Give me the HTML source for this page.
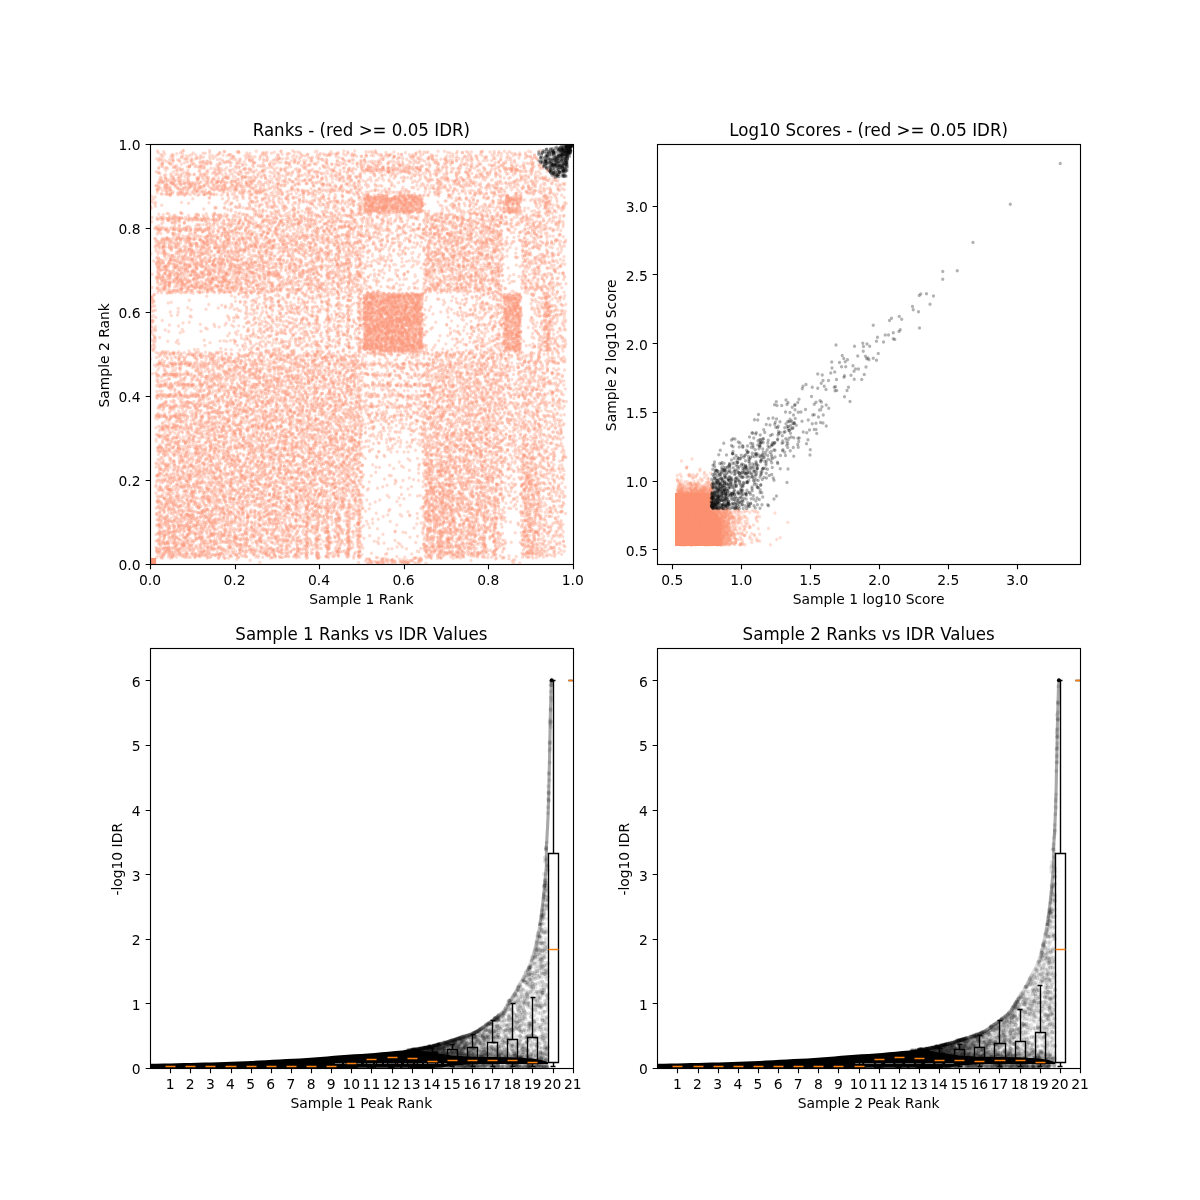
<!DOCTYPE html>
<html><head><meta charset="utf-8"><title>IDR plots</title>
<style>
html,body{margin:0;padding:0;background:#fff}
svg{display:block}
.t10{font:13.889px "DejaVu Sans","Liberation Sans",sans-serif;fill:#000}
.t12{font:16.667px "DejaVu Sans","Liberation Sans",sans-serif;fill:#000}
.sp{fill:none;stroke:#000;stroke-width:1.111;stroke-linejoin:miter}
.tk{fill:none;stroke:#000;stroke-width:1.111}
</style></head><body>
<svg width="1200" height="1200" viewBox="0 0 1200 1200">
<rect width="1200" height="1200" fill="#fff"/>
<defs><clipPath id="c1"><rect x="150" y="144" width="422.73" height="420"/></clipPath><clipPath id="c2"><rect x="657.27" y="144" width="422.73" height="420"/></clipPath><clipPath id="c3"><rect x="150" y="648" width="422.73" height="420"/></clipPath><clipPath id="c4"><rect x="657.27" y="648" width="422.73" height="420"/></clipPath></defs>
<g clip-path="url(#c1)"><rect x="150" y="557.91" width="6.13" height="6.09" fill="#fc9677"/><g transform="scale(0.25)" fill="none" stroke="#fc9272" stroke-opacity=".33" stroke-width="13.2" stroke-linecap="round" stroke-linejoin="round"><path d="M1994 613zm-3 8zm-126-15zm-140 13zm-13-11zm-21 10zm-9 5zm-218-16zm-90 9zm-21-4zm-3 2zm-146 4zm-29 4zm-17-8zm-9 6zm-98-9zm-212-9zm-184 5zm-25-3zm53 23zm36 19zm7-17zm11 7zm27 10zm17-10zm46 9zm106-20zm23 20zm4-10zm37-10zm13 13zm99 1zm61-12zm27 6zm70-5zm41 16zm61-10zm109 13zm35-3zm18-14zm6-2zm41-2zm169 15zm17-4zm19 4zm4-16zm13 1zm10 0zm75 6zm5 7zm90-4zm52-10zm99 9zm18 4zm8 25zm-33-12zm-42 16zm-167-7zm-7 2zm-24 4zm-103-7zm-63 0zm-3-7zm-48 19zm-23-2zm-1-19zm-2 17zm-30-11zm-8 4zm-71 10zm-75-15zm-11 5zm-2-7zm-91 9zm-25-5zm-96 4zm-4 3zm-7 6zm-69-18zm-9-4zm-41 4zm-13 18zm-11-11zm-2 11zm-36-7zm-25-11zm-60 18zm-6-20zm-3 2zm-48-1zm-30 13zm0-5zm-25-4zm-10-2zm-31 10zm-52-14zm-50 19zm-49-3zm8 10zm4 7zm197 5zm42 6zm46-2zm50-17zm40 17zm42-3zm30 2zm13-15zm206 5zm21 13zm23-20zm35 12zm87-4zm1 12zm16-12zm4-3zm33 9zm7 0zm34-13zm0 21zm16-13zm32-6zm15 3zm7 2zm45-4zm40 11zm44 6zm18-20zm26 21zm34-22zm43 10zm13 12zm6-4zm53-2zm78 1zm104-16zm5 0zm23 7zm20 15zm12 23zm-42-11zm-40 4zm-200-2zm-34-4zm-30 1zm-25 12zm-108-18zm-20 19zm-142-18zm-7 11zm-46 1zm-102-5zm-26-6zm-12 9zm-23-5zm-12-9zm-6 8zm-19 0zm-1 10zm-81-12zm-47-1zm-8 1zm-47-7zm-16 6zm-24 13zm-10-8zm-16-2zm-18 8zm-46-10zm-101 9zm-88-12zm-2 9zm-47-13zm-55 3zm-39 2zm-22 10zm-20-4zm4 13zm57 2zm2 17zm9-18zm12 15zm30-4zm11 6zm32-10zm29-2zm38 4zm32 10zm33-2zm25-9zm43 9zm8-8zm106 3zm12 9zm3-2zm10-6zm69-11zm47 19zm14-11zm62-3zm42-4zm62-2zm29 4zm37 10zm10 7zm24-23zm143 1zm81 16zm41 3zm21-15zm35 13zm21 4zm19-10zm54 9zm4 1zm2-7zm22 7zm6-13zm2 8zm91-15zm50 4zm17 8zm82-13zm23 33zm-48-3zm-27 1zm-31-8zm-27 13zm-8 8zm-128-16zm-27-4zm-26 4zm-2 2zm-65 10zm-3-13zm-59 11zm-44-1zm-18-4zm-123-6zm-57 7zm-90 12zm-63-5zm-41-13zm-18-2zm-6-1zm-5 18zm-5-9zm-12 3zm-84 4zm-108-3zm-41-7zm-44 13zm-23-11zm-27-10zm-24 0zm-78 12zm-27 2zm-63-11zm-17 8zm-27 5zm-7-15zm-26 12zm-10-9zm-47 12zm1 16zm20-3zm38-3zm70 10zm11-13zm20 9zm2-5zm14-4zm100 11zm89 9zm66-7zm15 1zm16-5zm91-6zm35 2zm13 6zm80 9zm27-1zm60-18zm39 14zm37 8zm28-3zm13-6zm35 4zm7-2zm4 0zm4-12zm2 11zm13 5zm25 1zm25-5zm15 3zm61-17zm3 9zm11 0zm73 13zm13 0zm61-9zm36-6zm47 1zm50 9zm11 4zm22-2zm55-15zm103 15zm-39 5zm-62 8zm-39-6zm-9 12zm-22-9zm-3 12zm-12-9zm-4 2zm-8-5zm-14 10zm-8-11zm-30 6zm-20-10zm-73 12zm-14-11zm-30-1zm-23 22zm-122 0zm-2-19zm-5 11zm-8 4zm-15 4zm-4-13zm-12 9zm-14-16zm-10 11zm-15 7zm-25-10zm-6-6zm-1 6zm-2-3zm-3-2zm-1 6zm-2 2zm-21-14zm-8 8zm-27-5zm-1 1zm-4 0zm-9-4zm-15 22zm-8-19zm-57 10zm-8-6zm-10-1zm-28 3zm-25 4zm-46-6zm-50 3zm-34-9zm-84 16zm-38-7zm-76 6zm-104-6zm-303 6zm-9 26zm1-9zm318-8zm147-1zm62 4zm19 12zm26 2zm4 0zm1 5zm59-7zm5 1zm59-8zm10 7zm85-14zm64 21zm13-17zm1-1zm17 6zm12-1zm1 3zm7-2zm19 10zm5-10zm6-11zm3 14zm18-5zm22-1zm1 9zm0-8zm1 7zm9-3zm2 5zm4-4zm4 4zm29-3zm1-13zm9-3zm1 10zm5 7zm38-14zm112 2zm9 4zm18 11zm8-19zm59 10zm36-3zm7-7zm17 10zm6-2zm65 9zm6-3zm6 8zm6-4zm24-7zm0-10zm10 18zm2-5zm73 19zm-72-5zm-14-4zm-18 8zm-1-7zm-3 5zm-30 2zm-9 14zm-108-14zm-102 9zm-37-2zm-15 5zm-58-15zm-48-5zm-51 4zm-18 5zm-12 8zm-4-12zm-8 2zm-12-7zm-2 1zm-87 17zm-38-16zm-32 1zm-32-3zm-149 10zm-151 11zm-100-13zm-242 12zm-61 14zm4 3zm27-2zm4 2zm38 5zm1-14zm35 7zm6 6zm27-13zm11 9zm13 1zm17 7zm47-1zm60-4zm84 0zm192 5zm49-5zm29 4zm107-20zm27 18zm4-2zm23-5zm157 8zm3 2zm42-17zm57-3zm2 1zm51 18zm59-15zm14 1zm78 1zm60 13zm15-6zm24-11zm19 2zm23 11zm40 6zm20-11zm39 9zm95 3zm10-2zm-63 5zm-67 18zm-123-6zm-2 2zm-11-4zm-25 9zm-22-1zm-32-17zm-17 13zm-16-5zm-26-8zm-38 1zm-11 4zm-28-8zm-42 15zm-49-6zm-89 6zm-71-5zm-46-6zm-47-2zm-30 7zm-17 7zm0-11zm-16 13zm-37-17zm0 15zm-20-13zm-69 15zm-45-10zm-57-3zm-19 0zm-4 10zm-26 2zm-56-1zm-39-10zm-96 1zm-2-2zm-19 15zm-49-15zm-37 4zm-50 13zm-40-23zm-11 3zm-46 27zm21-1zm54 17zm2-8zm0-2zm16-7zm10 1zm19 1zm61-3zm79 11zm2 0zm26-3zm15 9zm34-12zm30 14zm30-13zm59 2zm4-3zm23 6zm8 5zm183-7zm117 6zm5-2zm7 4zm30 2zm83-9zm55 1zm58-14zm19 6zm13 8zm16-12zm1 21zm22-1zm6-19zm40 2zm34 10zm19 3zm1-9zm13-6zm0 3zm11 11zm58 1zm76 2zm112-1zm23-6zm104 12zm-19 20zm-9-13zm-25 6zm-53 1zm-183 0zm-10 5zm-95-2zm-12-5zm-36 7zm-42-8zm-5-5zm-10-6zm-3 15zm-23-9zm-25 7zm-5-2zm-56 5zm-75-15zm-9 8zm-157 9zm-40-13zm-5 5zm-3 11zm-90-18zm-28 9zm-9-1zm-3-7zm-8 9zm-15-7zm-41 0zm-10-1zm-90-2zm-44 1zm-4 10zm-26 7zm-28-15zm-31 12zm-9 1zm-35-3zm-27 3zm-14-14zm-38 0zm-25-6zm-7 14zm-6-3zm-31 8zm-28-14zm-67 21zm29 10zm22 8zm76-15zm20 8zm11-1zm21 0zm8-7zm2 8zm51 3zm29 5zm1-8zm0-6zm63 4zm114 2zm48-10zm5 3zm76 13zm43-11zm45 2zm5-8zm40 8zm54-11zm161 5zm14 17zm7-8zm30-3zm5 4zm224-4zm14 0zm65-8zm9 7zm52-8zm85 4zm21-6zm44 9zm39 13zm46-12zm25 26zm-45 4zm-29-7zm-7-4zm-163 3zm-185 3zm-14 9zm-35 1zm-40-7zm-17 3zm-1-5zm-95-10zm-124 15zm-45 5zm-3-2zm-15 3zm-1-11zm-17 3zm-34 1zm-9-14zm-4 12zm-80 7zm-26-17zm-45 6zm-72-4zm-9 6zm-155 4zm-2-1zm-35 5zm-7-20zm-16 9zm-56 11zm-19 3zm-48 0zm-3-3zm-9-7zm-32-11zm-17 13zm-64-13zm-13 10zm-16 9zm32 3zm85 14zm21 1zm37-1zm7-6zm25-5zm45-2zm82 13zm21-14zm46 18zm76-3zm62-1zm12 5zm130 4zm46-19zm36 9zm12 0zm91 3zm0-7zm68 0zm156 12zm7-12zm53-2zm78 16zm49-21zm29 12zm21-4zm2-1zm109 11zm169 23zm-4-8zm-16 3zm-29 1zm-65-2zm-24-12zm-144 23zm-33-16zm-53-2zm-11 7zm-35 3zm-41-14zm-25 5zm-19 2zm-3 10zm-7-10zm-16-4zm-30 11zm-27-16zm-121 1zm-59 14zm-77-10zm-38 0zm-3 18zm-4-12zm-39-4zm-20 8zm-49 0zm-137 6zm-32-3zm-59 4zm-25-2zm-91-14zm-11 15zm-13-4zm-2-1zm-15 3zm-19-6zm-7-6zm-24 7zm-42-5zm-6 0zm-23-4zm-5 12zm-48 5zm-44-18zm-1 12zm-9 6zm7 18zm7-13zm0 20zm20-15zm14 2zm27 0zm19 14zm38-15zm3-3zm23-4zm28 8zm10 11zm4-2zm5-15zm3 15zm27-15zm56 16zm12-4zm12-6zm1 10zm30-19zm24-1zm4 14zm35-6zm19 2zm19-4zm14 9zm36-14zm35 14zm44-6zm7-2zm40 15zm17 0zm8-11zm12 12zm92-2zm45-7zm16-14zm215 5zm41-5zm100 8zm17-4zm23 3zm36-3zm18 9zm13 3zm45-8zm37 5zm10 3zm119 2zm36-4zm68-9zm22 5zm17 37zm-81 0zm-7-1zm-70-2zm-87 1zm-18-18zm-29 12zm-36 6zm-25-10zm-174 9zm-20-7zm-91 2zm-35-1zm-139-4zm-9 4zm-5 9zm0-16zm-29 7zm-148 1zm-81-13zm-56 16zm-27 1zm-15 3zm-91 1zm-46-1zm-5-6zm-14 2zm-19 4zm-24-8zm-1-2zm-68-4zm-38-5zm-88 21zm-23-9zm-12 17zm2 11zm64-16zm9 18zm55-10zm11 1zm20 10zm4-17zm16 13zm43-2zm44 3zm41-3zm58-9zm8-4zm16 5zm24 0zm91 3zm12 9zm19-11zm150 12zm89-14zm137 6zm58 0zm107-11zm71-1zm21 3zm58 3zm11 3zm3-9zm16 13zm35-5zm31 7zm14-4zm11-9zm82-1zm16 17zm39-3zm2-6zm7-4zm35 12zm55 11zm-50 12zm-59 3zm-20-15zm-2 4zm-106-4zm-5-1zm-27 20zm-117-15zm-40 11zm-52-12zm-15 15zm-5-22zm-32 3zm-4 13zm-32-14zm-65 10zm-13-7zm-231 14zm-3-15zm0-2zm-25 3zm-46 17zm-1-10zm-33-1zm-9-7zm-16 4zm-10 6zm-53-12zm-2 3zm-35 10zm0 6zm-1 1zm-34-16zm-84-3zm-16 5zm-46 7zm-78-2zm-12 8zm-3-18zm-10 14zm-6 2zm-14-14zm-116 7zm-3 6zm-20 0zm-5-10zm-5-7zm-34 25zm3 5zm1-5zm23 5zm13 4zm16 4zm21-8zm16 6zm101-5zm13-5zm6 3zm48 11zm60 4zm6-11zm3-11zm49 1zm19 15zm35-2zm16-8zm76 11zm23 2zm2-10zm11-5zm2 7zm30 1zm76-4zm34-6zm62 14zm1-5zm40 11zm28-4zm41-5zm97 10zm99-17zm32 3zm50 3zm6-12zm20 9zm16 7zm18-2zm20-4zm35-8zm2 0zm9 6zm23 5zm82-12zm85 7zm28-5zm9 6zm73 0zm42 33zm-47 3zm-17-9zm-13 6zm-45-12zm-50 12zm-2-6zm-4-10zm-9 8zm-4 8zm-12-7zm-7 12zm-3-10zm-7 6zm-32-13zm-21 6zm-76-2zm-37-10zm-183 8zm-2 9zm-6-6zm0 5zm-10-14zm-3 15zm-5-5zm-17 0zm-4 9zm-1-1zm-5-10zm-28-8zm-1 5zm-2 0zm-7 4zm-11-6zm-4 5zm-8 1zm-10-8zm0 15zm-4-18zm-1 18zm-2-10zm-5 1zm0 12zm-2-13zm-5 8zm-4-13zm0 12zm-5 6zm-11-18zm-33 17zm-1-7zm-6-10zm-3 0zm-2 15zm-2-12zm-7 6zm-3 6zm-9 0zm-25-6zm-37-2zm-45 7zm-13-17zm-22 20zm-80-9zm-310-4zm-324 10zm3 11zm10 0zm142-3zm298 13zm60 7zm33-10zm287 7zm41 0zm1-5zm3 11zm0-12zm27-4zm3 5zm3 0zm3-1zm5 5zm0-13zm1 15zm6-5zm3-4zm16-5zm1 12zm10-13zm3 6zm2-10zm3 2zm4 8zm5-4zm5 5zm48 10zm16-9zm3-2zm16 13zm4-9zm7-9zm9-4zm123 2zm87 19zm28-6zm24-2zm42-13zm37 18zm32-5zm12 7zm2-8zm110 6zm13-4zm26 7zm42 23zm-16-2zm-50-11zm-18 1zm-40 2zm-65 0zm-10-9zm-2 21zm-8 1zm-1-5zm-11-7zm0-1zm-18 13zm-13-21zm-70 11zm-254-11zm-25 6zm-14-5zm-19 1zm-33-1zm-16 14zm-3-17zm-14 18zm-27 0zm-5-11zm-10 9zm-2 1zm-15-1zm-14-4zm-14-2zm-16-2zm-133-8zm-46 15zm-32 4zm-27 3zm-17-4zm-15-7zm-13 0zm-43 0zm-42 3zm-39 6zm-21-11zm-1-10zm-12 15zm-30-5zm-274 14zm-99-4zm9 26zm287-6zm109 6zm53-5zm9 6zm75-2zm93-7zm124 9zm22-5zm48-6zm23-12zm29 3zm46 8zm6-6zm11 18zm0-8zm2-14zm4 18zm11-4zm3 1zm7-16zm37 14zm33 0zm16-12zm15 3zm5 5zm165-6zm24 8zm13-5zm125 5zm8-4zm21 3zm3 6zm9 4zm10-13zm81 6zm26 2zm9-13zm14 11zm-14 32zm-108-10zm-18-7zm-2 11zm-25 7zm-69-22zm-274 15zm-5 1zm-6 6zm-9-18zm-10 18zm-20-7zm-13-10zm-8-6zm-9 2zm-5 1zm-2 14zm-17-15zm-11 7zm-41 4zm-1-11zm-4 11zm-1 3zm-1-4zm-29 0zm-14 5zm-3 6zm-9-4zm-3-16zm-4 9zm-2 0zm-69-1zm-37 3zm-40 0zm-1-1zm-102-10zm-57 19zm-13-10zm-69 10zm-157-15zm-310 12zm477 11zm65 6zm37-1zm77-10zm14 11zm22 0zm10-4zm101 0zm33-3zm27 14zm4-12zm1 13zm25-9zm12-10zm1 11zm8-3zm1 11zm12-17zm14 9zm23 3zm13-5zm7-5zm6 12zm25-14zm2 1zm3 2zm3-2zm6 7zm5-8zm24 15zm13 1zm1 0zm51-5zm238 4zm37-15zm6 13zm5 4zm6 3zm2-5zm9-17zm0 8zm9 7zm4-12zm20 2zm8 16zm3-19zm0 18zm84-9zm5-11zm22 13zm9 10zm34 9zm-16 8zm-2-16zm-21 12zm-13-1zm-26 3zm-69-8zm-5 14zm0-12zm-5-7zm-11-1zm-10 5zm-2 11zm-7-12zm-28 14zm-20 2zm-287-14zm-9 13zm-36 3zm-5-6zm-7 2zm-13-13zm-1 7zm-5-1zm-22 1zm-1 8zm-3-10zm-4-5zm-26-4zm-2 3zm-8-4zm-9 7zm-19 12zm-21-3zm-12-9zm-4 1zm-22-1zm-13 16zm-11-2zm-38-7zm-46 5zm-59-9zm-2 2zm-3-11zm-135 18zm-64-3zm-497 27zm99-3zm196 5zm33-2zm219-2zm0 0zm2 2zm40-9zm86 11zm31-19zm140 4zm2 5zm4-5zm8 8zm16-10zm4 15zm12-5zm8-10zm5 11zm9 2zm6-1zm3-1zm12 8zm3-12zm1-6zm16 4zm33 12zm1-17zm11 8zm20 10zm2-13zm31-7zm17 9zm0-7zm4 18zm243-12zm51 6zm9-6zm41-9zm28 8zm5 8zm3 2zm2-18zm110 22zm14-18zm15 5zm53 30zm-27 2zm-37 1zm-2-6zm-1 3zm-1-6zm-112 6zm-4-8zm-40 8zm-5-6zm-5 12zm-11-14zm-159 0zm-168 15zm-10-4zm-29-6zm-7 0zm-12 4zm-12-1zm-3 1zm-4-12zm-10-4zm-3 15zm-11-13zm-8 18zm-9-21zm-23 6zm-6 13zm-18 1zm-32-13zm-4 6zm-1 0zm-4 4zm-6 5zm-2-8zm-5 4zm-2-14zm-3 17zm-5-13zm-4 6zm-12 4zm-45 0zm-41-7zm-1 2zm0-4zm-11-9zm-18 16zm-19-14zm-39 12zm-22 5zm-39 4zm-1-21zm-55 18zm-89-14zm-14 12zm-438-5zm45 32zm9-2zm7-5zm3 6zm18 0zm129-4zm46 4zm9-5zm122 6zm34-21zm34 11zm11 10zm13-1zm12-5zm15 4zm52 2zm1-10zm79 2zm22 4zm12-8zm114 6zm40 3zm4-2zm80-5zm1-5zm1-1zm24-4zm1 12zm9 5zm6 3zm2-17zm31-5zm13 6zm40-2zm4 4zm6 6zm2-1zm1-4zm3-7zm13 0zm32 20zm60-18zm66 17zm15 2zm3-4zm25 0zm58-2zm9 4zm5-17zm4 3zm40 0zm8 12zm24-11zm3-3zm48 3zm57 13zm29-16zm27 9zm25-12zm-64 40zm-81 0zm-4-14zm-32 13zm0-15zm-13 16zm-89-9zm-84-8zm-13 14zm-37-9zm-54 15zm-2-16zm-47-2zm-234 5zm-90 6zm-14-10zm-28 5zm-84 14zm-46-18zm-1 14zm-24-15zm-24 10zm-2-7zm-25 15zm-8-17zm-33 5zm-87 12zm-4-14zm-80 2zm0 1zm-1 10zm-13-3zm-47-7zm-50-8zm-21 13zm-3-3zm-3-8zm-21-4zm-67 22zm-2-7zm-41 17zm112 13zm5-6zm27-7zm14 11zm28 2zm41 0zm147-2zm82-10zm95 12zm9-20zm60 22zm41-21zm15 13zm26-2zm69 4zm34-15zm88 19zm78-8zm48 7zm47-3zm6-3zm82 6zm106-6zm21 8zm12-5zm0 1zm15-6zm95-1zm97 2zm64-9zm50 35zm-43-5zm-144-5zm-46-3zm-39 3zm-44-1zm-21 9zm-10 9zm-10-9zm-10 1zm-18-11zm-4 4zm-71-5zm-22 19zm-11-4zm-40-5zm-53 2zm-18 2zm-40-8zm-212-2zm-23-2zm-1-2zm-167 18zm-3-19zm-13-1zm-119 2zm-37 7zm-58-5zm-8-2zm-51 9zm-11 6zm-32-14zm-43 18zm-1-7zm-2-4zm-14-5zm-35 14zm-93-13zm-55 33zm22-6zm11-5zm23 5zm29 10zm18-12zm12 2zm96 2zm26-6zm31 7zm4-10zm36 20zm74-8zm25 8zm87-16zm17 8zm23-3zm11 3zm28 7zm19-9zm13-9zm15 13zm10 5zm7-10zm13 9zm1-16zm0 13zm45-1zm14-12zm10 1zm28-4zm24 9zm7 0zm11 9zm63-9zm7 9zm2-15zm1 3zm60 2zm5-4zm33 6zm73 5zm3-5zm72 3zm25 5zm2-11zm17-7zm26 21zm26-6zm74-17zm36 5zm175 0zm9 15zm32-2zm12 6zm33-21zm14 15zm2-8zm-1 15zm-4 18zm-26 3zm-29-1zm-16-8zm-68 8zm-17-8zm-92-7zm-16 0zm-16 2zm-66-4zm-5 2zm-59 0zm-4 9zm-13-15zm-19 12zm-6-3zm-144 14zm-75-5zm-96 5zm-53-6zm-168-3zm-16-11zm-97 3zm-12 8zm-13-7zm-72-7zm-27 16zm-18 0zm-52 8zm-73-5zm-6-12zm-64 1zm-17-6zm-35 2zm-23 14zm-47 10zm14 12zm6-15zm6 12zm32-12zm2 3zm120 9zm36 6zm7-8zm67 2zm9 6zm52-10zm3 4zm2-12zm8 1zm37 20zm11-8zm7-4zm173-7zm37 17zm32-4zm8-14zm28 15zm0-1zm85 7zm13-15zm37 13zm38 2zm14-6zm11-8zm17 13zm12-17zm59 6zm60-9zm23 21zm9-8zm13-1zm30-13zm241 9zm0-5zm17-2zm18-3zm1 3zm14 18zm28-6zm7 5zm1-10zm44-2zm22-3zm60-2zm21 1zm-45 28zm-51 7zm-35 1zm-47 7zm-95-15zm-68-7zm-12 19zm-1-11zm-77-4zm-3 0zm-8 15zm-43-14zm-54 12zm-4 0zm-19 3zm-87 3zm-143-10zm-29 3zm-29-7zm-12-8zm-72 4zm-37 8zm-20 0zm-41-11zm-2 5zm-41 15zm-1-12zm-23 2zm-4-8zm-12 6zm-9-10zm-16 19zm-19-14zm-24-6zm-77 22zm-12-11zm-18 5zm-30-9zm-21 5zm-41-11zm-33 8zm-8 11zm-72 4zm-35-4zm-10-14zm-13 16zm-3-21zm-20 18zm-30 4zm-8-19zm-1 20zm7 1zm30 0zm15 1zm64 4zm41 12zm2-10zm15 6zm3-7zm44-7zm1 9zm8 8zm20-3zm3 4zm94-16zm29 4zm18-2zm24 8zm14 10zm44-9zm10-3zm12-1zm3 2zm2 9zm24-14zm45 1zm1 4zm6 10zm38-1zm104-12zm20-2zm25 4zm1 1zm6-2zm21-5zm46-1zm7-1zm17 1zm47 20zm61-22zm22 1zm13 10zm22-8zm57 2zm30 10zm19 1zm65 1zm83-10zm82 14zm16-7zm35-5zm184 34zm-61-7zm-39 8zm-29-9zm-37-4zm-58 0zm-7 7zm-60-15zm-38 12zm-2-3zm-19-7zm-32-1zm-36 19zm-1 3zm-9-15zm-7 10zm-55 5zm-36-3zm-11-19zm-2 8zm-11 6zm-49-4zm-12 10zm-82 2zm-54-8zm-8 0zm-24-4zm-9 9zm-49 4zm-26-14zm-56 3zm-26-8zm-94 5zm-127-5zm-43 10zm-6-13zm-73 6zm-16 15zm-28-16zm-53 1zm-26-2zm-6 8zm-73 2zm-12-14zm-43 17zm-2-15zm-10 17zm-34-12zm-14 15zm5 2zm0 1zm105 5zm103-7zm9 16zm1-5zm85 0zm34-6zm112 0zm2 13zm27 4zm48-7zm9 1zm14-17zm15 1zm25 9zm58-5zm2 9zm43-3zm22 0zm17 8zm66-11zm24-4zm1 5zm27 10zm142 4zm11-18zm67-3zm25 19zm78-7zm20-6zm3-5zm29 19zm59-20zm118 12zm140-10zm32 30zm-43 12zm-10 1zm-25-22zm-1 4zm-52 15zm-71-10zm-37-5zm-43 9zm-61-9zm-22 2zm-54 15zm-26-9zm-5 9zm-42-9zm-5 9zm-28-14zm-60 5zm-51-3zm-36-5zm-11-1zm-31 12zm-21-6zm-5-7zm-20 19zm-20-19zm-17 5zm-110-1zm-157-5zm-30 22zm-1-15zm-12 10zm-13 5zm-5-20zm-61 8zm-134 8zm-84-2zm-60-6zm-66 3zm-54-12zm-4 4zm72 39zm12-16zm16 1zm9 2zm11-1zm20-6zm29 17zm11-9zm39-1zm9 6zm86-5zm6 10zm92-10zm11 12zm1 0zm75-2zm32-4zm41-13zm6 17zm19-9zm11-9zm113 13zm23-7zm6 12zm30-13zm139 0zm191-1zm23 16zm43-10zm91 8zm12-12zm103 1zm3 3zm83-1zm15 9zm31-3zm17 2zm79 5zm-40 13zm-82 5zm-30-2zm-79 5zm-21-17zm-7 9zm-34-6zm-18 16zm-103-3zm-11-17zm-35 20zm-33-19zm-17 4zm-11 2zm-22 7zm-25-5zm-143 10zm-115-1zm-15-1zm-258-4zm-27-4zm-21-11zm-4 7zm-81-3zm-18 10zm-24 5zm-41-4zm-28-14zm-4 9zm-50-11zm-126 0zm-15 3zm-27 6zm-21 5zm-21 23zm46 1zm23 9zm57-22zm30-1zm92 22zm48 0zm7-4zm32 2zm41-6zm8-3zm29-3zm8-5zm37 18zm50-2zm9 0zm14-18zm7 5zm37 15zm17-15zm4 13zm3-17zm12 10zm56 4zm10-13zm118 6zm18 5zm246-6zm51-4zm1 13zm5-10zm8 0zm83 13zm31-12zm27-4zm20-3zm27 16zm5-8zm16 14zm16-13zm82 8zm31 4zm53 2zm1-9zm33-5zm32 35zm-77-20zm-7 9zm-18-4zm-10 4zm-58-6zm-36 11zm-8-8zm-56 13zm-39-10zm-60 2zm-36 5zm-158 2zm-18-2zm-25 4zm-86 0zm-39-9zm-9-1zm-51-3zm-31-7zm-13 2zm-13 1zm-15 8zm-11-7zm-3 12zm-31-1zm-21 0zm-30-11zm-4-3zm-10 4zm-15 13zm-13 4zm-19 1zm-39-5zm-12-4zm-23-3zm-36 9zm-40-11zm-2-6zm-114 17zm-21 2zm-39-16zm-31 0zm-59 1zm-28 7zm-3 9zm-72-18zm-25 32zm67 1zm12 5zm79-4zm3-11zm41 15zm9 2zm6-6zm34-14zm66-1zm14 21zm12-10zm8-1zm9-4zm24 10zm3-8zm7 12zm5-2zm7-17zm14 0zm59 16zm45-18zm2 10zm71 10zm84-15zm12 13zm2-9zm34 2zm37 7zm23-13zm269 15zm55-1zm4-18zm10-1zm57 7zm11 15zm49-21zm18 12zm18-2zm48 5zm6-9zm44-3zm8 19zm1-23zm91 18zm11-18zm100 8zm-55 28zm-23-11zm-69 13zm-76-14zm-43 21zm-43-17zm-1 7zm-107-6zm-15-2zm-169 5zm-153-8zm-33 15zm-2 5zm-6-17zm-20 17zm-24-10zm-298 9zm-18-17zm-68 9zm-13 0zm-24 8zm-65 2zm-17-6zm-51-12zm-1 18zm-89 2zm-53 0zm-44-8zm-24-11zm97 29zm42 1zm26 9zm8-6zm43-5zm2 4zm46-10zm31 14zm33 6zm58-16zm7-4zm13 5zm47-1zm93-3zm49 14zm53-15zm9 19zm13 1zm20-4zm35 0zm32-15zm28 14zm3-4zm357 9zm10 2zm40-20zm12 10zm21-4zm9-3zm38-4zm35 17zm109-9zm76 1zm7-10zm4 9zm41 10zm39-20zm22 20zm-22 14zm-40 12zm-8-6zm-28-9zm-47 5zm-7 4zm-76-7zm-43 11zm-38 0zm-6-20zm-50 20zm-16-6zm-18 2zm-73 6zm-23-10zm-17-6zm-24 3zm-4-7zm-207 8zm-69-5zm-23 7zm-2 8zm-17-17zm-64-1zm-9 18zm-24-3zm-71-16zm-26 9zm-10 2zm-13-2zm-9 3zm-18 2zm-13-4zm-76-8zm-28 13zm-96-14zm-3 17zm-41 0zm-3-15zm-34 8zm-75 3zm-15-12zm-14 17zm-40-17zm-33 15zm-25 27zm54-1zm68-7zm1 6zm51-20zm50 4zm18 7zm47 6zm8 3zm7-15zm0 3zm17 12zm4-11zm22 5zm39 5zm32-2zm89 2zm16 4zm22-11zm5 7zm8 2zm5-21zm31 9zm11-6zm113-1zm14 3zm21 0zm49 9zm3 3zm58 0zm171 4zm30-3zm91-14zm5 8zm25-9zm14 10zm27-4zm58-2zm17 2zm45-5zm11 2zm37-5zm95 8zm13-4zm37-3zm59 3zm-63 21zm-73 17zm-131-2zm-22 2zm0-2zm-54-4zm-7 0zm-13 4zm-36-6zm-87-6zm-6 14zm-35 3zm-15-16zm-211 1zm-42 7zm-17-13zm-22 1zm-95 20zm-8-13zm-14-8zm-25 18zm-2-4zm-36-6zm-21-2zm-39 8zm-25 2zm-28-12zm-30 15zm-43-10zm-68 7zm-1-3zm-33-1zm-76 3zm-2-5zm-8 3zm-130-6zm-4 0zm-35 6zm-5-1zm-46-8zm39 41zm41-17zm1 15zm9-8zm16 12zm17-18zm22 12zm8 3zm4-9zm89-2zm44-2zm42 1zm37-6zm1 12zm9-11zm71 10zm34-5zm69-2zm13 7zm51-2zm88 2zm44 6zm205-14zm138 4zm28-4zm36 14zm11-3zm14 5zm76-18zm30 4zm0-5zm71 14zm32-5zm100-5zm4 11zm13-17zm19 14zm61-14zm-6 24zm-17 8zm-108-8zm-40 9zm-25-4zm-43 4zm-15 0zm-10 6zm-64 5zm-42-17zm-71 16zm-17-19zm-8 16zm-12-11zm-5 17zm-12-12zm-1 11zm-16-21zm-59 2zm-177 13zm-16-14zm-28 7zm-1-8zm-39 14zm-19-3zm-9-4zm-37 13zm-12-2zm-14 1zm-5-17zm-3 17zm-12-9zm-18 3zm-18-4zm-16 13zm-7-9zm-10 4zm-12-14zm-26 14zm-96-10zm-14 12zm-23-7zm-2 3zm-12-4zm-78 7zm-12-12zm-70 10zm-6-4zm-51 5zm-3-13zm-19 10zm-1-11zm-57 0zm-43 18zm-39-18zm-10 7zm-8-9zm111 44zm31-16zm2 9zm5 2zm3-13zm61 16zm11-20zm49 17zm46-3zm17 9zm20-1zm97-9zm19 4zm4-16zm19 0zm28-1zm43 22zm31 0zm39-11zm20 0zm13 9zm42-12zm215 5zm7 8zm83-9zm56 9zm13-13zm37 9zm11 7zm20-13zm9 9zm54-15zm20 14zm32-2zm60-3zm25 9zm85-23zm8 21zm22 0zm5-5zm98-8zm60 14zm-30 15zm-24-11zm-58 6zm-4 6zm-13-6zm-1-2zm-10-1zm-8-1zm-45-2zm-17 15zm-52-12zm-32 17zm0-22zm-44 23zm-7-4zm-37 4zm-9-20zm-71 3zm-24 17zm-26-13zm-32 2zm-122 2zm-141 9zm-141-2zm-1-11zm-71 10zm-48-3zm-78 0zm-57-12zm0 17zm-1-21zm-27 15zm-90-13zm-16 7zm-1 4zm-14-2zm-65-2zm-11-7zm-8 1zm-10 8zm-5-7zm-93-1zm-14 14zm-59-5zm-8-1zm3 26zm47 6zm5 2zm67-7zm24-13zm20 6zm1 5zm7-4zm25 14zm27 0zm17-13zm101 5zm1-3zm12-10zm108 2zm11 4zm44 3zm80 9zm18-3zm21 7zm15-9zm43-14zm70 1zm4-1zm39 10zm8-6zm249 6zm7-8zm37 15zm17-12zm25 4zm15 7zm6 4zm6-15zm17 12zm52-1zm8-4zm1 5zm124 4zm6-7zm84-14zm6 2zm24-3zm57 22zm21-3zm32 13zm-58 15zm-43-6zm-3-8zm-17 9zm-12 3zm-22-9zm-4-5zm-87 4zm-45-2zm-12 14zm-1-9zm-10-2zm-22 4zm-23-2zm-74-5zm0 1zm-36 4zm-43-12zm-24 5zm-2 4zm-34 3zm-114-10zm-118 15zm-3 3zm-47-10zm-40 0zm-23-1zm-12-2zm-35 10zm-86-1zm-20 3zm-16-7zm-48 5zm-12-14zm-9 10zm-11 2zm-9-14zm-24 2zm-5 10zm-20-12zm-2 5zm-25 12zm-74-11zm-34 8zm-16-13zm-27 15zm-16-16zm-10 1zm-47 16zm-14-16zm-18 3zm-78 4zm0-10zm-16 23zm-14-8zm8 25zm29 4zm7 2zm30-9zm6-10zm60 10zm22-4zm9 4zm3-8zm25-1zm7 15zm48-18zm6 8zm6 13zm1-12zm62-5zm67 17zm35-20zm140 14zm6-13zm70 3zm4 13zm34-16zm86 14zm14-8zm4 1zm298-9zm3 7zm8 7zm14-3zm7-1zm7-1zm35-1zm24 14zm30-22zm30 10zm9-6zm60 18zm24-5zm21 1zm20-7zm37 11zm63-7zm14-12zm21-1zm34 11zm52 2zm4 1zm15 30zm-4-23zm-7 5zm-42 15zm-20-9zm-4 11zm-36-21zm-11 16zm-47-7zm-96 5zm-85-15zm-12 12zm-25-6zm-39 0zm-47 8zm-8-5zm-14-9zm-161 11zm-109 11zm-42-13zm-37 14zm-5 0zm-3-16zm0 5zm-78 1zm-1 4zm-1-2zm-2 2zm-1 3zm-34-12zm-24 11zm-34-20zm-46 22zm-4-1zm-20 1zm-42-14zm-26-4zm-10 3zm-4 0zm-58 14zm-29-8zm-25-3zm0-5zm-27 15zm-71-16zm-2 20zm-42-23zm-28 22zm-15-21zm-69 15zm-2 5zm-40-15zm-15 33zm43 0zm72-5zm51 7zm19-7zm17 13zm22-1zm20-4zm14-3zm6-10zm29 3zm4 4zm4-6zm40 9zm2-15zm38 19zm14 1zm2-6zm32-3zm7-7zm7 19zm51-12zm17-3zm1 10zm74-2zm42-10zm29 6zm45 2zm10 3zm17 0zm26-4zm2-13zm12 13zm4 10zm16-16zm3 2zm256 7zm2-4zm79 3zm4 0zm28-10zm1 1zm21 8zm33 1zm20 1zm83-7zm24-9zm6 20zm20 1zm84-7zm26-2zm13-2zm7 6zm12 0zm2 7zm23-12zm69-8zm-38 39zm-37 4zm-4-3zm-48-14zm-4 5zm-2 10zm-20-17zm-4 19zm-244-1zm-3 1zm-9-6zm-41-1zm-4 6zm-40-9zm-20 5zm-2 1zm-17-3zm-39-7zm-138-8zm-53 6zm-23 10zm-25-12zm-40 11zm0 1zm-4-16zm-31 20zm-45-6zm-40 6zm-1-9zm-48-10zm-5 18zm-55-18zm-64 6zm-72-6zm-7 8zm-1-9zm-48 1zm-28 12zm-20-12zm-27 5zm-9 6zm-31-11zm-26-2zm-21 16zm-11 1zm-46-14zm-110 20zm0-17zm28 27zm24 3zm6-9zm34 2zm7 8zm13 6zm30 4zm72-3zm49-10zm13 6zm44 6zm71-21zm37 19zm70-17zm45 6zm10-3zm13-3zm2 8zm23 0zm51 6zm17 5zm10-19zm10 6zm8-1zm42 2zm19-7zm7 0zm10 4zm187 5zm114-10zm31 16zm11-9zm5 11zm6-5zm2 8zm2-1zm18-17zm7 18zm6-9zm52-1zm36-1zm14 11zm4-19zm42 16zm33-12zm113 10zm20-13zm39 11zm7-3zm21-7zm28 2zm12 39zm-39-3zm-29-10zm-1 6zm-18-9zm-138 1zm-13 14zm-31-11zm-4 12zm-74-20zm-11 3zm-15 3zm-15 11zm-2 2zm0-18zm-31 7zm-49-8zm-3 14zm-3-2zm-8-13zm-21 14zm-4 0zm-10-15zm-1 4zm-128 6zm-15 1zm-115 10zm-3-15zm-40 7zm-37-4zm-10 9zm-32-12zm-6 9zm-9-16zm-55 15zm-20-13zm-34 21zm-45-12zm-34 11zm-5-12zm-25-4zm-25 2zm-33 14zm-55-4zm-9 1zm-46-11zm-4 8zm-1 2zm-5 5zm-12-13zm-20-8zm-63 8zm-100 1zm-6-10zm-29 15zm-29 13zm8 11zm34-6zm1 8zm2-6zm27-9zm47 6zm14 14zm40-7zm12 5zm8 1zm5-10zm30-2zm10-6zm24 3zm13 7zm23-1zm1 1zm12-7zm6-2zm23 13zm18-15zm63-1zm12 9zm19 2zm31-8zm45 14zm9-8zm30-6zm14 11zm3-16zm0 22zm38-16zm6 0zm118-1zm26 3zm87 14zm154 1zm91-7zm53 3zm16-4zm5 7zm46-13zm40 2zm66-10zm130 19zm2-17zm0 7zm8-6zm17 1zm11 5zm-65 34zm-20-12zm-10 6zm-34-14zm-252 1zm-81 7zm-57 12zm-6-9zm-87 13zm-7-17zm-257-7zm-371 1zm-22 0z"/>
<path d="M2046 613zm-78 7zm-289-15zm-133 16zm-70-13zm-13 16zm-44-20zm-91 11zm-4-8zm-42 7zm-52 3zm-30-6zm-103-2zm-29 0zm-12 12zm-31-16zm-25 8zm-104-7zm-4 15zm-24-1zm-161-5zm-48 1zm151 32zm6 0zm112-16zm8-4zm68 18zm50-9zm16 2zm74-5zm21 10zm14 3zm2-11zm6-11zm17 4zm191 15zm94 0zm62-17zm43 4zm54 3zm1-7zm6 15zm27-7zm55 4zm44-7zm55 3zm15-1zm9-10zm78 6zm188 11zm-103 11zm-11 12zm-5-2zm-26-11zm-123 7zm-15 13zm-7-3zm-42-20zm-10 22zm-211-11zm-40 8zm-39-14zm-116 18zm-80-1zm0-3zm-106-14zm-104-2zm-5-3zm-112 13zm-51-10zm-123 20zm-38-8zm-62 4zm-57 27zm44 1zm36-15zm84 15zm58 0zm55-13zm56-4zm11-3zm13 3zm58-1zm9-4zm96 21zm11-7zm27-1zm45-3zm13 4zm8 7zm3-5zm12-15zm41 4zm3 2zm11 0zm43 6zm17-8zm79 3zm19 6zm26 3zm22-8zm13 5zm17 5zm0-9zm15-8zm54 14zm10-13zm14 12zm7 7zm44-12zm40-2zm83 9zm26-3zm18-7zm59-1zm7 12zm75-18zm25 8zm14-1zm10 1zm8 5zm136 26zm-37 5zm-64-13zm-8-1zm-22 5zm-160-6zm-53-3zm-45 4zm-62 10zm-42-8zm-2 12zm-13-2zm-31-15zm-71 11zm-77-9zm-29 2zm-4-6zm-53 16zm-16-4zm-84-8zm-51 14zm-36-8zm-58-5zm-14 15zm-18-17zm-197 11zm-114 5zm-19-6zm-41-2zm-7 2zm-39 2zm-8-7zm-47 1zm-21 35zm14-13zm9 8zm67-1zm4-1zm50 9zm35-17zm4 10zm30-6zm9-5zm49-2zm43 12zm54 8zm40-15zm57-5zm29 2zm63 8zm60 2zm117-13zm244 7zm43 6zm99-9zm43 9zm88-3zm47 10zm73-5zm15-3zm26-14zm80 19zm41-7zm36 10zm18-9zm-58 27zm-12-7zm-12 11zm-38-3zm-44-11zm-2 1zm-67-2zm-21 3zm-17 4zm-121-13zm-55 19zm-21 1zm-44-1zm-65-18zm-73 13zm-31-12zm-103-1zm-6 4zm-110 8zm-83 1zm-7 8zm-115-2zm-18-20zm-87 23zm-9-9zm-4 3zm-35-10zm-41 15zm-20-8zm-44 0zm-29-2zm-22 0zm-85-5zm-37 14zm-46-14zm-8 0zm-19 11zm-16-15zm-2 9zm40 20zm57-1zm3-2zm11 1zm30-2zm24 6zm34-6zm7-3zm48 11zm2-1zm77-5zm41 2zm111 15zm33-8zm26 5zm37-2zm27-13zm54 16zm77-4zm64 5zm13-18zm30 16zm5-1zm14-6zm39 3zm64-4zm38 9zm7 1zm16-5zm36-5zm100 2zm125-11zm12 20zm40-5zm22-4zm9 5zm132-16zm37 14zm27-15zm-7 40zm-33-15zm-82 5zm-10-3zm-1 5zm-13 0zm-11-1zm-10-5zm-30 9zm-8-2zm-3-2zm-208 3zm-102-7zm-6 2zm-10 0zm0 7zm-32 5zm-10 5zm-1-3zm-1-19zm-2 6zm-12-7zm-1 13zm-7-3zm-3 11zm-2-16zm-10 0zm-33 1zm-8 9zm-11 6zm-1-22zm-9 4zm-1 10zm-2-14zm-15 22zm-4-1zm-1-18zm0 18zm-22-14zm-10-4zm-89 21zm-17-1zm-14-5zm-40 1zm-69-4zm-26 1zm-1-3zm-60-4zm-27-4zm-77-1zm-48 10zm-74 6zm-12-20zm-161 21zm-141-17zm202 40zm184-15zm302 15zm139 0zm14-14zm6 3zm6-8zm1 1zm10 8zm1 0zm1 14zm10-18zm18 10zm10-13zm2 10zm10 11zm20-14zm17-1zm20-9zm12 4zm47 1zm10 0zm158 12zm26 4zm40-15zm54 11zm39-5zm43 1zm2 2zm15 5zm15 4zm23-10zm1 1zm3-12zm4 11zm104-2zm4 10zm4 0zm12-22zm11 4zm12 28zm-37-7zm-46 20zm-45-17zm-33 3zm-10-5zm-2 5zm-105 12zm-6 4zm-2 1zm-13-4zm-227-15zm-21 5zm-8 1zm-7-8zm-27 13zm-17-13zm-23 3zm-19 5zm-26 0zm-2 0zm-29-1zm-4-3zm-20-5zm-61 13zm-6 5zm-23-13zm-27 14zm-32-14zm-7 13zm-44-2zm-27 1zm-11-3zm-22-5zm-44-4zm-76 10zm-10-8zm-41-5zm-16 5zm-29-3zm-2 7zm-29 6zm-13-2zm-22-1zm-30-12zm-63 14zm-9 1zm-39 2zm-171 8zm38-4zm4 8zm8-4zm14 0zm12 4zm1 14zm37-15zm17 4zm36 4zm9-7zm35 4zm23 3zm20 5zm9-18zm55 14zm23-2zm21-6zm34-6zm26 10zm12 2zm26 7zm5-10zm60 8zm10-6zm22-13zm32 9zm13 6zm47-2zm4-12zm13 1zm108 18zm4-6zm69 3zm36-4zm58 2zm63-15zm4 6zm4-4zm54 3zm12 5zm9 3zm10-1zm4 0zm25-3zm44 3zm20 4zm42 2zm8-17zm86 0zm2 11zm27 3zm5-8zm105 0zm12 9zm34-17zm-2 40zm-17-2zm-4-7zm-6 10zm-6-15zm-5 7zm-38-8zm-29 4zm-143 17zm-100-20zm-11 3zm-139 4zm-37 7zm-64-14zm-23 6zm-34 4zm-23 3zm-21-14zm-6 20zm-9 3zm-57-4zm-82-11zm-57 8zm-64-5zm-19 8zm-38-20zm-15 21zm-55-19zm-35 6zm-14-4zm0-3zm-6 12zm-65-5zm-73 1zm-222 6zm-16 11zm30 1zm19-3zm78 5zm44 5zm83 2zm56 0zm4-2zm6-1zm2 11zm42-13zm1-7zm71 18zm16 4zm27-6zm53 8zm56-9zm109-2zm33-2zm6-8zm44 13zm2 7zm104-20zm8 3zm6 7zm68-1zm38 10zm18-11zm11-5zm18-4zm26 21zm16-1zm6-17zm69 18zm38-21zm6 16zm52-14zm31-2zm8 12zm10-3zm10-7zm10 2zm7-3zm12 14zm22-3zm84 4zm17-6zm4-7zm56 8zm34 7zm14-19zm3 2zm5 5zm-47 26zm-17-8zm-8 16zm-184 2zm-73-11zm-3-6zm-38 9zm-7 12zm-13-10zm-99 2zm-11-15zm-5 1zm-3 1zm-40 0zm-68 2zm-14 13zm-30-11zm-74 1zm-16-7zm-7 6zm-23-2zm-7 10zm-10-3zm-24-4zm-36-1zm-41 0zm-1 7zm-2 5zm-22-13zm-33 14zm-24-5zm-3 1zm-8-7zm-61 12zm-2 0zm-52-20zm-13 0zm-21 17zm-26-16zm-39-1zm-15 16zm-24-1zm-30 4zm-2-4zm-23-13zm-43 11zm-41 3zm-7-1zm-3-3zm-13-4zm-43 12zm-10-3zm-28 3zm-21-1zm0-5zm-61 16zm123 14zm54-11zm11 8zm3-8zm16 2zm14 3zm52-6zm7 1zm4 6zm12 4zm19-1zm24 2zm3-18zm35 11zm3 6zm3-19zm16 23zm43-3zm6 0zm6-18zm34 14zm6 3zm9-5zm21-10zm21 12zm13 5zm142-4zm11-6zm34-1zm44-3zm33-1zm3-5zm77 18zm168-4zm66-12zm45 19zm17-9zm36 3zm95-5zm17 11zm34-3zm85 0zm66-8zm57-11zm9 18zm-50 25zm-58-13zm-23 14zm-78-5zm-2 5zm-34-6zm-19 3zm-23 1zm-11 0zm-57-17zm-22 1zm-3 7zm-2 1zm-5 1zm-7 10zm-15-5zm-20 4zm-18 2zm-8-9zm-89 6zm-1-15zm-13-5zm-67 23zm-74-21zm-84 4zm0-6zm-176 15zm-31-6zm-30 10zm-39-5zm-6 4zm-12-3zm-18-8zm-42 0zm-46-2zm-64 3zm-10-5zm-5 15zm-19-13zm-9 18zm-5-14zm-39-8zm-4 5zm-8 9zm-17-7zm-14-1zm-49-5zm-3-1zm-8 15zm-8-14zm-37 10zm-16-1zm-25 8zm-16-13zm-43 9zm-6-10zm-26 7zm4 33zm3-13zm1 14zm26-4zm17-8zm9 9zm4-3zm19-13zm27 15zm8-9zm19 0zm15 4zm28-10zm18 20zm32-10zm74-12zm8 11zm195-10zm73 7zm3 0zm20-5zm15 10zm31 6zm1-18zm8 22zm20-19zm2-4zm9 19zm54 0zm60-5zm25 3zm168-13zm90 6zm30-10zm32 10zm31-5zm6 12zm55-5zm3-11zm11 2zm12-1zm31 4zm44 14zm49-1zm83-5zm6-10zm10 6zm63 6zm18 25zm-19-11zm-14-5zm-4 5zm-17-4zm-134 2zm-61-3zm-10 1zm-11 1zm-35 18zm-1 0zm-19-13zm-76 1zm-3 0zm-2-9zm-6 13zm-175-12zm-165 15zm-4-9zm-42-2zm-12 13zm-32-15zm-14 0zm-53-2zm-36 9zm-18 11zm-26-4zm-85-14zm-47 6zm-112-1zm-12 4zm-56-5zm-5 13zm-50-18zm-30 12zm-67-10zm-21 18zm-43-11zm-53 9zm14 6zm26 18zm28-11zm3-7zm16 9zm9 0zm11 3zm8-8zm4-3zm6 9zm2-5zm10 3zm14 4zm47-8zm88 16zm10-3zm1-18zm1 2zm10-2zm5 7zm53 7zm6-10zm31 15zm49-3zm1-18zm17 8zm24 5zm41-6zm1 3zm23-6zm13 7zm59 8zm28-1zm17-13zm47-1zm45 14zm37-4zm46-7zm9 2zm46 14zm29-10zm15-10zm7 0zm141 11zm71-4zm16 8zm45-8zm10 11zm6-17zm8 18zm5-13zm43 8zm2 0zm6-4zm18-7zm56 14zm99-12zm11 2zm32 2zm-263 13zm-33 0zm0 22zm-100-21zm-25 5zm-33-7zm-199 16zm-2-16zm-57 19zm-4-11zm-3 6zm-12 6zm-22-12zm-23 11zm-20-3zm-88-7zm-13 7zm-40-5zm-2-1zm-39 0zm-108-4zm-45 9zm-17-5zm-26-8zm-22 12zm-43 5zm-15-15zm-14-1zm-7 11zm-1 5zm-32-18zm-4 19zm-3-3zm-17 1zm-3-10zm-9 10zm-19-3zm-7 4zm0-8zm-1-9zm-11 17zm-1-6zm-37 3zm-8 0zm-30-16zm-4 5zm-6 16zm-1-12zm-23 6zm-3 1zm-4 5zm-23-14zm41 26zm11-1zm15 16zm25-12zm6 8zm45-7zm28-10zm36-2zm8 21zm9-2zm38-11zm9 0zm2 4zm42 9zm15-4zm4-8zm26 9zm87-9zm34-10zm5 17zm35-2zm24-12zm45 13zm25 6zm42-20zm33 7zm9 2zm47-5zm98-2zm288 15zm16-12zm8 9zm37-6zm18 2zm90 3zm6 3zm31 1zm66-6zm71-11zm64 8zm60 1zm-136 13zm-6 22zm-48-17zm-79 3zm-14 13zm-66 0zm-2-11zm-51-2zm-32 3zm-1 2zm-43-10zm-8 21zm-193-6zm-25 1zm-115 1zm-31-19zm-23 19zm-68-10zm-46 3zm-6 0zm0 10zm-2-10zm-85-2zm-15 0zm-11-8zm-55 13zm-43-3zm-36-6zm-24 10zm-2-17zm-4 1zm-27 23zm-13-16zm-13 1zm-18 6zm-10 2zm-67-1zm-14 5zm-12 3zm-30-4zm-23-13zm-3-6zm-13 2zm-34-3zm-31 23zm-15-11zm-3-7zm-2-1zm-2 22zm27 3zm51 7zm32 6zm26-9zm25 5zm6 2zm3-1zm31 0zm22-5zm28 0zm4-2zm3 5zm25-12zm23 9zm4 2zm28 7zm2-13zm16 11zm20 0zm11-3zm20 6zm22-9zm28 0zm0 3zm25-9zm43 1zm42-1zm58 12zm47-11zm50 9zm47-7zm7 14zm16-5zm8-5zm18 2zm51 8zm2 2zm12-3zm85-11zm118-7zm27 5zm160-6zm51 18zm48-13zm37 16zm26-2zm3 0zm1 1zm21-20zm79 7zm24 10zm34 6zm-12 1zm-29 16zm0 3zm-16-3zm-93-14zm-40 10zm-10-5zm-11 1zm-323-7zm-11 6zm-7 0zm-11-6zm-9-2zm-9 6zm-24 4zm-28-10zm-2 15zm-9-3zm-11-4zm-1 1zm-56-2zm-15 13zm-1-14zm-10 7zm-20-4zm-111-8zm-46 4zm-84-1zm-9-1zm-62-3zm-538 1zm360 41zm82-11zm55 3zm172-6zm145 6zm10-2zm25 12zm0-1zm9-8zm7 9zm8 1zm0 0zm0-14zm1 10zm19-16zm5 5zm6 7zm8-6zm34 15zm3-6zm3 6zm5 0zm11-9zm4 4zm2-4zm2-4zm0-9zm5 12zm6 0zm20 11zm0-4zm6-5zm12-14zm14 19zm9 1zm235 2zm92-2zm38-14zm29 8zm12-6zm4 2zm5-6zm44 10zm47-4zm69-10zm12 22zm-27 5zm-27-1zm-17 4zm-100 3zm-19-6zm-14-2zm-13-1zm-13 10zm-14 0zm-19 12zm-9-20zm-56 10zm-24-5zm-177-4zm-69 8zm-11 0zm-7-1zm-14 7zm-5 4zm-1-3zm-4-5zm-17 7zm-1-10zm-6 9zm0-16zm0 4zm-5-3zm-1-4zm-14 0zm-19 20zm-4-18zm-6 12zm-15 3zm-5-6zm-37 3zm-7-5zm-4 4zm-184-13zm-4 13zm-32-6zm-22 2zm-84-10zm-28 1zm-26 0zm-61 6zm-15 13zm-114-14zm-293 14zm-1-1zm-3-15zm5 37zm0 1zm4-3zm302 7zm38 1zm125-3zm43-16zm5 13zm66-10zm118 13zm0-14zm50 12zm88 4zm11-18zm15 11zm1-6zm0 5zm3-11zm11 0zm31 13zm3-8zm30 11zm9-8zm21-5zm23 5zm1 6zm6 2zm7-9zm9 9zm15-12zm2 9zm7-6zm8 3zm11 2zm5-1zm1-7zm6 7zm0-1zm145-3zm40 4zm35-2zm65 3zm9-10zm55 7zm0 1zm2-3zm37 7zm86-14zm66 10zm19-3zm14 10zm-8 24zm-33 0zm-30-8zm-108 4zm-5-2zm-3-4zm-1 5zm-3-11zm-31-1zm-9-3zm-8 21zm-60-1zm-280-3zm-8 1zm-5-17zm-10 2zm-5 11zm-11-6zm-15 6zm-12-14zm-3 9zm-6 2zm-6 4zm0-10zm-4 5zm-10 3zm0-10zm-5 8zm-7 7zm-8-3zm-5 1zm-4 4zm-7-6zm-28-6zm-1 10zm-13-11zm-14 8zm0 1zm-6-14zm-3 2zm-1 6zm-9 0zm-6 1zm-2 10zm-7-18zm0 20zm-16-20zm-42 7zm-10 12zm-14-9zm-11-1zm-36-11zm-13 5zm-17 11zm-34-1zm-29 6zm-37 2zm-177-2zm-86-9zm78 34zm266-19zm62 11zm11-5zm33 0zm5-5zm4 17zm1-18zm45 3zm49-6zm32 2zm4 5zm3-5zm3 8zm8 11zm14-19zm2 18zm5-5zm31-9zm12 13zm7-11zm15-3zm14 3zm1-7zm1 3zm2-3zm80 18zm162 1zm177-9zm7-1zm1 4zm5-5zm0 6zm58 0zm10-7zm32 4zm9 7zm17 4zm61-1zm-179 8zm-12 2zm-7 14zm-27-8zm-6 4zm-2 1zm-114 0zm-226-11zm-8 10zm-21 2zm-26 0zm-25-11zm-4 0zm-2-2zm-4 6zm-19 9zm-1-13zm-18-7zm-11 7zm-5 3zm-21 11zm-24-21zm-9 5zm-1 9zm-7-6zm-5-5zm0 4zm-11 12zm0-18zm-2 20zm-6-11zm-23 1zm-46-7zm-37-3zm-124 15zm-124-14zm-91 6zm-20-7zm-30 17zm-160-16zm-185 25zm1-1zm358 9zm6-4zm2-9zm3 10zm10 8zm46-10zm49 5zm139-12zm59 9zm26 7zm42-7zm119 9zm7-18zm4 5zm7 6zm11-9zm1 10zm4-2zm4-2zm7 10zm4-3zm2-7zm3-6zm18 8zm14 9zm3-10zm2-7zm25 2zm22 5zm20 3zm8 1zm0-8zm15 1zm23 9zm199-9zm24 15zm118-15zm7-3zm37 3zm6-3zm2-2zm115 10zm-2 14zm-1-2zm-24 12zm-10 9zm-15-6zm-34-1zm-30-2zm-8 6zm-20-16zm0 5zm-12 15zm-4-5zm-17-15zm-18 17zm-3-12zm-54 7zm-5-6zm-2-4zm-232 9zm-7-4zm-9-2zm-8 2zm-6-3zm-6 6zm-7-12zm-4 22zm0-7zm-2-1zm-10-9zm-17 13zm-11-7zm-2 0zm-4-6zm-43 14zm-15-14zm-16 12zm-6-6zm-6-6zm-2-6zm-3 21zm0-4zm-3 5zm-12-13zm-19-8zm-7 4zm-6 18zm-12-9zm-63-11zm-117 12zm-26-11zm-25 10zm-42-1zm-25 2zm-42-10zm-133 15zm-2-3zm-142-14zm-229 27zm40 9zm31 8zm14-1zm169-5zm38-11zm248 18zm27-6zm115-2zm56 1zm48-17zm25 21zm14-16zm2-4zm44 3zm0 0zm13 12zm4-14zm16 0zm9 7zm1-2zm6-1zm10 3zm11 0zm3-4zm6 5zm6 0zm11 0zm18-3zm8-6zm18 11zm1 9zm11-16zm15 9zm33 5zm24-4zm62 4zm210 1zm51-19zm12 0zm8 7zm26 9zm15 2zm120-4zm-56 13zm-25 4zm-3-4zm-17 3zm-62 4zm-40-1zm-1-6zm-2 1zm-34 7zm-19 7zm-53-6zm-35-3zm-47 3zm-7-4zm-93 9zm-21-1zm-48-5zm-57-6zm-91 3zm-102 2zm-17-8zm-55 10zm-34 5zm-10-9zm-4-2zm-12 1zm-7-4zm-17 1zm-58 11zm-19 5zm-15-10zm-20-6zm-21-1zm-69 20zm-54-22zm-28 2zm-3 20zm-13-4zm-53-6zm-40 8zm-13-16zm-23 1zm-7 7zm-17 9zm-71 1zm-18-13zm-70 30zm9-3zm18 7zm46-4zm16 0zm61-1zm62-14zm10 18zm14-4zm9-15zm0 6zm25 8zm12-7zm7-2zm7 4zm2 10zm8-13zm28 7zm1-11zm14 6zm42-9zm29 16zm4-10zm4 1zm17 16zm2-10zm16-1zm73 2zm57-1zm27-1zm12-11zm11 18zm45-1zm51-17zm0 17zm36-4zm11 7zm7-7zm19 6zm8-6zm46 3zm118 2zm25-12zm72 10zm19-3zm2 6zm32-20zm9 22zm30 0zm19-9zm125-13zm0 21zm40 2zm1-1zm42 0zm85-13zm105 4zm15 0zm-44 21zm-2-7zm-113 20zm-2-19zm-33 13zm-72-8zm-3 13zm-24-12zm-21 4zm-6 5zm-26-17zm-118 12zm-11-12zm-153 4zm-80-1zm-67 2zm-46-5zm-2 17zm-68-9zm-10 7zm-48-10zm-26 2zm-4 5zm-1 10zm-7-23zm-17 3zm0 11zm-14-11zm-25 16zm-29 3zm-1-16zm-4 4zm-9 3zm-2-3zm-3 11zm-91-12zm-24-3zm-70 0zm-44-7zm-62 2zm-4 14zm-55 3zm-70-12zm-47-4zm-40 4zm-13 21zm32 8zm40-1zm10-1zm18 0zm29-9zm51 5zm51 15zm37 1zm8-19zm4-3zm20 15zm28-4zm18 8zm10 2zm38-16zm5-3zm17 21zm17-6zm1-10zm7 15zm57-18zm33 14zm13-1zm55-9zm4 1zm4 7zm62 4zm60 2zm12-6zm40 3zm87-10zm49 8zm3-4zm17 3zm69-10zm49 4zm5 13zm46-10zm49 6zm50-3zm56-7zm20 1zm22-3zm31-4zm27 6zm15 3zm74-3zm51 10zm38 4zm87-4zm-4 17zm-7-5zm-36 12zm-37-11zm-28 1zm-19 10zm-40-12zm-30-1zm-68 14zm-18 4zm-8-5zm-12-6zm-27-1zm-6 7zm-43-11zm-3 3zm-93 0zm-51 13zm-54 0zm-251-10zm-10-1zm-16-11zm-12 5zm-41 11zm-5-5zm-4-10zm-25 3zm-38 9zm-14-9zm-15 15zm-3-11zm-12 11zm-28-20zm-9 1zm-19 11zm-31-2zm-56 13zm-5-15zm-4 7zm-131-9zm-51 0zm-34 0zm-9 4zm-42 1zm-140 9zm-27 2zm4 12zm5-8zm70 4zm19 12zm13-11zm11-7zm18 3zm17 19zm8-18zm36 16zm55-11zm56 7zm7-12zm25 17zm35-14zm4-6zm11 0zm13 22zm37-13zm19-2zm13 7zm48-4zm79 5zm22-3zm9 2zm104-7zm34 14zm10-14zm19 4zm35-8zm41 3zm74-3zm5-2zm35 1zm19 6zm16-8zm9 5zm8-3zm18 3zm9-1zm25 9zm54 3zm78 6zm47-6zm5 1zm47 3zm35 1zm18-2zm20-5zm6 0zm139-11zm53 3zm-7 19zm-22 1zm-46 13zm-35-4zm-42 4zm-77-6zm-116 3zm0-6zm-15 11zm-44-17zm-30 21zm-5 0zm-17-17zm-13 8zm-41-13zm-49 20zm-7 3zm-31-2zm-65 1zm-136-19zm-3 2zm-27 12zm-11-16zm-27 1zm-6 18zm-40-18zm-12 16zm-17-5zm-50-11zm-16 7zm-14 10zm-13-13zm-96 5zm-66 9zm-2-17zm-71 3zm-20 7zm-25 0zm-16 4zm-21-13zm-40-2zm-6 13zm-33-10zm-6 16zm-6-20zm-4 15zm-11 0zm-132 1zm-7 3zm12 14zm82-10zm86 3zm62 7zm13-8zm32 11zm41-8zm12-6zm16 7zm6 13zm39-7zm105-8zm46 14zm9-5zm33 5zm43-8zm33 9zm5-6zm20 5zm29-1zm68-10zm0-3zm160 11zm54-12zm111 13zm14-7zm39 10zm4-19zm83 5zm41 2zm166 4zm53-6zm14 18zm4-24zm-82 45zm-39-17zm-8 1zm-9 7zm-34-10zm-16 4zm-15-3zm-3 6zm-13-2zm-6-1zm-24 9zm-16 3zm-19-14zm-11 17zm-23-4zm-12-12zm-27 3zm-14 14zm-5-4zm-74-3zm-12 9zm-12-9zm-49 1zm-16-6zm-22 4zm-12 0zm-17 6zm-39-10zm-61 8zm-36 6zm-2-7zm-7 4zm-12-9zm-84 5zm-13 0zm-41-14zm-11 11zm-20-2zm-6-4zm-27-4zm-44 5zm-23 7zm-12-4zm-22 4zm-17 4zm-52-12zm-23 8zm-44-4zm-49-4zm-3-6zm-17 0zm-5 12zm-28 7zm-18-7zm-20 8zm-3-17zm-84-2zm-77 19zm-24-2zm-12-8zm-6 1zm104 28zm50-9zm13 2zm64 5zm6 7zm12-1zm61-18zm17 19zm6-5zm44-8zm1-2zm26-1zm56 14zm1-3zm8-5zm14-3zm7 0zm0 2zm44 8zm32-7zm7-2zm127 14zm5-9zm63 3zm4 5zm176-22zm33-1zm67 1zm15 15zm42-12zm109 4zm51-8zm107 3zm54 17zm51 1zm123-18zm-20 33zm-1-6zm-66 1zm-35-6zm-136 16zm-27-7zm-48 4zm-24-8zm-30 18zm-12-5zm-5-3zm-1 4zm-57-18zm-2 1zm-6 17zm-26 0zm-3-7zm0 10zm-11-5zm-15-2zm-17-2zm-90 5zm-27-15zm-2 13zm-20 1zm-74 5zm-9-21zm-71 7zm-4-6zm-28 20zm-80-22zm-3 4zm-41 17zm-17-14zm-13 16zm-12-17zm-13-3zm-32 9zm-27-7zm-31 7zm-3-6zm-12 5zm-4 10zm-4-14zm-2-2zm-22 11zm-56-13zm-53-2zm-16 5zm-121 6zm-43-3zm-26-3zm-26 5zm-9 4zm-25 7zm-22-13zm-22-4zm-5-1zm60 34zm97-6zm8-3zm3-3zm37 4zm14 13zm11-7zm31 7zm26-20zm29 23zm80-18zm38 19zm96-10zm46-13zm6 18zm25-1zm55 0zm0-12zm13 3zm50 12zm2-20zm1 5zm71 17zm8-18zm3 11zm52-11zm13-4zm61 5zm16-6zm86 3zm53 9zm114-5zm17 6zm10 3zm5-14zm73 5zm5-1zm2 9zm33-13zm95 18zm105-13zm8 2zm24 15zm10-9zm-150 32zm-12-10zm-8 9zm-38-4zm-26-7zm-36-10zm-6 12zm-70-9zm-13 15zm-65-4zm-15-5zm-17-6zm-65 9zm-3 1zm-13-11zm-151 6zm-42 0zm-3-5zm-11 6zm-57 0zm-29 8zm-7-13zm-37 19zm-46-13zm-3 12zm-26-7zm-15-1zm-71-12zm-26 5zm-14 6zm-21 7zm-5-17zm-2 5zm-54 6zm-11-9zm-21-4zm-4 19zm-3-6zm-37 2zm-39-11zm-5-6zm-19 9zm-16-7zm-43 12zm-54-14zm-9 7zm-71 5zm-42-7zm-15-3zm-25 0zm-18-1zm-6 32zm41 4zm14-11zm24 20zm72-21zm29 18zm68-6zm14 5zm4 1zm47-13zm33 18zm19-4zm39-19zm40 7zm73-4zm107 16zm16-8zm6-6zm45 17zm8-10zm49-2zm25 10zm79-5zm32 0zm5-12zm85-3zm189 5zm1 10zm15-9zm10-4zm100 1zm64 17zm45-12zm14 9zm43-6zm17 1zm111-12zm19-1zm16 45zm-104-9zm-124-11zm-12 10zm-16-7zm-109 7zm-55-4zm-15 9zm-2 5zm-7-3zm-13-15zm-60 2zm-33 14zm-34-14zm-254 8zm-11-4zm-33-9zm-82 16zm-3-7zm-16 8zm-47-12zm-6 0zm-20 15zm-15-7zm-14 9zm-19-7zm-48 5zm-2-16zm-6 14zm-3-9zm-6 6zm-43-11zm-3 5zm-3 12zm-34 0zm-119-7zm-101-4zm-10 3zm-22 6zm-7-6zm-50 3zm-34-3zm-14 26zm10-1zm2 10zm1-4zm23-19zm41 17zm35-5zm73 8zm29-18zm17-1zm205 1zm59 11zm8 4zm22-16zm10 21zm2-9zm11-11zm4 13zm13-3zm55-12zm7 6zm29 5zm4 8zm1-5zm9-9zm8-2zm41 15zm14 1zm8-13zm3-2zm57-5zm200 7zm97 9zm22-13zm31 15zm2-5zm35-5zm6 6zm5-7zm4-3zm17 3zm94 9zm5-7zm25 4zm18-13zm36 5zm59 13zm2-13zm40 12zm89-14zm27 8zm5 17zm-96 12zm-33-11zm-33 16zm-30-17zm-78 15zm-62-16zm-4 14zm-46-8zm-34-3zm-53 3zm-36-9zm-28 18zm-1-15zm-10 7zm-96-2zm-80 13zm-95-5zm-9-1zm-21-12zm-14 0zm-59 6zm-5 4zm-37 7zm-86-11zm-35 4zm-22 4zm-29-2zm-7 1zm-16 6zm-10 2zm-45-1zm-39-21zm-84 20zm-7-12zm-60-1zm-64-9zm-11 10zm-59 10zm-45-18zm-19 0zm-24 0zm4 42zm45-11zm12 11zm21-12zm3 8zm75-8zm136 12zm8-17zm112 18zm61-12zm5 15zm1-18zm63-4zm6-2zm48 1zm4 9zm10-7zm9 7zm18 1zm40-4zm11-3zm67 0zm29 12zm210-5zm78-8zm9 12zm24-1zm97 10zm25-9zm74-7zm3 7zm25-2zm9-5zm7 16zm61-23zm43 8zm27 0zm10 6zm2 8zm5-8zm61-12zm67 0zm-12 33zm-8 3zm-146 7zm-89-21zm-54 11zm-9-6zm-40 16zm-18-12zm-13-2zm-9 7zm-5-14zm-20 17zm-15 6zm-1-24zm-31 23zm-26-12zm-7-5zm-33-4zm-7 2zm-17 10zm-302-14zm-9 12zm-23-2zm-10 10zm-9-4zm-4 4zm-12-11zm-72 1zm-56 0zm-79 6zm-80-3zm-100 5zm-63-15zm-6 19zm-13-4zm-16 6zm-28-11zm-54-1zm-19-10zm-4 13zm-45-1zm-25-5zm-6 5zm-27-6zm60 24zm13 2zm74 5zm14 7zm26-3zm33 2zm13-12zm131-3zm2 12zm28-3zm50 4zm13-15zm12 17zm11-10zm1 8zm26-5zm2-8zm5 10zm1-4zm1-2zm6 5zm25 0zm24 7zm7 1zm50-16zm7 8zm18 1zm24-8zm8 7zm23 0zm372-8zm2 10zm10 3zm45-19zm4 12zm2 8zm9-12zm31-9zm42 2zm14 12zm17 7zm2-3zm38-4zm38 6zm3 4zm6-11zm26 3zm29-11zm12 0zm44 1zm49 17zm65-19zm-12 41zm-21-11zm-6-3zm-49 7zm-8-7zm-129-6zm-7 21zm-7-12zm-22-7zm-98 12zm-11 3zm-37-5zm-36-11zm-22 7zm-3 13zm-5-1zm-8-1zm-4-16zm-20 16zm-2-7zm-160 7zm-93-7zm-16-3zm-47-6zm-26 19zm-17-1zm-3-20zm-4 12zm-7 2zm-23-11zm-2 17zm-8-9zm-58-2zm-49 7zm-34-4zm-79-9zm-27-4zm-24 22zm-11-21zm-31 15zm-13-6zm0-3zm-28 10zm-12 2zm-12 3zm-2-23zm-7 6zm-22-2zm-1 7zm-16 7zm-7-1zm-24 3zm-47-14zm-27 1zm-52 13zm-4 3zm-40-23zm-38 8zm33 17zm10 6zm76-4zm77 10zm23-1zm1-1zm29 11zm52-8zm34-14zm44 7zm55 10zm16 2zm15-11zm39 4zm6 1zm116-13zm0 20zm62-7zm14 3zm11-3zm56 2zm7-15zm74 8zm71 13zm215-1zm60-5zm13-11zm7 7zm23 2zm5-9zm18 5zm76-7zm21 16zm77-2zm23 8zm12-8zm8 3zm1-16zm8 11zm11 1zm16 4zm99 20zm-6-11zm-3 4zm-70 10zm-6 4zm-28-11zm-11 2zm-18 7zm-115-6zm-12-9zm-11 2zm-18-2zm-3 9zm-2-11zm-13 7zm-15-5zm-31-5zm-97 12zm-13 8zm-66-2zm-273-5zm-144-3zm-19 8zm-82-7zm-73 6zm-20-7zm-43 14zm-19-9zm-5-4zm-5 4zm-44-1zm-37-1zm-7-2zm-67 1zm-5-5zm-2 2zm-60 11zm-33-17zm-38 3zm-33-4zm-17 13zm-28-2zm-3-1zm-2 0zm0-6zm-9 39zm70-2zm138 2zm7-12zm6 2zm15 5zm75-9zm42 10zm21 2zm4-1zm82 1zm90-4zm17 3zm9-1zm5-8zm65 1zm58 9zm78-11zm313 7zm6-7zm35 13zm62-17zm1-4zm10 22zm42-15zm9 9zm18 2zm0-3zm3 9zm10-8zm12 0zm21 6zm39-14zm12 16zm25-11zm45-5zm21 15zm34-11zm22-1zm50 6zm22-16zm15 2zm-37 24zm-36 1zm-39 2zm-16 5zm-3 4zm-12 3zm-77 3zm-13-9zm-37 11zm0-9zm-13 7zm-19-7zm-15 3zm-43 6zm-8-15zm-10 0zm-88 15zm-7-17zm-5 11zm-2-9zm-17 4zm-13 1zm-293 7zm-154-3zm-37 3zm-64-8zm-3-8zm-27 6zm-29 3zm-2 1zm-98-11zm-12 9zm-42 1zm-18 3zm-4-7zm-17 13zm-3-16zm-8 8zm-47-1zm-40-6zm-1 11zm-37 3zm-14 0zm-97-3zm-6-5zm-6-10zm-20 42zm17-19zm51 4zm45 10zm25-4zm26 5zm21-12zm22 13zm5-14zm12 11zm12 2zm30-2zm39 0zm7 6zm76-15zm1 3zm28 5zm0-8zm62 1zm14 16zm1-13zm114-2zm4-6zm35 21zm7-5zm51-13zm5 10zm7 3zm16-1zm1-2zm23 8zm304 0zm2-4zm27-13zm0-3zm24-1zm11 3zm0 4zm13-6zm4 6zm15 14zm4-1zm28 0zm29 0zm72-9zm36 10zm0-12zm54 6zm74-1zm6 0zm6-14zm4 7zm34-5zm0 7zm78-2zm11 20zm-92 19zm-178-15zm-67-4zm-37-5zm-11 5zm-25 14zm-34-2zm-3-2zm-71-13zm-23 4zm-8 12zm-60 2zm-88 0zm-46-7zm-73-9zm-52 9zm-68-11zm-43 6zm-16-1zm-31 0zm-22 0zm-30 10zm-19-6zm-9 3zm0 8zm-4-20zm-13 22zm-6-8zm-116-5zm-11 10zm-18-9zm-78 0zm-13-5zm-6 10zm-40-12zm-25-2zm-22 8zm-63 9zm-8-3zm-21-9zm-61 2zm-9 11zm33 10zm97-5zm13 5zm5 4zm0 5zm2 0zm53-3zm9-2zm5-9zm32 12zm19-8zm28 16zm12-3zm25-10zm28-4zm17 19zm71-7zm4-5zm17 7zm131-12zm5-2zm64 10zm91-10zm322 14zm10 0zm12-18zm14 18zm15 0zm12-16zm13 5zm118 4zm45-11zm18 13zm35-8zm92 13zm46-16zm22 5zm35-6zm46 38zm-90-1zm-17-14zm-17 5zm-32 8zm-108 7zm-1-14zm-4 2zm-8 1zm-55 11zm-22-19zm-4 22zm-9-10zm-9 6zm-12 1zm-19-10zm-18 8zm-6 2zm-13-8zm-133-5zm-195 1zm-34-8zm-4 10zm-89-11zm-54 4zm-21 0zm-22 13zm-39-1zm-95-10zm-20 0zm-21 8zm-86-6zm-24 12zm0-19zm-2 16zm-25-13zm-69-3zm-27 1zm-19 19zm-2-19zm-11 18zm-1-8zm-45 11zm-11-3zm-114-6zm24 22zm12-7zm22-3zm1 12zm3 7zm25-19zm8 6zm5 5zm11-9zm6 19zm9-7zm11 4zm10-16zm21-3zm32 11zm86 1zm3-5zm11 11zm74-5zm74-5zm9 7zm3-5zm31-8zm173 16zm8-13zm32 7zm47 7zm24-5zm28-3zm270-5zm5 2zm6-5zm2 9zm15-4zm17 7zm0 4zm20-1zm4-1zm21-11zm2 15zm2-7zm20 7zm51-21zm58 7zm47 14zm117-9zm7-3zm10 5zm20 7zm8-4zm55-1zm32-4zm-36 18zm-55 12zm-1-15zm-43 19zm-94-21zm-19 19zm-8-19zm0 0zm-42-2zm-59 22zm-16-3zm-15-4zm-68-14zm-10 6zm-31 17zm-23-21zm-1 0zm-68 10zm-247-2zm-83 10zm-44-1zm-33-2zm-5 3zm-96-14zm-18 16zm-8-1zm-14-17zm-4 7zm-12 8zm-4-4zm-33 6zm-52 1zm-1-6zm-8 1zm-36-6zm-68-8zm-25-2zm-21 13zm-38 2zm-50-2zm-39-2zm-2 5zm-9-13zm-33 0zm-18 27zm15 7zm15-9zm3 11zm2 6zm49-6zm43 7zm41-23zm7 8zm28-5zm142 9zm3 8zm4-20zm51 6zm29-5zm53 18zm0-17zm6-1zm2 10zm19-9zm9 2zm4 3zm0-1zm8-6zm16 20zm14-6zm28 0zm15-6zm26-2zm1-5zm33 2zm74 14zm10-8zm8-7zm6 5zm292 9zm22-3zm9 2zm24-11zm5 19zm17-14zm51 0zm29-2zm25 7zm58 6zm46-10zm119 2zm30-7zm130 21zm-42 2zm-13 3zm-86 9zm-120-14zm-67 17zm-5-16zm-50 4zm-3 4zm-64-10zm-9 1zm-11 2zm-22 14zm-34-14zm-2 15zm-9-16zm-20 9zm-263 10zm-35-14zm-7 5zm-27 8zm-14-12zm-4 14zm-8-20zm-39 2zm-39-6zm-13 12zm-30 3zm-12-2zm-20-3zm-2 10zm-1-10zm-44-3zm-4 10zm-24 7zm-23-11zm-4 0zm-14 0zm-5 8zm-23-8zm-8 6zm-34-4zm-8-13zm-78 2zm-19 11zm-54-12zm0 7zm-17-3zm-1 15zm-27-14zm-34 0zm-6-1zm-3 1zm-15-4zm-4-2zm-21 10zm-2 0zm-1 4zm-16-12zm-22 17zm-8-2zm-5-11zm-13 1zm-28-3zm3 40zm9-20zm15 21zm4-15zm51 12zm4-10zm11 4zm23 3zm1-13zm35 5zm19 6zm15-15zm6 10zm43-1zm16 5zm18-3zm86-7zm46 10zm5 0zm32-8zm9 8zm19-8zm9 10zm22 5zm2-15zm17 12zm4-12zm30 8zm48 1zm1-5zm45 11zm33-6zm9 8zm19-21zm102 13zm107-6zm77 12zm62 2zm24-20zm16 17zm39-13zm42-3zm10 8zm9-4zm9 11zm15-10zm10-7zm29 1zm2 14zm33-15zm32 21zm50-8zm64 3zm80-18zm12 17zm61 1zm-406 7zm-135 15zm-9 5zm-37-3zm-15 0zm-45-12zm-60 12zm-30-6zm-47 6z"/>
<path d="M2138 621zm-84 1zm-25-8zm-102 7zm-5-3zm-190 5zm-70-8zm-22 8zm-2-4zm-33-1zm-12-2zm-49-6zm0 7zm-135-2zm-18-7zm-45 10zm-38 3zm-30 1zm-67 0zm-148-6zm-13 0zm-94-5zm-83 7zm-185 0zm-44 0zm15 24zm33-3zm26 1zm9-12zm42 15zm45-14zm27 18zm89-20zm53 9zm15 5zm41-4zm113-4zm96 4zm134 7zm75-2zm119-15zm61 18zm75-10zm18 2zm54 1zm3 2zm39 3zm150-16zm69 19zm13-4zm79-13zm-75 39zm-66-2zm-73-9zm-52 3zm-65-9zm-51 7zm-13-5zm-52 10zm-6 3zm-47 5zm-12-8zm-70-15zm-1 21zm-42-15zm-7 13zm-40-18zm-20 18zm-60-8zm-8-6zm-34 4zm-16 0zm-13 12zm-5-12zm-16 9zm-73-9zm0 14zm-57-4zm-3-5zm-14-12zm-93 13zm-83-5zm-156 5zm-1-10zm-41 2zm-66 7zm-73 30zm76-12zm97-7zm14 22zm55-19zm4 11zm20-8zm84 12zm64-6zm173-11zm18 9zm60 10zm13 1zm103-21zm41 11zm21-10zm28 0zm20 3zm6-3zm88 13zm59 0zm3-5zm31-1zm47 8zm27 3zm19-3zm11-15zm16 1zm6 10zm40-7zm41 18zm32-4zm67-15zm22-4zm22 0zm5 9zm54 2zm7-9zm-13 36zm-15-8zm-13 9zm-136-4zm-17 1zm-16 1zm-20 0zm-17 7zm-11-3zm-27-4zm-16-7zm-37 10zm-12-4zm-1 7zm-30-16zm-44 12zm-56-4zm-164 6zm-1-4zm-38-13zm0 10zm-21-1zm-16 14zm-10-13zm-35 8zm-72-4zm-5 9zm-62-23zm-1-1zm-62 22zm-114-15zm-51 6zm-79-4zm-8-2zm-17 14zm-28 3zm-68-5zm-4 1zm-15-17zm-50 7zm-29 11zm-50-4zm-5 3zm9 12zm20-7zm24 11zm25-3zm16 4zm17-10zm24 11zm70-9zm77 6zm61 2zm48 1zm14 3zm46-6zm24-7zm26 18zm9-10zm42 5zm44-16zm10 7zm49 11zm92-2zm11-8zm12 14zm28-15zm14-5zm140 8zm2-1zm17-4zm145 0zm65 6zm20 11zm11-19zm41 10zm139 4zm67-16zm30 15zm45-4zm16-11zm21 2zm26 15zm-110 12zm-82 8zm-4-11zm-45 19zm-49-21zm-1 11zm-33 7zm-18 1zm-75-8zm-33 1zm-23-5zm0-8zm-65 22zm-45-16zm-31 7zm-138 5zm-45-6zm-20-10zm-35 17zm-55-5zm-10 8zm-65-4zm-5 4zm-20-1zm-21-5zm-17-2zm-28-6zm-48 12zm-4-4zm-55-4zm-87 9zm-23-5zm-29-11zm-8 7zm-10 0zm-1-13zm-8 24zm-4-6zm-14-18zm-3 2zm-23 8zm-32-9zm-6 6zm-6-4zm-20 19zm-25-20zm-20 4zm-25 5zm-54-4zm-39 37zm91-18zm9 7zm19 3zm39-3zm132 2zm33 9zm82-15zm43 8zm60-9zm82 3zm66-2zm134-1zm23 7zm32 8zm48 3zm13-8zm48 7zm15-20zm20 19zm3-5zm28-2zm7 3zm6 6zm12-3zm6 0zm10-5zm70-4zm4 6zm83 8zm57-13zm49-7zm72 9zm11 7zm24 1zm6-4zm5-10zm21-2zm28-1zm65 11zm28 6zm14-8zm40 29zm-30-3zm-35-2zm-4 5zm-5 0zm-1 0zm-24 3zm-19 0zm-42-13zm-5 0zm-11-5zm-22 4zm-16-6zm-9 2zm-5 12zm-155-6zm-32-2zm-64 5zm-92 4zm-1-8zm-33 2zm-9 12zm-15-13zm-13 0zm-39-8zm-11 7zm0-6zm-10 11zm-5-10zm-5 11zm-2 1zm-11-13zm-29 5zm-2-7zm-15 7zm-3 11zm-24 4zm-51-10zm-71-6zm-56 12zm-71-5zm-13-8zm-191 7zm-35-10zm-370 8zm263 29zm31-1zm55-1zm96-11zm25 12zm17-1zm7 0zm38 2zm60-11zm52-4zm45 2zm98 10zm25-8zm21 6zm25-10zm1 16zm12 4zm2-11zm5 10zm7-2zm1-6zm23 6zm6-10zm9 7zm10-1zm2 6zm2 0zm5-11zm6-5zm19 11zm8-7zm35-5zm15 18zm19-14zm5 12zm1-7zm9 9zm16-3zm8-11zm98 7zm34-7zm41 1zm131 3zm10 10zm28-13zm42-4zm5 4zm77 10zm43-1zm50 1zm-29 12zm-19 6zm-4 9zm-35-13zm-32-2zm-133 18zm-15-20zm-42 1zm-31 15zm-20-4zm-6-14zm-34 10zm-3 12zm-24-1zm-8-4zm-15-13zm-29 14zm-28-2zm-24 5zm-3-6zm-11-1zm-50-10zm-8 2zm-1 2zm-5-3zm-22 1zm-27 4zm-5-4zm-42 11zm-3-15zm-26 10zm-3-8zm-27 11zm-3 0zm-3-8zm-7 2zm-36 2zm-43 10zm-21 1zm-6-2zm-5-9zm-124 2zm-31 8zm-23-7zm-5-14zm-77 2zm-72 17zm-199 0zm-2-5zm-150 0zm-22 4zm-45 11zm42 7zm25-5zm26-3zm3 9zm26-5zm54-4zm49 5zm21-8zm78 8zm49-4zm2 10zm8-16zm3 18zm6 4zm189-10zm17 2zm72-12zm36 18zm16-7zm2-10zm33 0zm0 5zm5 14zm100-13zm39-4zm53 10zm1-4zm134 6zm13 5zm27-3zm12-18zm9 5zm10 17zm16-8zm4-4zm42-5zm7 2zm10 10zm9-4zm86 6zm65-10zm75 2zm7-2zm134 16zm-49 12zm-27 8zm-9-2zm-97-12zm-39-6zm-27 12zm-43 3zm-6-2zm-37-7zm-6 5zm-2-6zm-44 5zm-11 6zm-4-9zm-4 5zm-71 6zm-19 2zm-115 0zm-61-9zm-53 10zm-3-2zm-11-11zm-23 7zm-16-1zm-79 0zm-109-10zm-65-2zm-119-3zm-35 16zm-9-5zm-7 0zm-26 7zm-72-4zm-113-4zm-75-6zm-34-2zm-75 25zm9 12zm55-11zm26 5zm7-4zm84 10zm9-11zm1 6zm15-7zm17 9zm5-10zm32 19zm27-6zm29-8zm1 7zm15 7zm0-18zm95 10zm48 6zm7-12zm67-3zm28 1zm7-2zm16 9zm39-2zm11-9zm22 12zm21 7zm18-15zm57 6zm17 0zm53 3zm6-1zm71-6zm3 0zm118-2zm14-6zm16 8zm45-8zm14 11zm15-5zm26 15zm43-5zm56-10zm70 13zm8-12zm2 7zm3 7zm8-8zm1 10zm59-4zm57 5zm76-21zm-17 33zm-61 3zm-24-6zm-46 5zm-21 6zm-23-16zm-14 3zm-38-5zm-48 1zm-11 18zm-6-18zm-12 13zm-1-15zm-5 11zm-42-8zm-52 0zm-51 3zm-24 3zm-37-5zm-40-3zm-98 12zm-16-1zm-9 3zm-2-2zm-40-13zm-96 12zm-38-13zm-3 19zm-13-1zm-18-16zm-40 5zm-113 13zm-1 2zm-28-12zm-43 5zm-5-11zm-39 12zm-2 6zm-44-6zm-37-8zm-37 13zm-6-5zm-1-3zm-72 10zm-29-4zm-15 2zm-7-9zm-29 9zm-16 2zm-14-22zm-64 0zm-6 18zm14 23zm8-5zm12 11zm26-22zm2-2zm28 12zm47 10zm3-7zm20-1zm6 2zm20-12zm16 8zm11 4zm183 5zm9-13zm33 7zm21-11zm12 2zm68 2zm21 4zm23-1zm4 11zm7-5zm80-4zm10-12zm90 15zm33-1zm40 7zm54-20zm132 9zm85 4zm15-11zm29-1zm20 6zm25-3zm73 3zm26 6zm7-5zm87 0zm81 14zm84-20zm36 0zm39-3zm-5 23zm-5 1zm-103 6zm-32 5zm-240 10zm-37 1zm-9-16zm-15 16zm-9-23zm-44 1zm-37 22zm-93-12zm-58 4zm-17-8zm-35 6zm-11-1zm-55-9zm-19 4zm-13 17zm-114-22zm-56 14zm-5 6zm-9-5zm-4-12zm-34 7zm-24 5zm-12-7zm-23 10zm-52-15zm-20 3zm-8 13zm-43-19zm-43 14zm-12 0zm-12 2zm-8-6zm-6 9zm-34-20zm-49 6zm-12 16zm-43-22zm-35 19zm-11-7zm-51-7zm-29-3zm-19 31zm1 4zm15 5zm42 2zm31-20zm18 8zm1 0zm23-5zm33 2zm5-4zm18 17zm67-10zm4 7zm107-2zm17-6zm93 5zm25 3zm38-12zm23-1zm26 11zm4-13zm17 6zm7-2zm41-1zm65 17zm92-17zm51 20zm13-5zm86-11zm52 13zm39-18zm8 1zm37 4zm82 15zm7-16zm10 16zm126-23zm140 3zm2 9zm27 6zm26 2zm31-3zm34 13zm-43 13zm-34-6zm-65 1zm-101-2zm-64 10zm-104-15zm-48-2zm-8 2zm-21 6zm-40 11zm-4-23zm-197 2zm-90 9zm-26-5zm-130 6zm-12 4zm-94 5zm-31 0zm-13-6zm0 3zm0-13zm-33-3zm-40 0zm-41 15zm-9-16zm-23 16zm-7 6zm-22-17zm-45 16zm-11-15zm-61 13zm-57-15zm-72 3zm-32-5zm-10 14zm-10 1zm0-10zm-5 25zm70-2zm27-3zm13 0zm2 12zm1-4zm42-12zm84 0zm38 6zm14 0zm23 11zm5-5zm30 7zm61-14zm4 12zm74-18zm2 12zm15-1zm14 10zm8-14zm56-2zm30 3zm56 1zm8-1zm34-4zm25-3zm1 10zm16 3zm2 4zm91-12zm72 0zm90 6zm85-7zm66-5zm21 20zm17-11zm4 9zm11-8zm72-5zm37 0zm2 7zm51-11zm81 6zm44 12zm50-4zm32 6zm30 16zm-69 4zm-44-12zm-130 17zm-1-19zm-28 3zm-5 0zm-33 7zm-31-5zm-25 15zm-53-22zm-21 4zm-2 15zm-9 2zm-27-17zm-32 7zm-109-5zm-73-6zm-179 3zm-68 10zm-1 6zm-37-2zm-64-2zm-10-1zm-21-7zm-29 4zm-25-9zm-8 10zm-19 4zm-14-4zm-30 5zm-12-14zm-57 13zm-31-13zm-47 11zm-14-6zm-36-6zm-12 5zm-8-1zm-3-2zm-25 5zm-39-3zm-15 1zm-26 4zm-20 0zm-14-6zm-1 4zm-57 13zm-2 5zm12 9zm62-5zm20 10zm11-5zm39-2zm100 8zm5 3zm17 1zm20-5zm30-10zm36 11zm9 4zm21-7zm23-8zm13-4zm7 6zm40-10zm105 22zm26-10zm129-12zm3 2zm1 17zm45 1zm8-11zm91 3zm270 2zm26-10zm1 7zm34-3zm4 5zm12-7zm46-5zm23 18zm75 0zm59 2zm53-1zm86 14zm-27 11zm-43 2zm-36-17zm-2 2zm-161-4zm-24 4zm-19 3zm-4 8zm-14-15zm-26 6zm-9 12zm-51-17zm-44 13zm-12-7zm-244 8zm-116-14zm-75-1zm-19 0zm-77 7zm-29-4zm-72 9zm-78-14zm-13 16zm-49 3zm-3-7zm-4-8zm-4 11zm-7-2zm-23-1zm0 8zm-21-18zm-3 11zm-26-2zm-38 9zm-18-1zm-4-10zm-1 12zm-24-5zm-35-9zm-83 1zm-23 23zm9 1zm8-1zm0-1zm5-5zm3-2zm92 10zm20 10zm54-17zm15-3zm14 15zm91-15zm83 3zm5-2zm12 5zm2-3zm75 1zm48 13zm21-10zm44-4zm8 13zm1-17zm46 8zm60 10zm138 3zm87-19zm145-1zm42 8zm84-7zm64 8zm46 2zm143 5zm9 3zm20 4zm40-14zm61 5zm-47 20zm-6-1zm-1 0zm-49 12zm-69-3zm-13-4zm-13-10zm-11-3zm-2 4zm-46 1zm-22-7zm-16 4zm-18 14zm-93 1zm-68 2zm-90-20zm-5 9zm-7 10zm-7-8zm0 3zm-11-6zm-4-2zm-15 7zm-5 3zm-12-10zm-2-4zm-18-3zm-4 15zm-12 2zm-28-1zm-14-10zm-10-4zm-7 16zm-3 4zm-7-3zm-5-3zm-5-8zm-2 3zm-4-3zm-5 6zm-8-10zm-1 19zm-22-4zm-6-18zm-41 6zm-23 11zm-61-14zm-157 8zm-24 3zm-104 4zm-38-4zm-377 8zm3 9zm58 4zm306-5zm105 14zm2-12zm76 14zm15-5zm36-11zm96 6zm39 5zm44-15zm1-2zm63 9zm25 2zm11-4zm2-7zm1 5zm8-2zm3-4zm0 8zm11 12zm14-18zm4 4zm25 18zm7-21zm9 8zm2-4zm14 16zm10-4zm2 1zm5 1zm28-8zm14-4zm7-1zm9 4zm3 10zm10-2zm94-19zm175 11zm70 0zm7 7zm24-3zm21 6zm1-16zm110 5zm9 0zm7-5zm17 40zm-7-2zm-17-1zm-5-17zm-18 3zm-29 16zm-11-15zm-44 2zm-22 9zm-6-4zm-19-8zm-18 8zm-13-7zm-42 8zm-30 3zm-9-11zm-243 10zm-2-5zm-14-5zm-2 17zm0-4zm-2-14zm-1 5zm-2 2zm-37 0zm-4 10zm-29-17zm-11 2zm-9 3zm-2 4zm-1 7zm-14-11zm-8 14zm-13-21zm-1 14zm-16 3zm-28-12zm-13-3zm-1 3zm-6 3zm-3-10zm-19 11zm-37 6zm-8-6zm-5-6zm-121 15zm-155-21zm-55 2zm-126 12zm45 14zm86 2zm95-5zm73 11zm44-11zm33 18zm31 3zm2-13zm30 2zm83 9zm9-12zm0-7zm16 2zm2 20zm30-18zm7 7zm9-8zm44 1zm0 0zm3 8zm7-11zm2 22zm22-7zm3-5zm7 5zm8-1zm28 4zm15-4zm9-4zm6 7zm19 2zm160-4zm62 5zm79-21zm10-1zm7 5zm2 14zm12-3zm30 4zm3-3zm7 1zm85-3zm24 2zm12-3zm3-10zm33 9zm25-4zm1 32zm-37 6zm-15-19zm-11 17zm-115-4zm-22-4zm-4 1zm-5-10zm-2 13zm-21-7zm-3-7zm-8 17zm-2 0zm-15-7zm-37 0zm-157-1zm-63 5zm-58-8zm-9 7zm-6 8zm-3-18zm-3 11zm-8 2zm0-18zm-3 8zm-3 8zm-13-4zm-4-9zm-12 3zm-21 6zm-5-7zm-5 7zm-11-1zm-25-2zm-8-4zm-3 14zm-4 1zm-8-4zm-16-13zm-9 18zm-12-11zm-1 0zm-9-5zm-29 16zm-1 2zm-15-24zm-24 14zm-161 9zm-30-22zm-19 7zm-113 2zm-112-8zm-75 18zm-293-8zm-2-1zm12 23zm200 6zm113-6zm72-4zm6-2zm24 0zm28 3zm11 10zm28-15zm13 1zm15 1zm56 4zm8 16zm4-6zm55-2zm81-15zm6 22zm91-5zm39-3zm6-11zm7 17zm8-16zm5 12zm0-4zm1-9zm4 15zm0 2zm3-1zm1-10zm6 7zm39-6zm10-6zm27 15zm1-20zm1 12zm14 7zm11 1zm30-15zm5 8zm29-10zm8 15zm222-6zm4 8zm92-17zm15 13zm2-8zm4 15zm19-15zm10-6zm1 7zm1 14zm123 1zm5-11zm4 9zm1-14zm19-2zm29 41zm-166-17zm-1 4zm-6 3zm-10 7zm-5-7zm-20-9zm-37 9zm-2 7zm-40-15zm-13 19zm-43-19zm-7 16zm-98 2zm-88-16zm-15 8zm-1 9zm-4-1zm-2-16zm-5 1zm-13-7zm-36 10zm-1 3zm-10-6zm-12 10zm-8 0zm-7-8zm-1-8zm-1 10zm-3 4zm-11-10zm-7 2zm-7 7zm-14-2zm-35 6zm-11 1zm-23-13zm-3 4zm-2-6zm-98 13zm-45-16zm-67 8zm-78 2zm-55-8zm0 9zm-38-10zm-98-3zm-40 4zm-340 14zm354 15zm87 12zm1 1zm23-21zm68 21zm37-11zm90 12zm176-8zm13-1zm7 4zm23-1zm20-11zm2 4zm33-5zm10-2zm1-2zm13 2zm2 11zm5-1zm6 6zm11-11zm32-2zm6 7zm8-8zm10 2zm23 4zm8 9zm4-14zm2 1zm68 12zm236-10zm21-4zm2 15zm31-9zm6 10zm2-10zm18 7zm3 1zm6-16zm15 18zm62-9zm24 12zm32-16zm3 2zm-25 24zm-114-2zm-13 3zm0-6zm-6-3zm-18 15zm-4 6zm-2 0zm0-2zm-17-13zm-7-2zm-31 8zm-14 8zm-70-21zm-1 3zm-67 0zm-129 17zm-15-17zm-2 15zm-4-3zm-4 1zm-21-7zm-3 5zm-2 1zm-7-5zm-1-4zm-12 11zm-6-17zm-1 23zm-13-16zm-14 15zm-17-7zm-1-8zm-29 2zm-19 10zm-13-8zm-3 7zm-6-3zm-18-1zm-8-2zm-8 7zm-7 4zm-67-2zm-55-7zm-25-4zm-9 10zm-41-13zm-24 4zm-84-3zm-71 5zm-79 8zm-37-3zm-33-14zm-326 29zm78 8zm91 1zm122 3zm143-2zm48-15zm20 7zm14 3zm38 9zm6-3zm4-13zm49 6zm41 0zm47 9zm92-22zm59 4zm4 14zm12-12zm1 16zm9-22zm1 2zm2 11zm5 1zm20 3zm20-5zm23 2zm8-14zm24 5zm12 3zm5-1zm21-1zm38-6zm3 14zm25 6zm8-17zm182 17zm145-6zm5-5zm41-1zm1-7zm2 12zm107-13zm11 1zm27 12zm5 3zm2 18zm-27 10zm-31-19zm-20 6zm-121-3zm-18-3zm-11 13zm-37 1zm-31-10zm-43 8zm-29 0zm-3 7zm-45-20zm-33 19zm-2-12zm-56-3zm-69 7zm-109 9zm-10-16zm-41-2zm-131 9zm-58 3zm-9-2zm-12 3zm-62-9zm-65 7zm-91 9zm-25-17zm-6 2zm-83-3zm-35 10zm-23 4zm-38-10zm-17 4zm-4-2zm-15 11zm-22-14zm-33-8zm-26 13zm-19-10zm-55 15zm-43-4zm-24 7zm28 22zm29-13zm29 8zm25-1zm30 2zm5 7zm8-3zm5 3zm28-3zm29-1zm3-3zm17-2zm14 0zm51-3zm6-8zm55 1zm19 19zm31-15zm3 2zm29-6zm85 16zm54-8zm48 9zm0-5zm19-9zm144 12zm12-10zm13 13zm4-20zm195 15zm172-15zm52 2zm65 17zm1-2zm65-12zm3-2zm55 3zm48 8zm9 6zm1-6zm63-13zm7 6zm28 7zm7-12zm30 39zm-37 4zm-28-11zm-64 7zm-8 3zm-60-19zm-23 10zm-38 7zm-99 5zm-1-6zm-7-16zm-31 19zm-11-17zm-12 14zm-14 0zm-26-11zm-27 2zm-20 12zm-12-7zm-111-4zm-129 1zm-11-10zm-68 12zm-10-6zm-3 2zm-19 12zm-10 0zm-1 1zm-1-2zm-41-15zm-23 13zm-27 3zm-104 3zm-26-21zm-25 5zm-56 13zm-15-7zm-77-13zm-13 3zm-45 12zm-1 3zm-39-6zm-72-8zm-11 2zm-105-7zm-19 46zm28-12zm10-6zm21 16zm37 1zm12-11zm12-2zm45 9zm26-4zm19-5zm5 3zm11 5zm10 7zm1-9zm51-4zm26-7zm22 0zm22 3zm5 1zm14 0zm38 3zm82 7zm12 0zm36-6zm88-1zm34 3zm63 0zm61-4zm13 12zm61-8zm32-5zm11 9zm27-4zm18 11zm48 0zm42-7zm26-10zm26 13zm23 1zm85-18zm77 0zm25 10zm2 6zm32-5zm7-12zm3 12zm24-5zm7 2zm54 9zm59-8zm69-7zm29 4zm5 33zm-70-13zm-15 1zm-17 8zm-51-8zm-13-2zm-42 5zm-43 7zm-14 2zm-5 6zm-55-3zm0-1zm-62-14zm-15 10zm-38-10zm-45 5zm-369 9zm-11 2zm-5-2zm-14 1zm-58-9zm-5-11zm0 9zm-10 3zm-3 1zm-46-4zm-3 3zm-76-1zm-34 7zm-51 0zm-7 0zm-27 0zm-1-16zm-12-3zm-52 16zm-6 0zm-1 3zm-3-9zm-30-2zm-8-1zm-15-5zm-88 1zm-21 19zm-11-14zm-106 14zm-2 0zm-14-15zm-22 6zm-13 2zm12 13zm5 5zm7-4zm17 1zm2 8zm55-13zm2 12zm7-12zm6 22zm9-10zm58-12zm72 9zm1-9zm3 2zm21-1zm26 11zm39 11zm36-22zm45 8zm36 1zm3-2zm47-2zm46 11zm36-17zm85 13zm6-10zm36-1zm34 15zm5-8zm6 1zm22-9zm120 7zm80-2zm41-6zm4 1zm16 7zm39-7zm19 17zm5-5zm42-7zm25-2zm44 3zm13 3zm9-9zm2 13zm19-6zm17-5zm46 2zm3 5zm23-7zm47 4zm12 10zm59 2zm23 3zm77-23zm50 43zm-8-13zm-11-2zm-25 8zm-1 7zm-30-2zm-53 7zm-37-15zm-20 0zm-52 8zm-40 3zm-22-10zm-26 10zm-10-8zm-145 7zm-25-7zm-30 10zm-20-16zm-15 16zm-80-4zm-49-18zm-51 18zm-77 5zm-39-17zm-9 5zm-5 2zm-16 5zm-22-1zm-16-7zm-51-5zm-13 7zm-1-3zm-1 5zm-25 3zm-13-15zm-3 19zm-10 2zm-5-1zm-50-2zm-7-18zm-142 20zm-12-1zm-11-9zm-61-9zm-36 0zm-24 2zm-62 7zm0 7zm-74-9zm-50 11zm-17 2zm-2-18zm-19 16zm2 3zm52 22zm43-4zm1 5zm22 1zm57-13zm24 2zm40 10zm22-6zm16-10zm50 0zm33 12zm10-14zm16-1zm23 17zm8-17zm2 18zm15 0zm41-4zm13 1zm67-9zm3 14zm21-8zm18-12zm62 11zm153 2zm9 4zm107-17zm68 12zm4-9zm63-7zm38 5zm14 16zm45-3zm19-11zm5 3zm2 4zm1-2zm2-10zm41 16zm7-7zm15 10zm13 2zm4-1zm29-4zm9-16zm33 6zm26 4zm77-10zm24 3zm3-2zm38 9zm93 10zm3-2zm-11 12zm-10-5zm-4 11zm-19-9zm-5 13zm-25-11zm-10 15zm-28-21zm-54 12zm-28-12zm-23 2zm-22 15zm-4-7zm-7-3zm-108-1zm-9 16zm-43 0zm-39-1zm-40-16zm-192 15zm-5-2zm-41-1zm-21 0zm-53-11zm-14 17zm-20-22zm-31 8zm-3-8zm-3 0zm-11 9zm-7-1zm-11-9zm-34 11zm-69 7zm-19 4zm-14-17zm-25 3zm-5 8zm-6-2zm-11 7zm-126-3zm-35 3zm-27-20zm-17 22zm-15-15zm-22 8zm-17-15zm-18 4zm-2-3zm-32 20zm-6-7zm-30-10zm-10 8zm-1 3zm-4-6zm-10 7zm-30-18zm-4 12zm-1 6zm-52 3zm-29-19zm15 25zm108 0zm38 16zm21-2zm44 1zm46-7zm4-9zm13 22zm4-14zm33 7zm22 1zm44 5zm50-12zm89 10zm1-10zm30-2zm20-4zm50 18zm4-5zm44-8zm17-2zm4-5zm47 0zm17 16zm17-12zm89 16zm12-3zm42-6zm38-3zm44 7zm7-11zm39 10zm45-14zm4 7zm93 7zm16 6zm66-9zm56-10zm35 13zm32-14zm50 10zm34-5zm2-4zm64 18zm29 7zm-8 18zm-42-17zm-19-1zm-21 6zm-108-11zm-45 20zm-5-15zm-23 9zm-19-1zm-28 6zm-26 0zm-25-15zm-8 4zm-56-5zm-11 0zm-7 18zm-36-15zm-46 14zm-105-18zm-65 13zm-12-8zm-45-6zm-145 3zm-13 3zm-3 2zm-58 10zm-3-12zm-15 8zm-12-8zm-1 5zm0-1zm-172 11zm0 2zm-3-24zm-19 21zm-18-16zm-33 7zm-16 4zm-29-10zm-26 10zm-80 1zm-34-3zm-19-10zm-9 19zm-33 0zm-6-20zm-32 5zm-25 0zm-13 4zm-31-2zm61 34zm67 1zm2-2zm62-10zm4-5zm17 15zm2-5zm56 1zm52 3zm50 3zm17-5zm52-6zm50-9zm34 7zm30 2zm58 0zm34-3zm2 12zm2-11zm24 0zm16-8zm52 6zm70 7zm0-8zm37 3zm29-5zm95 13zm33-2zm46-8zm39 3zm18 9zm4-11zm56 8zm24 8zm39-10zm11-8zm11 0zm4-1zm34 6zm4 1zm2 5zm41-13zm58 8zm8-10zm61 17zm22 0zm15-11zm97 6zm8 32zm-23-11zm-126-6zm-101 12zm-5-7zm-20-1zm-59 5zm-9-5zm-77 7zm-2-11zm-1 6zm-28 11zm-136-3zm-24-7zm-54 12zm-84-21zm-34 5zm-84-2zm-38 11zm-25 7zm-5-22zm-3 12zm-43-1zm-6 1zm-7 0zm-42 9zm-22-6zm-75-13zm-21 6zm-44-7zm-81 0zm-5 11zm-15 5zm-35 3zm-12-3zm-30 4zm-18-9zm-20 2zm-35 5zm-9-2zm-21-13zm-50 4zm-45-5zm-19 42zm55 0zm23-19zm68 0zm8 4zm3 12zm23-12zm4 0zm126-1zm2-5zm15 18zm16-7zm59 12zm65-10zm46-7zm31 3zm86 8zm65-7zm45-7zm17 17zm6-20zm23 21zm23-17zm93 5zm146-5zm34-1zm35 10zm62-8zm14 7zm0-10zm18-3zm15 3zm2 12zm43-13zm8 3zm108 11zm43-8zm116 10zm3-2zm42 14zm-41 16zm-64-7zm-29 9zm-44-14zm-11-5zm-42 2zm-63-1zm-4 16zm-1-3zm-21 2zm-14-16zm-65 0zm-57 7zm-27 9zm-13-2zm-12-3zm-51 4zm-35-12zm-86-3zm-100 9zm-31 6zm-11-9zm-16 5zm-64-12zm0-2zm-6-2zm-11 14zm-103 7zm-83-11zm-19-10zm-33 2zm-11 4zm-15 7zm-55-11zm-14 17zm-10 4zm-6-15zm-27 4zm-3-2zm-39 2zm-6-11zm-16 12zm-4 4zm-38 1zm-44-4zm-26-12zm-30 16zm-32 3zm-8-4zm-15-13zm-34 0zm-23 36zm62-2zm27-7zm14 16zm25-10zm26-7zm4 13zm3-10zm6-1zm43 0zm23 13zm19-9zm41 1zm3 11zm51-13zm31 11zm11 1zm20-8zm31-7zm34 15zm2-8zm80-5zm10 7zm26 2zm18 1zm40-6zm16 0zm132-1zm278-12zm28-1zm49 15zm7-2zm6 7zm22-14zm18 17zm81-3zm25 0zm41-19zm12 13zm35 9zm17-15zm14 13zm38-4zm2-8zm46 9zm45-5zm23 24zm-131-11zm-5 1zm-93 18zm-7-5zm0-4zm-19-5zm-36 8zm-13 3zm-29-8zm-14-7zm-1 18zm-164-16zm-139 3zm-138 10zm-11-17zm-14 15zm-7-11zm-39 15zm-17-13zm-36 6zm-4-6zm-18-3zm-8 16zm-11 1zm-123-18zm-84 16zm-41 2zm-18-4zm-20 6zm-11-8zm-14 7zm-49-5zm-43-13zm-38 2zm-10-3zm-54 12zm-3 3zm-23-6zm-13-5zm-17 8zm-39 6zm-13 11zm30 0zm1 9zm41 3zm4-18zm4 16zm60-2zm18-14zm28-1zm11 22zm22-22zm4 8zm22-1zm35 5zm14 9zm6-9zm44-3zm12-7zm7 5zm43-7zm0 8zm19-8zm7 4zm18 8zm49 6zm22 3zm5-15zm3 8zm34-8zm176 2zm2-8zm13 12zm17-9zm4-1zm38 7zm241 7zm52-2zm48 6zm11-6zm27-5zm10-2zm47 6zm71 5zm2 5zm48-5zm49-11zm70 3zm47-3zm31-4zm37 2zm-46 20zm-48 13zm-41 8zm-7-15zm-2 6zm-48-9zm-23 19zm-4-13zm-44-2zm-56 14zm-77-4zm-1-5zm-37-7zm-8 9zm-6-3zm-97-9zm-1 8zm-13-7zm-17 10zm-226-1zm-34-3zm-23 4zm-23 2zm-76-9zm-19-2zm-4-5zm-3 9zm-6 12zm-12-14zm-1-7zm-9 3zm-26 7zm-22 0zm-1-4zm-28-1zm-40 15zm-8 1zm-123 2zm-8-24zm-3 16zm-1-4zm-48 3zm-20-8zm-9 7zm-17-7zm-30 6zm-25-5zm-13 2zm-45 13zm-32 1zm-5-3zm-3-3zm-35-6zm-20-3zm-39 19zm8 19zm82-19zm0 7zm8 11zm69-6zm48 0zm68-5zm8 9zm2 3zm80-2zm34-19zm36 9zm44-6zm28 1zm10 6zm28 2zm16 4zm44 2zm9-8zm11 10zm6-9zm81 2zm5 7zm13-11zm19 5zm50 0zm273-3zm33 2zm5-5zm41 9zm45-14zm58 12zm39 5zm21-18zm40 8zm29-5zm93-4zm22 13zm55 5zm41-4zm13 28zm-68-8zm-2-11zm-5 11zm-58-8zm-3-2zm-15 3zm-59 1zm-7 8zm-46-9zm-26-4zm-5 1zm-4 20zm-14-23zm-28 7zm-37 9zm-22-16zm-45 21zm-29 2zm-76-14zm0 9zm-68-2zm-225-11zm-21-3zm-73 1zm-84-1zm-72 20zm-2-4zm-65-17zm-50 20zm-7 1zm-3-17zm-4 4zm-1 11zm-11-17zm-13 8zm-3 0zm-124-6zm-8 6zm0 6zm-53-16zm-38 7zm-20 12zm-8-15zm-22 5zm-20-4zm-41 1zm-5 13zm-3-11zm-2 12zm-6 11zm95 10zm9 5zm43-11zm17-4zm0 0zm61 1zm19 13zm67-18zm68 1zm8 12zm66-14zm68 18zm1-15zm49 10zm18-5zm23 7zm26-9zm40 8zm48-10zm37 3zm164 5zm176 2zm35 1zm3-17zm6 19zm3-11zm8 11zm21-11zm77 0zm41 2zm19-6zm16 11zm75 5zm28-4zm14-12zm14 1zm14 9zm8 6zm10-9zm17-1zm52-8zm-31 33zm-69 7zm-11-16zm-7 11zm-68 10zm-61-11zm-36-8zm-21 1zm-4-5zm-1 9zm-19 0zm-68-4zm-14 16zm-35-14zm-39 9zm-3 1zm-6-13zm-14 17zm-314-2zm-2-15zm-25 17zm-20-2zm-11-12zm-31-8zm-11 18zm-33 3zm-18-15zm-58 7zm-11 7zm-20-16zm-61 11zm-27 6zm-11-14zm-1 8zm-40-5zm-7 13zm-55 1zm-25-9zm-49 8zm0-13zm-49 1zm-33-2zm-21 13zm-11-1zm-29 1zm-46-6zm-5 8zm-42-11zm-16 28zm1-2zm36-9zm4 0zm42-2zm101 1zm17-4zm0 15zm24 6zm35-10zm20-7zm15 19zm41-14zm5 5zm6-9zm82 2zm6-1zm61 12zm16 3zm75-16zm32 3zm28 4zm23-7zm3 11zm2-10zm22 4zm9-7zm9 13zm39-12zm5 9zm22-1zm36-2zm262-2zm39 12zm13-20zm17 6zm8 3zm8 5zm48-10zm4 6zm90-5zm8 13zm231 1zm88-3zm-167 15zm0 8zm-99 3zm-3-10zm-9 3zm-73 7zm-22-4zm-2 7zm-36-6zm-2-3zm-1 7zm-24-18zm-22 12zm-18-13zm0 17zm-20 5zm-39-22zm-20 15zm-263-7zm-7 4zm-11-12zm-2 16zm-6-9zm-41 6zm-10-9zm-8 8zm-5 5zm-5-15zm-24-3zm-67 17zm-1-7zm-10-6zm-52 10zm-92-12zm-20 8zm-15 8zm-5 2zm-13-8zm-30 3zm-26-1zm-43 9zm-13-9zm-34 5zm-30-12zm-6 10zm-4 1zm-47-18zm-36 14zm-6-6zm-6 4zm-16-4zm-104 13zm-13 12zm15-7zm11 11zm23 4zm26-6zm43-9zm39 5zm8-3zm3 6zm106-6zm59-2zm4 10zm3-9zm1 1zm2 2zm13-2zm6 2zm41 6zm65-10zm19 10zm7 7zm24 4zm5-12zm7 10zm18-1zm45 1zm0-10zm34-1zm2-10zm21 13zm26-1zm3 9zm52-7zm0 9zm12-19zm55 8zm21 5zm239 3zm33-17zm10 9zm41 8zm1 3zm10 1zm47-22zm3 19zm45-2zm5 3zm23-21zm12 22zm20-14zm1 7zm51-8zm109 9zm16-15zm21-1zm60 13zm50-7zm-48 22zm-20 4zm-17 14zm-41-20zm-35 2zm-138-1zm-40 18zm-46-16zm-10-2zm-21-4zm-26 8zm-15 4zm-23-2zm-55 11zm-293-1zm-25-12zm-1 14zm-14 1zm-68-21zm-9 9zm-43-7zm-75 14zm-12-8zm-6 8zm-40-9zm-61 14zm-5-20zm-48 21zm-13-18zm-12 9zm-17 5zm-59-2zm-1-2zm-14 0zm-52 3zm-44-6zm-42 9zm-15-4zm-4 2zm-16 3zm-77-22zm-20 12zm14 29zm2 2zm33-3zm18 2zm15-10zm14 13zm1-15zm16 7zm6-7zm37 4zm76 11zm80-13zm8-5zm87 9zm1-3zm5-3zm73-3zm68 10zm3-3zm48-3zm38 4zm49-7zm3 8zm4 0zm80-2zm7-8zm119-1zm28 20zm131-22zm11 8zm13 0zm7-7zm3 18zm12-15zm3-2zm2 5zm7 12zm60-13zm37 9zm12 3zm8-5zm36 3zm46-6zm24 3zm131 3zm60-7zm15 1zm56 35zm-49-15zm-5 9zm-176-7zm-23 1zm-30 13zm-35-10zm-33 4zm-3 3zm-28-10zm-44-7zm-49 8zm-1-4zm-10-4zm-3 19zm-8-11zm-306-5zm-13 9zm-131-7zm-14-6zm-1 14zm-1 8zm-10-11zm-35-11zm0 14zm-42-15zm-8 23zm-3-6zm-11-1zm-5-2zm-15 1zm-20 0zm-6-13zm-39-1zm-22 7zm-19 3zm-16-1zm-171 5zm-9-14zm-3 19zm-64-1zm-16-5zm-15 0zm-29 6zm-78-9zm4 25zm7 8zm52-8zm5-5zm54 2zm23 11zm6 1zm2-5zm13 0zm13-7zm29 12zm51-15zm6 6zm1 1zm61-6zm16 5zm35-4zm45 0zm6 10zm74 1zm19-8zm0-7zm102 19zm5-11zm22-3zm12-5zm14 17zm50-19zm4 6zm28 9zm2-13zm113-1zm71 10zm133-12zm25 18zm0 2zm24-12zm2 8zm8 1zm48-13zm95 3zm209 5zm22 4zm13-13zm15 31zm-78 0zm-9-4zm-88 11zm-63 3zm-13-10zm-22-6zm-1 3zm-22-4zm-8-2zm-6 16zm-21-5zm-4-1zm-1-6zm-33 11zm-72-6zm-6-3zm-295 8zm-7-10zm-74-1zm-14 3zm-148 8zm-68 5zm-5 0zm-72-12zm-34 0zm-7 14zm0-8zm-17 4zm-26-16zm-13 14zm-33-8zm-7 10zm-27-9zm-1 9zm-68 3zm-12-11zm-2-9zm-13 16zm-45-2zm-26 3zm-23-7zm-16 1zm-20 9zm-31 6zm18 13zm1 2zm18-5zm14-5zm2 3zm20-1zm34 10zm17-11zm67-6zm1 10zm10-8zm3 6zm11-4zm22 7zm25-7zm23-2zm6 2zm61 5zm5 6zm28-7zm11-7zm96 15zm12 4zm19-22zm2 22zm1-22zm39 1zm37 7zm16 7zm29 5zm52-9zm69-5zm4 11zm266-9zm105-6zm6 19zm2-4zm16-19zm48 22zm136-15zm22 4zm13-10zm70 9zm11 8zm4 2zm21-17zm9 7zm3 14zm2-11zm40 4zm14 6zm55-6zm17 28zm-70 0zm-9 2zm-9-12zm-70-3zm-82 1zm-33 5zm-3-13zm-49 17zm-57 6zm-37-14zm-55-1zm-23 7zm-2-9zm-2 13zm-445-19zm-34 9zm-61-10zm-18 16zm-38-13zm-49 16zm-1-6zm-17 3zm-8-5zm-122-1zm-28 1zm-6 8zm-45-10zm-15 2zm-22 1zm-15 7zm-23 5zm-106-11zm-25-5zm-11 14zm-8-18zm-1 2zm-1 14zm-28-5zm-2 0zm64 28zm60-9zm34-4zm18 2zm4-8zm14 0zm8 4zm9 1zm42 2zm58 2zm36 8zm39-7zm38-4zm13 1zm180 0zm1-4zm23 6zm0 1zm4-3zm1 2zm34 10zm75-13zm9 5zm322 8zm5-5zm68-7zm46 12zm3 2zm1-17zm16 15zm3 1zm55-8zm1 8zm72-11zm126-7zm13 3zm24 17zm8-16zm17 3zm-421 16zm-25 0zm-71 2zm-19 13zm-16 1zm-43-1zm-8-9zm-16 1zm-3-4zm-13 14zm-31-2zm-231-16zm-273 9zm-86-9zm-13 1zm-220 0z"/>
<path d="M2102 612zm-38 6zm-104-10zm-84 11zm-85-9zm-95-2zm-280 14zm-104-1zm-12-1zm-69-1zm-40-11zm-77 13zm-71 2zm-95-15zm-109 4zm-37 11zm-19-3zm-10-8zm-51-1zm-33 30zm122 4zm42-11zm7-6zm48 19zm6 0zm75-18zm15-2zm5 1zm11-1zm36 16zm38-2zm21-7zm135-5zm38 9zm111 8zm43-3zm90-6zm43 9zm2-21zm78 4zm16 3zm41 1zm4-3zm11 1zm58 16zm41-4zm48-3zm34-16zm128 14zm110-4zm-47 37zm-233-19zm-89 2zm-28 14zm-29-6zm-3 7zm-38 2zm-45-12zm-22 1zm-12 6zm-5-7zm-18 4zm-8 6zm-71-9zm-44 7zm0-1zm-24-15zm-81 7zm-84-1zm-24 2zm-24-9zm-5 13zm-6-1zm-111-4zm-79-7zm-74 17zm-69-2zm-70-18zm-2 18zm-119-8zm-33-1zm-14 13zm-10 17zm45-14zm36 11zm19-4zm24 10zm116-12zm9 17zm58-17zm12-5zm16 11zm44-6zm85 14zm8-1zm2-6zm17 9zm8-16zm11-1zm54-2zm9 3zm37 14zm35-5zm38-3zm27-1zm26 9zm28 1zm52 1zm8-11zm34 7zm45-10zm45-3zm26-2zm15 9zm12 2zm10 3zm35-17zm2 2zm7 8zm2-4zm37 10zm28 6zm61-8zm17 4zm135 1zm18-14zm49 1zm19 0zm45 9zm8-9zm2 6zm24 7zm-72 9zm-51 9zm-96-9zm-117 13zm-40 6zm-98-23zm-6 20zm-246-10zm-8-6zm-121 9zm-239-12zm-7 15zm-43-2zm-26 7zm-54-10zm-38-4zm-49 13zm-24 3zm-72-7zm-15-14zm-15 11zm-7 7zm-17-4zm-40 32zm27-15zm33 5zm53 0zm28 10zm54-22zm52 6zm17 15zm11-15zm89 2zm232-8zm63 9zm4 7zm32 3zm70-6zm176 8zm50-21zm53 7zm81 6zm12 2zm19 4zm47-2zm31-18zm1 2zm4 15zm21-8zm37 12zm65-6zm71-9zm152 7zm-48 28zm-7 2zm-51 2zm-252-17zm-1 18zm-47-17zm-27-4zm-28 10zm-247 6zm-70-17zm-10 7zm-15 6zm-38-10zm-31 13zm-45 0zm-72 2zm-31-6zm-81-6zm-32 3zm0-1zm-6 6zm-43 5zm-26 1zm-21-3zm-11-1zm-29-13zm-139 3zm-3 2zm-8 10zm-9-11zm-4 4zm-46 11zm-20-13zm-29 7zm-21-17zm-19 7zm26 26zm175 2zm106 9zm23 0zm27 2zm2-10zm113-6zm37 12zm19 5zm42-22zm44 9zm134-8zm28 9zm53 0zm3 9zm7 2zm19 2zm24-2zm14-7zm15 9zm28-1zm20-14zm10 2zm23-10zm14 14zm20 7zm24-5zm19-4zm44-9zm39 18zm87-16zm28-3zm13 1zm4 0zm51 1zm28-4zm25 17zm33-11zm0 0zm21 10zm114-11zm15 1zm52 39zm-68-8zm-9 1zm-5 4zm-11-3zm-19-10zm-9-2zm-14 1zm-63 14zm-6-13zm-20 4zm-16 3zm-2 11zm-8-4zm0 1zm-13 0zm-41 3zm-124-20zm-1 19zm-28 0zm-122-4zm-3-1zm-5-10zm-1 0zm-4-5zm-10 16zm-11-4zm-2-5zm-5 7zm-21-12zm0 11zm-9-5zm-8 8zm-17-16zm-1 16zm-16-15zm-5 3zm-10 12zm-6-2zm-4-8zm-2 0zm-12 8zm-2-15zm0 16zm-7-8zm-31 12zm-10-19zm-17 15zm-7-7zm-2-7zm-66 13zm-9-1zm-31-4zm-38-9zm-67 20zm-48-5zm-22 0zm-23 1zm-9-18zm-52 0zm-17 6zm-68 6zm-82 9zm-36-19zm-164 15zm-121 22zm394-4zm13 11zm11-16zm59 1zm8 3zm53 2zm34 7zm117-18zm39 14zm1-2zm10-6zm116-1zm22 1zm8 9zm8 6zm28-7zm5-11zm2 17zm7-11zm9 2zm6-13zm3 13zm10-9zm1 18zm3-6zm11 1zm11-13zm10-1zm0 6zm3-1zm0 12zm1-6zm2 0zm7-11zm1 13zm0-10zm3 3zm0 1zm3 7zm28-11zm11 12zm18 4zm9-15zm423 10zm65-12zm55 3zm-52 29zm-48 8zm-9 3zm-40-20zm-6-2zm-29 5zm-22-1zm-69-4zm-7 21zm-46-7zm-26-2zm-166 4zm-79-9zm-3 14zm-15-12zm-2 2zm-4-10zm0 6zm-37-9zm-33 2zm-4 9zm-47-4zm-4-6zm-3 17zm-4 1zm-4-13zm-34 0zm-63-3zm-81 16zm-50 1zm-9-18zm-90 21zm-1-8zm-31-14zm-16 15zm-193 4zm-3 4zm-3-8zm-42-4zm-133 1zm-90 4zm17 31zm19-7zm20-7zm25 8zm49-8zm24-1zm21 8zm6-4zm4-2zm61-2zm1-9zm10 1zm50 16zm68-10zm41 15zm17-20zm15-2zm42 18zm36-6zm44-3zm15 1zm12 10zm95-9zm7 11zm31 0zm100-5zm67 1zm19-2zm59 7zm63-21zm21 17zm4-6zm12 2zm17-6zm52 13zm52-5zm87-3zm67-11zm20 2zm39 9zm42-1zm13 5zm74 2zm51-15zm31-4zm-3 42zm-93-18zm-3 11zm-22 1zm-26-9zm-64 14zm-42-15zm-73 21zm-82-10zm-6 1zm-27 8zm-3-7zm-1 7zm-45-13zm-6 6zm-23 7zm-3-16zm-23-6zm-9 6zm-5-6zm-64 18zm-5-11zm-29 14zm-115-3zm-60 1zm-5-19zm-9 8zm-13 10zm-27 3zm-13-4zm-24-18zm-21 14zm-57 3zm-51 1zm-8-6zm-26-3zm-20 14zm-23-23zm-32 2zm-39 12zm-13-4zm-18-8zm-23 1zm-4-1zm-24 10zm-3-1zm-2 4zm-12-13zm-40 1zm-74 16zm-2 3zm-80-2zm-23-16zm-20 8zm-85 29zm3-7zm3-4zm32 11zm3-4zm26 9zm63-13zm20 11zm12-17zm60 13zm39-1zm29-1zm145 2zm4-9zm199-4zm25 8zm13-10zm104 22zm92-6zm55-11zm30-2zm67 9zm64-6zm50 0zm75 10zm16-14zm22 19zm63-12zm8-9zm126 18zm28-1zm6 0zm26-11zm44-3zm13-2zm-196 25zm-19 10zm-37 6zm-45-8zm-13 6zm-70-1zm-15-6zm-23 4zm-12 3zm-8-8zm-21-7zm-45-2zm-9 16zm-94-12zm-94 5zm-28-3zm-20 2zm-13 14zm-40-21zm-8 4zm-24 18zm-114-20zm-20 13zm-2-12zm-22 6zm-22 9zm-5-17zm-24 5zm-26 2zm-17-8zm-13 22zm-76-2zm-19 2zm-23-6zm-13-9zm-12 14zm-23-19zm-17 19zm-57-15zm-3-1zm-5-5zm-27 15zm-26-5zm-14-3zm-6 11zm-23-2zm-11 4zm-30-5zm-21 1zm-73 2zm18 19zm10-12zm92 2zm4 9zm10-12zm8 19zm25 4zm13-23zm29 2zm17-1zm5 2zm31 17zm9-7zm43-4zm13 3zm63-6zm4 8zm11-12zm1 11zm5 2zm40-10zm4 4zm49-6zm9 13zm110-3zm20 2zm20-7zm8-4zm27 5zm21 12zm12-11zm56 11zm87-5zm6-2zm26 0zm54-4zm90 0zm52 4zm70-9zm21 17zm8-16zm126 3zm19-7zm34 2zm0 6zm26-7zm20 12zm39-13zm20 2zm5-5zm60 10zm16 8zm-54 13zm-122 3zm-25 3zm-28-7zm-19-6zm-46 9zm-6-6zm-24 3zm-71 7zm-32 6zm-8-4zm-35-7zm-7-1zm-97 13zm-12-5zm-3-14zm-93 8zm-65 3zm-116 9zm-19-16zm-47-1zm-31 12zm-39-1zm-34 5zm-19-12zm-17-2zm-29 5zm-113 11zm-32-17zm-16 14zm-29-3zm0 3zm-21-14zm-67-1zm-2 7zm-39 6zm-27-17zm-2 16zm-15 4zm-2 3zm-1-15zm-37 4zm-8-6zm-13-2zm-24-1zm-35 28zm100-1zm2-6zm13 5zm1-3zm30 20zm128-5zm16-15zm27 20zm22-3zm8-18zm86 15zm28-10zm2 0zm9 9zm2 5zm136-7zm9 9zm28-15zm18 11zm1 1zm8-15zm2 8zm19-3zm4-7zm74-2zm8 1zm212 13zm50-8zm5-4zm51 7zm37 7zm2-14zm13 4zm16 12zm44-4zm62-8zm46 8zm19 7zm24-10zm0-10zm36 0zm5 18zm91-5zm73-5zm4 5zm33-9zm48 14zm-39 18zm-39 3zm-9 3zm-39-7zm-3-1zm-8 12zm-119-17zm-42 18zm-51-4zm-8-9zm-6-8zm-37 7zm-47 12zm-44-11zm-18 6zm-28-9zm-4 10zm-78-7zm-73 1zm-124 0zm-8-9zm-106 4zm-36 0zm-68-4zm-20 18zm-7-6zm-24-5zm-61-4zm-30-5zm-19 14zm-9 3zm-32-2zm-45 5zm-26-12zm-23 11zm-38-18zm-14 3zm-20 4zm-15 4zm-74-9zm-1-1zm-79 18zm-10-5zm-43-3zm22 34zm8 0zm49-1zm31-5zm43-4zm22-13zm44 2zm7 4zm42-1zm24-5zm29 4zm32 4zm43-2zm9 11zm29-8zm25 6zm108-9zm132-5zm20 1zm20-1zm20 18zm42-9zm7-9zm263 3zm24 17zm10-20zm32 20zm27-17zm17-3zm13 8zm82-7zm32 4zm28 5zm11-11zm54 16zm32-12zm94 2zm71 11zm23 19zm-35-10zm-125 13zm-1-5zm-95 1zm-84 12zm-8-8zm-59-8zm-3 17zm-39-19zm-84 8zm-104 3zm-176 2zm-79-17zm-17 9zm-23 0zm-7 12zm0 1zm-2-4zm-29 2zm-42-15zm-26-4zm-10 19zm-7-13zm-27-6zm-62 4zm-13 3zm-18 4zm-6 3zm-43-15zm-16 13zm-17-11zm-21 12zm-7 9zm-10-16zm0-7zm-80 1zm-24 18zm-12-6zm-8 5zm-22-4zm-33-8zm-31 2zm-39 5zm-13 6zm-19-2zm-49 6zm10 3zm12 0zm14 15zm3 2zm1-1zm6-5zm14 10zm5-6zm12-12zm10 8zm59 3zm2 0zm12-2zm25-11zm28 16zm9-10zm5-2zm6-5zm23 1zm16 8zm72-12zm9 21zm98 3zm26-24zm13 7zm45 12zm28 4zm85-7zm57 7zm4-17zm57-4zm7 16zm27 0zm8-16zm21 8zm51 14zm24-17zm186 2zm43 14zm5-1zm129-4zm27 0zm8-5zm58 7zm60 2zm39-8zm96 28zm-6-14zm-193 5zm-16-5zm-37 14zm-7-16zm-97 4zm-13 2zm-56-2zm-28 7zm-8-4zm-14 12zm-12-15zm-38 16zm-103 0zm-90-8zm-8-7zm-63 0zm-78-2zm-21 6zm-32 4zm-5-3zm-76-1zm-51-7zm-14 9zm-25-10zm-2 11zm-35-4zm-12 4zm-7-1zm-11-1zm-32 5zm-12-16zm0 4zm-28 3zm-41-5zm-40 20zm-23 0zm-38-19zm-2 15zm-3-4zm-14-14zm-26 8zm-37-7zm0-2zm-20 3zm-29 1zm-17 0zm-34 19zm17 20zm9-16zm20 1zm2 13zm19-7zm5 7zm16-1zm8-11zm22 0zm19 6zm33 8zm21-17zm12 7zm11 3zm16 5zm23-4zm18 2zm19 2zm60 1zm52-15zm28 20zm51 0zm12-16zm7-6zm42-1zm32 6zm69 5zm4-8zm13 2zm62 13zm16-3zm44-4zm41-10zm82 20zm19 2zm91 1zm1-1zm1 1zm56-7zm0-7zm14 4zm6 1zm28 4zm22-8zm16 5zm40-15zm31 11zm24 1zm16-13zm62 4zm213 18zm85 9zm-15 4zm-23 3zm-24-3zm-14 4zm-19 2zm-33-11zm-64-6zm-1 21zm-13-11zm-20 3zm0 8zm-2-3zm0 4zm-2-8zm-11 1zm-91-10zm-5 8zm-236 10zm-3-3zm-24-16zm-24 19zm-2-14zm-2-7zm-4 0zm-2 21zm-13-13zm-14-2zm-3 7zm-14 5zm-9-13zm-4-3zm-13 8zm-45-2zm-12-5zm-2 1zm-8 5zm-7-6zm-2 4zm-88 15zm-105-13zm-78 12zm-59-9zm-37-7zm-53-2zm-119 8zm-332 6zm-2-6zm281 32zm39-4zm16-12zm82 2zm118 2zm90-2zm28 3zm49 7zm84 7zm64-15zm5 12zm6-8zm13 7zm1-2zm11-1zm8-6zm37 5zm17-5zm3 2zm12 1zm13-13zm10 5zm22 9zm5-10zm4 16zm6-17zm3 12zm19-1zm9 1zm9-10zm4 5zm2-8zm12 2zm144 8zm26 7zm70-7zm88-8zm21 1zm0 7zm4-10zm10-2zm24-1zm89 19zm24-4zm24 8zm12 15zm-20 9zm-12-12zm-21-2zm-7-8zm-6 17zm-9-9zm-67 8zm-7-8zm-7-7zm-8 12zm-2-7zm0 4zm-3-6zm-1-3zm-2 8zm-6 9zm-4-6zm-9 8zm-3-4zm-14-11zm-49 3zm-38-8zm-88 8zm-53 7zm-25 8zm-80-17zm-6 11zm0-5zm-10-12zm-7 8zm-1 7zm-4-14zm-15-2zm-10 5zm-9 4zm-3 5zm-21 9zm-57-15zm-4-7zm0 7zm-13 3zm-8-6zm-21 6zm-4 11zm-3 2zm-15-19zm-13 0zm-8 12zm-108-17zm-113 3zm-1 12zm-31-13zm-13 1zm-56 3zm-49-1zm-329 2zm-66 31zm80 6zm169 3zm54-3zm39-16zm61 8zm19 7zm71-12zm93-7zm98 24zm1-18zm63 16zm8-13zm17-8zm8 22zm4 1zm3-17zm10-1zm6 9zm23 1zm2-5zm6-1zm2 10zm1-4zm5 5zm14-17zm7 18zm0-13zm16 13zm7-19zm12 8zm18 5zm24 7zm14-17zm19 14zm5-1zm3-9zm16 12zm4-15zm45 1zm146 2zm11-1zm28 15zm108 0zm16-19zm5-3zm3-1zm7 14zm11-5zm14 8zm60-10zm36 9zm6-10zm43 3zm-13 16zm-46 12zm-87-7zm-7-3zm-13 16zm-11-12zm-3-2zm-7 5zm-8-10zm-3 1zm-1-1zm-99 3zm-61 20zm-179-17zm-4-5zm-1 2zm-12 6zm-11 3zm-3-7zm-9 14zm-7-14zm-16 13zm-10 4zm-12-13zm-9 12zm-27-11zm-34-7zm0 9zm-3-6zm-19 1zm-42-3zm-7 5zm-2-3zm-21 6zm-41-7zm-6-4zm-125 6zm-61 6zm-145 0zm-2-13zm-10 13zm-11 7zm-20-18zm-33 18zm-253-1zm-120-6zm-7 24zm370-3zm82-1zm13 10zm19-4zm50 6zm9-12zm122-10zm65 10zm17 7zm7-12zm49 6zm33-6zm23 7zm1-7zm12 5zm3 5zm21 7zm4 2zm3-16zm3-5zm20 7zm2 2zm1 8zm11-13zm0 5zm13 11zm6-13zm21-9zm11 3zm12 8zm3 7zm14-14zm9 12zm1-6zm26 10zm11-16zm8-2zm120 14zm87-2zm26-11zm34 13zm5-14zm7-1zm64 22zm17-17zm10 3zm1 1zm5 9zm19-15zm108 2zm20-3zm54 5zm-62 37zm-131-3zm-21-11zm-14-6zm-13 12zm-18 4zm-316-6zm0 4zm-9-1zm-7-5zm-8-2zm-1 0zm-1 8zm-1-5zm0-10zm-5 10zm-1-10zm-14 8zm-3 14zm0-3zm-24-9zm-13-2zm-17 7zm0-3zm-6 2zm-14-9zm-2 2zm-5 11zm-1-16zm-5 18zm-5-7zm-10-1zm-8-2zm-2-6zm-10 0zm-13 11zm-5-6zm-8 2zm-1 3zm-10 4zm-6-1zm-100-12zm-14 15zm-4-10zm-79-9zm-56 14zm-97-6zm-13 9zm-19-14zm-13 19zm-83-19zm-78 18zm-236-17zm-66-1zm8 35zm5 4zm258 0zm197-17zm3-2zm86 7zm31 13zm2-12zm39 9zm23 2zm75-5zm130-1zm1 5zm4-3zm7-1zm7 0zm13-6zm3 0zm0 1zm6 5zm9-13zm9 11zm15 7zm0 3zm2-13zm8-7zm1 9zm13 8zm0 3zm0-10zm5-9zm8 1zm3 10zm7 3zm4 5zm10-4zm9-1zm0-17zm9 10zm4 3zm8 10zm6-2zm16-4zm0-13zm8-3zm190 12zm27-8zm92 15zm52-20zm11 7zm38 10zm1-15zm64 6zm108-8zm-23 25zm-39 16zm-45 0zm-5-11zm-70 12zm-8 1zm-3-3zm-13-11zm-11-1zm-3 16zm-2-5zm-19-10zm-92 8zm-68-14zm-154 12zm-5 6zm-1-12zm-45 6zm-6-2zm-2 3zm-3-8zm-1 4zm-23 0zm-12 12zm-2-12zm-15-7zm-4 13zm-11 6zm-1-13zm-16 7zm-13 6zm-3-2zm-2-14zm-18 14zm-3-4zm-10 5zm-5-15zm-3 9zm0-4zm-6 3zm-10-8zm0 4zm-11 8zm-149 4zm-28 0zm-99-18zm-91 0zm-331 42zm80 2zm6 1zm37-22zm4 14zm17 8zm21-1zm73 0zm16-2zm218 2zm225-19zm27 15zm16-1zm25-12zm19-2zm9 9zm1 10zm34-12zm19-1zm6-7zm18 6zm8-7zm0 10zm10-12zm10 13zm35 4zm1-1zm50 5zm39-1zm45-4zm22 2zm115-10zm3 16zm46-15zm7-3zm2-3zm38 7zm1 1zm63 9zm103-11zm-41 38zm-116-21zm-83 19zm-57-8zm-6-8zm-53-2zm-43 19zm-34-7zm-40-11zm-5 5zm-83 1zm-16-8zm-53 1zm-1 0zm-33 1zm-33-2zm-109 8zm-18 11zm-23 2zm-40-16zm-53 10zm-23-16zm-57 19zm-19-8zm-7 5zm-61 3zm-22 1zm-12-17zm-96 3zm-137 7zm-10-12zm-74 2zm-22-1zm-32 3zm-59 2zm-21 20zm7 11zm10 6zm16-1zm25-1zm6 0zm25-2zm35 0zm12 3zm7-10zm50 5zm35-12zm3 6zm141 11zm11-19zm20 9zm1 6zm54-14zm10 11zm81-11zm30 2zm16 17zm26-21zm4 17zm57-13zm35-4zm8 2zm123 11zm36 4zm37-4zm33 10zm77-8zm23 1zm8 3zm4-1zm30-17zm29 14zm37-10zm28 15zm6-8zm3 8zm32-1zm24 4zm22-21zm13 20zm7-8zm41 2zm125-6zm15-2zm68-4zm13 2zm23 0zm-62 33zm-15 6zm0-21zm-3 18zm-17 4zm-6-13zm-1 11zm-33 3zm-44-17zm-58-1zm-16 13zm-13-17zm-51 20zm-54-15zm-6-2zm-5 5zm-44 13zm-33-4zm-7-14zm-80 4zm-83-4zm-99 9zm-47-5zm-50 11zm-22-5zm-54-4zm-16 8zm-167-7zm-34 9zm-3-6zm0-11zm-121 15zm-4-11zm-9-1zm-10 2zm-4 8zm-4-7zm-8 2zm-7 10zm-38-21zm-11 13zm-65-9zm-10 12zm0-15zm-14 10zm-181 20zm54 3zm1 2zm7 3zm12-5zm31 3zm2-6zm31 1zm32 6zm18-5zm5 1zm6-7zm17 15zm4 0zm42 1zm28-8zm7 12zm1-21zm10 20zm3-21zm39 13zm94 7zm44-13zm1 16zm100-6zm49-13zm68 1zm62 17zm67-16zm17-1zm10 5zm38-9zm3 7zm47 1zm36 5zm62-5zm2 3zm96 6zm31 1zm5-17zm7 2zm21-4zm20 18zm26-8zm135-6zm3 8zm10-11zm90 21zm65-22zm38 1zm-28 43zm-25 2zm-59-19zm-127 15zm-71-6zm-40 10zm-4-19zm-77-3zm-15 5zm-5 4zm-81-4zm-178 16zm-98-19zm-8 7zm-61 7zm-8-6zm-26 11zm-20-10zm-75 8zm-36 2zm-51-20zm-11 10zm-5-4zm-122 9zm-1-14zm-15 2zm-104-5zm-57 22zm-35-1zm-63-2zm37 21zm29-15zm41 3zm26 7zm66-3zm24 8zm74-10zm7 5zm50-9zm48 17zm17-14zm45 9zm51-13zm42 12zm3 9zm34-15zm3 2zm36-5zm127 6zm57-6zm9 0zm36 2zm227 17zm21-15zm36 12zm13-1zm8-4zm18-5zm21 3zm57 6zm3-7zm43 3zm136 8zm85 1zm-39 14zm-24-13zm-19 14zm-20-9zm-25 2zm-40 10zm-9-1zm-1-16zm-13 22zm-97-13zm-77 2zm-67-8zm-28-2zm-3 2zm-24 5zm-10 6zm-70-9zm-152 13zm-33-2zm-42-13zm-3 19zm-35-15zm-61-4zm-24 10zm-47-5zm-126-1zm-67-5zm-130-2zm-48 16zm-71 2zm-16 3zm-88 0zm-15 1zm-6-3zm-14-2zm-7 0zm-35-1zm-18 7zm3 9zm30 15zm14-23zm19 16zm18-13zm1 3zm9 16zm39-22zm43 18zm59-17zm22 1zm2 3zm19 16zm17 0zm4-16zm19 13zm8-2zm34 2zm55-17zm35 16zm85-10zm14-5zm27 19zm9-14zm48-2zm43 1zm9 0zm13 1zm113 9zm38-15zm136 5zm49 5zm56-5zm11 9zm2 3zm28-10zm29-6zm1 18zm81-10zm41-6zm55-1zm6 12zm125-14zm77 12zm39-6zm-105 33zm-7-13zm-3 12zm-2-9zm-21 17zm-6-18zm-4-3zm-3 15zm-84-2zm-104-4zm-12 5zm-2-7zm-21-6zm-69-4zm-1 17zm-68 0zm-1-15zm-62 17zm-12 1zm-55 2zm-43-11zm-40 7zm-31 1zm-19-10zm-8-9zm-39 12zm-97 2zm-14-2zm-9-2zm-2-3zm-20 10zm-5-5zm-106 2zm-5-9zm-56-2zm-14 10zm-11 9zm-5-21zm-18 6zm-63-1zm-3 10zm-2-4zm-30-11zm-26 14zm-2 1zm-164-2zm-23 6zm-39-7zm-21-8zm32 25zm28 6zm46 4zm1 2zm7-5zm67 10zm78-10zm72 7zm6-6zm10-8zm18 7zm43 1zm99-7zm17 14zm24 1zm36-3zm19-7zm30 10zm9-6zm92-8zm21 15zm95-5zm97-3zm86 6zm35 0zm32-6zm28 3zm50-10zm25-7zm75 8zm23 15zm19-16zm53-5zm118 6zm18 3zm93 15zm-30-2zm-11 17zm-38-9zm-43 10zm-40-6zm-20 1zm-47 4zm-24-1zm-33-16zm-6 11zm-9 9zm-4-13zm-17 15zm-2-6zm-52 1zm-64-11zm-2-6zm-32 22zm-9-13zm-4-9zm-16 13zm-33-1zm-15-10zm-5 0zm-20 5zm-39 7zm-132-11zm-73 6zm-4 12zm-22-11zm-11 7zm0-8zm-3 1zm-9 4zm-5-11zm-38 12zm-45-8zm-25-6zm-3 20zm-9 1zm-26-1zm-2 0zm-12-16zm-10-6zm-24 22zm-24 2zm-10-8zm-1-12zm-25 12zm-14 8zm-17-14zm-32 0zm-13-3zm-36 13zm-11-19zm-41 12zm-22 3zm-9 2zm-20-17zm-1 20zm-28 2zm-4-15zm-4 4zm-16 7zm-56-10zm-37-9zm-33 12zm-35-5zm-37 5zm-38-5zm26 33zm71-7zm24 12zm18-5zm14-1zm21 2zm51-17zm11 13zm5-7zm45 3zm22-6zm6 17zm17-1zm9-10zm33 4zm26 9zm41-19zm10 3zm9 13zm39 3zm7-13zm9-6zm31 3zm34-2zm28 7zm9 10zm38-8zm36 10zm145-6zm13-3zm64-10zm61-1zm1 8zm25 6zm16 5zm11-10zm14 4zm195-6zm62 14zm29-17zm80 2zm5-1zm41 0zm21 14zm45-18zm12 12zm31 4zm60-19zm10 14zm-99 13zm-59 8zm-59 10zm-60-5zm-21-13zm-15 10zm-76 3zm-68-14zm-183 5zm-62-1zm-17 12zm-96-16zm-52 0zm-10 17zm-20-18zm-38 22zm-38-9zm-18 0zm-36-15zm-15 18zm-26-11zm-25 9zm-8 7zm-52-7zm-4 2zm-21-9zm-15-8zm-53-1zm-47 23zm-7-10zm-6 0zm-56-6zm-7 4zm-12-8zm-19 16zm-18-7zm-6-7zm-2 17zm-11-16zm-25 9zm-29-4zm-43-7zm-19-2zm-1 11zm-45-4zm2 39zm2-1zm10-8zm62 5zm2 3zm12-20zm15 12zm37-7zm17 12zm8 4zm5-3zm57-19zm5 13zm16-10zm39 17zm29-14zm47-7zm3 1zm35 6zm91-7zm12 11zm51-7zm27 16zm71-19zm94 17zm36 4zm1-15zm49 0zm212 7zm20 1zm7 4zm2 0zm45-11zm37 9zm35-5zm10-6zm63 13zm1-2zm21-6zm42 10zm111-3zm2 4zm4-11zm33-2zm66 11zm8 4zm-47 15zm-7 3zm-61 3zm-4-19zm-54 20zm-27-13zm-26-7zm-7-1zm-18 11zm-13-10zm-18-2zm-25 5zm-26 3zm-80 13zm-83-5zm-10-14zm-28 6zm-26 0zm-90 2zm-14-4zm-53 16zm-58-7zm-25-8zm-9-4zm-76-1zm-6 13zm-60 6zm-25-10zm-29 2zm-36-2zm-31 11zm-24-6zm-59-13zm-85 8zm-15 9zm-3-16zm-12 8zm-6-6zm-26 11zm-46-12zm-11 2zm-102 0zm-4 6zm-4 6zm-4-11zm-5-4zm-14 10zm-48-7zm-39 32zm7-13zm24 0zm7 15zm61-7zm7 1zm45 6zm60-6zm2-3zm106 4zm3-9zm18 3zm26 1zm11-7zm29 4zm5 2zm9 0zm31 15zm28 0zm0-15zm123 2zm1-5zm12 13zm6-2zm40-5zm28 11zm10-17zm64 9zm18 0zm2-12zm7 8zm39 2zm29 10zm203-10zm22-5zm6 15zm31-1zm25-2zm3 4zm61 1zm20-22zm9 3zm25 3zm111 8zm54-7zm12 10zm32-13zm1 2zm61 6zm91 27zm-2 3zm-101 1zm-36-1zm-19 5zm-23-8zm-114-10zm-9 14zm-3 0zm-45-9zm-17-2zm-24 9zm-8-16zm-52 20zm-4 0zm-1-5zm-50-7zm-5 9zm-18 4zm-18-4zm-16-14zm-348-3zm-12 8zm-79-3zm-18-6zm0 12zm-86 6zm-52-12zm-7 8zm-2-2zm-20-2zm-18-3zm0-6zm-1 16zm-51-3zm-41 0zm-3 2zm-1 0zm-40 6zm-3-18zm-28-3zm-7 22zm-15-18zm-46 9zm-2 7zm-22-9zm-35-9zm-44 15zm-4-11zm-38 4zm-2-8zm27 43zm35-3zm37-16zm71 17zm3-17zm2 15zm53-9zm42 9zm14-6zm40-3zm13 12zm27 0zm64-10zm22-9zm43 0zm36-1zm25 18zm55-8zm3 8zm94-17zm42 4zm2 4zm10 4zm365-6zm50 10zm16 1zm19 3zm43-3zm6-14zm8 16zm60-4zm6-13zm17 5zm44 11zm132 11zm-26 14zm-24 1zm-14-20zm-4 5zm-10-5zm-3 20zm-125-5zm-11 5zm-44-10zm-58-10zm-2 10zm-1 6zm-57 2zm-33 0zm-56-10zm-3 9zm-4-2zm-200 4zm-14-1zm-106-15zm-22 1zm0-7zm-10 14zm-55-4zm-4-8zm-21 9zm-9-10zm-10 18zm-55-2zm-90-12zm-33 16zm-14-3zm-11 1zm-6 3zm-34-11zm-6-4zm-19-6zm-11 17zm-20 5zm-8 0zm-5-10zm-104-7zm-53 6zm-135-4zm-11 0zm-11 12zm-3 4zm-14-20zm48 32zm76 6zm18-7zm8 9zm21 4zm28-16zm10 5zm0 8zm18-4zm34-2zm101-6zm4 6zm69-6zm59-7zm20 6zm40 11zm16-12zm46-6zm19 1zm63 19zm1-7zm58-10zm26 5zm5-6zm294 16zm2-11zm8 10zm46-3zm2 4zm3-8zm57 1zm15 8zm10-14zm17 15zm4-4zm8-2zm6-7zm9 1zm17 4zm4 7zm74-14zm85 0zm22 13zm15-6zm20-12zm33 14zm85 23zm-10 4zm-23-15zm-77 4zm-28 0zm-1 6zm-53 8zm-32-12zm-14-4zm-15 2zm-26 5zm-9 0zm0 4zm-13 2zm-7-5zm-14-3zm-78 1zm-19 8zm-21-11zm-8-4zm-12 14zm-72-16zm-8 14zm-254-13zm-70 21zm-93-20zm-37 3zm-47 14zm-69-4zm-85-9zm-7-3zm-22 3zm-1 8zm-12-12zm-26 12zm-16-1zm0-9zm-6-3zm-3 14zm-29-13zm-28 11zm-43 0zm-67 9zm-1-9zm-32-9zm-71 9zm-12 4zm-23-13zm-4 15zm-16-19zm-8 29zm14-4zm1 9zm7-2zm34 1zm35-11zm20 20zm1-2zm10-14zm41 15zm21-15zm26 6zm33 8zm25 2zm8-11zm5 3zm64-1zm7 12zm8-5zm51-3zm39-11zm94 19zm24-9zm49-8zm1 3zm7 15zm53-8zm9 0zm4 2zm4 4zm58-19zm202-3zm111 7zm24 4zm26 3zm15-1zm14-2zm10 9zm17 3zm3-6zm76-9zm1 5zm210 10zm28-10zm32 9zm4-17zm29 12zm71 29zm-90-13zm-17-2zm-41 2zm-5 14zm-114-3zm-55-7zm-7-11zm-18 9zm-9-10zm-30 1zm-91 21zm-1-2zm-16-17zm-12-1zm-4 20zm-4-18zm-4 10zm-102-3zm-28-7zm-181 15zm-14 2zm-27-14zm-11 0zm-12 7zm-56 9zm-74-16zm-28 13zm-31-2zm-1 4zm-15-15zm-31 1zm-115-5zm-16 2zm-18 10zm-29 3zm-64 1zm-45-9zm-11-10zm-14 15zm-33-12zm-11 17zm-2-11zm-51 5zm-14-1zm-14 3zm-15-7zm-1-7zm-9 6zm-26 10zm10 24zm10 5zm53-7zm5 5zm30-8zm16-4zm5-6zm0 9zm52 5zm3-17zm196 19zm63-10zm23 6zm45 5zm4-19zm44 6zm41-2zm28-5zm26 4zm10 10zm382-1zm30-7zm33 16zm23-17zm21 4zm22 0zm72 7zm32-7zm7-8zm27 22zm31-4zm4-1zm34 1zm71-19zm25 22zm27-22zm61 2zm55 45zm-24-14zm-34-8zm-12 1zm-24 9zm-70-12zm-98 20zm-55 0zm-103-18zm-10 14zm-13-9zm-14 0zm-52 10zm-6-9zm-25 13zm-11-7zm-284-5zm-25 6zm-13-7zm-11-4zm-3 13zm-19-14zm-15 16zm-52 5zm-18-11zm-30 10zm-23-4zm-5-3zm-21-15zm-1 18zm-1-9zm-22-8zm-5 9zm-106-11zm-155 8zm-42-1zm-10 5zm-75-11zm-7 9zm-11 10zm-56-11zm-4-9zm-20 17zm-40-11zm-6 34zm39-9zm13 4zm15-9zm15 2zm16 5zm9-1zm11 5zm51 1zm25-9zm75 6zm13-4zm8 2zm52 12zm18-10zm51-8zm5 7zm4-2zm12-6zm36 5zm62-2zm29 12zm33-11zm70-4zm16 10zm33 3zm4-12zm58 12zm293-4zm45 0zm45 5zm18-7zm41 5zm76-6zm12-1zm12 7zm40-13zm0-1zm86 20zm82-2zm66-10zm-108 24zm-5-3zm-7 8zm-87 5zm-23-6zm-23 7zm-14-6zm-10-1zm-10 12zm-12-20zm-6 12zm0-2zm-16 5zm-6-4zm-64-13zm-6-1zm-14 4zm-55 17zm-6-3zm-23 0zm-80 4zm-206-12zm-3 2zm-102-2zm-32 12zm-71-8zm-106 3zm-5-9zm-37 4zm-44-3zm-7 11zm-2-1zm-22 3zm-60 0zm-18-12zm-29 4zm-48-10zm-13 15zm0-3zm-25-1zm-59 6zm-5-6zm-28-11zm-31 0zm-59 34zm7-6zm16-3zm19-5zm29 16zm42-14zm20 21zm77-9zm4-9zm59 12zm91 5zm1-16zm54 6zm5 5zm26-5zm34 4zm15-7zm9-8zm1 10zm22 6zm13-12zm15 13zm32 0zm16-2zm18-17zm90 13zm9-3zm1 4zm3 7zm39-1zm54-14zm18 15zm245-6zm34 2zm72 5zm48-6zm12 6zm15-14zm40-7zm25 4zm25 3zm251-5zm19 30zm-74 3zm-18 6zm-17-9zm-57 11zm-125-12zm-32 5zm-27-11zm-5 9zm-19 10zm-103-18zm-36 17zm-16 2zm-364-7zm-127-4zm-2-4zm-1 16zm-28-6zm-10-4zm-26 4zm-38-15zm-89 13zm-33 7zm-21-9zm-9-2zm-8-1zm-59-1zm-6 1zm-82-7zm-16 17zm-14-18zm-9 11zm-5-2zm-19 9zm-3-18zm-40 10zm-42-2zm-11-8zm-31 8zm36 27zm14 5zm15-3zm27-10zm35 4zm14 3zm25 11zm105-13zm18 8zm31-11zm4 5zm7-6zm91-4zm17 6zm23 11zm10-14zm31 16zm12-18zm3-2zm93 13zm8-12zm68 14zm32 6zm89-20zm273 3zm77-4zm42 7zm19 9zm19-4zm21 10zm27-12zm22 5zm3-15zm33 10zm148 1zm22 3zm11-6zm0-2zm21-1zm11 14zm48-16zm-102 25zm-160-4zm-2 6zm-35 5zm-2 2zm-17 7zm-50-9zm-40 8zm-31-1zm-25-11zm-8-5zm-1 12zm-10-2zm-41-4zm-4 13zm-11 0zm-252-16zm-2 4zm-41 6zm-78 1zm-44-10zm-40 13zm-7-2zm-55-7zm-70 2zm-4 7zm-60-3zm-8-15zm-18 4zm-11-5zm-42 22zm-13-16zm-13 5zm-44-7zm-56 7zm-117-7zm-72 32zm4-1zm16 1zm35 8zm11-12zm4-8zm10 10zm8 11zm14-20zm6 14zm13-14zm8 0zm42 17zm24-7zm182-2zm3 14zm13-22zm108-2zm8 20zm6-7zm58-6zm3-1zm37 7zm4-8zm39 14zm10-9zm77-5zm5-5zm118 15zm216 3zm57-9zm36 13zm56-21zm26 9zm0 3zm12-2zm9 3zm7-12zm0 12zm202 9zm15 0zm14-10zm72 21zm-31-2zm-39 7zm-157 9zm-25-9zm-45-8zm-43 3zm-28 11zm-20 2zm-48-1zm-42-19zm-12 11zm-30-7zm-2 7zm-10 8zm-262-21zm-65 18zm-16 4zm-44-15zm-6 3zm-46-1zm-47 0zm-22 1zm-119-1zm-36-7zm-29 5zm0 5zm-44-7zm-11 9zm-33-7zm-33 9zm-7-2zm-3-12zm-8 4zm-114 8zm-31-10zm-4 2zm-11 9zm-29 4zm-11-4zm-4-8zm3 23zm98 0zm2-6zm37 1zm20 12zm40-4zm20-4zm161 15zm15-6zm52 2zm34-3zm46 6zm25-2zm88-13zm13 1zm7 11zm7-6zm95 7zm2-16zm3 14zm269 7zm8-8zm21-12zm14 7zm9 10zm14-11zm42 1zm18-7zm25 2zm27 3zm10 4zm18-5zm4 0zm11-3zm5 2zm33 15zm139-16zm10-1zm13 12zm-454 22zm-16 4zm-16-8zm-21 5zm-89 1zm-3-11zm-45 11zm-8-12zm-5 17zm-245-20z"/>
<path d="M2079 612zm-73 3zm-82-8zm-95-1zm-83 17zm-66-12zm-58-1zm-128 13zm-7-17zm-22 13zm-82 2zm-113-3zm-160 1zm-193 1zm-38-10zm-67 3zm-119 8zm-60-10zm15 30zm43-11zm73 10zm35-4zm32 10zm9-11zm30 3zm65-1zm131 6zm53-8zm80 9zm16-2zm9 1zm19-10zm29 15zm73-21zm4 17zm48-1zm18-3zm29-15zm145 11zm21 11zm90-2zm18-17zm11-3zm1 11zm6 12zm92-21zm58 5zm29 16zm1 0zm87-8zm133 26zm-67-5zm-20 10zm-54-21zm-77 4zm-31 16zm-76-20zm-41 21zm-135-2zm-38-12zm-67 14zm-49-1zm-54-15zm-56 0zm-66-6zm-1 21zm-67-10zm-20-9zm-40 0zm-34 3zm-86 8zm-5-9zm-42 8zm-33-13zm-18 4zm-76 4zm-57 1zm-69 10zm-79-15zm-13 18zm-30 19zm0-15zm162 12zm29-1zm18-12zm13 1zm17 8zm14 1zm66 13zm8-9zm27 6zm25-3zm37-6zm234 9zm115-20zm4 10zm4-4zm58-3zm17 6zm22-1zm29-5zm20 10zm1-11zm2 6zm36 1zm14 4zm12-11zm4-2zm7 15zm0 3zm62 3zm44 1zm88 0zm174-13zm28 14zm19-10zm2-8zm14 1zm1 15zm33-22zm31 4zm36 19zm21 18zm-58-16zm-125 5zm-50-4zm-18 20zm0-12zm-250-4zm-24 2zm-27 7zm-75 8zm-28-18zm-56 18zm-99-6zm-67 3zm-20-1zm-44 3zm-5-18zm-94 8zm-2-1zm-32 12zm-22-1zm-112-10zm-5 2zm-20 8zm-9-9zm-7-1zm-1-5zm-101 15zm-15-21zm-9 13zm-16 8zm-43-20zm-37 16zm-49-15zm-2 16zm-29 18zm30-8zm5 10zm31-10zm17 9zm3-11zm5-3zm70 13zm39 9zm38-14zm58-7zm56 6zm10 16zm4-16zm14-5zm10 20zm14-17zm33 8zm5 7zm177-9zm42 6zm14-16zm1 22zm48-20zm11 18zm49-7zm251 8zm100-8zm52-11zm19 6zm46 14zm117-12zm7 3zm117-12zm4 3zm6 13zm90 1zm13 23zm-60-4zm-64-10zm-26 7zm-81 3zm-29 9zm-13 1zm-50-10zm-66 4zm-6-17zm-67 5zm-21 0zm-51 6zm-145 9zm0-8zm-19-1zm-38 1zm-132 8zm-7-9zm-18-9zm-22-3zm-31 1zm-84 17zm-29-1zm-11-15zm-2 13zm-1 3zm-43-1zm-8-7zm-69-2zm-3 4zm-67-1zm-7-2zm-26 4zm-29-2zm-1 2zm-36 3zm-22 0zm-42 7zm-62-13zm-48-9zm0 3zm-35 16zm-61 22zm23-16zm53 11zm79-2zm53-3zm1-7zm24 23zm2-15zm69-6zm1 10zm109 8zm10-18zm32 19zm2-14zm64-6zm27 8zm30-5zm131 7zm52 0zm156 3zm22 2zm10-10zm39 14zm9-19zm5 17zm36-1zm16 6zm80-21zm161 5zm53 13zm65-20zm9 18zm2-6zm163 7zm34-12zm19 5zm-45 21zm-13-9zm-3 19zm-3 0zm-5-15zm-2-5zm0 10zm-101 14zm-3-20zm-18 18zm-17-3zm-3 0zm-2-1zm-7 1zm-114-6zm-54 8zm-188-16zm-12 8zm-23 5zm-13-15zm-24 7zm-4-7zm-27-1zm-3 2zm-15 7zm-5-10zm-23 19zm-3-16zm-9 18zm-2-1zm-3-11zm-12 14zm-14-15zm-16 13zm0-19zm-12 18zm-37-2zm-64-6zm-30 5zm-26-17zm-14 11zm-5-9zm-44 14zm-31-9zm-23-7zm-60 3zm-1 9zm-15 10zm-36-6zm-32-4zm-131 9zm-253 7zm213 13zm85-4zm14 0zm141-9zm40 2zm31-4zm2 6zm54 12zm55-14zm87 15zm1-8zm72 2zm6 1zm8 4zm33-21zm1 12zm7 5zm2-12zm35 6zm29 8zm6-2zm6 1zm1-16zm13 18zm21-13zm4-1zm7-4zm3 19zm3-6zm39 7zm3-21zm1 17zm245 2zm43-12zm82-8zm59 17zm46-8zm39 4zm69-3zm4 2zm-1 34zm-112-12zm-6-7zm-90-1zm-8 11zm-3-9zm-19 2zm-29 15zm-62-4zm-108 7zm-28-3zm-8-1zm-35-6zm-42 3zm-35-8zm-20-1zm-3-6zm-23 0zm-11 5zm-14 0zm-2 15zm-12-14zm-29-4zm-31 8zm-7 5zm-10-11zm0-3zm-49 5zm-39 12zm-3-4zm-17 3zm-105 0zm-33 4zm-49 1zm-92-1zm-34-8zm-35-12zm-83 15zm-30 3zm-29 0zm-34 0zm-89-4zm-93 6zm-88 24zm60-13zm9 9zm26-8zm15-1zm62-4zm44 8zm33 1zm7 2zm20-15zm75 16zm42-13zm56 9zm13 3zm22 1zm31 0zm27 4zm3-19zm35 12zm8 2zm51-3zm37-9zm35-1zm86 20zm10-11zm75 10zm58-22zm55 10zm60-4zm83 12zm7-6zm70-8zm29 9zm21 2zm7-5zm22 11zm30-6zm26-2zm11-1zm44 4zm106-8zm11 6zm85-12zm21 20zm-71 24zm-2-20zm-76-3zm-70 8zm-12-4zm-4 0zm-9 14zm-45-1zm-11-9zm-24-4zm-6 19zm-47-1zm-10-18zm-38 12zm-76-6zm-12-5zm-44 7zm-24-4zm-12 12zm-24-7zm-21 5zm-32-9zm-37-6zm-9 17zm-13-11zm-4 5zm-214 9zm-57-10zm-5 0zm-30-9zm-3 19zm-28-13zm-1 4zm-30-3zm-21 2zm-12-11zm-112 20zm-16-14zm-11 12zm-13-10zm-89-9zm-24 3zm-35 19zm-54-2zm-100-14zm-23 13zm56 8zm53-2zm49 2zm35 8zm22 10zm53 0zm3-19zm6 10zm53 7zm3-19zm51 22zm45-6zm26-14zm26 16zm13-16zm17 8zm51 8zm11 0zm73-16zm27 10zm29 10zm42-23zm35 4zm63 7zm28 10zm24-21zm32 5zm56-3zm89 3zm6 14zm23-6zm20 9zm47 0zm4 1zm48-1zm51-14zm10 11zm58-2zm24-5zm21 0zm23-9zm107 19zm116 13zm-53-3zm-205 5zm-19 1zm-14 9zm-89-15zm-3 12zm-112-17zm-2 14zm-24-6zm-221-10zm-30 15zm-24-5zm-147 10zm-42-7zm-71 3zm-28-7zm-25 0zm-13 5zm-23-10zm-52 17zm-97 1zm-39-10zm-21-10zm-13 3zm-32 5zm-2 13zm-15-21zm-38 19zm-24-14zm-19-5zm-25 11zm0-6zm-15 6zm-6 3zm-31 3zm-12-3zm-8 7zm-11-5zm-24 27zm29-10zm1 12zm24-17zm27 13zm5-6zm4 8zm8-19zm91 4zm17-5zm28 21zm4-16zm33 14zm16-18zm65 7zm8 2zm22 10zm51-22zm9 12zm70-4zm3 10zm17-5zm65-11zm35-1zm111 14zm75-8zm8 13zm43-5zm31 6zm26-15zm18 4zm73-5zm76-2zm10 1zm1 5zm65 2zm21-7zm14 0zm2 16zm22-13zm29-6zm30 4zm13-2zm6 9zm17 2zm34 2zm22 1zm27-2zm62-11zm40 2zm74 9zm-68 10zm-73 10zm-25-5zm-43 11zm-10 1zm-2-15zm-7 20zm-6-16zm-24-4zm-10 4zm-10 7zm-1-12zm-7 4zm-4-1zm-3 3zm-45-8zm-84 6zm-33 6zm-36-9zm-66 2zm-75 15zm-18-3zm-52-2zm-25 6zm-5 1zm-6 0zm-15 1zm-45 1zm-13-8zm-39 2zm-3-5zm-46-5zm-25 11zm-75-10zm-73 12zm-43-12zm-27 9zm-16 3zm-6-20zm-12 7zm-33 16zm-4-5zm-4-6zm-76 10zm-26-22zm-9 16zm-11-8zm-31 10zm-149-18zm-28 22zm-25 1zm24 8zm74-7zm68 1zm101 13zm44-7zm25 3zm65-11zm49 6zm13 13zm27-2zm151 2zm1 2zm17-20zm19 10zm2-6zm3-5zm39 20zm3-14zm36 0zm25-2zm289 10zm22-14zm34 3zm3 14zm51-7zm11-3zm30-3zm56-2zm13-1zm14 12zm23 7zm97-15zm46-2zm9 7zm70-5zm23 4zm-30 38zm-89-6zm-121-13zm-14-3zm-3 21zm-46-16zm-1 9zm-16-12zm0 12zm-7-14zm-142 3zm-41 7zm-37 2zm-142-4zm-17 3zm-19 4zm-48-15zm-40 15zm-5 4zm-7-14zm-41 12zm-41-14zm-57 10zm-45-7zm-19 1zm-7 14zm-87-1zm-53-3zm-100-11zm-5-7zm-21 13zm-11 8zm-6-10zm-7 9zm-7-1zm-24-5zm-19-1zm-10 6zm-39-3zm-3-5zm-14-8zm-34 19zm-1-10zm-22 2zm-29-13zm-3 8zm-28 1zm0 11zm-26-20zm5 32zm32 2zm6-9zm28 15zm46 5zm43-5zm2-1zm15-8zm6 2zm15 9zm12-8zm15-8zm8 1zm1 2zm3 13zm18 1zm15-7zm41-10zm9 13zm62 0zm1-10zm28-4zm87 1zm19 20zm12-19zm21 12zm78-7zm7 1zm91 6zm13-9zm24-3zm5 20zm46-19zm20-3zm82 2zm142 12zm18 3zm71-13zm31 14zm2 3zm28-16zm21 2zm28-7zm1 11zm1-2zm10 4zm2 9zm37-1zm53-19zm2 0zm252 3zm-20 25zm-15 15zm-48-19zm-4 13zm-151-12zm-10 16zm-23-9zm-4-6zm-127 3zm-13 5zm-26-14zm-37 5zm-7 7zm-18-11zm-20 5zm-7 12zm-7-9zm-4 12zm-185-18zm-84 9zm-1 0zm-3-5zm0 5zm-22 10zm-18-16zm-58 7zm-24-13zm-63 21zm-12-15zm-20-2zm-13 18zm-12-21zm-112 6zm-6 15zm-15-11zm-21 12zm-17-14zm-53-1zm-20 5zm-15-10zm-22 14zm-3-7zm-44-1zm-4-5zm-21-1zm-6 16zm-12 3zm-4-9zm-26 9zm-3-10zm-13-7zm-1 2zm-8 15zm-21-15zm-24 13zm-2 1zm-37-18zm0 17zm-12-20zm-21 3zm-10 10zm-3 18zm25 4zm2-2zm39 4zm10 0zm47 11zm7-4zm20-15zm11 1zm4-6zm42 23zm12-13zm20-5zm24 0zm7 13zm48-7zm74 5zm20-1zm12 8zm4-10zm51-3zm13-8zm6 19zm136-17zm7 16zm43-7zm23 11zm27-10zm8 0zm16 7zm10-13zm45-7zm2 6zm50 9zm3-15zm54 18zm210 0zm67-4zm9-12zm51 19zm16-4zm34-1zm12 2zm25-1zm125-5zm35-9zm73 4zm38 39zm-39-15zm-49 15zm-16-19zm-21 2zm-19 3zm-98 5zm-11-1zm-8-1zm-50-3zm-28 12zm-29-17zm-10 2zm-41 12zm-8 5zm-34-8zm-36 4zm-4 1zm-170-4zm-155-9zm-27-6zm-37 11zm-4-2zm-58-4zm-32 12zm-12-11zm-20 2zm-13-3zm-59-4zm-24 14zm-53 1zm-1 5zm-7-19zm-13 3zm-1-5zm-22 6zm-46 13zm-57 4zm-11-5zm-5-16zm-8 11zm-22-11zm-1 6zm0 9zm-11-16zm-7 13zm-9 6zm-20-17zm-57-3zm-5 3zm-12 11zm-91-2zm-30-3zm-15 32zm53-6zm26 0zm13-8zm48 8zm4-10zm22 14zm8 1zm72 3zm84-13zm11 9zm15-11zm50 13zm11-14zm27 14zm11-4zm14-7zm23 5zm23-8zm100 10zm23-10zm169 6zm35 9zm17-1zm24-7zm23 12zm1-1zm28-20zm28 21zm50 1zm2-3zm7 1zm0-1zm38 0zm59-19zm14 16zm67-17zm4 8zm15-9zm14 2zm5 15zm42-6zm85-8zm8 6zm96-9zm19 3zm43-2zm21 20zm6-20zm41 15zm9 22zm-11 5zm-28-11zm-5 0zm-12 1zm-42 13zm-70-18zm-12 16zm-5-1zm-30-1zm-88-17zm-74 19zm-13 4zm-99-4zm-73 2zm-4-2zm0-12zm-3 14zm-13-18zm-7 17zm-2-3zm-9-12zm-8 13zm0-17zm-13 18zm-1-7zm-12 6zm-10-14zm-1 2zm-6-1zm-3 7zm-7 9zm-4-6zm-7-3zm-3-2zm-20 12zm-16-13zm-9 11zm-4 1zm-17-9zm-2-2zm-1-4zm-11-5zm-2 10zm-15-2zm0 8zm-4-5zm-109 6zm-1-18zm-6 16zm-19-13zm-63 12zm-13 3zm-169-5zm-23 6zm36 25zm97-11zm24-2zm12 2zm73-4zm13-1zm87-4zm29 13zm28-7zm11 4zm2 3zm10-1zm22 8zm19-8zm31-8zm3 6zm8 7zm20-4zm7-7zm1 2zm6 0zm13-1zm6 2zm38-1zm19 5zm1-5zm182 7zm79 3zm9-3zm52-13zm26-1zm12 2zm1 15zm26-10zm4 4zm6 8zm130-1zm-122 21zm-22-16zm-31 7zm-5 10zm-28-8zm-59-1zm-260 0zm-7 10zm-3 2zm-13-15zm-5 9zm-3 5zm-7 0zm-4 1zm-9-5zm-1-15zm-13 8zm-1-4zm-6 3zm-1 13zm-7-8zm-6-6zm-17-3zm-2 13zm-21 4zm-1 0zm-10-8zm-7-6zm-19-7zm0 3zm-1-1zm-24 13zm-1-6zm-11-3zm-19 3zm-20-4zm-42 16zm-33-7zm-6-3zm-47 7zm-51-16zm-103 16zm-5-4zm-85-7zm-79-4zm-32 15zm-190-3zm-161-8zm343 29zm172-4zm17 9zm39-16zm40 20zm39-4zm105 1zm100-4zm6 2zm3 0zm8-2zm1-4zm17 6zm3-13zm22-1zm32 3zm2 1zm1 8zm2 7zm0-10zm31-9zm6 8zm16-4zm13 1zm0 15zm11-17zm28 12zm1-5zm9 12zm147-19zm102-3zm18 14zm28 6zm22-11zm37-2zm2 10zm10-2zm11-10zm5-4zm1 8zm16-10zm2 7zm11-7zm71-1zm26 12zm11-2zm28 8zm-18 11zm-1 6zm-70 8zm-52-17zm-2 19zm-12 0zm-8-20zm-15 17zm-24-12zm-2-5zm-98 10zm-32 3zm-212-12zm-32 0zm-1 0zm-3 19zm-2-17zm-10 19zm-4-21zm-8 9zm-12 2zm-2-7zm-1-5zm-13 21zm-13-21zm0 20zm-2-8zm-12-10zm-13-3zm-1 22zm-17-5zm-7-9zm-9 15zm-1-22zm0 7zm-14-2zm-8-5zm-3 1zm-3 5zm-11 0zm-6-3zm-9-3zm-63 3zm-154 16zm-11-15zm-59-4zm-36 14zm-8-5zm-11-8zm-6 0zm-19 10zm0-8zm-74 4zm-16 11zm-142 6zm99 6zm91-6zm93 8zm70 9zm5-17zm176 22zm61-18zm5 2zm7 13zm0-16zm3 4zm12 7zm16-14zm6 16zm1-8zm14 14zm14-16zm11 0zm13 14zm4 1zm20-16zm1 12zm5-8zm5 0zm7 12zm12-8zm2-2zm27 12zm4-3zm8-10zm3 6zm27 1zm9 4zm171-10zm123-3zm35-9zm7 22zm5-14zm6 5zm31-13zm114 21zm18-13zm1 3zm10 8zm30 1zm4 6zm-52 19zm-13-1zm-104-10zm-1 13zm-3-16zm-7 6zm-18 8zm-11-5zm-17 0zm-214-7zm-42 14zm-79-18zm-2 17zm-5-9zm-1 4zm-4-16zm-2 2zm-3 7zm0 12zm-25-11zm-11-8zm-11 6zm-6 4zm-1 2zm-1 7zm-10-9zm-8-7zm-9-2zm-10 2zm-2-4zm-2 19zm-2-18zm-14-2zm-22 6zm-28-7zm-17 9zm-17 0zm-11-6zm-35 0zm-28 20zm-2-14zm-11 10zm-116-18zm-43 6zm-167 0zm-10 7zm-46 8zm-395 17zm213 2zm172-6zm82 12zm35-11zm30 11zm82-21zm66 0zm62-1zm54 0zm5 10zm33 5zm25-11zm16 8zm4 7zm3 2zm3 0zm24-20zm17 8zm9 12zm37-5zm10-15zm4-2zm1 12zm10 4zm21-14zm7 3zm2 10zm6 9zm22-8zm19 6zm5-20zm230 16zm7-9zm96-9zm8 11zm6 2zm1 10zm4-3zm16-2zm12 2zm10-18zm2 18zm83-2zm11 3zm7-16zm14 0zm33 11zm28 22zm-22-1zm-26-13zm-13 17zm-16-14zm-35 17zm-8 2zm-50-17zm-11 10zm-4-3zm-8-7zm-2 19zm-21-15zm-2-2zm-1 13zm-297 2zm-46-3zm-5-18zm-10 12zm-1-8zm-2-1zm-1-2zm-16 15zm-8-5zm-13-8zm0 9zm-21-11zm-3 16zm-25-3zm0-14zm-4 5zm-4 4zm-1-7zm-5 9zm-7-9zm-4 1zm-16 15zm-15-4zm-14-15zm-3 20zm-12-13zm-12 6zm-3-8zm-24 8zm-31-8zm-127 12zm-158-1zm-9-4zm-71 2zm-2 4zm-21-4zm-25 1zm-45-2zm-151 1zm-105-7zm-95 11zm-3-5zm16 33zm8-2zm10-4zm12 7zm47-1zm82-16zm4 12zm231-13zm14 19zm24-14zm9 7zm135-11zm225 6zm34-10zm9 4zm18 5zm27-5zm27 4zm30 3zm29 1zm44-1zm8-9zm8 20zm14-22zm65 16zm24 2zm19-9zm120-7zm11 17zm3-12zm117-2zm12-1zm9 5zm8-7zm86 12zm3 2zm18-7zm43-7zm29-2zm3 10zm-5 29zm-30 0zm-58-5zm-5 1zm-31-2zm-34 2zm-85-7zm-15-4zm-35 16zm-32-5zm-79-5zm-36 7zm-4-13zm-84 21zm-195-22zm-73 15zm-34-8zm-116 5zm-43-2zm0-11zm-8 9zm-3 2zm-86-6zm-9 6zm-15 11zm-12-1zm-3 1zm0-22zm-14 18zm-75 3zm-42-15zm-37 10zm-32 2zm-3-2zm-5 4zm-64-18zm-8 16zm-43-16zm-21 11zm-7-7zm-41 5zm-49-7zm-41 33zm43 1zm8-1zm0 2zm6-5zm25 1zm27 3zm52 1zm5-8zm7 11zm2-7zm1 10zm4-11zm37-6zm24 17zm15-6zm33-9zm11 0zm1 3zm7 11zm53-7zm10 1zm14 1zm18-14zm53 8zm49-4zm41 14zm26-15zm46 13zm0-16zm17 21zm56-21zm33 15zm10 5zm40-15zm5 12zm10-7zm3-8zm1 14zm15 4zm10-1zm38-13zm78 16zm65-8zm29 7zm45 1zm29-11zm59 2zm20-1zm59 3zm4-4zm10-4zm27 2zm53-3zm40 16zm56-7zm55-14zm9 7zm-130 29zm-6-5zm-25-9zm-44 20zm-48-8zm-20-5zm-62-1zm-18 4zm-44-3zm-7 7zm-15 5zm-102-9zm-33 12zm-30-1zm-1-11zm-5-4zm-113-1zm-6 4zm-12-9zm-8 18zm-92-6zm-99-6zm-23 3zm-21 9zm-44-4zm-14 3zm-31 4zm-2-2zm-11-8zm-72 2zm-21-6zm-27-6zm-6 16zm-42 7zm-93-21zm-6 2zm-10-2zm-1 6zm-45 12zm-114-5zm53 19zm9 6zm5-7zm124 11zm5-3zm37 4zm10-8zm1 0zm5-5zm51 7zm43-3zm41-2zm5 12zm20-18zm49 15zm104-3zm40-12zm18 9zm22-8zm86 1zm44 11zm23-6zm4 11zm7-2zm66-8zm108-11zm34 17zm15-4zm50 2zm30-11zm43 7zm14 5zm10-4zm2-13zm31 5zm32 1zm17-1zm17 5zm12-1zm34 1zm102-1zm67-2zm88 0zm41 6zm-49 21zm-7 4zm-74-8zm-7 0zm-19 7zm-1 2zm-59-13zm-31 0zm-5 8zm-97-10zm-59 3zm-1-1zm-44 12zm0 9zm-90-17zm-104-4zm-40 12zm-12 5zm-35 4zm-26-4zm-70-19zm-3 18zm-28-9zm-49 10zm-16-2zm-8 5zm-9-18zm-39-4zm-22 7zm-12 10zm-49-2zm-12-12zm-6 15zm-55-1zm-58-12zm-18 6zm-48-1zm-10 12zm-10-3zm-39-1zm-3-6zm-46 2zm-35-14zm-14 19zm-10-4zm-30-16zm-53 1zm-81 9zm-30 2zm17 19zm42 2zm49-4zm20-1zm14 0zm16 5zm74-3zm16 14zm26-5zm21-5zm14 9zm3 1zm49-16zm36-1zm28 3zm13 14zm0-17zm34 16zm11-14zm17-5zm23 15zm19 8zm0 0zm16-1zm5-13zm15 3zm11 1zm17 3zm12 2zm1-4zm25 3zm26-9zm2 6zm55-13zm34 16zm6 1zm26-11zm17 15zm186-21zm116 10zm22-2zm49 6zm4-9zm31-3zm78 1zm41 19zm49-3zm29 0zm86-8zm4 4zm14 5zm80 26zm-45 0zm-51-22zm-14 16zm-5 2zm-21 3zm-93-22zm-24 15zm-28 4zm-17-6zm-33-9zm-13 20zm-26-13zm-5 8zm-49-11zm-23 12zm-19 2zm-20-1zm-24-4zm-13 1zm-99 2zm-12-9zm-11 11zm-13-5zm-171 4zm-10-9zm-9 9zm-40-1zm-14-3zm-2-3zm-5-9zm-2 7zm-72 5zm-7 2zm-5 2zm-55-19zm-22 19zm-9-3zm-14-7zm-17-7zm-24 19zm-22-6zm-6-3zm-16-3zm-26 11zm-17-15zm-15 17zm-24-9zm-12 2zm-9 6zm-5-1zm-2-8zm-26-9zm-76 8zm-54 2zm-11 7zm-2-1zm-19 0zm-7-3zm-1-11zm-76 23zm77-4zm35 20zm172-20zm119-1zm0-1zm25 18zm32-13zm15 7zm21 8zm40-9zm88 4zm43-4zm25 8zm11-1zm16 2zm45 3zm14-2zm24-4zm124 0zm91 4zm3-20zm77 3zm37 6zm8-9zm33 14zm16-9zm16-3zm32 8zm4 12zm24-15zm8 6zm16-9zm39 10zm122 1zm62-10zm73 13zm-67 15zm-26-1zm-39-3zm-119 1zm-13 8zm-7 6zm-27-3zm-18-6zm-99 6zm-38 2zm-10-2zm-21 5zm-13-3zm-21-16zm-4 17zm-10-20zm-9 17zm-55-12zm-17 8zm-42 9zm-15-17zm-5 5zm-12-5zm-46-5zm-15 17zm-16-11zm-85 12zm-32-5zm-25-1zm0 11zm-3-12zm-22 10zm-30-9zm-10-6zm-14 14zm-18-11zm-35 8zm-27 5zm-78-12zm-43 9zm-118-6zm-11-8zm-142-4zm-7 20zm-10-11zm-6-4zm-8 15zm-34-16zm-4 16zm0-3zm-81-2zm142 26zm65-5zm24-6zm3 6zm25-2zm58-6zm48 17zm2-4zm37-4zm12-3zm22 12zm2-16zm78 3zm48-6zm30 5zm50-4zm21-2zm89 2zm45 14zm20 0zm209-18zm50 18zm10-1zm6-11zm36 11zm1-2zm16-8zm133 10zm15-12zm2-4zm36 12zm39 1zm63-3zm20 8zm9-13zm17 8zm76 18zm-7-2zm-65 6zm-31-4zm-52-4zm-5 18zm-13-2zm-131-14zm-11-4zm-10 1zm-23 6zm-108 1zm-41-1zm-7-6zm-55 8zm-83-2zm-37 5zm-78-4zm-12-2zm-4-6zm-25 13zm-20-6zm-17 3zm-31 2zm-22 0zm-51 3zm-30-6zm-108 6zm-20-6zm-54 4zm-12-5zm-53-3zm-83 9zm-3 3zm-23-10zm-2-5zm-3-5zm-19 11zm-19 4zm-108-12zm-10 15zm-13-8zm-10-4zm-26 14zm-24-18zm31 29zm2 9zm42-12zm115 3zm48 5zm14-2zm15-5zm58 2zm6 2zm1-5zm6 6zm1-5zm25-5zm51 12zm10 3zm22-15zm69 19zm98-18zm31 7zm72 6zm63-5zm161 13zm22-23zm61 3zm30 10zm27 10zm9-11zm2 11zm57-19zm5 5zm44-2zm15-1zm19 7zm84-8zm10-1zm16 8zm23 0zm58 8zm23-7zm5 1zm58 2zm13 7zm34-14zm42 31zm-50-5zm-14-4zm-37-1zm-39-1zm-83-3zm-37 17zm-23-5zm-9-2zm-36-5zm-14 8zm-60-3zm-35-10zm-48 9zm-15-5zm-88 17zm-94-3zm-140-14zm-11-4zm-90 19zm-14-16zm-17-1zm-16 13zm-31-7zm-10 7zm0-6zm-134 10zm-19-6zm-68-13zm-16 0zm-2 15zm-3-6zm-17-2zm-11 7zm-62 4zm-14 2zm-8-17zm-3 19zm-27-7zm-8 4zm-37-12zm-46 2zm-4 7zm-4-1zm-42-2zm-1-13zm-15 4zm-15 14zm-6-18zm-20 5zm-8 38zm2-5zm38-9zm34 12zm3 3zm39 1zm12-11zm5 5zm15-15zm90 16zm24-14zm32 6zm3-3zm26 7zm63 3zm48-1zm33 4zm13-14zm47 9zm6 4zm0-12zm55 3zm12 0zm130 2zm1 8zm90-19zm133 21zm103-1zm58-17zm30 16zm3-13zm21 0zm116-4zm113 19zm187-1zm27 1zm-64 22zm-99 4zm-50-19zm-66 2zm-17 6zm-10 9zm-22-16zm-11 7zm-3-7zm-29-2zm-7 2zm-15-3zm-2 12zm-14-8zm-13-3zm-53 12zm-7-16zm-24 2zm-56 6zm-113-4zm-181 10zm-18-7zm-34-3zm-2 12zm-16-12zm-6 3zm-56 10zm-97 6zm-86-15zm-103 8zm-81-12zm-5 13zm-51-5zm-21 7zm-46-2zm-53-13zm-10 11zm-40-2zm-7-3zm-23 28zm20 2zm35-9zm17 5zm22 11zm79-1zm25-14zm33-3zm47 13zm37-5zm9-2zm3-4zm111 12zm11-1zm21-6zm27 4zm12 8zm16-7zm16-4zm9-5zm43 8zm4 5zm20-15zm51 2zm35 12zm19-3zm38 2zm3 1zm14-19zm150 15zm59-3zm15-1zm67-4zm7-5zm27 6zm22-2zm8-6zm34 18zm13-18zm5 8zm20 11zm25-9zm8 11zm0-4zm18 3zm11-4zm49-13zm10 0zm7 10zm16-1zm13 10zm82-14zm65 0zm96 23zm-27 13zm-64-7zm-49-9zm-10 12zm-41-12zm-25-2zm-75 6zm-12-4zm-18 15zm-7-13zm-14 5zm-23-6zm-138 15zm-25 0zm-5-9zm-8 0zm-43-11zm-228 16zm-53-14zm-2 6zm-14 7zm-63-14zm-4 20zm-12-12zm-28 2zm-23-1zm-43 11zm-18-9zm-5-2zm-14 7zm-32-7zm-64-5zm-1-5zm-26 6zm-10 12zm-22-10zm-7-5zm-98 9zm-21-8zm-35 17zm-14-2zm-28-5zm-1-7zm-6-8zm-5 10zm-88 7zm-8-5zm-24-6zm-7 18zm-3-1zm-2-8zm-19 3zm62 25zm54-12zm7 8zm85-3zm9-6zm26 12zm16-14zm3 3zm8 13zm12-18zm8 8zm3 2zm22-8zm13 16zm50-2zm23 1zm24-8zm6-8zm70 3zm10 12zm60-13zm61-4zm16 10zm9-2zm58 4zm37 1zm2-12zm44 21zm238-13zm58 9zm69-11zm0-1zm22 6zm32 11zm9-3zm93-6zm128 0zm13-10zm29 2zm17 2zm5-3zm25 4zm23-1zm56 9zm-53 21zm-55-3zm-6 5zm-39-6zm-48-10zm-85 16zm-20 5zm-45-6zm-16 1zm-53 2zm-35 1zm-31 3zm-15-20zm-20 10zm-12 10zm-110-7zm-167-13zm-28 14zm-54-8zm-24-8zm-9 11zm-6 7zm-170 4zm-9-7zm-41 8zm-23-19zm-15 3zm-12-6zm-50 15zm-16-13zm-45 1zm-36 18zm-29-10zm-63-6zm-34 16zm-44 0zm-16-5zm-45-5zm-13-7zm-23 10zm-7-8zm17 21zm13 6zm4-7zm31 3zm7-4zm128-1zm135 9zm75-7zm1-3zm38 20zm41-1zm26 2zm50-21zm40 23zm16-12zm32 0zm15-5zm20-7zm52 23zm64-22zm289 4zm10 10zm21-2zm19-3zm9 5zm40 3zm49-11zm9 3zm38-8zm39 19zm118-6zm5-8zm37 14zm7-11zm79 0zm19 1zm36 16zm-5 12zm-5-5zm-17-4zm-19 13zm-50-18zm-4 18zm-10-5zm-27-11zm-8 6zm-4 10zm-17-1zm-80-17zm-58 9zm-41 14zm-65-1zm-14-18zm-22 0zm-13 16zm-14 3zm-23-18zm-33 1zm-2 7zm-302-5zm-33-2zm-40 2zm-35 10zm-1-1zm-27 3zm-6-7zm-18-7zm-43 0zm-26-2zm-6 15zm-17-7zm-61-5zm-20 2zm-16 6zm-10 6zm-1-19zm-59 10zm-24-5zm-8-1zm-28 6zm-32-10zm-24 13zm-6-5zm-38-6zm-39 3zm-5 8zm-39-6zm-7 4zm-12 1zm-7-10zm-35-1zm-75 40zm10-19zm12 2zm47 2zm51 18zm10-9zm8-13zm30 8zm53 14zm10-15zm16 0zm32-3zm17 18zm3-12zm97 8zm40 0zm75-19zm6 3zm116 14zm1 4zm27-15zm17 6zm86 6zm3-6zm15-7zm11 2zm286 10zm14-5zm85-10zm12 16zm27-1zm8-5zm3 8zm1 3zm8 0zm35-15zm7 4zm95 7zm6-13zm86 12zm26-15zm29 18zm50-10zm3 2zm-7 19zm-18 11zm-130 3zm0-17zm-21 11zm-37-9zm-2 10zm-3 6zm-58-16zm-70 6zm-2-4zm-5-1zm-37 15zm-10-23zm-2 19zm0-16zm-36 1zm-29 3zm-7-1zm-215 3zm-36 2zm-78 4zm-56-10zm-4 3zm-113 9zm-12 2zm-12-1zm-13-14zm-39 14zm-50-17zm-102 11zm-18 10zm-102-8zm-29 8zm-68-1zm-29 2zm-1-22zm-5 20zm-36-11zm-23 1zm-14-3zm-22 10zm45 12zm21 11zm19-5zm39 4zm1-15zm9 2zm61-3zm119 19zm44-9zm43-3zm8 7zm30 6zm23 4zm31-6zm41-12zm44 7zm9-8zm56 9zm44-9zm91 1zm5 9zm3-12zm288 4zm10-1zm5 4zm22-1zm9 12zm31-14zm10 16zm5-5zm76-1zm225-2zm15-7zm22-5zm44 8zm29 2zm-60 30zm-29-17zm-147 2zm-5 5zm-46-2zm-20 6zm0-7zm-13 1zm-29 9zm-28-11zm-6-2zm-37 12zm-39 1zm-9-13zm-42 16zm-4-11zm-264 6zm-4-6zm-66-4zm-8 10zm-26-13zm-92 21zm-21-9zm-2-4zm-19 1zm-63 12zm-22 0zm-3-12zm-40-4zm-44-4zm-68 21zm-8-12zm-6 10zm-20-18zm-59 15zm-10-14zm-32 5zm0 1zm-18 7zm-4-4zm-47-2zm-28 11zm-5-4zm-1-4zm-26 8zm-2-5zm-22-12zm-12 2zm-12-5zm-11 21zm-1-6zm-5-4zm1 26zm20-4zm5-10zm4 12zm44 0zm2 0zm42 7zm38-2zm133-4zm5 4zm26-1zm118-10zm8-7zm99 6zm47 0zm32 0zm10 5zm38-9zm11 8zm11 4zm20 0zm12-10zm9 0zm338 11zm19-15zm19 10zm32-6zm44 11zm3-13zm13 22zm35-17zm24-5zm13 17zm14-3zm54-9zm11 4zm62-2zm50 6zm26-10zm115 4zm0 4zm-2 19zm-101 11zm-52-9zm0 0zm-94 9zm-43-17zm-80 11zm-52-7zm-37 8zm-6 2zm-16 5zm-5-11zm-14 10zm-12-20zm-3 3zm-12 18zm-3-12zm-83-2zm-210-4zm-31 19zm-3-1zm-50-20zm-26 6zm-42 3zm-3 7zm-15 1zm-14-17zm-26 17zm-32-1zm-3-2zm-77-9zm-46 6zm-5 1zm-29-8zm-50 8zm-12-5zm-22 9zm-15-11zm-11-2zm-18 2zm-42 15zm-2-8zm-30-10zm-5 21zm-4-15zm-45-4zm-55 11zm-10-7zm-38 30zm5 5zm18-11zm6 14zm20-4zm5-5zm49-7zm27 16zm11-22zm13 16zm34 7zm14-5zm23-1zm25-10zm20 14zm60-18zm48 13zm35-2zm17 1zm9 2zm0-5zm3-1zm7 9zm29-3zm19-11zm25 8zm16-15zm1 6zm18 0zm77 2zm66 7zm38-9zm43 15zm48-8zm210 10zm3-5zm0-13zm33 2zm40 5zm37 8zm59-2zm64-12zm13 10zm17-6zm54-2zm66 10zm41-2zm0-7zm13 4zm21-6zm68 19zm-108 6zm-136-1zm-47 5zm-13 10zm-51-13zm-17-8zm-7 15zm-6-7zm-41 4zm-17-11zm-13 2zm-26 7zm-10-7zm-28 18zm-17-18zm-8 0zm-237 17zm-5 3zm-7-20zm-44 9zm-2 1zm-38 3zm-20-17zm-30 2zm-99 15zm-19 1zm-76 2zm-63-4zm-9-7zm-2-4zm-9 18zm-7-6zm-91-14zm-10 10zm-1-12zm-1 14zm-8-14zm-46 3zm-4 10zm-54-3zm-14 2zm-43-7zm-18 7zm-62 4zm-1-3zm-4-13zm-7 46zm2-9zm2 6zm17-2zm4-15zm9 15zm25-15zm44 5zm8 12zm62-3zm18 6zm11-5zm6-10zm122 15zm39-15zm3-8zm6 1zm21 9zm124-9zm17 8zm31 6zm4 7zm24-3zm51-3zm2-1zm27-7zm44 0zm15 3zm42 5zm7 0zm140-1zm132-4zm4 6zm36 5zm6-2zm3-8zm16-9zm14 13zm10 7zm46-2zm54-1zm1-3zm74-16zm2 11zm107 7zm40-16zm73 11zm55 1zm-13 12zm-20 6zm-4-3zm-63-4zm-20 14zm-25-2zm0 4zm0-14zm-4 6zm-220 11zm-72-17zm-20 18zm-29-1zm-9 1zm-323-2zm-40-4zm-10 6zm-23-6zm-2-14zm-42 5zm-43 14zm-5 1zm-42 0zm-9-21zm-17 10zm-41 1zm-15 9zm-3 2zm-94-21zm-34 3zm-70 12zm-50-10zm-29 15zm-7-12zm-8-5zm-46 10zm-3-3zm-14-9zm-2 7zm-31 14zm-50-4zm-4-18zm-2 2zm0 0zm-4 0zm-29-2zm-26 16zm26 17zm10 1zm32-2zm4 11zm26-3zm19-11zm8 15zm25-22zm57 24zm3-21zm8 1zm93 14zm102-8zm7-8zm5 7zm30 1zm8 6zm90 3zm52-16zm75 19zm33-15zm16 6zm2-8zm31 15zm14-4zm124-4zm170 11zm7-21zm91 15zm5-17zm3 3zm64 12zm10 2zm96 5zm13-2zm50-11zm57-9zm2 24zm10-9zm3-2zm2-12zm19 0zm37 17zm20-3zm1-8zm-39 40zm-30-6zm-15 1zm-5-18zm-145 17zm-7 1zm-15-17zm-2 12zm-53-2zm-36 7zm-12-16zm-1 4zm-5-1zm-22 17zm-41-16zm-30 12zm-10-16zm-29 16zm-304 4zm0-14zm-6 11zm-29-18zm-12 21zm-34-12zm-2-4zm-26 4zm-18 12zm-139-8zm-15-7zm-13 13zm-5-3zm-68-3zm-4 0zm-17 0zm-28 8zm-60-18zm-7-3zm-68 4zm-14-3zm-65 16zm-6-1zm-59-10zm-8 3zm-65 12zm18 20zm34-18zm2 17zm8-15zm31 2zm12 14zm37-14zm25 13zm41-11zm15 5zm71 4zm9-11zm16 8zm33-2zm79-8zm40 9zm33 11zm10-5zm18-16zm3-1zm21 8zm9 4zm13-5zm17-3zm44 10zm37 5zm6-16zm9 4zm67-3zm5-3zm2 8zm42 5zm7 5zm206-11zm18 14zm64-9zm38 10zm4-6zm21-9zm35-5zm0 12zm51-4zm12-5zm8-3zm12 0zm9 5zm10 11zm10 2zm6-19zm8 9zm163 8zm17-13zm33-1zm22 11zm-152 11zm-54 1zm-278 17zm-54-10zm-39-4zm-3 6zm-83 3zm-6 7zm-19-8zm-4-1zm-6 2zm-28-3z"/>
<path d="M2102 619zm-26 1zm-39-14zm-19-1zm-41 10zm-151-2zm-250-5zm-11 9zm-10 3zm-43-3zm-11-15zm-16 20zm-164-1zm-54-16zm-6 2zm-175 6zm-19 11zm-87-1zm-63-5zm-150 1zm-35 2zm-98 22zm45-5zm108-5zm134 4zm77-1zm132 0zm143-2zm99 1zm192 11zm8-13zm39 1zm0-3zm32-2zm9-3zm63 11zm63 0zm88 2zm67 4zm10-3zm3-12zm3 13zm17 2zm37-6zm1-10zm20 17zm17-13zm3 3zm128 32zm-120 1zm-79-5zm-86-9zm-29 4zm-15 5zm-71 5zm-28-18zm-145 14zm-111 8zm0-19zm-15 11zm-62-10zm-51 7zm0-10zm-99 5zm-47 16zm-72 1zm-34 0zm-94-4zm-135-17zm-61 19zm-11-7zm-16 4zm-7-4zm-8-8zm-19 12zm-68-12zm-43 10zm-3-7zm76 14zm203 22zm4 0zm53-20zm39 11zm8-4zm71-5zm45 10zm54 1zm4-6zm127 14zm5-10zm9 2zm54-13zm18 19zm60-9zm78-9zm3 9zm17-5zm0-3zm6-4zm49 1zm55 5zm22 9zm1 5zm2-14zm34 4zm123 8zm35-17zm103 14zm31 8zm6-19zm11 10zm79-1zm71 31zm-27 0zm-14-2zm-6-9zm-10 6zm-61-11zm-40 10zm-58-10zm0 7zm-108-8zm-47 18zm-38 1zm-175-10zm-53-3zm-127-1zm-34 8zm-43 1zm-89-6zm-18 4zm-94 8zm-14-1zm-161-12zm-9 1zm-63 6zm-7-1zm-13 7zm-22-22zm-13 16zm-141-7zm-20 8zm-59 15zm64 13zm37-20zm5 11zm12 3zm1-14zm18 8zm9 8zm15 0zm37-5zm19 8zm14-10zm72-7zm9 10zm21-13zm32 11zm115 5zm8 3zm21-14zm36 16zm10-9zm4-1zm190 5zm118 6zm67-5zm90-14zm50 0zm1 17zm25 2zm145-19zm22 19zm13-4zm78-13zm30 4zm42-7zm4 12zm42-6zm24 0zm6-7zm38 17zm2-3zm15-15zm25 0zm-60 29zm-68-6zm-17 21zm-15-20zm-67 21zm-180 0zm-79-13zm-33-1zm-84 13zm-76 0zm-95-14zm-13 6zm-15-12zm-31 22zm-63-8zm-48-3zm-60 10zm-48-10zm-109 7zm-5-19zm-7 22zm-24-18zm-16 3zm-8-7zm-23 2zm-32 2zm-5 18zm-39-17zm-9 2zm-13 12zm-7-8zm-50 5zm-8 6zm-5-1zm-41-20zm-1 23zm-11-16zm-25 6zm-39 8zm-59-21zm34 23zm10 11zm36 1zm10-10zm9 8zm6 3zm10-6zm188-7zm139 23zm8-10zm1-7zm60 17zm2-23zm104 16zm11 7zm34-6zm42 6zm100-2zm36-11zm39 4zm65 9zm0-4zm56-4zm45-2zm36 0zm83-1zm171-8zm33 14zm8-5zm70 11zm3-10zm27-11zm57 1zm1-4zm36 1zm-135 38zm-25-11zm-4 9zm-3-10zm-5 12zm-5 7zm-54 0zm-28-18zm-62 19zm-18-19zm-112 12zm-75-9zm-5-3zm-1 8zm-22-10zm-13 0zm-17 1zm-19 3zm-16-1zm-2 12zm-20-9zm-17-6zm-2 5zm-15-1zm-10 3zm-24 10zm-21-4zm-7 5zm-60 3zm-36-7zm-17 3zm-69-17zm-28 7zm-17 12zm-120-1zm-70-10zm-24-8zm-26 1zm-63-2zm-316 23zm291 23zm14-2zm84-3zm27-6zm201 11zm20-14zm58-5zm24 8zm75-6zm18-4zm35 21zm12-2zm1-6zm4-8zm7 8zm19 3zm1 0zm62-13zm15 11zm1 4zm22 1zm28-19zm20 13zm16 6zm3-14zm4 7zm3-11zm1 10zm131-8zm168 12zm30 1zm3-16zm17 17zm1 0zm0 2zm4-1zm21-3zm3 3zm118-15zm1 8zm0-8zm6-2zm3 1zm7-2zm-7 28zm-2 1zm-57 12zm-79-17zm-18 4zm-30 16zm-76-19zm-9 6zm-12 7zm-16-2zm-63-9zm-143-2zm-9 1zm-2 3zm-31-2zm-8 6zm-11 0zm-36-11zm-53 3zm-1 2zm-3 10zm-3-9zm-12 4zm-15-6zm-16 2zm-20-1zm-3-2zm-3-2zm-23 15zm-111-3zm-6-1zm-12-3zm-21-2zm-19 16zm-36-17zm-60 17zm-6-22zm-8 19zm-3-10zm-107 11zm-178-1zm-88-2zm-61-8zm-94 21zm21 1zm3 1zm34 6zm41-7zm34 4zm22 3zm32-10zm14 1zm132-1zm2 10zm109-13zm30 5zm24-6zm0 20zm5-6zm13-1zm9-2zm26-11zm53 16zm7-3zm3 6zm110-5zm35 8zm12-22zm4 4zm86 7zm19-11zm22 12zm106-5zm30 1zm59 7zm37-13zm18 4zm48-3zm28 10zm73-12zm2 11zm1 5zm41-8zm83-3zm12-3zm26-1zm79 8zm2 7zm60 17zm-10 0zm-43 0zm-25 9zm-49-9zm-6 3zm-74-5zm-42 1zm-23-1zm-19 10zm-54-19zm-119 14zm-63 3zm-4 4zm-285 0zm-40-7zm-58 3zm-19-9zm-14 11zm-21 3zm-26-1zm-7-19zm-2 6zm-7 10zm-7-7zm-21-6zm-46 0zm-24-3zm-10 9zm-25-5zm-13-1zm-42 14zm0 3zm-4-7zm-8 5zm-70-12zm-5 14zm-26-6zm-1 2zm-3-5zm-9 4zm-26 3zm-31-12zm-2 7zm-26-2zm-32 0zm-75 4zm-21 6zm-9-20zm-59 25zm1 1zm29 2zm32 15zm7-20zm2-1zm18 0zm5 8zm21-8zm15 17zm20 2zm1-14zm10 2zm13-3zm6 10zm29-6zm3-4zm30 5zm26-5zm14 19zm5-20zm11 12zm28-13zm28 18zm12-4zm11-4zm12 4zm54 5zm2-20zm30 4zm27 3zm118 4zm19 6zm40-13zm15-6zm16 5zm66-4zm191 0zm94 20zm32 1zm13 2zm18-16zm66 16zm70-4zm41-8zm11 8zm30-4zm20 5zm40-15zm97 5zm52 11zm31-10zm25 19zm-51-2zm-35 10zm-46-14zm-114 17zm-53-9zm-56 11zm-1-3zm-7-10zm-9 15zm-40-16zm-2 17zm-17-22zm-16-1zm-311 20zm-80-10zm-18 7zm-10-13zm-19 5zm-14 2zm-23 7zm0-1zm-38-5zm-4 11zm-91-11zm-17 11zm-1-11zm-136-10zm0 12zm-2-12zm-3 15zm-53 2zm-68-8zm-234 12zm-39 22zm4-15zm38-5zm45 17zm6-6zm36 1zm59 4zm27-7zm37-5zm26 11zm38 3zm55-2zm6 6zm26-14zm20 9zm26-16zm57 0zm30 18zm62 1zm16-6zm17 0zm6 5zm43-16zm4 5zm23 10zm62-5zm19 2zm101-11zm10 17zm109-19zm49 7zm27 13zm37-16zm5-3zm19 5zm2 7zm112-10zm9 3zm45-2zm11 10zm8-15zm5 13zm1-14zm135 8zm40-6zm6 18zm37 2zm1-8zm4 1zm32-12zm33 6zm-327 22zm-17 3zm-55 1zm-45 3zm-26-1zm-46 10zm-26-2zm-267-12zm-48 11zm-23-6zm-17-10zm0 16zm-70-5zm-7-9zm-14 4zm-12 7zm-18-13zm-55 16zm-30-10zm-26 7zm-36-16zm-5 8zm-16 5zm-33 7zm-14-19zm-61 16zm-49 1zm-12 4zm-6-18zm-11 14zm-8 4zm-54-7zm-27 5zm-7-10zm0-7zm-28 19zm-1-11zm-2 11zm-15-3zm-3-2zm-52-1zm-6-8zm-25 14zm35 13zm40 9zm48-2zm13 0zm9-3zm12-10zm27 4zm1 12zm47-17zm30 11zm12 3zm20 2zm28 0zm26 2zm6-2zm37-7zm4 1zm31 8zm8-12zm32 9zm33-18zm13 19zm3-19zm51 2zm123 5zm7 3zm80 0zm318-4zm27 11zm23-11zm7 9zm33-4zm51-8zm23 1zm55 16zm12-4zm91 2zm31-12zm2 4zm40 8zm16-11zm95 24zm-109 12zm-24-2zm-10-1zm-121 5zm-5-2zm-27 0zm-105-2zm-25-10zm-16-10zm-21 21zm-33-18zm-35 4zm-8 0zm-204 13zm-117 4zm-8-15zm-18 12zm-80-8zm-32 7zm-13 3zm-48-17zm-62 4zm-13-4zm-55 13zm-14-12zm-63 16zm-21-18zm-43 1zm-64-3zm-9 11zm-10-3zm-22 3zm-12-4zm-5 6zm-3-15zm-6 19zm-1 0zm-12-17zm-3 19zm-5-15zm-14 16zm-34-16zm-14 2zm-5 3zm-5-3zm-17-2zm-36 13zm-2-9zm-3 3zm-3-1zm-10 2zm0 25zm2 1zm9 3zm0 3zm10-11zm0 11zm12-13zm123 7zm64-15zm35 2zm0 9zm4 8zm34-8zm42 6zm13-15zm10 15zm66 0zm49-18zm1 22zm1-11zm137 7zm44-9zm62-6zm32-1zm58 5zm179-1zm89-3zm8 18zm51 2zm14-24zm2 3zm12 19zm46-19zm85 19zm22-1zm3-6zm55-10zm186 13zm21-2zm5 8zm-17 14zm-6 0zm-54 2zm-21 2zm-24-14zm-98 16zm-5-14zm-10 8zm-68 6zm-28-1zm-1-1zm-21-1zm-81-11zm-74-3zm-10 11zm-38 6zm-28-13zm-40-6zm-80 17zm-30 1zm-86-1zm-53 5zm-11-23zm-5 4zm-22 17zm-89-6zm-36 2zm-71-4zm-17-3zm-1-2zm-15 0zm-37 13zm-3 0zm-27-10zm-50 0zm-6 12zm-15-21zm-20 6zm0-7zm-1 3zm-8 8zm-33-8zm-74 6zm-26-2zm-61-6zm-52 7zm-54 8zm22 23zm8-7zm13-4zm20-4zm8 8zm22 3zm10-9zm12 8zm24 5zm4-2zm5 4zm81-4zm15-1zm10 1zm1-4zm28 7zm15 3zm23-17zm67 16zm17 2zm158-8zm59-9zm13 19zm64-16zm50 7zm9-2zm14-5zm63-6zm29 3zm32 18zm11 0zm75-20zm7 11zm63-11zm43 18zm32-10zm42-7zm9 0zm41 2zm10 11zm7-16zm10 9zm4 9zm4 3zm4-21zm15 5zm39 6zm21-3zm28-4zm43 15zm173-12zm18 13zm-46 24zm-10-5zm-1 8zm-42-1zm-111-12zm-63 13zm-23-10zm-115-2zm-18-11zm-26 15zm-12-7zm-82-1zm-18 15zm-193-9zm-12-4zm-22-7zm-22 18zm-40-14zm-19 8zm-20-5zm-22 11zm-57-14zm-24 18zm-35-7zm-1 1zm-140-5zm-102-12zm-21 22zm-10-7zm-29 0zm-46-10zm-20 13zm-7-17zm-6 7zm-3 11zm-38-13zm-8 5zm-12-5zm-3 0zm-5 5zm-4 4zm-38-6zm-4 5zm-10-3zm4 32zm32-11zm26-8zm20 15zm8-11zm47-4zm29 16zm18-13zm45 5zm5 7zm10 0zm12-14zm86 19zm11-13zm1 5zm12 11zm11-19zm28 7zm23-1zm11-7zm7 6zm79-4zm22 15zm114-14zm55-5zm67 9zm38-10zm24 21zm12-4zm36 5zm1 0zm45-18zm20 19zm11-21zm25-2zm61 10zm47 1zm34-5zm22 2zm4-1zm10 4zm86-7zm12 3zm21-2zm1 0zm6 1zm17 8zm11 4zm32-16zm188-2zm-87 24zm-48 19zm-8-2zm-10 0zm-4-15zm-10 17zm-14-4zm-1 6zm-16-9zm-23 8zm-10-15zm-5 12zm-71-8zm-48-6zm-166 8zm-1-12zm-6 4zm-5 11zm-13-7zm-3 1zm-8-7zm-4 19zm-1-1zm-6-9zm-45-3zm-3 4zm-8-3zm-12-5zm-1 9zm-3-12zm-14 7zm0 0zm-3 15zm-2-7zm-9 5zm-23-7zm-4-1zm-1-3zm-5-2zm-50 12zm-3-2zm-19 5zm-29-9zm-36-1zm-92 3zm-43 1zm-85-8zm-116 3zm-45-5zm-7-6zm-12 11zm-288 21zm276-3zm23 3zm22-5zm6 14zm11-8zm41 11zm3-21zm25 7zm114 8zm84-7zm61 13zm18 1zm48-9zm22-11zm15 10zm24-3zm10-9zm20 24zm32-14zm8-1zm0-9zm2 9zm19-1zm13-4zm4-2zm14 0zm6 16zm11-14zm1 1zm7 1zm28-6zm2 1zm5 7zm2-8zm1 15zm5 4zm1-18zm3 16zm2 7zm1-16zm14 6zm137-6zm80 6zm24-2zm65 7zm49-13zm4 7zm19 8zm116-1zm3-13zm45 0zm16 13zm-15 21zm-31 3zm-9-10zm-127 0zm-24 10zm-2 1zm-1-4zm-14-4zm-39 0zm-86 7zm-19-4zm-35 6zm-5-16zm-162-5zm-2 7zm-10 15zm-24-4zm-7-15zm-12 5zm-1-2zm-9 10zm-19 5zm-3-19zm0 17zm-8-16zm-2 4zm-43 8zm-5-1zm-1 9zm-27-3zm-3-3zm-67 6zm-42-10zm-8-12zm-75 10zm-122 11zm-21-15zm-52 12zm-35-10zm-132 0zm-28-2zm-298 8zm320 31zm105-17zm97 0zm109-5zm15 20zm44-3zm152 2zm15 4zm3-8zm19-7zm1-2zm1 8zm0-1zm5 7zm3-18zm0 4zm17 8zm23-8zm6 12zm6-1zm8-8zm10-1zm4-1zm4 14zm12-10zm1 11zm14-1zm20-21zm17 16zm29 3zm3-2zm0 1zm259-15zm32 13zm43-12zm8-2zm11 1zm8 8zm28 6zm4-15zm50 20zm30-6zm29 2zm57-10zm-37 29zm-26-6zm-5 1zm-120 15zm-21-12zm-2-1zm-6-1zm-21-4zm-159-1zm-149 1zm-12 6zm-18-4zm-1 9zm-2-11zm-4 15zm-7 1zm-22-20zm-1 4zm-2-1zm-22 16zm-3-18zm-7 8zm-10 1zm-19 3zm-10-3zm-15 2zm-2-6zm-17 11zm-4-18zm-48 4zm-11 17zm-25-16zm-113 6zm-6-6zm-11 0zm-35 2zm-60-3zm-39 16zm-13-2zm-39-8zm-27 8zm-55-13zm-6-5zm-38 12zm-345-3zm180 34zm280-9zm14 10zm52-9zm139 7zm111 1zm50-4zm5 1zm22-6zm10 1zm1-4zm30 10zm8-16zm4 20zm14-15zm8 13zm4 2zm26-14zm2 3zm12 13zm17-2zm2-4zm1-2zm6-7zm15-8zm0 1zm8 10zm2-9zm2 6zm4 12zm21-17zm88 0zm44 4zm56 2zm86 2zm28-10zm20 5zm1 12zm6-13zm0 5zm1-8zm40 14zm2-5zm2 9zm107-11zm72-7zm4 19zm-64 20zm-2 0zm-60-4zm-82 0zm-5-9zm0-1zm-10 16zm-1-1zm-1-4zm-197-9zm-32 10zm-117-16zm-7 14zm-27-7zm0 8zm-10 6zm-16-8zm-11 1zm-60-4zm-5 14zm-3-1zm-2-12zm-17-7zm-1-3zm-5 1zm-3-1zm-4 21zm-7-7zm-8-8zm-2-4zm-2 18zm-5-18zm-3 11zm-16-10zm-82 3zm-13 9zm-27-4zm-40-4zm-27 10zm-52-2zm-7 3zm-19-5zm-33 7zm-7-9zm-40-3zm-15 5zm-38-13zm-13 8zm-25-4zm-23 15zm-63-2zm-308 12zm32 15zm264-5zm117-15zm11 8zm125 5zm20-3zm44-9zm78 19zm73-17zm19 7zm11-1zm29 2zm8 11zm5-23zm2 5zm5 3zm25 0zm2 12zm32-15zm6 2zm8 8zm3-8zm5 9zm6-2zm22-7zm4 4zm37 2zm2-8zm4 3zm6 5zm0 4zm3 3zm0 1zm8 2zm15-9zm4 8zm226-1zm84-11zm12 2zm4-8zm17 16zm11-1zm22-18zm6 7zm28 6zm81-11zm55 18zm33 1zm-183 14zm-6-1zm-11 5zm-28-9zm-37 16zm-6-8zm-56 3zm-60-7zm-37 13zm-140-9zm-16-8zm-19 14zm-3-6zm-7 1zm-7-2zm-16-5zm-19 2zm-4 10zm-28-19zm-7 4zm-11 14zm-13-5zm-11-2zm-3-8zm-1 3zm-20 15zm0-13zm-30 2zm-1 1zm-8-12zm-1 15zm-6-15zm-3 20zm-10-18zm-4 2zm-2 14zm-26 3zm-24-6zm-34-13zm-86 1zm-40 4zm-10 10zm-23-3zm-66 4zm-88-19zm-40 0zm-297 1zm-88 25zm45 13zm36 4zm227-12zm72-1zm7-3zm2 11zm20 9zm39-2zm29 0zm21-18zm29-1zm125 13zm0-11zm2 14zm103-13zm71-2zm46 12zm22-5zm65-9zm1 12zm10 1zm5-3zm20-2zm30 9zm3-15zm6 18zm3-20zm57 23zm18 0zm58-5zm26 2zm4 1zm46-12zm108 2zm1 10zm44-8zm4-5zm17-7zm20 2zm4 7zm11-5zm83 16zm3-12zm26-1zm69 27zm-59 2zm-5-13zm-65 16zm-2 6zm-39-3zm-95-8zm-20 9zm-6-18zm-3 3zm-7 11zm-26-12zm-32-1zm-3 5zm-9 8zm-100-13zm-22 0zm-9 7zm-9 1zm-11 10zm-58-17zm-45 9zm-7 10zm-169-21zm-31 16zm-4 4zm-13-14zm-20-4zm-4 18zm-4-3zm-4 4zm-46-10zm-16-2zm-6-8zm-24-2zm-22 1zm-30 6zm-37-1zm-44 9zm-10-11zm-42-5zm-9 4zm-53 2zm-52 17zm-2-14zm-1 4zm-2-9zm-9 5zm-42-7zm-37 20zm-62-11zm-40-5zm-83 8zm-56 7zm-11 20zm8 3zm46-2zm54-10zm12 11zm94-14zm65 0zm34 0zm34 10zm19 6zm7 1zm11-12zm5 11zm36-2zm69-20zm4 8zm18 1zm19-7zm5 9zm20 2zm52-4zm31 3zm8-1zm47 3zm95-9zm33 4zm12 11zm6 0zm15-3zm21-6zm26 1zm23 0zm12 8zm1-19zm6 16zm26-4zm54-12zm15 15zm19 3zm34-11zm38 1zm29 9zm44-5zm45-3zm22 2zm11 3zm76-4zm33 7zm65-11zm2-3zm18 4zm20 12zm4-11zm70-1zm14 4zm35-5zm-70 31zm-87-4zm-49-6zm-9-1zm-28 8zm-84-1zm-14-1zm-7-4zm-160 4zm-6-3zm-106-4zm-36 7zm-8-7zm-176 10zm-27 8zm-62-2zm-55 0zm-31-1zm-83-12zm-7 15zm-80 3zm-2-5zm-47 5zm-26-8zm-9 7zm-6 1zm-45-15zm-5 5zm-18 1zm-52-13zm-2-1zm-89 2zm-55 7zm-19 10zm-43-2zm-30 15zm65 0zm15 7zm21-5zm5-1zm92 9zm14 6zm149 0zm13-11zm111-8zm7 16zm100-19zm16 21zm11-1zm34-22zm16 18zm8-18zm14 13zm11-9zm34-3zm51 14zm51-9zm30 6zm27 3zm35-1zm77 8zm0-12zm57 3zm1-4zm8-8zm51 22zm20-18zm15 18zm39-18zm16 11zm3-9zm6 13zm24-14zm67 16zm87-5zm67-2zm137-8zm-16 18zm-38 4zm-52 11zm-19 4zm-158-4zm-37 4zm-1-15zm-17 14zm-54 0zm-9 1zm-57-5zm-62 9zm-161-1zm-44-20zm-58 8zm-10 0zm-5 0zm-18-2zm-43 0zm-15-3zm-108 1zm-6 10zm-7 6zm-68-21zm-15 4zm-41-2zm-27 10zm-55-8zm-48 8zm-119-9zm-92-1zm-47 9zm-49-10zm-9 18zm-32 10zm31 2zm9 4zm9-9zm37 1zm4-2zm53 14zm49-2zm1-9zm10 3zm10-4zm1 11zm9-15zm15 4zm126 14zm84-16zm41 9zm49-5zm113 4zm58 7zm62 4zm15 1zm9-4zm12-6zm5-7zm87-2zm52 3zm43 1zm30-5zm61 1zm23 15zm2-18zm15 15zm72 5zm9-7zm67 10zm6-3zm4-5zm19-3zm28-9zm31 8zm39 4zm29 3zm17-3zm30 7zm6-13zm56 2zm5 0zm68 28zm-35-7zm-49 10zm-171-6zm-11-4zm-98-7zm-68 10zm-11 4zm-26 1zm-43-13zm-19 15zm-16-14zm-14-2zm-86 18zm-2 2zm-4-5zm-13-15zm-24 17zm-59-7zm-12 4zm-68-1zm-1-16zm-9 20zm-37-10zm-87 12zm-26-1zm-55-7zm-3-2zm-3-5zm-13 4zm-43 3zm-29-1zm-2 4zm-6-5zm-31-7zm-15-3zm-32 10zm-29-10zm-31 13zm-30-9zm-43-5zm-101 18zm-92 5zm-67-3zm88 15zm12-5zm7-4zm10 1zm6 20zm15-24zm7 1zm5-1zm45 2zm30 19zm4-21zm49 2zm99 0zm10 19zm32 1zm33-14zm14-1zm72 13zm73 0zm25-2zm26 5zm50-18zm79 17zm17-15zm70-7zm0 1zm6 19zm97-18zm56 13zm22-14zm81 3zm19-2zm46 0zm1 12zm21-3zm102 12zm0-19zm113 1zm63 3zm16-4zm14 11zm64 8zm4 3zm-4 15zm-20-2zm-34-13zm-47 13zm-26-10zm-11 0zm-32 19zm-5-8zm-35 4zm-125-2zm-140-3zm-78-6zm-13 3zm-35-6zm-43 14zm-206-16zm-72 0zm-24 18zm-75-7zm-64 2zm0 6zm-42-20zm-20 5zm-2 7zm-19-5zm-46 11zm-5-19zm-27 3zm-63 2zm-60-7zm-61 12zm-3 4zm-17 6zm-29-1zm-9-16zm-19 7zm-17 3zm-68 3zm16 8zm4 21zm140-1zm18-1zm14-19zm25 3zm3 4zm47 7zm27 5zm20-2zm30-9zm166 11zm12-15zm1 6zm16 8zm75-20zm9 2zm50 19zm29-16zm36 4zm4-3zm142 15zm253-9zm61 6zm1-10zm13 5zm23-4zm14 14zm3-18zm2 18zm27-15zm12-6zm24 6zm3-5zm41 16zm10-15zm65 17zm58-1zm18-8zm69-6zm10 14zm-83 5zm-2 1zm-11 2zm-83 4zm-47 7zm-59-12zm-3 13zm-10 8zm-68-18zm-25 11zm-21-5zm-45-7zm-8 6zm-94-10zm-66 5zm-76 16zm-51-16zm-3 9zm-60 8zm-71-11zm-11-7zm-17 18zm-13-5zm-67 2zm-45-13zm-29 7zm-58 10zm-26-14zm-44-3zm-45 16zm-6-13zm-9 9zm-38-10zm-76 4zm-12 0zm-16-7zm-21 4zm-27 5zm-11-2zm-29-9zm-20 17zm-1-16zm-12 11zm-9-8zm-55 2zm-11-3zm26 41zm39-7zm2-11zm101 14zm16-11zm57 0zm40-6zm2 20zm14-6zm30-9zm30-1zm22-6zm4 21zm30-6zm81-7zm71 4zm0-1zm62-11zm51 12zm3 3zm5-2zm15-7zm104-2zm8 17zm105-8zm109-13zm35 23zm24-5zm8-1zm31 5zm29-9zm16 7zm43 1zm69-11zm36 7zm6 2zm80-2zm16-9zm3 13zm31-21zm30 7zm124 28zm-42-8zm-42 2zm-1 7zm-7 8zm-16-8zm-15 4zm-8-10zm-1 10zm-23-9zm-3-6zm-114 13zm-63-9zm-10-1zm-209 7zm-46 6zm-3-7zm-30-8zm-115 3zm-49 11zm-46-9zm-11 8zm-25-12zm-1 9zm-14 3zm-18-6zm-3-7zm-83-2zm-13 6zm-22 4zm-54 13zm-49-21zm-18 21zm-22-18zm-33 4zm-44 11zm-36-8zm-17 9zm-95-4zm-80-15zm-7 1zm-3 3zm-9-1zm-3 7zm-18-5zm-39 3zm-8 1zm-15 4zm-1 3zm-10-7zm-13 24zm24-12zm32 20zm7-15zm74 19zm2-7zm53-9zm27-4zm4 17zm2-9zm78-7zm18 1zm43 16zm11-8zm13 10zm15-2zm48-13zm37 4zm14-5zm72 5zm46-1zm32-7zm8-2zm4 20zm43 0zm2-16zm181 3zm117 1zm34-4zm9 5zm23 10zm15-1zm22-15zm39 17zm16-8zm4-3zm13-7zm46 19zm4-15zm8 5zm43 10zm67-22zm16 2zm19 19zm101-5zm21-18zm17 20zm14-7zm11 5zm9-7zm20-11zm16 4zm14-2zm-88 36zm-153-1zm-13 9zm-42-17zm-8 17zm-61-22zm-63 16zm-25-10zm-34 8zm-5 1zm-6 8zm-56-12zm-165-8zm-19 1zm-72 17zm-18-14zm-8 0zm-57 6zm-47 6zm-118-19zm-19 4zm-39 8zm-4-2zm-5 4zm-8 8zm-11-16zm-54 7zm-11-5zm-36-3zm-7 2zm-8 16zm-62-12zm-128 4zm-40-13zm-1 13zm-51 1zm-4 0zm-25-13zm-24 40zm2 5zm29-17zm0 11zm37 1zm53-17zm9 17zm9-10zm26-4zm41 8zm2-11zm19 9zm16 1zm0-8zm21 16zm0-8zm1 9zm25-12zm3-2zm3 12zm20-12zm43 2zm37 7zm17-3zm77 4zm17-2zm46 5zm4 1zm46-15zm6 12zm64-15zm4 15zm22-7zm68-3zm6 15zm15-18zm122 15zm11-14zm173 9zm43-4zm35 5zm39-6zm5-1zm30-1zm8 14zm11-4zm37-16zm8 8zm116 1zm18 8zm9 1zm8-19zm12 7zm24 9zm78 1zm2 0zm-20 22zm-43 7zm-33-12zm-1-2zm-10 2zm-81 7zm-33-12zm-18 11zm-4-9zm-14 1zm-3 5zm-39 9zm-21-7zm-10-14zm-44 6zm-32-2zm-41-4zm-2 3zm-16 16zm-14-15zm-21 14zm-21-2zm-190-11zm-147 11zm-10-16zm-21 17zm-83-5zm-10-10zm-6 7zm-12-7zm-35 12zm-22 5zm-22-2zm-20 3zm-27-3zm-55 0zm-25-15zm-75 3zm-70 2zm-43 4zm-48 1zm-88-10zm-54-1zm92 40zm6-17zm19 10zm42-5zm28 4zm77 3zm5 2zm22-15zm19 4zm68 1zm3 5zm8 12zm19-17zm40 11zm4 6zm21-9zm50 8zm9-9zm36-10zm39 21zm12-22zm84-1zm88 7zm294 10zm37-17zm25 1zm9 0zm6 11zm20-8zm54 15zm106 4zm6-11zm10-4zm3-2zm9 16zm8-17zm48-1zm23 16zm18-17zm17 4zm41-7zm83 14zm-40 30zm-58 0zm-5-6zm-106-2zm-23-12zm-55-1zm-39 12zm-156-9zm-56 8zm-99 10zm-178-4zm-70-10zm-21 11zm-6-16zm-13 2zm-7 6zm-93 9zm-72-17zm-6-2zm-8 2zm-71 11zm-96-7zm-24 4zm-11 12zm-9-11zm-3-1zm-159-8zm-126 46zm71-15zm74 1zm2-5zm10 9zm2-9zm42 2zm2 10zm20 2zm3-14zm3-1zm10 6zm37 11zm20-12zm31 2zm38-8zm26-3zm51 20zm15-9zm0-7zm56 11zm41-9zm21 6zm9 2zm26 5zm11-15zm51 19zm23 0zm10-15zm21 6zm19-6zm32 10zm16-10zm141-6zm184 10zm5-4zm52-6zm5 0zm63 2zm74 7zm37 2zm101-9zm5-4zm43 20zm7 24zm-38-2zm-183-11zm-29-5zm-13-1zm-85 5zm-3 12zm-34-8zm-5 0zm-3-3zm-4 8zm-7 8zm-31-18zm-1 13zm-150-11zm-144 10zm-27-5zm-12 2zm-27-11zm-75 20zm-6-22zm-17 21zm-51 1zm-14-7zm-9 2zm-6 0zm-55-3zm-7-3zm-56-5zm-3-4zm-64 9zm-2-4zm-9 4zm-1 6zm-17-12zm-36 16zm-3-19zm-69 8zm-42-10zm-2 16zm-53 0zm-1-15zm-1 18zm-34-7zm-25 1zm-18-10zm-11-2zm21 31zm87 6zm24-1zm65-12zm22-1zm25 11zm16-3zm9 3zm1-9zm2 5zm11 7zm53-14zm10 6zm20 10zm27 3zm9 2zm16-11zm13-1zm3-7zm83 9zm22-6zm7 5zm16 9zm173-2zm8-9zm14 11zm303-7zm28 0zm83-2zm26 10zm4-5zm50-8zm72 9zm102 0zm3-2zm31-13zm109 17zm-5 18zm-16 3zm-2 5zm-3-1zm-31-9zm-35 1zm-37-7zm-6 4zm-104 3zm-38 8zm-92-9zm-30 11zm-20-12zm-21 8zm-265-15zm-95 16zm-6-19zm-10 2zm-47 7zm-31-7zm-79 16zm-20 5zm-24-12zm0-8zm-13 12zm-43-3zm-55-11zm-15 12zm-62-1zm-25 10zm-16-3zm-54-2zm-15-14zm-21 3zm-12 11zm-22 7zm-7-21zm-18 10zm-4 4zm-44-12zm-58 15zm-54-5zm-17-11zm-25 11zm1 25zm10-6zm25-2zm187 0zm31 9zm9 4zm17-16zm45 16zm12-12zm18 2zm19 7zm3-7zm13 0zm9-9zm2-1zm7 5zm32 2zm16 0zm17-2zm0 14zm119-8zm2 11zm44-9zm7-10zm23-2zm29 9zm0-4zm18 15zm21-21zm2 16zm3-1zm33-3zm7 9zm282-5zm2-3zm13-5zm9-4zm32 2zm17 9zm15 0zm60-12zm5 18zm59-4zm12-16zm8 11zm5-8zm13 19zm50-15zm38 6zm46-6zm43 4zm5 4zm12-16zm7 0zm-42 42zm-1 0zm-10 3zm-31-9zm-14-10zm-44 1zm-30-3zm-26 2zm-23 6zm-81 10zm-7-7zm-14-8zm-20 0zm-39 7zm-10 0zm-34-6zm-9 7zm-10-5zm-207 9zm-34-8zm-93-6zm-5 10zm-5-11zm-15 2zm-11 14zm-27-11zm-62 17zm-14-9zm-20-5zm-23 11zm-23 2zm-1-11zm-4 4zm-8-9zm-40-4zm-96 7zm-125-2zm-55-3zm-26 18zm-49-7zm-16-7zm-36 0zm-28 1zm-6 11zm-46-6zm66 14zm19 19zm64-20zm50 19zm58 0zm50 1zm15-13zm186 6zm14 2zm32-9zm43 4zm9-12zm11 20zm21-21zm3 10zm35-7zm9 10zm25-11zm29 6zm26 4zm2-7zm9 3zm8 10zm4-15zm59-2zm79 21zm136-12zm22-7zm87 13zm0 7zm37-13zm13-4zm5 10zm6-15zm9 15zm44 5zm3-7zm4-11zm3-1zm13 4zm36 5zm66 7zm59-13zm32 5zm16 7zm0-15zm79 32zm-36 0zm-46 6zm-129-6zm-5-3zm-89 10zm-16-1zm-4-14zm-5 2zm-42 19zm-142 0zm-18-15zm-90 16zm-4-3zm-2-3zm-160 2zm0-16zm-37 13zm-8-13zm-6 5zm-42 5zm-14-9zm-89 12zm-9-13zm-47 17zm-4-6zm-47 5zm-31 1zm-15-5zm-73-1zm-46-5zm-26-10zm-23 8zm-14-7zm-34-1zm-54 23zm0-13zm-17-2zm-8 2zm-46 8zm-21-7zm-35 13zm-11-10zm-8-3zm-1-11zm-2 2zm-5 20zm-28-17zm17 29zm79 0zm37-8zm16 3zm9 17zm20-16zm4-2zm52 9zm69-8zm48-2zm110 10zm4-3zm107 12zm30-5zm7-16zm5 14zm10-1zm1-13zm26 19zm2-19zm63 18zm1-10zm19 11zm9-2zm53-9zm285 15zm12-12zm17-8zm9 10zm14 8zm15-9zm1 6zm5-18zm13 12zm37 3zm22-13zm34 19zm37-14zm3 15zm46-15zm18-4zm96 17zm10-1zm13 4zm58-5zm13-18zm26 7zm23 11zm-3 16zm-22-8zm-13 11zm-7 5zm-5-1zm-33-11zm-34 3zm-14 1zm-23-4zm-19-3zm-111 13zm-24-1zm-45 6zm-53-5zm-45 2zm-35-9zm-21 10zm-17-12zm-4-4zm-287 2zm-31-2zm-72 6zm-63 10zm-102-7zm-9 4zm-8-1zm-39 7zm-3-16zm-11 6zm-9-6zm-93 17zm-65-13zm-105 5zm-37-2zm-19-11zm-31 10zm-11-10zm-1 12zm-8-15zm-18 14zm-2-3zm-14 4zm-37 5zm-6-4zm-4 30zm5-8zm6 7zm29-20zm1 5zm0 0zm45 9zm16-14zm45 22zm52-21zm11 7zm71 7zm82-9zm21-1zm29 0zm14-2zm32 0zm24 6zm15-2zm22 16zm1-15zm80-3zm2 3zm27 8zm6 0zm2-9zm41 7zm41-12zm6 2zm65 9zm189 3zm11 2zm93-2zm19-12zm5-3zm18 9zm2 6zm7 1zm17-6zm46-3zm13 10zm1-11zm41 16zm6-14zm14-2zm43-6zm14 11zm29 5zm107-1zm2-16zm92 19zm-41 27zm-13-11zm-33-7zm-6 7zm-129-4zm-8 5zm-32 10zm0-3zm-66-14zm-4 0zm-51 4zm-10 10zm-2-6zm-10 2zm-22-14zm-6 21zm-24-11zm-27-8zm-272 4zm-41 4zm-3 4zm-38-4zm-15 3zm-21-7zm-9 11zm-32-14zm-10 6zm-6 7zm-34-7zm-58 10zm-24-11zm-59-9zm-17-1zm-25 23zm-1-5zm-3-3zm-49 7zm-6 0zm-9-22zm-1 23zm-62-20zm-17-3zm-10 2zm-26-2zm-26 11zm-22 1zm-51 6zm-12-8zm-43 2zm-26 0zm-23-4zm-33-6zm11 24zm3 14zm15-11zm9 11zm66 2zm4 1zm3 2zm34-10zm2 4zm2-6zm23 11zm61-12zm37-2zm26-2zm7 6zm9-5zm4 6zm23 7zm188-1zm79-6zm33-11zm53 6zm51-5zm65 18zm148-17zm114 16zm30-12zm6 1zm23 8zm5-6zm6 14zm32-15zm8 12zm49-3zm37-12zm48 3zm69 8zm16-5zm109 8zm63 18zm-15-7zm-17 15zm-2-17zm-9 11zm-26 4zm-7-17zm-143 18zm-102-12zm-28 14zm-12-18zm-36 0zm-38 15zm-8-13zm-29 16zm-21-20zm-250 6zm-13 13zm-86 2zm-39-9zm-3-3zm-43-6zm-33-4zm-71 22zm-76 0zm-18-11zm-64 10zm-8-8zm-9-13zm-4 15zm-5-11zm-1-2zm-30-1zm-71 6zm-9 15zm-29-6zm-21 0zm-1-15zm-37 5zm-33 5zm-14-1zm-5 8zm-29 1zm-26-12zm-30 6zm14 20zm36-8zm23 4zm0 3zm24 13zm20 0zm12-8zm5-3zm0 6zm20-5zm9-2zm17 1zm19 9zm30 3zm4-2zm49-3zm9-16zm20 19zm29-2zm33-12zm16 15zm11-22zm3 1zm27 14zm7 9zm59-19zm44 12zm5 2zm12-16zm25 7zm110 8zm17-5zm3-11zm30 15zm10 0zm52-6zm38-6zm62 2zm237-3zm68 13zm117-14zm5 7zm113-5zm2 16zm38-15zm18 1zm15 4zm2 2zm22-1zm11-2zm-64 14zm-77 22zm-423-3zm-25-5zm-3 1zm-52 6zm-7-11zm-17 6zm-43 5zm-213-20zm-325 4zm-301-4z"/>
<path d="M2160 603zm-22 18zm-57-1zm-155-11zm-40-1zm-37 2zm-37 7zm-11-5zm-135-1zm-15 8zm-93 3zm-35-4zm-32-6zm-85 9zm-65-5zm-23-1zm-140-6zm-328 14zm-29-10zm-182 26zm4 1zm25 7zm43-7zm40-8zm16 3zm72-10zm42 11zm8 4zm22 5zm33-6zm17 2zm49 1zm31-13zm59 9zm6-8zm4 10zm7-9zm309-6zm32 11zm43 10zm20-22zm74 23zm68-3zm137-4zm23-8zm35-4zm26 14zm23-10zm35-1zm2-3zm163-1zm15-1zm21 3zm20 29zm-3 13zm-26-21zm-5 12zm-22-9zm-12-1zm-2 8zm-107 11zm-21-10zm-57 6zm-20-6zm-4 2zm-75-13zm-21 19zm-112-17zm-17 18zm-4-16zm-2 13zm-39 3zm-60-16zm-44 18zm-317-20zm-79-3zm-31 15zm-37 3zm-14-4zm-12-13zm-5 1zm-111-2zm-60 3zm-86 14zm-9 1zm-11-16zm-30 20zm-5 0zm-10-1zm-43-17zm61 43zm18-1zm27-1zm59-21zm17 8zm18 13zm35-19zm53 13zm28 5zm13-16zm162 3zm11 11zm18 1zm80-15zm197-5zm12 19zm8-13zm5-6zm25 1zm13 3zm66 5zm5 1zm1-1zm33-5zm4 9zm13-5zm121 0zm13 1zm69-6zm3 1zm34 16zm46-11zm48-3zm28-5zm73 4zm16 7zm61 5zm31 25zm-107 4zm-33-4zm-45-16zm-6 2zm-57-1zm-23 9zm-57 4zm-19 1zm-53-16zm-6 13zm-87 4zm-21-13zm-80 6zm-141-4zm-211 4zm-19-6zm-16 16zm-3-7zm-5 5zm-126-9zm-57 8zm-8 5zm-106-21zm-72 5zm-17-2zm-8 12zm-135-11zm-2 25zm3 13zm8 1zm56 1zm36-3zm59 1zm28-9zm16 11zm13-17zm10 2zm18 7zm23-7zm1 14zm22-5zm55-14zm6 13zm33-7zm0 0zm19 2zm18-4zm21 17zm7-7zm63-10zm25-5zm31 12zm36-3zm47 5zm9 1zm23 4zm19-20zm73 14zm2-7zm4 14zm118-16zm8 4zm160 14zm23-12zm15-5zm19-5zm28 2zm23 12zm2-12zm52 1zm3 6zm5-3zm9 2zm37-9zm61 4zm36 7zm20-5zm55 16zm73-21zm46 36zm-92-12zm-5 19zm-11 0zm-8-9zm-99 6zm-17-6zm-40-2zm-18-2zm-66 14zm-47-3zm-47-13zm-24 17zm-1-13zm-4-5zm-24 2zm-81 0zm-21 14zm-98 0zm-1-20zm-221 21zm-22 1zm-115-13zm-61-7zm-11 11zm-1-5zm-99 12zm-76 0zm-29-4zm-54-11zm-41 6zm-6-3zm-5 15zm-2-4zm-6-16zm-33 19zm-6-9zm-5-6zm-66 1zm-32 5zm-4 1zm-1 3zm12 15zm38 4zm69-8zm65 7zm14-5zm6 17zm20-15zm121-7zm43 2zm21 2zm50-4zm14 0zm82 21zm45-12zm109 0zm84-8zm47 17zm15 2zm13-2zm17-11zm9-6zm5 12zm14-13zm49 23zm25-7zm14-4zm121-9zm9-3zm39 16zm34-10zm26-1zm3 15zm16-18zm7 20zm30-15zm19 10zm91-4zm44 0zm88-11zm22 15zm45 11zm-38-4zm-119 1zm-17 6zm-1 15zm-7-16zm-10 1zm-2 16zm-16-10zm-48-3zm-75-6zm-73 7zm-138 5zm-2-7zm-1 7zm-25-14zm-11 19zm-3 0zm-20-4zm-16-4zm-7-2zm-6-1zm-3 10zm-12-18zm-10 0zm-2 8zm-7-6zm-10 0zm-7 4zm-15 9zm-28-13zm-2 10zm-23-7zm-10 1zm-6-6zm-15-3zm-5 6zm-41 3zm-117-2zm-20 4zm-165 6zm-14-4zm-28-11zm-26 14zm-17 2zm-51 7zm82 2zm47 11zm50-5zm58 7zm30 5zm150-2zm58 3zm9-12zm26-8zm5 6zm4-7zm11 23zm0-18zm36 3zm0 11zm3-9zm1-7zm10 2zm0 10zm0 1zm4-8zm64 10zm3 4zm4-23zm9 16zm1-4zm14 1zm131-5zm2 12zm66-9zm106-7zm58 9zm31-10zm2 16zm114-18zm39 3zm23 12zm26 1zm-26 21zm-13-10zm-40 19zm-80-6zm-3-7zm-6-10zm-30 10zm-10-7zm-35 7zm-79 7zm-54-6zm-6 11zm-51-4zm-33-6zm-1-7zm-53 0zm-39-1zm-35 3zm-11-3zm-7 8zm-9-8zm-11 0zm-4 5zm-13 13zm-31-18zm-56 0zm-16 4zm-15-6zm-10 7zm-1 2zm-15-5zm-31 0zm-27 15zm-30-2zm-60-12zm-18 16zm-28-15zm-72 5zm-39 9zm-31-16zm-2 17zm-35 0zm-186-4zm-215-5zm-15 23zm4-6zm60 6zm24 2zm1-9zm27 13zm30-2zm4-7zm8 5zm57-3zm6-10zm41 13zm24 4zm3-16zm9 2zm22 19zm61-24zm21 18zm27 0zm15-8zm11-2zm65-4zm7 12zm38-7zm46 13zm40-17zm41 18zm38 0zm12 0zm14-21zm47 4zm18 12zm38-11zm23-3zm52 2zm43 12zm98-16zm29 17zm18 4zm38-19zm38 0zm31 8zm11 5zm6 5zm74-8zm4 10zm170-21zm53 8zm33 34zm-9-12zm-17-8zm-45 9zm-25-9zm-73 11zm-13 7zm-24-15zm-25-3zm-38 0zm-3 9zm-9 11zm-16-14zm-6 7zm-2-7zm-23 4zm-40 0zm-5-2zm-16 10zm-45-19zm-17 24zm-11-4zm-28-1zm-191-17zm-47 17zm-71-3zm-7-5zm-35 8zm-13-1zm-21 2zm-114-9zm-2 3zm-46-10zm-18 3zm-31 7zm-64-7zm-35 13zm-19-4zm-56-13zm-6 20zm-11-22zm-18 5zm-19 5zm-79-1zm-8 13zm-33-12zm-85 13zm-24-2zm-5 0zm-59 1zm11 2zm7 22zm50-16zm20 3zm27 0zm19-8zm2 3zm1-1zm48 7zm21-2zm43 8zm38 3zm134-17zm22 19zm75-16zm29 16zm17-13zm38-6zm36 15zm44-17zm10 8zm21-8zm65 3zm12-2zm15 13zm85 6zm11-21zm1 7zm5 3zm19-4zm0 5zm69 8zm30-12zm24-2zm25 0zm40-5zm10 15zm35-12zm4 20zm31-22zm22 8zm23-5zm58 19zm26-5zm56-8zm56-5zm24 9zm16-9zm76 2zm39 0zm27 3zm-5 15zm-10 22zm-131-6zm-93-6zm-11-2zm-31 11zm-112 2zm-36-12zm-14-5zm-20 17zm-120-8zm-23 8zm-64-3zm-128-13zm-52 5zm-23-9zm-83 16zm-19-10zm-25-3zm-27 17zm-4-15zm-15 11zm-4-11zm-40 7zm-31-11zm-59 14zm-56-15zm-12-1zm-5 13zm-4-7zm-13 9zm-62 6zm-9-10zm-57-1zm-4-10zm-10 8zm-7 3zm-81-2zm-27-5zm-10-1zm-31 18zm-6 2zm0-5zm16 11zm13 9zm70 7zm19-7zm29-3zm6 3zm5 5zm2-15zm29 7zm36-3zm22 4zm2-13zm26 10zm14-5zm27 6zm35 10zm54-13zm8 3zm13 11zm38-5zm16-5zm29 10zm8-17zm48 4zm20-3zm93-4zm23 7zm2 12zm8-10zm8-2zm48-2zm5 4zm2-2zm33-7zm18 6zm294 11zm5 0zm35-2zm39 1zm8-7zm45 3zm6 10zm4-11zm18-11zm43 9zm3 11zm95 1zm18 0zm55-18zm1 18zm44-17zm32 4zm2-5zm-31 26zm-109 14zm-11 0zm-111 0zm-69-2zm-55-16zm-11 3zm-34-4zm-44 3zm-27 2zm-116-1zm-91 6zm-29-10zm-49 7zm-73-6zm-142 15zm-29 0zm-63-17zm-9 10zm-20 12zm-40-18zm-16-4zm-1 1zm-18 12zm-32 4zm-13-18zm-1 11zm-30 1zm-27 10zm-14-13zm-32-6zm-13 4zm-8 16zm0-5zm-6-14zm-29 5zm-19-3zm-6 18zm-159-7zm-8 10zm2 3zm8 0zm6-1zm35 12zm1 1zm16-5zm104-7zm67 10zm0-5zm110-1zm20 4zm21-9zm11 16zm11-18zm6 12zm153 2zm46 7zm0-18zm49 4zm29 11zm4-11zm9 8zm86-10zm1 1zm0-9zm31 23zm49-9zm71-7zm143 12zm33-12zm49 10zm31-4zm25 1zm41 6zm13-12zm22 4zm39 11zm130-17zm20 17zm30-11zm43-6zm6 5zm31 36zm-38-16zm-48 5zm-20-3zm-32-6zm-113 19zm-27-14zm-92 4zm-19-8zm-42 1zm-18 4zm-35 9zm-40-9zm-71 3zm-45 4zm-68-6zm-6-2zm-16 15zm-113-1zm-19-2zm-50-14zm-19 9zm-43-9zm-26-2zm-41 7zm-22-8zm-37 14zm-54-11zm-11 4zm-29 10zm-40-3zm-2 3zm-5-11zm-25 8zm-28-9zm-24-4zm-5 18zm-11-4zm-26-4zm-8-13zm-63 0zm-85 2zm-9 16zm-13-19zm-16 24zm-11-20zm-49 16zm-19-8zm12 17zm31 7zm11 11zm35-9zm23 1zm16 6zm113-9zm2-5zm4 1zm13 2zm8-2zm1-1zm74-1zm0 4zm8-3zm0 2zm31 5zm22-6zm21-3zm15 5zm20 8zm24-5zm9-9zm67-3zm8 14zm54 8zm48-12zm3-7zm24 15zm1-6zm12-3zm24 11zm53-10zm22-6zm36 13zm7-9zm202-9zm71 23zm13-10zm3-12zm27 3zm22 13zm26-17zm22 6zm3 12zm7-5zm41 5zm15 3zm36-5zm8 3zm26-4zm5 2zm107 0zm121 14zm-33 17zm-44-7zm-173-13zm-23 19zm-23-15zm-5 4zm-10-12zm-6 17zm-21 7zm-19-9zm-18 5zm-10 3zm-14-22zm-56 4zm-49-2zm-102 18zm-33-20zm-59 5zm-150 0zm-33 11zm-4-6zm-3-3zm-16 1zm-43 8zm-8-11zm-9 8zm-2-14zm-2 4zm-11 1zm-32-4zm-52 8zm-47 10zm-9-12zm-27 14zm-17 3zm-58-14zm-53 0zm-44 3zm-2 7zm-14-9zm-47 10zm0-3zm-6-11zm-39 12zm-6 5zm-13-4zm-15-1zm-10-16zm-27 3zm-6 11zm-7 1zm-13 2zm-15-4zm-23-3zm-36 17zm33 13zm4 2zm45 2zm3-1zm29-8zm3-5zm59-2zm22 9zm5-3zm20-3zm29-4zm16 3zm3-4zm7 14zm24-7zm18 8zm38-9zm4-10zm39 21zm1 0zm146 2zm11-17zm45 5zm1-10zm8 12zm7-4zm5 6zm8-4zm6 4zm53-11zm75 0zm7-2zm60 15zm246-3zm3-13zm10 20zm27-19zm14 8zm58 6zm15 3zm52-5zm18 8zm69-9zm68-14zm62 5zm0-2zm51 16zm24 0zm66 13zm-31 14zm-9-4zm-31-3zm-20 4zm-50 3zm-96-2zm-10 2zm-10-1zm-56-7zm-6-12zm-60 20zm-9-19zm-5 17zm0-13zm-102 0zm-135 4zm-39 10zm-130 2zm-24-4zm-24 4zm-4-4zm-110-6zm-1-8zm-3 13zm-1-10zm-6 15zm-36-11zm-64-11zm-1 5zm-25 1zm-25 2zm-11 11zm-97-18zm-45 3zm-33-2zm-16-1zm-33-1zm-12 17zm-38-4zm-12-3zm-9 2zm-25 4zm-15 0zm-18-16zm-2 20zm-17 1zm-9-9zm-49-9zm0 8zm-17 6zm-7-17zm-11 4zm-35 17zm112 8zm5 14zm2-17zm17 13zm7-14zm11 16zm52-3zm72-10zm52 5zm7-2zm1-8zm21 3zm18 16zm5-6zm57-2zm103-2zm19-2zm23 1zm48-5zm58 13zm15-13zm14 15zm61 2zm44-13zm35-3zm28 10zm80 7zm53-1zm75-9zm61-6zm14-2zm80 6zm99 14zm2-23zm11 19zm26-16zm5 20zm139-17zm51-2zm7 4zm2-3zm9 14zm31 21zm-159-5zm-22 6zm0-12zm-31 10zm-10 4zm0-4zm-44 6zm-84-5zm-79-5zm-122 10zm-5-17zm-14-1zm-53 1zm0 12zm-16-10zm-4 3zm-1 13zm-19-8zm-5-3zm-8 5zm-14 7zm-2-7zm-9-9zm-6 0zm-33 7zm-12 3zm-2-3zm-17-13zm-3 11zm-8-1zm-3-4zm-10 13zm-53-17zm-93 7zm-20-2zm-2-2zm-101 10zm-193-8zm-28-7zm-128 8zm-211-5zm-6 38zm351-9zm55-6zm21 14zm45-15zm32 4zm5-6zm49 22zm52-10zm175-11zm14 18zm32 0zm14 4zm4-17zm0 13zm4-18zm4 22zm18-9zm16 8zm6-13zm21-2zm0-2zm12-1zm0 2zm27 0zm2 17zm6-20zm7 10zm1-9zm25 2zm13 17zm4-15zm15-1zm29 4zm3 4zm2-5zm100 8zm5-8zm64 5zm88-8zm88 9zm2-8zm28 8zm1 4zm29-17zm52 1zm19 17zm6-12zm23 14zm1 0zm40 18zm-22-15zm-9 16zm-10 4zm-108-16zm-9 14zm-4-10zm-19 11zm-15 0zm-5-6zm-23-14zm-40 8zm-72 5zm-195-8zm-13 8zm-8 2zm-5-10zm-15 14zm-4-16zm-36 0zm-29 3zm-16 6zm-1-3zm-9-7zm-15 9zm-2-5zm-6 8zm-6 0zm-14 3zm-6-15zm-9 4zm-19 12zm-9-13zm-1 15zm-1-10zm-7 4zm-3 8zm-13-1zm-39-21zm-49 8zm-133-5zm-8 7zm-131-4zm-17 16zm-58-23zm-183 13zm-111-3zm-101-9zm148 39zm239-9zm8 2zm9-2zm213-4zm42 16zm55-7zm107-11zm22 3zm1 10zm5-14zm2 8zm1 11zm7 2zm6-19zm8 1zm14 0zm22-2zm3 15zm8-11zm2-2zm5 1zm5 3zm45 17zm18-18zm21 3zm5 7zm1-12zm4 11zm9 2zm3 1zm7-5zm2 11zm188-13zm182 11zm1-10zm29 3zm9-11zm5 1zm120 9zm58-10zm12 29zm-8 0zm-26-8zm-29 14zm-23 1zm-44-7zm-57 0zm-37 5zm-15-4zm-4-9zm-166 8zm-187 6zm-1-1zm-7-7zm-19 8zm-13 6zm0 0zm-16-14zm-7 11zm-4-3zm-2 1zm-2-12zm-12 5zm-16 12zm-5-15zm-2-5zm-5 17zm-7-12zm-26 17zm0-1zm-17-4zm-20 1zm-2-18zm-2 6zm-33 0zm-16-6zm-82 13zm-38-10zm-7 3zm-37 12zm-86-7zm-32 1zm-44-4zm-41 9zm-42 0zm-35 1zm-374 23zm114 4zm130-12zm41-6zm27 1zm234 16zm19-19zm246-2zm31 15zm3-15zm1 7zm11 16zm20-18zm1 13zm0-15zm2 15zm14-17zm32 15zm7-6zm7-3zm17-5zm4 2zm10 20zm19-17zm2-4zm6 13zm5-8zm1-2zm4 18zm17-2zm41-11zm1 11zm5 1zm2-22zm98 1zm151 1zm38 2zm264 12zm-43 21zm-43 2zm-5-6zm-9-7zm-63 7zm-5 11zm-6-3zm-17-6zm-6 3zm-6-10zm-8 3zm-3 5zm-101-6zm-9-5zm-225 20zm-3-15zm-8 8zm-45-14zm-8 18zm-18-4zm-8 8zm-6-16zm-7-6zm-8 6zm-9 1zm-21-7zm-3 16zm-14-10zm-3 5zm-4-7zm-2-1zm-5 10zm-37-9zm-3 11zm-6 0zm-3 1zm-10 0zm-105-7zm-48-3zm-59 5zm-72 8zm-33-5zm-58 7zm-43-17zm-18 16zm-291-15zm287 20zm88 10zm18 3zm54 1zm1 4zm16-12zm19 4zm2 9zm21-12zm18-7zm58 4zm2 6zm35 7zm6-3zm34 0zm31-12zm7 0zm16 17zm8-6zm8-15zm1 20zm4-2zm27-14zm9 17zm23-4zm2-6zm13 12zm22-14zm2 7zm1 7zm33-2zm1-11zm6 10zm6-20zm6 3zm5 0zm33 11zm3-6zm1 14zm2-12zm359 8zm23-6zm24-8zm114 2zm2 15zm12-10zm33-5zm19 5zm9 1zm0 32zm-28-12zm-27 1zm-41 11zm-6-11zm-36 4zm-38-7zm-13 9zm-14 6zm0-20zm-107 6zm-24-3zm-19 15zm-216 3zm-5-7zm-13-11zm-17 12zm-13 3zm-26-16zm-8 21zm-28-10zm-5-8zm-4 14zm-4 1zm-4 1zm-16-13zm-32-8zm-5 19zm-1-15zm-13 9zm0-6zm-9 15zm-17-13zm-9-7zm-20 1zm-42 2zm-2 14zm-13-10zm-71 8zm-79-3zm-76-13zm-30 2zm-48-2zm-41 5zm-421-3zm-13 16zm111 19zm23 4zm102 0zm3 3zm198-4zm55-9zm57-8zm82 23zm40-11zm42 7zm55-8zm101-11zm21 23zm36-9zm15-10zm15-2zm0 2zm8 19zm9-23zm6 2zm12 4zm3 7zm14 0zm1-2zm16 1zm10-1zm199 5zm41 4zm10-5zm0 3zm3-8zm129 2zm45-2zm9-11zm8 22zm82-15zm27 0zm-33 32zm-85 4zm-26-13zm-44 17zm-86-1zm-16-10zm-55-9zm0 10zm-87-7zm-110 9zm-62 5zm-50-16zm-125 6zm-16-1zm-18 5zm-2 7zm-10-1zm-2-5zm-59 4zm-71 5zm-24-16zm-39-4zm-89 3zm-26 3zm-78-2zm-30 9zm-60-12zm-1 17zm-29-20zm-141 14zm-99 29zm100 0zm8-12zm12-6zm2 12zm71 0zm130-6zm3 13zm38-3zm23-15zm42 3zm6 14zm29-4zm97-1zm0 3zm26 1zm77 0zm8 2zm27-8zm25 7zm5-14zm9 6zm11 7zm23-10zm3 4zm119 1zm11 4zm9 4zm76-6zm44 1zm20-5zm45 8zm0-2zm35-16zm34 20zm48-8zm112-10zm57 16zm4-3zm91-11zm47-4zm45 11zm43-1zm15-10zm-104 31zm-13 13zm-21-21zm-35 4zm-39 15zm-69-16zm-9 8zm-101-12zm-42 13zm-8-5zm-53 14zm-109-8zm-39 4zm-38-17zm-130 9zm-20 9zm-60-19zm-19 0zm-75 12zm-32 7zm-44-18zm-12 3zm-16 11zm-30-6zm-9-1zm-11-5zm-2 0zm-10 7zm-8-5zm-6 4zm-49 10zm-19-10zm-15 4zm-23 8zm-1-10zm-56 6zm-25 5zm-26-13zm-49 11zm-102-11zm-49-8zm-9 15zm-38-16zm6 37zm28-5zm44 3zm7-2zm55 3zm2 2zm97 2zm53-6zm24-9zm59 17zm1 5zm36-7zm18 2zm31-5zm42-8zm28 9zm8-1zm4 3zm10 6zm28-14zm50 13zm7-3zm5 4zm27-6zm120-8zm4 11zm55-10zm56-2zm6 3zm127-6zm32 10zm59-7zm91-1zm36 11zm33-9zm65 4zm31-12zm14 17zm2 5zm156-18zm10 18zm22 23zm-126-22zm-52 13zm-36-6zm-9 1zm-14-4zm-24 9zm-44-5zm-22-7zm-21 16zm-70 0zm-78-9zm-97 4zm-47-7zm-11 18zm-30-14zm-99 13zm-29-19zm-108 0zm-12 14zm-32-12zm-44 17zm-18-3zm-29 5zm-6-24zm-5 7zm-3 4zm-38-8zm-23 5zm0 8zm-18-5zm-56-10zm-63 20zm-78-11zm-42-7zm-2 18zm-89-12zm-14-2zm-8 15zm-73 12zm6-4zm10-5zm42 20zm43-18zm25 7zm2-5zm31 18zm8-18zm39 4zm40 6zm32 4zm3 4zm30-19zm28-2zm51 0zm6-2zm38 13zm42 8zm36-6zm18-2zm9 3zm22-9zm8 7zm52 4zm13-1zm42 5zm49 0zm22-14zm3 2zm26 2zm43-8zm16 11zm13-11zm113 8zm90-5zm9 3zm19-1zm52 12zm26-14zm14 3zm10-3zm53 11zm53-2zm15 5zm132-16zm5 17zm53 0zm74 16zm-47-14zm-14 21zm-175-14zm-22 4zm-21-6zm-25 16zm-10-9zm-36 11zm-40-6zm-3-11zm-20 2zm-163-6zm-15 1zm-128 15zm-228-18zm-39 15zm-72 1zm-22-9zm-7-4zm-17 20zm-57-19zm-19 19zm-24-10zm-25 8zm-40-10zm-24 12zm-15-15zm-82-7zm-47 23zm-51-8zm-49 7zm-6 1zm-10-5zm27 6zm16 20zm49 1zm0-22zm3 5zm46-3zm0 14zm54 8zm21-16zm7 10zm48 0zm86-7zm12 5zm62 4zm24-11zm12 10zm15-1zm7-4zm29-7zm18 5zm31 5zm8-11zm28 3zm9 15zm4-13zm48-1zm23 12zm7 0zm6-18zm2 12zm29-5zm99-6zm47 5zm6-4zm90-4zm8 9zm10-10zm0 6zm103 17zm58-3zm101-2zm26-2zm34-6zm41-2zm0 12zm9-10zm25-5zm101 15zm40 2zm53-11zm-36 14zm-43 21zm-26-21zm-4-1zm-14 3zm-109 10zm-26-12zm-20 8zm-70-5zm-80 3zm-17 5zm-38 8zm-49-1zm-95-2zm-14 6zm-116-4zm-42-2zm-12 2zm-16-14zm-35 4zm-14 10zm-40-5zm-3-2zm-1 2zm-10-8zm-31 15zm-8-14zm-10 9zm-31-12zm-28 14zm-1-13zm-54 1zm-36 2zm-34-5zm-42 13zm-7-12zm-25 3zm-23 12zm-133-20zm-7 3zm-7 12zm-11 2zm-38-4zm-14-10zm-15 4zm-18 9zm-31-1zm-14 9zm-12 19zm80-19zm24 5zm2 11zm10-6zm44 12zm73-5zm28 1zm21-13zm15 7zm13-3zm14-5zm10 4zm0-1zm47 6zm23 7zm22-6zm7-12zm21 12zm27 0zm49 2zm18 0zm12 4zm15-9zm32 2zm29-8zm64 19zm19-16zm14 2zm7-7zm203 11zm46 3zm31-4zm17-9zm15 8zm54-3zm43 7zm86-4zm10-9zm1 20zm18-11zm17-2zm34-5zm26 19zm15 0zm68-18zm1 11zm2 2zm92-5zm55-12zm-25 46zm-45-9zm-100-11zm-23 17zm-105-1zm-44-16zm-20 1zm-88-4zm-82 17zm0-7zm-11 6zm-94-11zm-24-2zm-82 0zm-115-1zm-31 13zm-6-7zm-1-2zm-34 11zm-34-16zm-47 0zm-44 1zm-27 3zm-11 17zm-94-8zm-37 8zm-75-17zm-7 3zm-5-3zm-32 18zm-10-8zm-115-8zm-11-7zm-21 9zm-1 6zm-1 5zm-18-19zm-35 7zm-19 13zm-10-6zm-10-9zm-23 7zm16 21zm133 7zm23-17zm6 17zm8-5zm8-1zm135 7zm0-7zm90 6zm39-15zm13 5zm55 12zm2-12zm15 13zm10-7zm4-10zm3 3zm2-3zm4 5zm11 1zm55 13zm12-6zm20-5zm14 0zm9 5zm97-14zm3 16zm10-3zm93 2zm22-15zm24 5zm125 6zm35 5zm19-7zm11-9zm46-1zm20 7zm85 12zm4-14zm79-3zm5 9zm115-6zm27 6zm18 11zm49-6zm31-13zm4 19zm-107 12zm-5-9zm-17 8zm-30-8zm-58 7zm-55 7zm0-2zm-30-14zm-34 10zm-45 3zm-118 3zm-11-13zm-85 13zm-156-5zm-50 9zm-6-4zm-98 6zm-15-13zm-31 7zm-2 4zm-34-17zm-32 8zm-22-4zm-12 10zm-62-15zm-41 3zm-19-5zm-34 5zm-95 12zm-19 0zm-1-11zm-23-3zm-4 13zm-42-8zm-46-8zm-76 21zm-28-15zm0 1zm-48-1zm-15 14zm-1 22zm13-4zm14 4zm95-9zm23 8zm42-10zm14 8zm1 6zm20-10zm1-5zm48 14zm29-20zm80 15zm11-10zm31 14zm45-4zm36 0zm3 0zm30-7zm8 13zm135-4zm30-13zm29 4zm11 3zm37-4zm8-2zm8 0zm47 8zm101-13zm6-1zm105 12zm52 5zm40 1zm17-3zm9-6zm35-6zm14 6zm7 4zm20-6zm36 13zm75-13zm156 3zm3-6zm75 20zm-54 14zm-12-1zm-1-6zm-91-6zm-25 16zm-124-3zm-41-14zm-165 12zm-13 1zm-39 10zm-90 0zm-175-15zm-4 1zm-52 11zm-25-13zm-57-4zm-15 0zm-70 16zm-38-14zm-16 19zm-146-13zm-9-11zm-134 21zm-5-8zm-147 3zm-5-3zm-33 6zm-25-6zm0-8zm55 21zm14 12zm14 7zm40 1zm9-22zm18 12zm3-2zm46 4zm18-14zm3 16zm94-12zm24 12zm15 1zm18-10zm4 15zm12-13zm5 9zm4 4zm5-6zm39-6zm42 8zm24 2zm37 1zm15-12zm23-2zm3 5zm20-9zm13 17zm25-15zm71 1zm30-5zm6 19zm66-3zm0 0zm240-11zm20-2zm27 11zm40-12zm32 4zm5 2zm49-1zm3 12zm38-15zm1 2zm3 0zm87 3zm14 5zm62-14zm45 5zm26 15zm8-13zm1-4zm21 5zm57 10zm10-15zm-41 26zm-11-5zm-16 22zm-64-1zm-35-7zm-3 8zm-54 1zm-8-20zm-70 17zm-43-8zm-13-11zm-106 7zm-8 9zm-1 6zm-55-5zm-9-11zm-214-2zm-35 11zm-3 6zm-16-1zm-25-1zm-26-3zm-56-6zm-9 8zm-28-7zm-37 1zm-36-10zm-70 17zm-17-17zm-36 0zm-8 4zm-59 2zm-27 9zm-92-16zm-32 13zm-81 3zm-39-10zm-4 12zm-2 0zm-34-19zm-26 3zm-7 16zm-10-3zm-3-7zm-22-2zm4 26zm1-4zm11 10zm70-16zm72 21zm31-12zm73 11zm9-10zm7-7zm1 3zm23 8zm17 8zm2-7zm28-8zm59 16zm38-9zm2-9zm67 13zm22-2zm3-14zm60 0zm25 17zm10-17zm61 17zm25-16zm14 18zm36-7zm231 3zm80-1zm5 5zm42-19zm10 19zm2-19zm22 13zm23 6zm36-19zm60-2zm21 19zm65-15zm68 2zm13 15zm6-10zm13-5zm59 13zm25-9zm-30 14zm-54-1zm-73 6zm-23 13zm-5-17zm-76 17zm-19-17zm-89 0zm-37-1zm-15 10zm-18 8zm-1-4zm-4 3zm0-4zm-11 7zm-2 1zm-28-10zm-259 2zm-8-12zm-10 7zm-95 9zm-3-3zm-18-10zm-7-3zm-19 7zm-63 5zm-56 5zm-6-10zm-67 9zm-6-11zm-9 2zm-26 9zm0-2zm-14-4zm-66 5zm-11 4zm-21-15zm-14 4zm-9 7zm0-11zm-7-1zm-70 9zm-25-8zm-16 15zm-30-6zm-6-2zm-24 4zm-21-15zm-10 19zm-23-18zm-5 18zm-35-17zm1 25zm65 17zm18-4zm51-13zm7 17zm11-10zm13-1zm16-3zm10 12zm38-15zm27 15zm26-1zm25-4zm7 2zm21 3zm79 3zm49-17zm16 17zm14-16zm30 11zm22 1zm64-12zm9 11zm24-10zm2-6zm12 4zm18 11zm9 0zm3 6zm22-22zm58 4zm1 16zm26-4zm198-8zm87-6zm32 11zm28 3zm8 1zm48-1zm35-4zm9 9zm14-9zm31-7zm126 8zm29 2zm22 6zm17-8zm8-5zm11-7zm43 7zm48-7zm-107 28zm-1 8zm0 9zm-18-10zm-26 4zm-86-6zm-23 6zm-26-2zm-5 3zm-45-9zm-2 4zm-117-5zm-43 10zm-8 3zm-17-13zm-56 14zm-97-16zm-163 2zm-23 11zm-12-10zm-80 10zm-25-19zm-22 21zm-65-4zm-24-15zm-9 8zm0 4zm-69-14zm-140 22zm-28-20zm-10 19zm-11-6zm-22-15zm-137 19zm-28-17zm-3-1zm-57 5zm30 19zm20-1zm19 1zm10 17zm21 5zm55-19zm23 1zm3 7zm23 9zm3-9zm7-3zm6 3zm38 9zm69-15zm25-3zm48 3zm22 15zm14-9zm34 5zm3 2zm2-9zm27 2zm76 0zm11-5zm41-3zm11 12zm62 4zm23-5zm6-7zm26 13zm225-19zm104 18zm55-6zm40-4zm32 11zm6 1zm33-15zm68-3zm3 19zm2-6zm1-8zm52-1zm108 7zm6-6zm53 2zm27 4zm11 19zm-95 0zm-111 5zm-18-15zm-42 23zm-6-19zm-66 8zm-18 3zm-7-1zm-40 8zm-6-11zm-1 6zm-75-6zm-2-5zm-18 11zm-321 3zm-48-14zm-12-1zm-1 9zm-40 2zm-44 2zm-32-12zm-6 0zm-5 12zm-17-14zm-22 14zm-23 5zm-1-1zm-15-12zm-46-10zm-25 4zm-43 0zm-12 17zm-15 0zm-19-12zm-6 1zm-70 8zm-31 5zm-24-6zm-2 1zm-3-7zm-10 13zm-61-16zm-15-3zm-10-4zm-25 1zm-30 12zm-50 14zm42 12zm15 6zm2-8zm73 7zm13-14zm4 13zm0-7zm47 6zm58-12zm15 12zm11-5zm23-6zm25-6zm18 4zm12 18zm5-8zm76 0zm56 6zm20-15zm20 8zm4-14zm113 8zm90 10zm7-12zm63 4zm234 5zm41 5zm65-9zm11-12zm9 20zm28-8zm54-8zm9 2zm4-4zm16 2zm25 10zm37-9zm30 8zm6-9zm2 8zm97 0zm30 9zm86-20zm-4 37zm-58-12zm-5 18zm-30 3zm-22-15zm-123-1zm-13 4zm-10-2zm-2 7zm-28-4zm-74 10zm-13-1zm-6-8zm-62-12zm-76 2zm-273 4zm-80-5zm-20 8zm-115-8zm-10 8zm-43 0zm-44-6zm-37 6zm-78-8zm-23 12zm-25 5zm-9-13zm-13-3zm-21 12zm-26-8zm-100 7zm-55-10zm-59 10zm-1 7zm-3-20zm-22 24zm3 17zm55 4zm3-15zm16 3zm42-7zm1-2zm30 11zm37-7zm44 11zm9 2zm13 2zm42-12zm3-1zm33 11zm94-1zm4-7zm26-6zm14 3zm6 4zm6 1zm28 1zm5 4zm4 4zm24-16zm17 15zm4-14zm5 7zm19 1zm36-6zm13 10zm15-2zm9-6zm12 11zm24-15zm72 6zm28-8zm16 14zm269-8zm6-1zm7-6zm10 14zm28-7zm0 9zm23-19zm20 7zm24 1zm15 9zm18-14zm20 14zm20-14zm54 0zm18 17zm81-18zm38 9zm1-1zm0 11zm42-19zm5-1zm15 22zm9-15zm5 0zm7-3zm17 12zm1 16zm-36-4zm-5-4zm-15 1zm-5 5zm-28-5zm-8 14zm-171 6zm-13-17zm-9 3zm-4-5zm-14 20zm-8-9zm-54-2zm-24-12zm-29 9zm0-6zm-11 3zm-3 7zm-32 5zm-32-2zm-275-11zm-10 10zm-59 2zm-8-13zm-1 15zm-40 0zm-32-1zm-44-3zm-127-10zm-17-1zm-12 5zm-17-1zm-23 5zm-51-9zm-55 6zm0 5zm-13 1zm-14 5zm-1-3zm-45-1zm-38 5zm-11-9zm-14-1zm-17-6zm-13 17zm-7-19zm-9 15zm-21-18zm-87 14zm-1 8zm29 13zm19 11zm64-7zm14 0zm11-5zm9 11zm50 0zm74-20zm55 14zm11 6zm19-19zm26 2zm20-2zm20-1zm3 21zm13-15zm10 7zm31-1zm114-9zm0 7zm41-8zm38 1zm16-2zm28 4zm0 0zm353 6zm48-4zm33-5zm12 17zm7-7zm7 0zm2-10zm23-3zm26 13zm0 3zm2-2zm4 2zm19-14zm21 9zm25 3zm3-12zm43 5zm6 3zm128 0zm23 8zm2 9zm-17 7zm-5 9zm-6-17zm-214 12zm-19-10zm-78 3zm-31-1zm-24 3zm-2 3zm-47-1zm-42 12zm-201-9zm-94 6zm-12-8zm-50 8zm-59-17zm-12 0zm-7 15zm-59-13zm-72-4zm-4 1zm-30 6zm-4-2zm-126-5zm-14 8zm-64-3zm-9 8zm-13-13zm-31 8zm-12 5zm-36-3zm-7 5zm-25 0zm-14-16zm-26 17zm-26 6zm-4-19zm-14 41zm5-21zm84 11zm33-10zm6 3zm95 19zm3-19zm16 17zm46-18zm18-2zm21 8zm30 11zm110-13zm45 2zm44 13zm1-5zm22-2zm35-5zm12-7zm32-4zm19 16zm3-1zm53 2zm7 6zm322 1zm0-22zm29 8zm11 0zm29 9zm3-3zm38-11zm12 11zm5-14zm27 6zm39 5zm7-11zm3 11zm20-5zm27 5zm153 7zm21-14zm25 12zm26 5zm83 12zm-4-7zm-22-3zm-116 5zm-169 12zm-11-1zm-3 2zm-22-12zm-29-7zm-37 12zm-1 9zm-42 1zm-34-10zm-37 0zm-25 1zm-184 4zm-78 7zm-1-16zm-153 13zm-126-15zm-12 0zm-36 1zm-2 3zm-69 6zm-65-4zm-3-6zm-5 12zm-7 2zm-21 2zm-49-18zm-18 8zm-31 12zm-33-9zm-7-1zm-15 5zm-31-19zm-1 7zm-19 0zm-9 16zm-11-4zm-27-3zm-11-16zm-18 13zm-3-4zm-24 16zm4 15zm14-8zm37-5zm6 8zm38 12zm7-4zm69-2zm75-5zm6-9zm24 6zm42 7zm12 4zm19-14zm6 3zm49-5zm51 7zm20 2zm93-8zm23 18zm34 0zm57-11zm35 7zm3-10zm1 3zm0-8zm5 13zm87 2zm63-12zm245 5zm18 0zm14 2zm4-8zm3 5zm34-6zm36 12zm32-11zm38 13zm5 0zm3 5zm77-22zm124 14zm76-11zm8 13zm27-12zm-35 35zm-8-5zm-76-5zm-13 8zm-8-12zm-255 8zm-5-7zm-20 14zm-15-15zm-23 20zm-69 1zm-23-23zm-116 3zm-196 9zm-40 8zm-7 0zm-194-6zm-26-12zm-1 11zm-2 10zm-31-6zm-43-13zm-30 16zm-49 0zm-9-15zm-17 14zm-24-12zm-61 4zm-43 6zm-14 6zm0-17zm-9 5zm-16 4zm-36 3zm-29-2zm-20-11zm-28 8zm-3-4zm-23 9zm-3-7zm-7 7zm49 13zm5-3zm13 8zm8-11zm31 7zm12-1zm4 12zm6 0zm29-6zm18 5zm91-1zm59 4zm63-19zm3 10zm5 6zm41-9zm32-9zm5 20zm48-18zm37 6zm82-6zm5 10zm39 3zm76-15zm27 16zm172 1zm125-10zm44-4zm1 12zm3 6zm18-10zm1-9zm27 2zm4-4zm22 1zm59 6zm17 9zm107 4zm94-20zm4 21zm14-20zm79 12zm41-5zm-404 15zm-158 4zm-56 4zm-20 11zm-11-14zm-32 5zm-12 0zm-8 2zm-16-10zm-13 13zm-52-11zm-636-4z"/>
<path d="M1996 607zm-19-1zm-47-1zm-28 19zm-19-2zm-10-12zm-210 11zm-136 0zm-24-11zm-85 8zm-100 1zm-24-3zm-144-2zm-21 3zm-5-13zm-137 8zm-33-6zm-46 17zm-162 1zm-15-20zm-2 6zm-102 25zm24-6zm92 6zm46-5zm104 16zm282-7zm68 5zm63-7zm43 7zm7-14zm18 11zm34-3zm38 6zm13-1zm62-3zm0-2zm153-4zm236 4zm117-7zm49 1zm24 1zm22-5zm7 28zm-82 7zm-29 8zm-4-3zm0-13zm-9 6zm-26-1zm-193-8zm-34 5zm-47 1zm-37-7zm-117 3zm0 18zm-1-16zm-26-2zm-3-5zm-15 12zm-23 6zm-11-2zm-30-9zm-150 6zm-36-7zm-100 2zm-198 11zm-8-13zm-127-1zm-24-3zm-33 7zm-72 29zm37-10zm5 11zm8 6zm8-13zm46 1zm33 8zm25-2zm24 3zm116-2zm10-4zm45 0zm139 0zm2 8zm84-4zm84-8zm30 6zm33-9zm25-1zm13 4zm19-1zm7 3zm20-1zm46 6zm3-2zm115-10zm78 1zm6-2zm113 14zm20 5zm49-19zm0 5zm1-7zm23 13zm61 0zm4-6zm1-7zm23 3zm55 10zm24-6zm3-8zm23 14zm34 0zm41 15zm-59 8zm-68 7zm-10-1zm-2-7zm-6 7zm-68-3zm-48 7zm-96-13zm-23 13zm-98-1zm-21 1zm-32-14zm-183 8zm-5 6zm-166-3zm-4-14zm-19 2zm-19 3zm-60 11zm-22 1zm-68-21zm-35 5zm-5-5zm0 8zm-14-4zm-44-5zm-23 8zm-12 7zm-15-3zm-22-1zm-16-3zm-59 7zm-100-11zm-53 0zm-111 26zm20 12zm17-10zm10 6zm31-1zm0-3zm1-5zm63 2zm42 1zm4-6zm77 7zm22-3zm10 0zm19 16zm46-17zm11-2zm95 13zm18-13zm6 0zm37 4zm25 9zm38-16zm16 18zm22-12zm20 9zm102 8zm3-3zm20-9zm51 7zm15-15zm202 12zm29-15zm110 0zm49 15zm77 3zm14-18zm58 13zm25-4zm24 11zm28-9zm48-7zm108 14zm-24 19zm-244-9zm-11 2zm-92 10zm-68-7zm-99 0zm-22-9zm-25 12zm-35 9zm-138-3zm-24 5zm-37-5zm-41 5zm-33-22zm-22 16zm-62-7zm-227 6zm-34 4zm-70-11zm-5-9zm-57 6zm-32-1zm-173 10zm-1-12zm-4 14zm-20-10zm-29 6zm21 18zm34-3zm213-5zm76 4zm21-3zm7 10zm9 0zm24-7zm6-3zm1 1zm19 7zm107-1zm33 5zm37-7zm51 12zm5-7zm29-10zm84 23zm26-16zm24 5zm0 6zm16-1zm2-3zm30 7zm11-1zm33-6zm23-13zm32-2zm17 18zm39-11zm6 17zm130-12zm182-6zm52 10zm8 7zm92-19zm54 7zm-25 26zm-16 3zm-59-4zm-31-11zm-1 2zm-12 11zm-13-14zm-32 21zm-19-5zm-25-16zm-55 8zm-2 12zm-204-2zm-29-18zm0 18zm-1-17zm-3 13zm-9-8zm-13 15zm-8-12zm-21 10zm-3-1zm0-7zm-46 13zm-24-8zm-11-4zm-6 10zm-18-17zm0 2zm-1 7zm-7 1zm-11-4zm-1-2zm-7-9zm-52 13zm-81 1zm-16-2zm-4-10zm-119 9zm-53-8zm-84 0zm-1-1zm-63 20zm-47-13zm-113 10zm63 22zm42-7zm19-2zm26 11zm11 1zm20 2zm21-15zm70 4zm122 3zm36 3zm71-15zm31 18zm35 2zm72-11zm12-9zm16 11zm9-7zm2 12zm20 0zm0-7zm7-9zm2 15zm15-14zm10 15zm2-11zm3 5zm1 0zm4-2zm1 9zm12-6zm13 9zm11-18zm13 18zm3-14zm10 3zm5 2zm3 2zm15-15zm2 23zm3-19zm18 4zm13-7zm60 4zm29 17zm23-10zm9 1zm83 8zm2-20zm14 11zm105-10zm9 9zm16-7zm2 9zm4 9zm106-15zm15 12zm50-14zm5 6zm19 3zm-4 12zm-29 0zm-18 3zm-13 16zm-1-10zm-114 0zm-6-3zm-6 1zm-23 1zm-20-1zm-56 3zm-89-6zm-106 8zm-32 9zm-44-21zm-6 3zm-29-2zm-12 3zm-82-6zm-4 0zm-55 0zm-28 7zm-2 10zm-25 0zm-40-8zm-69 14zm-12 0zm-81-11zm-11 11zm-26-19zm-71-1zm-51 9zm-3-3zm-46-7zm-14 2zm-5 19zm-58-11zm-28 11zm-139-4zm-39 3zm-26-8zm-99 24zm43 3zm22-7zm27-2zm53 6zm9-4zm4 6zm1-6zm38 11zm10-6zm18-12zm3 17zm4-5zm56 2zm131-14zm3 17zm5 2zm8-2zm92-12zm91-6zm10 16zm9-9zm0 0zm52 15zm31-18zm9 11zm43-17zm53 9zm27-4zm54 17zm42 1zm3-4zm26-8zm57 0zm78 8zm27-11zm25-3zm8 16zm50-14zm79 1zm19-5zm4 18zm13-18zm54 0zm87 1zm48-1zm41 15zm36 11zm-164 5zm0-6zm-47 3zm-65 16zm-41-19zm-34 8zm-35-3zm-21 8zm-89 6zm-10-8zm-163-11zm-14 17zm-82-17zm-21 13zm-50-3zm-87-10zm-12 2zm-41 1zm-50-6zm-20 7zm-115 7zm-52 8zm-4-1zm-59-19zm-29-2zm-17 9zm-12-1zm-8 10zm-20-9zm-87 7zm-137 4zm-6 11zm3-1zm22 1zm5 3zm4 3zm21-11zm10 2zm45 5zm52-4zm22 0zm13 13zm61-13zm4 15zm41-18zm40 8zm8 7zm88-10zm24-4zm58 5zm51 12zm19-16zm27 2zm75 6zm12 8zm43 2zm58-17zm123 15zm43-10zm2 8zm123 4zm42-14zm25 6zm11 3zm69-2zm90-7zm61 1zm20 8zm58-1zm1-15zm16 3zm99 2zm-63 27zm-24-9zm-86 13zm-58-12zm-19 20zm-23-19zm-48 1zm-75 12zm-35-6zm-30 9zm-37-5zm-91-4zm-49 0zm-22 10zm-93-6zm-37-12zm-6 2zm-49 2zm-23 3zm-32 14zm-36-12zm-25 12zm-49-17zm-95 13zm-12-6zm-46 0zm-49 0zm-46 10zm-61 1zm-9-21zm-13 4zm-21-4zm-23 6zm-5 11zm-55-1zm-36 3zm-14-3zm-21-3zm-42 1zm-14 4zm-33 11zm7 6zm45 1zm11-2zm8-4zm9-6zm2 14zm38-16zm40 18zm46 3zm33-19zm6 19zm32-16zm44 6zm7 11zm25-10zm0 1zm104-14zm3 1zm9 1zm81-1zm13 19zm26 0zm22-8zm0 1zm26 8zm51 0zm6-17zm66 12zm13 8zm19-10zm4-5zm10-1zm13-7zm86 0zm64 7zm4 11zm42-11zm30 10zm46-8zm3-7zm17 15zm44-6zm22 2zm103 4zm1 1zm40 5zm30-5zm28-15zm7 12zm79-5zm9 6zm15-4zm22-1zm112 27zm-47-11zm-43 9zm-65 9zm-79-9zm-35-1zm-76 4zm-27 6zm-27-12zm-30 12zm-3-8zm-55-2zm-40-2zm-12-7zm-47 2zm-141 14zm-98-13zm-7 4zm-13-9zm-9 4zm-21 4zm-20-3zm-39 6zm-25 6zm-1-6zm-46-5zm-52-4zm-43 1zm-9 17zm-73-1zm-22-14zm-38-4zm-13-1zm-7 1zm-6 12zm-120-6zm-27 0zm-17-1zm-10 5zm-52 5zm-29-2zm-14-10zm-23 7zm-35-3zm-16-5zm-15-1zm47 29zm72 12zm28-20zm9 7zm84 6zm9-12zm40 0zm11 7zm12-3zm22-1zm51 9zm29 10zm117-8zm21-6zm23-7zm112 12zm7-6zm13 1zm57 4zm6 6zm19-1zm12-8zm10 1zm14 5zm106 5zm13-5zm43-8zm71 2zm49-2zm2 11zm13-6zm33-2zm30 7zm31-13zm59 16zm12 3zm11-23zm10 9zm22 5zm25-12zm115 12zm144-4zm3-9zm6-1zm-74 44zm-28-2zm-41-8zm-92-8zm-60 8zm-6-6zm-75 7zm-57 3zm-76 9zm-167-15zm-15-4zm-8 10zm-95 7zm-26-19zm-25 15zm-16 5zm-63-16zm-44 1zm-51 14zm-59-16zm-1 13zm-14-9zm-9 9zm-7-11zm-13 1zm-9-2zm-52 13zm-12-12zm-25 10zm-18 0zm-1-10zm-14 2zm-3 7zm-37-10zm-29 5zm-12-5zm-31-2zm-3 10zm-1 8zm-11-20zm-50 5zm-10-3zm-17 15zm-5 3zm-10-11zm-15-11zm-8 4zm-7 16zm-22-3zm-10 4zm-13-22zm-13 6zm-7 14zm-41-16zm25 32zm39-11zm1 13zm34 7zm25-11zm28-3zm16-3zm5-4zm13 14zm1 6zm26-16zm7 20zm21-6zm86-2zm9 6zm26-17zm8 1zm6 6zm10 10zm140-2zm18-18zm46 0zm39 13zm18-6zm78-1zm45-1zm53 7zm80-6zm69 2zm123-1zm5 14zm28-10zm3 6zm10-9zm117-2zm102 5zm9-2zm84-6zm17 3zm49 10zm45-2zm54 21zm-17 0zm-59 5zm-36-17zm-1 12zm-9 0zm-2-13zm-136 4zm-28 3zm-22 16zm-41-11zm-64 3zm-27-2zm-94 7zm-3-9zm-3 11zm-5-20zm0 16zm-117 4zm-235-16zm-8 15zm-26-2zm-10-7zm-40 0zm-34 4zm-8-9zm-19 3zm-12 6zm-14-13zm-40-3zm-1 1zm-40 20zm-22-12zm-6 2zm-14 7zm-50-5zm-10-9zm-60 9zm-4-5zm-28 15zm-2-10zm-44-6zm-23 7zm-6 1zm-14-14zm-56 20zm-81-10zm-6-4zm-38 11zm-11 17zm3 11zm0-11zm20 9zm58-9zm19-9zm8 2zm15-4zm11 22zm90-9zm23 11zm19-1zm13-18zm33 6zm4 0zm2-7zm33 8zm9-7zm5 14zm23-17zm101-2zm6 6zm27 18zm9-20zm48 2zm54 1zm11 8zm32 6zm113-5zm11-4zm12-11zm21 22zm9-2zm99-6zm58-3zm70-1zm30-6zm25 5zm46 5zm21-9zm37 6zm20-9zm7 16zm30-15zm41 14zm19-9zm15 10zm130 2zm52-11zm41 0zm44 4zm-36 26zm-4-14zm-17 4zm-46 0zm-31-6zm-141 0zm-79 14zm-56 2zm-41 2zm-49-7zm-23 4zm-254 5zm-49 1zm-32-11zm-2-9zm-25 3zm-3 20zm-14-9zm-47 4zm-22 5zm-88-10zm-52-9zm-27 10zm-4-1zm-20 10zm-5-16zm-39-5zm-44 5zm-58-7zm-17 21zm-87-17zm-7-3zm-51 3zm-3 6zm-1 13zm-14-6zm-20-16zm-11 10zm-28 8zm-47 3zm11 21zm7-1zm9 1zm112-20zm9 3zm11-3zm15 6zm43 1zm3 0zm33 3zm10 7zm44-15zm12 0zm24 15zm53-16zm38 12zm65-6zm27 11zm74-12zm14 10zm66-7zm8 2zm32 4zm124 6zm28 1zm161-18zm4 16zm19-18zm76 3zm7 4zm3 8zm29-17zm47 14zm21 1zm16-9zm16-1zm54 8zm63 1zm5-1zm84 10zm29-20zm11 18zm79-4zm-66 9zm-2 3zm-105 8zm-5-3zm-17 11zm-16-15zm-2 13zm-13-6zm-2 1zm-8 3zm-16-1zm-116-5zm-21 9zm-189-13zm-9 1zm-31 2zm-5-4zm-2 11zm0-5zm-3-3zm-11 0zm-11 10zm-4 3zm-9-8zm-5-5zm-31 14zm0-10zm-2 0zm-3 11zm-6-20zm-10 19zm-6-11zm-2 2zm-17-4zm-4-7zm-22-3zm-8 1zm-11 19zm-8-15zm0 10zm-24-1zm-32-9zm-46 7zm-84-6zm-4 0zm-17 4zm-31-2zm-24 7zm-1 3zm-47-14zm-11 20zm-5-3zm-31-15zm-11 13zm-21-1zm-10-2zm0-8zm-455 6zm510 14zm10 19zm125-17zm38 3zm27 11zm45-7zm97 0zm12 3zm5-4zm6-6zm9 15zm2-19zm7 16zm6-11zm14 8zm7-10zm7 0zm2 9zm17 6zm31-3zm4 5zm13-2zm31-6zm18-1zm2-1zm1-10zm6 21zm3-4zm44-18zm205-1zm47 19zm12 4zm21-5zm17-16zm47 1zm10 0zm3 6zm120 4zm14 14zm-10 4zm-62 6zm-47 0zm0 10zm-20-13zm-5-7zm-7 8zm-6 8zm-9-14zm-112-2zm-20 12zm-95-1zm-89 3zm-33-10zm-2-3zm0 10zm-1-7zm-4 1zm-14 3zm-13-3zm-1 7zm-4-2zm-16-7zm-5-5zm-1 1zm-1 18zm-3-2zm-1 3zm-10-16zm-15 7zm-9-10zm-4 11zm-8-4zm-4 4zm-4-4zm-6 7zm-6-5zm-1 7zm-1-14zm-4 5zm-1-3zm-7 3zm-33-8zm-12 10zm-5-9zm-14 0zm-2 16zm-40-2zm-118 3zm-18-7zm-25-5zm-48-2zm-32 2zm-66 7zm-138 6zm-24 0zm-90-12zm-163 28zm241 7zm36-11zm55 8zm33 3zm47 4zm1-16zm43-5zm27-1zm54 17zm18-4zm85-5zm39-2zm5 7zm63 8zm6-21zm8 2zm34-1zm2 1zm3-3zm7 6zm4 2zm8 10zm15-12zm20-1zm2 15zm24-18zm1 7zm14-4zm11 18zm6 1zm4-18zm3 14zm2-3zm11-13zm1 6zm8-8zm9 7zm12-8zm1 15zm2-11zm2 14zm11-7zm164 6zm13-14zm98 16zm6-3zm23-11zm17 16zm8-6zm2 2zm0-18zm18 20zm14-13zm14 5zm10-11zm1 6zm8-7zm0 15zm103 3zm2-2zm23 0zm17 21zm-29 4zm-21-8zm-13 12zm-18-2zm-26-9zm-44 10zm-11-1zm-16-17zm-2 16zm-2-10zm-68 5zm-299 4zm-4-10zm-4 7zm-17 10zm-17-17zm-4 5zm-4 6zm-11-12zm-8 17zm-2-11zm-37-7zm-2 9zm0-2zm-2-4zm-8 11zm-9 1zm-12-10zm-5 5zm-2-9zm-20 5zm-12-2zm-9 8zm-1-4zm0 1zm-72 4zm-4-11zm-20 1zm-76-4zm-4 17zm-53-13zm-53-4zm-3 15zm-18-14zm-430 12zm-149-9zm-2 24zm72-4zm36 4zm280 10zm49 3zm39-7zm90 1zm47-1zm18-5zm28 6zm11 6zm44-4zm33-11zm13 5zm72-6zm25 9zm4-8zm9 17zm12-1zm6-9zm6 11zm14-8zm2-4zm18-2zm2-8zm3 5zm2 8zm4-3zm4-9zm9 10zm10-12zm2 7zm9 1zm2 1zm4 2zm23-9zm2 6zm4 3zm6 10zm14-19zm26 15zm2-9zm236 7zm20-14zm9 3zm5-4zm8 4zm38 5zm18 12zm10-15zm35 12zm20 2zm2-18zm11-2zm9 7zm94 11zm8-4zm1-2zm11 23zm-3-6zm0 14zm-48-16zm-70 7zm-9 9zm-32-14zm-7 10zm-9-8zm0 4zm-1-6zm-33 14zm-14-17zm-86 11zm-44 4zm-15-11zm-10-4zm-136 19zm-19-1zm-24 2zm-10-10zm-1 7zm-3-13zm-7-4zm-14 2zm-16 12zm-7-15zm-13 13zm-6-10zm-5 8zm0 1zm-8 6zm0-15zm-3 12zm-2-1zm-12 3zm-10-15zm-10 0zm-3 3zm-3 15zm-1-12zm-28 6zm-13-14zm-3 13zm-103 7zm-48 1zm-93-17zm-75-3zm-6 7zm-413 1zm-60-11zm-40 3zm-19 9zm18 21zm302 9zm20 4zm91-16zm98 16zm155-1zm144-10zm44-3zm1-8zm2 11zm7 5zm24-7zm0 7zm22-7zm8-1zm7 4zm9-1zm11 6zm1-1zm2 1zm3-12zm5-1zm10 14zm2 0zm8-3zm14 3zm9 0zm11-7zm44 10zm5-16zm2 5zm5 6zm2-7zm141 4zm4 10zm46 1zm30-18zm23 10zm38-14zm4 15zm47 4zm21-20zm12 10zm29-3zm77-6zm11 9zm14 13zm6-11zm8-8zm51 1zm12 14zm-23 21zm-25-9zm-18 16zm-7-4zm0-10zm-13 6zm-8-9zm-87 15zm-12-17zm-3-2zm-10 19zm-7 0zm-22-1zm-9-16zm-9 13zm-82-2zm-186-4zm-58 6zm-1-11zm-3 16zm-4-22zm-11 23zm-2-20zm-3 4zm-2-5zm-5 13zm-25-3zm-3 4zm-5-3zm-1-13zm-6 19zm-3-13zm-11-2zm-11 17zm-1-16zm-20 13zm0-8zm-7 10zm-18 1zm-1-12zm-2-8zm-11 18zm-3-13zm-1 9zm-4-5zm-4 5zm-5 7zm-1-15zm-51-4zm-4 20zm-22-9zm-37 0zm-38-12zm-16 18zm-21-6zm-56-2zm-65-5zm-8 6zm-39 4zm-149-10zm-54 6zm-225 31zm83 2zm65-2zm80 0zm7-13zm18-2zm27 10zm5 5zm20-18zm47 8zm27-9zm1 5zm65 6zm48 9zm70-3zm20-16zm11 9zm119-9zm26 3zm9 14zm17-16zm17-3zm7 22zm8-19zm4-3zm5 6zm9 6zm8-12zm9 5zm4 3zm17-1zm1-3zm31 14zm12-10zm9-9zm18 2zm3 7zm2-4zm13 19zm2-9zm21-5zm39-2zm26 12zm154-17zm29 15zm12-1zm10-3zm3-4zm40-2zm54-4zm4 12zm17-13zm48 16zm74-11zm11 17zm-1 13zm-89-12zm-19 11zm0-6zm-3 2zm-20 14zm-3-14zm-50 11zm-61-5zm-34 1zm-25-14zm-28 21zm-58-18zm-19-2zm-282 19zm-86-17zm-18-1zm-64 19zm-3-11zm-19-1zm-5-4zm-18 17zm-8-11zm-27 6zm-7-12zm-40-4zm-5 5zm-96 6zm-12 6zm-1-7zm-6-6zm-16 1zm-212 7zm-24 4zm-30-11zm-12 5zm-7-5zm-15 11zm-9-16zm-41 13zm-20-1zm-49-3zm-26-7zm-6 31zm42-1zm12 12zm12-8zm62-4zm59 12zm60-1zm53-17zm31 0zm62 11zm132-8zm6 9zm9-1zm76-12zm5 19zm38-21zm5 2zm15 12zm141 0zm1 7zm32-2zm6-1zm6-4zm44 5zm150 1zm39-10zm39 7zm18-4zm13-6zm8 14zm22-20zm12 10zm92 1zm152 6zm74-10zm50-3zm40 0zm-63 35zm-20-8zm0-5zm-25 5zm-27-10zm0 10zm-94 13zm-1-11zm-48 12zm-33-6zm-17-2zm-23 3zm-88-15zm-12-2zm-21 15zm-73-9zm-42-3zm-23 5zm-26-6zm-28 2zm0 1zm-13 11zm-143-16zm-7 5zm-102 16zm-2 0zm-50-19zm-3-2zm-1 19zm-29-5zm-27-2zm-15-13zm-3 19zm-17-7zm-62-5zm-1 6zm-36 1zm-40 5zm-14-4zm-24 5zm-23-13zm-11 9zm-92-10zm-19 16zm-165-4zm-63 20zm6-2zm30-11zm35 9zm7-5zm70 11zm19-6zm7-7zm4 15zm49-9zm57-3zm40-1zm2 1zm4-2zm3 16zm417-8zm32 0zm48-6zm12 1zm118 6zm13 5zm98-7zm10-11zm79 19zm79-18zm31 14zm4-10zm39 11zm44-9zm26 2zm20 4zm70-14zm39 4zm14 12zm41 22zm-8 9zm-3-4zm-53-16zm-12 21zm-55-1zm-56-11zm-23 10zm-16-15zm-61 7zm-78-13zm-56 22zm-44-19zm-42 19zm-54-9zm-6 6zm-186-9zm-68 10zm-4-2zm-31-11zm-9 11zm-7-16zm-23 1zm-95 7zm-7 4zm-4-10zm-7 1zm-8 9zm-6-14zm-32 16zm-7-4zm-6 2zm-14-2zm-5 4zm-6-14zm-35 9zm-162-1zm-8 10zm-17-20zm-6 22zm-1-21zm-43 6zm-14 9zm-50-7zm-33 14zm-34-1zm-22-19zm-46 2zm-4-5zm55 46zm10-17zm16-2zm43-1zm14 3zm40 7zm64-7zm10-6zm16 7zm30 4zm3 4zm18 8zm14-10zm17 3zm1-6zm33 5zm11 1zm44-7zm26-7zm109 18zm60-16zm42-2zm29 10zm66-2zm6 14zm143-20zm58 0zm35 2zm59-1zm22 12zm4-1zm32-5zm9-2zm35 3zm10-10zm41 14zm25-2zm1 2zm0-7zm21-5zm34 11zm15-10zm30 12zm18-10zm5 5zm86-1zm15 4zm34 0zm85-11zm-42 37zm-76 2zm-10-11zm-1 9zm-2 4zm-47 1zm-7-7zm-245 7zm-35-14zm-29-4zm-27 13zm-49 3zm-80-6zm-6-11zm-9 4zm-16 14zm0-1zm-70 2zm-1-11zm-8 12zm-18-3zm-39-8zm-115 1zm-26-5zm-7 2zm-174-4zm-6 8zm-24-3zm-1 6zm-9-6zm-21-3zm-2-3zm-12 5zm-33-5zm-71-4zm-35 11zm-6 6zm-14-4zm-8 0zm-4-13zm-22 21zm-94-6zm-3-4zm-18 0zm-25 12zm-15-6zm-32-12zm-2 24zm30-5zm9 21zm119-19zm28 3zm26 5zm36 9zm0 0zm70-19zm21 0zm41 11zm60-5zm18 4zm7 0zm42 9zm142-14zm61-3zm47 19zm54-19zm56-3zm38 24zm14-21zm169-3zm5 22zm128-12zm31-10zm21 8zm41 6zm6-5zm41-8zm1 3zm7 4zm5 3zm115 7zm99-1zm26-2zm-68 12zm-118 3zm-32 15zm-70-9zm-58-3zm-20-5zm-11 13zm-50-16zm-60 17zm-51-12zm-136 5zm-9-7zm-8 15zm-33-4zm-3-1zm-22 7zm-7-15zm-15 10zm-44-12zm-39 1zm-45 10zm-49 2zm-33-13zm-13 18zm-107-2zm-33-7zm-41-5zm-83 5zm-22-9zm0 8zm-6 3zm-25-10zm-4 12zm-15-15zm-3 14zm-28 3zm-49 5zm-14-20zm-1 10zm-13-1zm-100-2zm-5 4zm-30-2zm-14-2zm-1 0zm28 26zm39 9zm11-18zm2 11zm100 1zm34 2zm3-8zm2 9zm2-1zm19 1zm19-4zm60-3zm9 2zm23-9zm26 10zm99-4zm10-5zm10 9zm114-2zm19-9zm44 14zm1-3zm5 9zm46-3zm9 0zm14-6zm40-14zm68 22zm6-15zm2-1zm17 8zm120 1zm1 5zm81 2zm36-4zm3-17zm28 5zm75 11zm4-13zm36 16zm23-16zm41 3zm8 15zm111-7zm52 0zm7 29zm-36-14zm-86 14zm-1-20zm-129 3zm-82-1zm-1 21zm-58-16zm-165-3zm-177 9zm-72 9zm-139-10zm-40 4zm-2-7zm-105-6zm-9 16zm-5-9zm-113-6zm-153 4zm-2 6zm-9 9zm-56-17zm-7 16zm-4-22zm-21 11zm-28-7zm-31 15zm-5-3zm38 28zm141-17zm69 10zm142 5zm43-15zm23 1zm4 2zm54 2zm8-1zm52-6zm42 15zm108 0zm8-12zm42 7zm3 10zm92-14zm214 4zm82 7zm30-7zm57 4zm2 3zm1 1zm83-1zm9 0zm11 2zm6-1zm42-18zm36 0zm36 1zm81 1zm35 0zm35 16zm-183 12zm-12 7zm-4-7zm-78 9zm-23 5zm-46-1zm-6-7zm-21-9zm-9 13zm-26 0zm-81-1zm-7-9zm-2 2zm-31 3zm-277-12zm-3 8zm-23 4zm-12 6zm-43-1zm-7-1zm-72 5zm-54-14zm-12 6zm-14 4zm-22-12zm-15 1zm-30 7zm-16-11zm-14-2zm-19 6zm-24 2zm-19 6zm0-13zm-4 10zm-10-7zm-12 1zm-8 11zm-3-14zm-20 5zm-60 11zm-34-15zm-8 12zm-26-12zm-11 7zm-33 8zm-34-7zm-33-4zm-26-8zm-7 21zm-67-5zm-9-14zm-7 37zm74-2zm136-1zm4 1zm9 10zm20-7zm3 3zm59-2zm22-7zm51-5zm1 13zm31-5zm28-7zm1 12zm23-4zm9-9zm24 9zm0-13zm5 19zm13 0zm54-17zm29 18zm19-8zm87 5zm84-5zm6-1zm292-1zm93-8zm4 10zm8 6zm16-8zm30 11zm13-18zm11 8zm50-1zm113 0zm42 9zm18-19zm29 21zm0 0zm20-14zm52 10zm19-9zm-9 19zm-24 16zm-14-13zm-96 5zm-37 3zm-10 8zm-74-3zm-12-5zm-37-10zm-24 17zm-4-6zm-14-4zm-34 12zm-4-24zm-46 8zm-47-5zm-148 7zm-32-7zm-12-3zm-13 19zm-99-3zm-10 0zm-116 4zm0-13zm-23 15zm-35-7zm-45-2zm-153-2zm-46 2zm-11-2zm-7 8zm-103-2zm-25-1zm-46-1zm-26-13zm-86 11zm-13 9zm-38-19zm-30 33zm40-10zm37-1zm41 8zm10 1zm46 9zm34-2zm21-1zm61-6zm16 7zm65-1zm47 1zm1-1zm47-1zm39-14zm2 20zm27-13zm83 11zm47 0zm3-12zm15 15zm50-3zm1-11zm16-7zm64 16zm5-4zm99-2zm49 0zm102 9zm19-10zm6-7zm6 9zm83-7zm9-1zm67 0zm53-2zm186 0zm24 17zm13-17zm41 21zm42-1zm-105 2zm-51 23zm-19-19zm-54 6zm-1 0zm-80 14zm-44-1zm-12-17zm-2 13zm-70-9zm-14 11zm-5-15zm-58 9zm-222-8zm-89-3zm-18 8zm-18-11zm-20 23zm-17-24zm-2 9zm-3 8zm-68 3zm-6-9zm-55 2zm-53 6zm-43 5zm-31-12zm-10 12zm-8-22zm-24 0zm-139 5zm-19-5zm-35 14zm-45 2zm-7-8zm-21-5zm-17 10zm-21-4zm-90-7zm-14 3zm-10 31zm52 1zm90 1zm22-16zm28 16zm35-5zm71 7zm25 1zm30-5zm27 7zm44-15zm23 10zm2-8zm41 6zm55 7zm40-3zm16-9zm22 8zm56 6zm5-19zm13 2zm78 17zm14-7zm88-10zm185 8zm17-5zm53 9zm29 4zm17-2zm31-19zm14 15zm17-2zm17 7zm5-3zm17-1zm24 6zm77-3zm15-7zm105-8zm41 11zm43-2zm49-8zm-13 42zm-147-19zm-179 7zm-33-8zm-83 19zm-10-23zm-8 20zm-8-13zm-15 7zm-34 3zm-57-8zm-80-9zm-222 3zm-33 19zm-13-11zm-8 5zm-82-11zm-21 17zm-35-10zm-52-11zm-23 6zm-49-1zm-25 10zm-3 4zm-4-12zm-27-2zm-58 10zm-74-4zm-36 8zm-16-16zm-31-1zm-5 14zm-20-3zm-7 5zm-53-5zm-1 6zm-29 1zm-8-5zm-38 5zm36 9zm47 11zm16-6zm72 1zm20 5zm2-11zm28 5zm19-11zm18 16zm17-13zm96 17zm18-20zm35 15zm12-7zm25 3zm9-11zm23 13zm3 7zm33-6zm106 5zm55-6zm61 6zm51-15zm248 0zm26 7zm9 9zm5-19zm35 11zm0 6zm0-9zm38-4zm38 17zm83-19zm95 10zm52-1zm33-8zm13 15zm90 3zm18-13zm2 3zm17 25zm-17-6zm-44 1zm-181 6zm-30-2zm-47-10zm-52 15zm-40 1zm-7-12zm-47-3zm-313 9zm-50 10zm-3-11zm-9 7zm-53 4zm-5-3zm-23-2zm-65-6zm-12-10zm-26-1zm-36 15zm-83 1zm-49 2zm-34-15zm-24 19zm-6-16zm-67-6zm-104 8zm-13-5zm-11 6zm-8-6zm-3 13zm-9 1zm-9-12zm-13 13zm-16 2zm-23-5zm-8 8zm-49-12zm-10 13zm49 22zm3-7zm24 3zm21-7zm22-4zm7 16zm18 0zm33-13zm36 11zm21-7zm20 4zm37 1zm2-11zm2 15zm24-19zm3 17zm51-2zm4 2zm6-13zm14-6zm6 10zm11 7zm40 2zm41-12zm5-5zm6 13zm9 4zm40-3zm57 0zm43-15zm15 2zm0 5zm5-3zm41 6zm26-2zm18 11zm47-19zm8 15zm230-16zm26 16zm22-12zm7-3zm46 20zm8-7zm16 5zm54-11zm8-2zm12-1zm42 3zm2-5zm9 5zm16 2zm29-3zm38 1zm27 8zm64-5zm74 0zm74-1zm-95 23zm-4 5zm-9-15zm-12 1zm-15 19zm-17-6zm-128 5zm-40-19zm-42 19zm-63-13zm-33 14zm-18-12zm-4-5zm-20 18zm-17-9zm-9-6zm-5 11zm-25-15zm-240 2zm-19 12zm-20 0zm-187 2zm-27-3zm-19-5zm-31-6zm-41-3zm-6 10zm-28-11zm-11 5zm-20 17zm-58-10zm-1-7zm-18 1zm-43 16zm-3 0zm-30-19zm-63 5zm-20-3zm-64 14zm-9-13zm-10-6zm-53 16zm5 15zm4 6zm4 6zm21-3zm1-3zm10-1zm34 5zm34 5zm25 0zm1-3zm23-3zm26-6zm1 3zm37-5zm0 12zm19 2zm2-11zm4 4zm76 0zm35-5zm7 2zm4 5zm34-9zm17 0zm19-2zm68 11zm38 1zm12-3zm28-7zm85-7zm5 11zm53-9zm5 16zm24-8zm20 1zm144 11zm109-1zm22 1zm33-21zm36 3zm44 3zm9 10zm4-10zm31 1zm20-3zm101 3zm79 1zm7 11zm36-10zm20-4zm7-5zm84 12zm1 21zm-60 8zm-25 3zm-51-21zm-9-1zm-140 17zm-3 3zm-40-16zm-79-5zm-16 1zm-2 10zm-43 7zm-34-13zm-2-2zm-34 16zm-85-16zm-97 5zm-81-2zm-41 3zm-26 11zm-55-6zm-4 2zm-21-7zm-19-9zm-2 5zm-27 4zm-13 0zm-80-4zm-45 15zm-14-17zm-1 4zm-16 4zm-16-1zm-15 11zm-14-21zm-1 3zm-23 9zm-17 3zm-32-12zm-18-1zm-40-1zm-12 19zm-21-8zm-31 2zm-4-8zm-38-5zm-6 18zm-6-1zm-35-13zm-7 15zm-39-13zm-68 8zm25 14zm18 17zm17-17zm1 12zm30-12zm35 3zm71-1zm1 14zm22 1zm9-15zm1-1zm24 13zm14-1zm12 1zm94 3zm19-19zm46 20zm26-22zm51 2zm10 6zm68 13zm98 0zm47-11zm107 8zm124-14zm105-3zm10 9zm28 0zm37 2zm6-8zm1 12zm21-17zm52 13zm28 6zm22-15zm56 5zm7-5zm24 19zm87-15zm33 11zm6-2zm10 4zm9 2zm12-12zm8-1zm59 11zm-68 19zm-1-7zm-4-6zm-29 6zm-4 9zm-144-15zm-138 14zm-31 5zm-45-15zm-24 2zm-22 7zm-250-11zm-25-5zm-131 20zm-20-14zm-4 18zm-24-9zm-36 3zm-59-16zm-27 0zm-48 3zm-13 15zm-6-3zm-48-13zm-51 0zm-16 11zm-2-6zm-56-3zm-10 4zm-112 9zm-2-14zm-16 15zm-27-18zm-3 21zm-2-1zm-1-3zm-65-13zm-10 17zm-5 8zm3 10zm30 1zm59-13zm22-3zm17-2zm60 6zm3 7zm17 4zm9-7zm63 2zm16 6zm17-3zm33 7zm28-16zm17 8zm64-6zm45-2zm83-5zm82 9zm31 4zm18-10zm78 4zm280 8zm19 4zm40-12zm37 4zm3 8zm55-8zm30-7zm33 10zm39 8zm232-21zm-3 45zm-85-4zm-146-18zm-20 22zm-11-3zm-27-9zm-3-11zm-89 3zm-25 0zm-3 19zm-40-6zm-54-1zm-267-5zm-2-4zm0 4zm-75 7zm-10-2zm-34 7zm-5-1zm-45 1zm-10-4zm-25-17zm-1 14zm-10 5zm-19 1zm-55-15zm-27 18zm-109-21zm-17-1zm-30 9zm-6 9zm-54-5zm-12-3zm0 4zm-30 7zm-12-17zm-28 5zm-3 12zm-24-14zm-24 10zm-13-16zm-4 10zm-1 3zm-48 2zm-8-4zm-12 9zm-16-11zm-13 0zm-10 0zm-4 33zm16-7zm42-1zm11-1zm31 0zm55-9zm8 7zm5-7zm96 19zm102-14zm5-2zm13 10zm105-1zm24-12zm31 0zm8 12zm25-8zm51-4zm1-2zm43 11zm83-1zm317 8zm8-13zm7 5zm59 5zm3-5zm10 5zm5-6zm28-7zm28 1zm39-3zm46 15zm8-10zm9-6zm102 19zm35-6zm47-1zm36-2zm59 25zm-5-3zm-76 13zm-1-13zm-154-2zm-9 1zm-22 2zm-12 2zm-59-2zm-7-8zm-8 5zm-18 6zm-33 11zm-25-6zm-74 3zm-12-2zm-4-2zm-6-2zm-273-5zm-4-7zm-42 22zm-43-20zm-9 9zm-28 9zm-3-9zm-5 4zm-32 4zm-3-2zm-46-12zm-42-6zm-13 11zm-10-3zm-28 11zm-17-11zm-15 5zm-23 1zm-63-1zm-68 2zm-5-12zm-16 6zm-10-1zm-35 8zm-1 4zm-33-15zm-5 2zm-95 3zm-13 3zm-2-13zm-54 20zm-16-18zm-3 13zm-16-4zm161 34zm28-6zm25-11zm1 12zm10-6zm0 2zm56 7zm2-16zm12 1zm23-5zm1 19zm67-3zm4 1zm28-2zm48-10zm25-1zm67-4zm23 23zm26-2zm15-5zm51 4zm3-11zm113-6zm2 5zm7 1zm57-4zm104 13zm156 6zm67-3zm24-1zm4-4zm37 7zm7-16zm37 7zm5 4zm36-12zm6-5zm8 9zm5-6zm26 12zm73-14zm36 10zm52-9zm48 11zm26-9zm1 17zm-11 21zm-30-14zm-68 3zm-161 3zm-5 7zm-7 5zm-36-19zm-39 16zm-5-17zm-184 1zm-26 6zm-57 1zm-17-7zm-197 1zm-9 3zm-50 3zm-12 1zm-111-2zm-5 6zm-35 6zm0-15zm-11 7zm-11 3zm-24-17zm-81 17zm-19-9zm-43-7zm-2 0zm0 14zm-10 7zm-30-6zm-60 5zm-8-5zm-38 0zm-1-6zm-16-4zm-154 3zm-29 2zm-25-2zm7 18zm19 5zm8-7zm39 11zm39-1zm54 0zm17 2zm50 1zm15-5zm4 3zm5-5zm61 2zm12-5zm123-1zm7 18zm31 1zm109-18zm22 1zm98 3zm3 3zm160 12zm190-7zm23 6zm38-15zm3-6zm32 2zm40 10zm11-2zm62-8zm2-2zm22 18zm1-5zm42-11zm4 9zm5 12zm106-14zm2 2zm6 0zm16-6zm100-2zm-163 28zm-370 5zm-8-7zm-43 17zm-51-11zm-6 1zm-8-2zm0 8zm-28-17zm-6 6zm-24 10zm-28-7zm-1-2zm-5 11z"/>
<path d="M2123 608zm-8-3zm-5 19zm-51-10zm-209-3zm-72-6zm-26 0zm-47 5zm-98 8zm-50 2zm-54-9zm-92 13zm-19-11zm-17-9zm-24 8zm-130 12zm-50-21zm-47 4zm-66 4zm-67 9zm-36-12zm-32 11zm-24-12zm-20 6zm-121 9zm-24-20zm-43 22zm-42-3zm-10 11zm55 12zm53-4zm57-11zm194 12zm71-10zm112 13zm54-13zm12 14zm30-10zm11 2zm7 6zm152-17zm20-2zm49 24zm16-10zm67-7zm28 6zm52 7zm12-3zm119 0zm38 3zm22-16zm104 7zm21 12zm117-22zm43 34zm-24-4zm-15 0zm-21 7zm-35-11zm-2-3zm-12 9zm-31-5zm-47 13zm-12-6zm-23 11zm-86-15zm-4 4zm-40 0zm-51-8zm-65 15zm-19 4zm-82-19zm-70 10zm-3 2zm-82 3zm-2-6zm-89 10zm-35-17zm-147 0zm-8 17zm-26-20zm-46 6zm-94 3zm-39 7zm-20-15zm-3 12zm-16 8zm-30-14zm-96 10zm-54-10zm-48-5zm-27 1zm224 20zm47 9zm137 2zm64-1zm58-6zm48 5zm7 7zm25-3zm27 10zm108-14zm72-2zm54 0zm5 7zm6-11zm25 15zm1-17zm17 21zm25-5zm38 5zm38-18zm109 5zm93 2zm105 9zm59-18zm28 5zm118-4zm-24 36zm-24-12zm-183-1zm-162 21zm-4-4zm-7-13zm-3 10zm-61-17zm-102 16zm-49-14zm-30 1zm-41 1zm-100 19zm-6-2zm-21-9zm-13-10zm-89 3zm-151 12zm-57-1zm-3-10zm-13 8zm-90-11zm-49 11zm-12 0zm-21 2zm-25 5zm-20-7zm-68-11zm-7 11zm-129 32zm13-21zm3 12zm31-11zm14 7zm4 5zm1-14zm56 9zm14 1zm20 10zm24-12zm18 9zm51-14zm4 20zm6-15zm11 12zm36 2zm20 0zm8-6zm7-3zm2 9zm20-5zm27-16zm39 16zm17-16zm109 15zm34-13zm2-1zm8 13zm155-11zm83 15zm41-17zm18 21zm195-15zm38-2zm61 11zm2-10zm50 3zm92 11zm34-4zm239-13zm19 11zm6 24zm-26-10zm-28 11zm-61 3zm-20-8zm-8-9zm-25 5zm-20 5zm-15-7zm-69 4zm-64 11zm-408-3zm-91-5zm-47 2zm-5 5zm-15 0zm0-5zm-54 2zm-41 4zm-4-19zm-12 10zm-50 9zm-104-18zm-64 17zm-14-9zm-71 3zm-6-1zm-3-1zm-7-4zm-23 0zm-31-6zm-5 5zm-62-3zm-14 17zm-15-1zm-48-8zm-47 3zm-11-7zm-40 8zm62 14zm20 3zm108 1zm18-8zm8 5zm10 5zm12-1zm62-1zm29-5zm12 10zm2-5zm127 9zm32-7zm84-3zm183-5zm64 8zm9 12zm9 0zm13 1zm19-11zm10 8zm26-19zm30-1zm5 16zm19 0zm18-9zm8 6zm4-2zm7 8zm3-4zm10-3zm5 11zm27-1zm35-22zm88 23zm3-16zm91-3zm45 3zm118 8zm3-12zm17 19zm50-13zm52 8zm71 4zm-89 13zm-29 1zm-57 5zm-13 4zm-7-12zm-5 12zm0-17zm-32 2zm-26 15zm-89-10zm-82-2zm-161 7zm-2 0zm-14-11zm-8 8zm-23-6zm-24 9zm-1-4zm-16-8zm-1 17zm-15-1zm-4-6zm-13 9zm-5-6zm-2-7zm-8-2zm-12 10zm-9-8zm-5 6zm-12-1zm-5-2zm-2 6zm-6-4zm-1 2zm-13-9zm-5-2zm-13 4zm-9 11zm-1 1zm-112-7zm-18 8zm-57 0zm-26-12zm-42 9zm-31-16zm-81 16zm-165-5zm-135-12zm-148 14zm-1 16zm238 4zm113 2zm15 2zm63 6zm17-14zm28-5zm35 13zm6 4zm137-20zm38 9zm40 9zm90-13zm0 14zm17-10zm7 11zm9 2zm47-9zm1 2zm11 3zm11-12zm3 2zm0 11zm25-3zm9 0zm3-12zm4 4zm1 10zm25-6zm2-6zm8-6zm5 8zm38-2zm6-6zm3 15zm1-2zm1-2zm1 6zm2-12zm2 3zm4-3zm191 3zm8 13zm15-21zm42 13zm5 8zm67-2zm22-3zm11-3zm4-13zm10 20zm191-15zm1 14zm3-15zm-18 42zm-84-6zm-50 3zm-21-5zm-20 3zm-3-10zm-20-1zm-36-6zm-19 15zm-41-8zm-47 4zm-19 3zm-27-11zm-10 0zm-59 19zm-144-23zm-8 2zm-12 6zm-48-5zm-13 8zm-41-4zm-6-3zm-29 0zm-74 12zm-82-3zm-23-7zm-83 4zm-45 13zm-60-14zm-79 5zm-11 1zm-42 5zm-127-4zm-63 6zm-163 15zm16-7zm30 2zm20 12zm58-5zm92 1zm6 0zm24-6zm18 7zm15-5zm71-3zm9 11zm55-16zm47 2zm33 16zm28 0zm44-3zm8-15zm15 15zm57 5zm39-7zm25 4zm2-10zm6-1zm13 12zm45-15zm42 11zm150-11zm72 7zm56-9zm19 12zm40-7zm42-1zm18 0zm22 10zm7 0zm7 4zm43-9zm5-14zm45 3zm15 14zm35 5zm68-17zm16 12zm54-16zm50 10zm0 7zm24 3zm2-11zm15 23zm-69 11zm-41 3zm-8-18zm-60 5zm-83 5zm-13-4zm-97 10zm-8 0zm-25-20zm-33 1zm-35 4zm-35 8zm-41 4zm-311 1zm-55-8zm-7-9zm-5 13zm-63-6zm-20-4zm-73 14zm-13-19zm-29 15zm-65 4zm-22 3zm-33-15zm-67 16zm-57-19zm-52 19zm-82-6zm-14-16zm-39 13zm-1-3zm-43 12zm-22 6zm35 2zm23 14zm8-13zm23 6zm57 1zm10-10zm8 3zm1 0zm82-6zm20 0zm70 20zm17-22zm11 10zm76 8zm10-7zm20-10zm155 13zm6 3zm10-4zm19-2zm96 5zm14-16zm11 7zm55-3zm30 14zm11-16zm244 19zm11-8zm1 10zm7-22zm32 18zm67-7zm5-1zm42 4zm39-5zm17-10zm62 8zm85 15zm14-3zm27 0zm2-10zm-18 20zm-23 2zm-119-7zm-11 4zm-6 17zm-61-7zm-4 8zm-6-9zm-6 10zm-26-8zm-3-14zm-74 21zm-9-21zm-5 21zm-1 1zm-17-12zm-83 5zm-20-10zm-52 10zm-28 2zm-45 0zm-18 2zm-7-18zm-10 13zm-69-8zm-49 13zm-4-10zm-10-9zm-30 14zm-24-15zm-32 0zm-35 7zm-11 11zm-5-5zm-72 8zm-38 2zm-73-14zm-13-5zm-14 16zm-10-10zm-91 8zm-23-9zm-44 4zm-37-4zm-28 13zm-26 0zm-15-6zm-94-2zm-11 6zm-3-3zm-3 7zm6 3zm6 9zm85-4zm10-2zm7 5zm43-10zm104 12zm38-13zm99 14zm18 8zm12-14zm16 15zm8-7zm12 1zm26-16zm29 17zm9-13zm10 4zm139 0zm19-3zm11 13zm15-5zm21-5zm7-2zm22 2zm196-8zm84-1zm18 5zm22 10zm17 2zm1-10zm28-7zm17 8zm18 8zm24-13zm56 7zm27-5zm9 9zm9-9zm27 0zm32 14zm43-12zm30-7zm21 8zm15 5zm31 0zm3 2zm40-5zm25 5zm46-8zm-18 20zm-105 0zm-43-1zm-5 12zm-114 4zm-59-9zm-64-4zm-74 1zm-81 5zm-79-2zm-101 12zm-107-20zm-53 21zm-10-16zm-22 12zm-111-13zm-19 1zm0 10zm-8 2zm-134-16zm-30-1zm-7 9zm0 10zm-5-18zm-32 10zm-106 8zm-34-17zm-11 10zm-64-11zm-18 2zm-22 15zm-11 4zm-13-23zm-13 5zm0 0zm-35-3zm33 36zm40 1zm42-16zm7 2zm15 16zm9-2zm11-6zm22 1zm69 5zm7 6zm47-5zm89 5zm6-6zm17-14zm11-1zm4 7zm1 2zm5-8zm24 2zm42 11zm1-6zm80 4zm170-6zm308 9zm2 7zm31-14zm71 8zm7 0zm15-8zm18 14zm1-20zm2 8zm49 9zm10-12zm34 13zm38-7zm2-1zm16-3zm19 7zm37 6zm103 0zm17-8zm7-12zm2 16zm19-3zm19-6zm-79 20zm-23 17zm-28-16zm-130 10zm-13 4zm-46-3zm-40-7zm-4-3zm-58-6zm-18 0zm-16 2zm-19 11zm-7-9zm-8 4zm-34 9zm-83-5zm-131-5zm-58-6zm-74 14zm-19-7zm-17 3zm-57-10zm-5 1zm-62 12zm-34-10zm-48 16zm-75-10zm-15-3zm-9 9zm-56-15zm-28 3zm-29 3zm-51-1zm-88 10zm-68-7zm-11-1zm-57 28zm31-3zm6-5zm3-5zm27 7zm7-1zm11 13zm23-16zm10-1zm6 2zm15-3zm11 5zm4 14zm12-16zm7 6zm39 9zm75-9zm20-1zm6-5zm8 14zm88-2zm82 0zm30-4zm1-2zm27-3zm4 5zm8 7zm35-12zm3 15zm15-3zm44-6zm48-3zm17 2zm3-5zm87 12zm249-19zm37 9zm14-5zm7-5zm9 13zm2-8zm20 14zm51-7zm59-8zm83 14zm102-8zm76 5zm50-10zm37 5zm16-9zm-53 40zm-52-7zm-2-5zm-46 1zm-51 12zm-62-18zm-9 13zm-1-13zm-14 15zm-38-13zm-57 8zm-102 12zm-3-14zm-33-4zm-29 14zm-170-5zm-19 7zm-65-8zm-17 8zm-35-3zm-34-11zm-142 1zm-70 17zm-44-7zm-11 0zm-5 7zm-9-4zm-11-6zm-22-11zm-6-3zm-20 13zm-19-5zm-16 12zm-3-3zm0-7zm-20 0zm-16 2zm-7-4zm-158 13zm-16-19zm-31 1zm-2 15zm-37-7zm-35 11zm-33-9zm-1-10zm23 40zm21-18zm20 21zm21-3zm9 1zm24-1zm41-13zm41 5zm14 11zm4-13zm12-3zm0 5zm29-10zm3 16zm76-7zm26-4zm4-5zm39 1zm33 17zm58-13zm5 10zm58 4zm2-14zm2-3zm12-1zm15 15zm15-7zm70-6zm23 4zm19-4zm27-1zm23 10zm33 5zm236 1zm60-4zm76-2zm93-11zm22 3zm6-1zm30 10zm25-13zm106 1zm26 14zm37-4zm81-4zm26-3zm5 26zm-29 3zm-5-1zm-1 4zm-28-9zm-54 9zm-14 6zm-5-11zm-22 13zm-113-13zm-14 6zm-60-10zm-47 8zm-9 5zm-4 3zm-56-16zm-11 6zm-29 6zm0-8zm-2 5zm-10 3zm-244-4zm-79 2zm-14-6zm-18-7zm-120 18zm-93-17zm-94 14zm-6-12zm-30 20zm-23-8zm-19 6zm-50-11zm-1-2zm-117 0zm-17 2zm-39 0zm-25 3zm-5 5zm-14 0zm-10-15zm-5 12zm-20-7zm-30-8zm-19 2zm-1 14zm23 24zm12-8zm35-6zm147 7zm28-8zm17 13zm1-1zm1-1zm7-9zm2-2zm70 8zm6 5zm38 4zm16-18zm59 7zm58-1zm31 11zm13 5zm86-6zm5 1zm4 0zm15-15zm32 4zm44-4zm29 4zm34 14zm140 2zm59-21zm51 4zm10-4zm13 4zm33 4zm41-5zm26-4zm76-1zm1 16zm30-10zm20 13zm20-1zm2 5zm121-15zm35-4zm38 37zm-31-3zm-76-13zm-17 9zm-16-3zm-7-4zm-2 18zm-7-17zm-10 17zm-6-19zm-10 0zm-45 12zm-254-1zm-27-12zm-1 0zm-4 18zm-6-12zm-1 6zm-12 4zm-2-1zm-14 5zm-10-17zm-11 18zm-3-14zm-2-1zm-9-1zm-13 5zm-16-7zm-6 3zm-11 16zm-4-12zm-3-6zm-22 17zm-32-5zm-6-5zm-110-1zm-66 13zm-30-24zm-3 5zm-33 13zm-55 4zm-11-21zm-30 1zm-36 5zm-30 12zm-8-5zm-65 10zm-405-13zm-1 22zm227 9zm277-12zm51 4zm55 9zm90-10zm6 9zm5 0zm28 2zm6-10zm8 13zm27-1zm14-19zm67 1zm9 10zm4 5zm24-18zm16 18zm2-10zm0-2zm19 9zm5-13zm10-1zm0 13zm9 7zm4 1zm43-1zm11-14zm21-3zm4 5zm35 6zm3 2zm178-9zm138 10zm29-11zm3 3zm5-5zm0-1zm19 7zm12 5zm0 5zm1-21zm72 6zm98 10zm20 1zm-13 24zm-44-16zm-11 21zm0-23zm-42 11zm-72-6zm-20 13zm0-8zm-5-7zm-5 16zm-6-3zm-5-12zm-82 5zm-3 14zm-160-16zm-95 8zm-28 1zm-1-10zm0-4zm-6 0zm-1-1zm-3 8zm-3 2zm-4 13zm-28-18zm-2 6zm-2-10zm-4 18zm-12-3zm-5-14zm-4 19zm-17-1zm-11-3zm-8-4zm-2 8zm-13-21zm-3 1zm-12 16zm-5-8zm-2 3zm-6-5zm-6 4zm-23 7zm-55-16zm-43 16zm-52 3zm-27-14zm-7 10zm-38-17zm-18 4zm-54 3zm-10 4zm-19 0zm-8 12zm-6-20zm-62 16zm-41-13zm-43 6zm-77-12zm-27-1zm-221 24zm-62-24zm529 28zm51 4zm47 4zm98-2zm14-6zm21 14zm12-12zm14 2zm33-6zm20 5zm0-3zm10 12zm14-2zm3 9zm4-20zm6 16zm8-8zm2-4zm2 10zm16-4zm3 7zm21-17zm8 7zm15 13zm0-17zm1 6zm1-11zm5 10zm22-4zm5-4zm8-2zm3 7zm19 4zm0-3zm3 12zm12 0zm4-5zm16-12zm6-3zm21 9zm95-8zm2 19zm38-20zm4 14zm57-2zm17 9zm31-15zm48 13zm9-15zm36-4zm2 3zm33 17zm2-9zm5 3zm12-4zm38 12zm53-13zm15-1zm4-1zm1 33zm-6 6zm-110-19zm-4 0zm-31 14zm-18-12zm-1 17zm-2-8zm-11 7zm-18-4zm-14 2zm-80-20zm-214 5zm-10 16zm-4-2zm-1-17zm-19 12zm-7 3zm-1-4zm-7 0zm-2-1zm-12 0zm-8-8zm-5 20zm-16-21zm-11 13zm0-13zm-1 6zm-26-1zm-2 16zm-7-3zm-6-15zm-7 13zm-16 0zm-17-5zm0-11zm-2 10zm-19-11zm-4 21zm-20-16zm-121 2zm-69-6zm-38 21zm-2-14zm-53-4zm-11 13zm-543 27zm179-21zm76 11zm162 6zm25 5zm162-20zm15-1zm153 11zm40 6zm14-1zm25-17zm9 13zm0 3zm6 4zm2-12zm1 5zm1 9zm8-10zm9 1zm5-8zm3 9zm3-13zm4 16zm2 4zm7-15zm15 2zm19 10zm0-18zm4 0zm14 14zm5 1zm3-7zm47 14zm2-20zm9 18zm0-1zm2-5zm0-5zm13 12zm22-7zm197-2zm26-9zm29 16zm32-1zm55 4zm2-12zm39 1zm45 2zm22-13zm36 23zm-89 7zm-14 14zm-15-20zm-2 8zm-28 11zm-82-8zm-11 1zm-36-8zm-25 10zm-15-13zm-19 11zm-138 5zm-21-13zm0 7zm-1-7zm-13 14zm-10-11zm-27-1zm-5-4zm-14 10zm-9-9zm0 8zm-27-8zm-30 7zm-13-5zm-8 16zm-36-8zm-13-9zm-32 4zm-52 13zm-67-20zm-33 9zm-17-3zm-19 1zm-7-4zm-17 2zm-58-7zm-8 4zm-20 10zm-127 2zm-71-6zm-24 3zm-314-10zm13 23zm279 17zm108-16zm30 3zm71 11zm209-4zm73 1zm51-3zm22-10zm21 21zm3 1zm13 1zm12-8zm12-14zm14 8zm10 6zm6 4zm29-5zm4-15zm12 12zm6-1zm1 8zm4 3zm2-20zm19 11zm0 3zm23-13zm3 9zm5 4zm14 3zm137-7zm14 0zm105 9zm29-6zm0-3zm4 9zm74-8zm3-9zm5 7zm1-7zm17 4zm66-4zm68 12zm67 16zm-183 3zm-7-9zm-11 18zm-13-2zm-7-10zm-9 0zm-11 16zm-5-19zm-29 2zm-31-4zm-23 14zm-31 2zm-39-7zm-45 2zm-36-6zm-78 6zm-37-13zm-1 13zm-3-13zm-4 17zm-27-18zm-7 12zm-5 3zm-5 0zm-4-14zm-21-1zm-12 16zm-17-14zm-4 17zm-38 4zm-14-7zm-16 6zm0-14zm-2 6zm-1-11zm-7 16zm-12-10zm-4 4zm-1 0zm-7 9zm-183-9zm-11-12zm-2 7zm-124 12zm-9-20zm-24 4zm-78 3zm-44-2zm-356 37zm21 5zm110-11zm22-6zm9 11zm247-11zm28 8zm57-9zm44 8zm170 9zm20-8zm22-2zm64 2zm20-8zm23-1zm19-1zm3 19zm2-21zm12 22zm16-14zm33 3zm15-13zm16 4zm2-1zm0 9zm14 9zm9-13zm1-6zm1-1zm12 5zm28 5zm12 1zm0-12zm2 11zm107 10zm21-15zm71 14zm3-10zm158-8zm1 0zm18-2zm130 7zm13 0zm33 15zm26 23zm-17 0zm-223-2zm-16-18zm-2 2zm-27 9zm-114 9zm-51-15zm-23 4zm-45 2zm-104-11zm-45 2zm-51 11zm-17-11zm-87 6zm-75 8zm-28-12zm-11-4zm-23 11zm-72-5zm-2-6zm-43 19zm-3-1zm-24-14zm-21 5zm-39-9zm-14 12zm-29 5zm-8-14zm-11 10zm-26-5zm-40-1zm-9 3zm-72 6zm-39 5zm-88-19zm-23 21zm-23-1zm-21-23zm-58 10zm17 26zm33 4zm40 0zm4-6zm9 5zm15-6zm2 10zm80-5zm23 0zm35-11zm5 5zm63 6zm34-14zm85 4zm35 1zm24-2zm49 10zm15-12zm13-1zm5 15zm66-5zm23-5zm27 14zm12-15zm27 7zm7 8zm2 0zm18-14zm7 1zm2 5zm34 6zm18 2zm87-11zm6 10zm29-1zm29-2zm21-6zm10 3zm17 8zm11-19zm10 12zm23 0zm54 8zm6-20zm88 2zm6 14zm67 7zm49-7zm5-10zm41-3zm76-2zm44 9zm8-8zm14 18zm4-1zm65 16zm-96 12zm-19-13zm-14-1zm-50 6zm-171-15zm-48 22zm-54-19zm-52-3zm-38 1zm-284 15zm-18-14zm-75 18zm-2-16zm-17 11zm-60 7zm-17-19zm-77 14zm-6-15zm-18-1zm-9 4zm-1-1zm-63 8zm-6 8zm-30-12zm-15 14zm-78-11zm-27-9zm-53 21zm-8-12zm-46 6zm-62 0zm-17-9zm-48-3zm-4 32zm7-1zm25-1zm15 7zm50-14zm1 0zm28 14zm15-19zm140 20zm5-7zm60-3zm11-1zm1-4zm13 11zm10-1zm37 1zm7-2zm19 6zm19-8zm22 10zm11-19zm37 13zm5 8zm32-18zm35 1zm42 3zm44-7zm10 15zm8-14zm24-2zm19 20zm18-18zm25-3zm57 16zm52-7zm69-3zm75 2zm5 2zm1 8zm9-1zm10-1zm39-7zm64 9zm1-17zm106 4zm0 1zm3 11zm13-9zm54 11zm2-8zm70-7zm26 9zm72-7zm81 29zm-81-3zm-58 4zm-133-3zm-61 9zm-24 2zm-18-4zm0-15zm-9 13zm-20 6zm-22-11zm-80 4zm-4-14zm-1 12zm-4-11zm-14 12zm-48 7zm0 1zm-84 1zm-77-6zm-27 1zm-100-15zm-33 8zm-10 4zm-115-13zm-27 6zm-15 13zm-80-15zm-29 4zm-1 1zm-22 2zm-19 6zm-139-12zm-56 8zm-45-5zm-2 3zm-83 3zm-89 16zm32-2zm29 10zm46-15zm17 2zm15 5zm10-5zm27 8zm4-9zm31 10zm20-11zm81 15zm20-4zm12 6zm10-13zm26 10zm16-1zm11-2zm17-9zm11 20zm49-17zm1 1zm19 0zm62 3zm85-3zm60 8zm17 5zm32-15zm4 3zm83-1zm17-2zm1 2zm8 3zm2-4zm25 4zm1 3zm0 11zm5-20zm21-1zm2 5zm1-5zm35 4zm11-2zm28 1zm1 5zm2-7zm24 0zm54 4zm19 16zm52-15zm84 1zm142 0zm13-8zm129 19zm7-10zm69 9zm35 1zm-49 15zm-121 6zm-32 4zm-27-10zm-15 11zm-12-15zm-13 3zm0 5zm-42 4zm-6-19zm-15 11zm-58 4zm-13-10zm-3 1zm-13-1zm-10 14zm-97-11zm-140 15zm-56-5zm-186-1zm-13-5zm-5 0zm-2 3zm-14 5zm-157-2zm0 5zm-1-8zm-7 2zm-8-13zm-53 1zm-30 9zm-54-10zm-19 9zm-11 7zm-38-11zm-78-6zm-48 18zm-2-19zm-4 20zm-1-18zm-7-1zm-36 9zm-29 9zm-14 1zm-14-6zm-28 3zm15 7zm89-1zm109 0zm49 15zm55-4zm38 7zm38 2zm7-2zm10 4zm91-1zm47-15zm23 3zm36 2zm29-1zm8-6zm18 15zm37-19zm82 22zm54-22zm77 0zm83 9zm36-7zm25 9zm40 9zm24-5zm72 0zm48-13zm5-2zm3 12zm7 9zm166-12zm111 5zm44 7zm9 0zm-8 18zm-17-7zm-90 3zm-43-2zm-19 5zm-67-14zm-59 21zm-56-22zm-20 20zm-72-3zm-16-9zm-111-6zm-28 3zm-58 12zm-197-13zm-32 1zm-9 10zm-10 8zm-122-14zm-2 6zm-118 8zm-58-19zm-1 14zm-7 1zm-50 4zm-77-12zm-63 1zm-7-10zm-2 20zm-23-6zm-35-10zm-13 6zm-13-9zm-26 15zm-36 3zm-16-3zm-19-3zm-6-9zm-5 11zm-10-2zm-12 8zm1 22zm19-12zm44-2zm6 14zm82 2zm19-11zm31 9zm15-5zm16 3zm12-16zm5 15zm27-17zm12 7zm50-5zm9 11zm55-5zm9 8zm1-6zm22 6zm28-10zm13 9zm0-7zm42-1zm8 2zm24 3zm13-6zm16 4zm46-3zm21 7zm57 6zm0-11zm2 4zm2-8zm53 14zm30-5zm49-7zm74 4zm112 7zm79-6zm6 5zm3-11zm102-4zm41 7zm72 4zm25 7zm163-3zm2-1zm37-5zm18 2zm-19 16zm-115-2zm-4-4zm-17 21zm-135-21zm-11 3zm-34 17zm-57-19zm-50 11zm-1-11zm-116 8zm-10-4zm-6-4zm-5 22zm-45-14zm-11 1zm-31 7zm-35-4zm-70 1zm-12-7zm-3 11zm0-1zm-37-2zm-6 9zm-13-10zm-35 1zm-53 5zm-10 1zm-95-11zm-25 10zm-22-18zm0 0zm-25 21zm-26-11zm-20-12zm-30 19zm-31-6zm-26 11zm-44-16zm-27 3zm-29 1zm-24-2zm0 9zm-29-11zm-90 9zm-4-14zm-31 6zm-4 7zm-29-8zm-12 4zm20 18zm49 16zm21-17zm13 14zm32-6zm50 9zm75-4zm12-12zm3 18zm15-12zm21 8zm51-15zm3-3zm28 17zm34-4zm100 2zm16-16zm66 18zm8-1zm2-7zm8 5zm75-13zm6 1zm6 19zm60-4zm3 3zm66-13zm72 9zm116-13zm23 6zm75-6zm45 13zm36-4zm45-6zm95 6zm69 3zm162 12zm-57 12zm-17-1zm-8-5zm-192-1zm-10 11zm-3-7zm-153 1zm-14-6zm-18 1zm-46 10zm-5-9zm-17-4zm-77 4zm-39-4zm-33-1zm-150 8zm-13 8zm-8-14zm-68 0zm-20 1zm-1 11zm-26-1zm-19-18zm-21 15zm-16-2zm-60 4zm-64-7zm-71 1zm-135-12zm-1 7zm-47-3zm-6 19zm-16-15zm-23 9zm-33-10zm-43 14zm-1-14zm-25-5zm-26 11zm-16-6zm15 34zm18-6zm57-5zm33 10zm7-12zm34 2zm5 18zm17-15zm77 8zm12-4zm6 3zm23-9zm7-6zm0 1zm8 9zm107-7zm15 7zm40-1zm14 13zm27-5zm0-1zm10 3zm27 3zm10-13zm5-8zm18 17zm33 2zm10-10zm2 12zm15-4zm6 5zm23-14zm17 7zm20-8zm19 10zm32-1zm17-15zm36 7zm51 8zm27 0zm167-11zm24 13zm26-1zm8-8zm7 2zm23 0zm4 7zm99-16zm14 16zm7-19zm11 14zm42-11zm35 11zm20-1zm13-4zm22 6zm89 8zm110-17zm-32 22zm-100-1zm-63 4zm-60 11zm-103-5zm-54-5zm-27-8zm-19 0zm-71 4zm-125 8zm-78 6zm-91-4zm-11-15zm-34 21zm-6-20zm-2 14zm-55-15zm-23 6zm-3 17zm-13-1zm-14-17zm-53 7zm-4 6zm-9-3zm-49-6zm-18 6zm-30 1zm-2 0zm-3-7zm-45 6zm-48 7zm-27-20zm-17 19zm-26-12zm-69 0zm-27-6zm-10 17zm-38-3zm-25-12zm-28 8zm-28-12zm-13 3zm-50 28zm24 0zm9 14zm14-7zm22-12zm8 18zm66-5zm3 3zm9-5zm3-5zm68 12zm4 2zm23-22zm2 12zm13 6zm28-5zm8-1zm2 1zm23-6zm78-2zm63 8zm26 8zm4-18zm6-3zm30 15zm38-8zm5-3zm131 7zm0 10zm40-2zm18-2zm17-8zm47 0zm78 13zm145-12zm14 3zm70-4zm12 8zm54 1zm28-7zm26-4zm32 15zm69-6zm134-1zm7-15zm25 15zm6-11zm11 19zm58-18zm-27 26zm-16 9zm-16-11zm-69 7zm-4-12zm-10 21zm-109-16zm-49 0zm-22 0zm-20 1zm-32 9zm-80-7zm-6-1zm-30-7zm-4 22zm-21-5zm-139-11zm-82 17zm-194-14zm-28 8zm-37-5zm-6 2zm-42 7zm-3 0zm-13-15zm-20-3zm-13 2zm-22 16zm-22-2zm-26-10zm-39-4zm-29 4zm-81 9zm-18-5zm-8-6zm-67-7zm-15 0zm-3 11zm-25 2zm-19 9zm0-7zm-32-7zm-4 7zm-25-6zm-6-5zm-16 15zm34 20zm5-9zm7-7zm10 20zm38-2zm9 3zm24-8zm22 7zm12-17zm30 9zm18-10zm97 13zm116 3zm7 3zm32 1zm55-13zm3 14zm2-12zm3 13zm10-7zm22 4zm34-11zm36 0zm58 3zm74-12zm87 1zm224 22zm2-14zm41-2zm4-4zm23 3zm43 13zm44-15zm254 2zm41 8zm38-11zm-58 36zm-4-15zm-29 6zm-39 0zm-12 16zm-12-9zm-8-9zm-21 15zm-92-16zm-7 15zm-6-13zm-12 11zm-128-4zm-7-1zm-20-1zm-13-1zm-23 4zm-7-6zm-44 0zm-11-2zm-141 7zm-109-1zm-66 4zm-2 3zm-7 2zm-2-21zm-6 16zm-72-9zm-57 0zm-12-3zm-10 5zm-79 9zm-43-13zm-32 13zm-3-3zm-32-1zm-23-11zm-28 11zm-8 3zm-102-12zm-16 8zm-40-11zm-20 16zm-4-15zm-21 12zm-10 7zm-21-18zm-14 0zm-1 0zm-46 10zm-22-14zm-15 41zm3-8zm14 5zm18-8zm45-5zm16 19zm19-12zm142 14zm6-13zm53 1zm83 2zm14-9zm2 15zm67-13zm57 2zm23-5zm9 14zm14 4zm29 1zm6-18zm30 13zm99 5zm7-5zm12-15zm28 3zm262 17zm28-10zm10-4zm25 6zm6 1zm12-8zm9 12zm41-6zm16-3zm28-9zm4 23zm22-16zm32 5zm16-8zm31-1zm1 16zm26 1zm94 0zm80-18zm15 6zm22-4zm37 1zm5 4zm2 1zm-110 15zm-31 13zm-26-3zm-7 10zm-6-7zm-43 3zm-31 0zm-72-11zm-23 17zm-21-11zm-20 9zm-61-11zm-35-4zm-403 11zm-121 7zm-17-13zm-64 1zm-13 11zm-8-20zm-19 14zm-3 5zm-3-5zm-35 2zm-12-5zm-7 5zm-18-5zm-36-13zm-61 12zm-86 7zm-16 2zm-16-10zm-11-1zm-93 8zm-6 0zm-38-5zm-54-7zm-2 0zm44 24zm71-5zm44 14zm2-8zm99 2zm35 12zm49 1zm32-2zm9 1zm68 1zm66-10zm16 4zm13-1zm37-16zm2 12zm23 3zm51-9zm5 6zm33 6zm11-14zm14 4zm8 7zm14-13zm38 7zm4-5zm3 8zm16-10zm4 11zm6-11zm268 7zm9 10zm1-5zm1 5zm62-4zm8 6zm64-5zm12-13zm51 13zm10-4zm21-10zm96 10zm5 5zm67 4zm11-20zm28 15zm60-5zm42 18zm-28-4zm-17 5zm-14 7zm-29 5zm-41-1zm-7 3zm-2-15zm-28 9zm-42-11zm-48 6zm-82 15zm-59-10zm-94 4zm-2-10zm-24-6zm-6 0zm-15 19zm-14 1zm-297-6zm-1-10zm-38 6zm-27-8zm-39-3zm-89 1zm-52 13zm-21-8zm-25 0zm-19 15zm-83-7zm-21-1zm-38 1zm-29 4zm-12-4zm-12 4zm-14-16zm-5 1zm-1 17zm-54-8zm-42-8zm-42 12zm-31-15zm-11 22zm-28-10zm-23 8zm-17-19zm12 39zm78 3zm16-13zm27-8zm26 1zm11 19zm10-12zm48 11zm26-18zm64 19zm2-12zm140 3zm5 3zm9 8zm1-5zm11-12zm24-5zm39 19zm15-5zm39 7zm15-4zm0 5zm14-2zm6-15zm7-1zm29 12zm47-10zm1 1zm77-2zm4 11zm165-6zm129-8zm25 10zm38 9zm5-16zm4 14zm39-10zm46 10zm0 3zm220-3zm1-11zm38 5zm4 6zm84 2zm14-11zm0 32zm-43-5zm-57-4zm-100-2zm-66 9zm-120-15zm-12 5zm-85 11zm-14 1zm-54-6zm-3 9zm-275-8zm-168-4zm-53-5zm-2 1zm-16 16zm-8 2zm-8-12zm-30 1zm-11 1zm-3 4zm-48-2zm-36-12zm-14-3zm-18 17zm-14 5zm-11-13zm-60 13zm-4-21zm-38 7zm-28 12zm-8-2zm-4 1zm-14-18zm-44 1zm-28 15zm-30-4zm-1 0zm-9 1zm-24 5zm-5-2zm-13-4zm-7 8zm-6-16zm-32 12zm19 21zm48 7zm58-13zm1 15zm72 0zm24-7zm11-6zm1 6zm111 4zm0-2zm28-18zm15 6zm13-1zm6-2zm17 15zm6-6zm25 0zm61 5zm44-4zm2 4zm36-11zm0 8zm3-5zm47 0zm22 6zm40-5zm38 3zm18 3zm0-13zm288 14zm43-13zm19 19zm9-5zm11-4zm5 4zm30-2zm31-16zm44 6zm22 16zm226-13zm95 1zm44 28zm-14-8zm-26-3zm-12 9zm-8-7zm-45 17zm-10-19zm-31 14zm-7-6zm-1 12zm-17-3zm-5 2zm-2-10zm-108 3zm-35-11zm-62 0zm-9-2zm-38 3zm-17 8zm-6 7zm-34-15zm-3 5zm-3 11zm-11-18zm-22 7zm-7-8zm-6 3zm-7-3zm-8 8zm-269 3zm-3 4zm-1-17zm-22 14zm-26-8zm-33 16zm-94-15zm-3 16zm-57-2zm-10-18zm-4 1zm-38 5zm-45 7zm-2-13zm-17 14zm-17 2zm-29 3zm-34-14zm-40 12zm-6-1zm-7-10zm-30 13zm-56-5zm-17-12zm-36 2zm-4-5zm-23 5zm-15 9zm-6-14zm-14 17zm-8-17zm-30 3zm-6 3zm-16 7zm-54 24zm24-4zm0-6zm10 1zm11 16zm20-14zm22 7zm3-2zm6 8zm26-8zm47-9zm20 1zm24 14zm9-5zm14 1zm22-10zm16 9zm1 7zm32-14zm34 1zm13 4zm54-7zm8-2zm130 16zm28-5zm31-6zm41-5zm21 15zm4 4zm39-10zm0 10zm12-12zm30 13zm10-14zm36 7zm79-3zm157-4zm29-2zm4 2zm9 12zm48-17zm8-2zm8 21zm37-6zm8-6zm64 9zm65-8zm24-5zm7-4zm6 5zm26 7zm0-11zm10 18zm75-5zm0-15zm14 16zm0-10zm2 8zm2-7zm10 2zm35 5zm60-7zm-9 20zm-57-3zm-21 11zm-20 3zm-9-3zm-8 9zm-89-2zm-27-6zm-88 5zm-39-13zm-15 6zm-23 3zm-18-8zm-104 16zm-203-18zm-57-4zm-37 13zm-6 4zm-1-3zm-4-7zm-43-4zm-33 7zm-4-11zm-36 17zm-41-6zm-45 4zm-52-11zm-25 9zm0-3zm-67 5zm-24-10zm-5 2zm-5 12zm-64-18zm-43 11zm-12 9zm-10-18zm-1 19zm-11-13zm-5-4zm-10 14zm-24-9zm-52 3zm-16 10zm-22-1zm-7-7zm-11 0zm-8-8zm-38-3zm-28 16zm-6-5zm-1-9zm-11 8zm48 29zm35-4zm49 9zm51-6zm2-11zm57-3zm10 11zm3 1zm19-15zm82 21zm0-1zm3-15zm3 8zm40 0zm37-6zm5 11zm99-7zm59 0zm81-9zm1 13zm32-14zm24 5zm24 15zm36-21zm295 0zm15 14zm10-2zm27-9zm7 0zm26 15zm12-4zm4-4zm15-3zm0 4zm33-1zm5 0zm0 7zm50-16zm16 16zm4-2zm34-15zm16 18zm107-4zm2-12zm4 12zm20-10zm22 13zm54-9zm19 6zm-11 18zm-97 14zm-12-16zm-112 10zm-14-3zm-18 6zm-22-10zm-15 4zm-4 6zm-3-19zm-17 3zm-2 15zm-45-14zm-29-2zm-31 20zm-2-23zm-22 11zm-48 10zm-306-9zm-18-6zm-77 9zm-128 1zm-12 6zm-50-19zm-26 13zm-14 2zm-36-13zm0 1zm-50 4zm-14-6zm-41 17zm-8-14zm-4 8zm-19 7zm-11 1zm-3-15zm-56-4zm-39 1zm-26-5zm-34 2zm-5 13zm-35-3zm-9-5zm-4 15zm-1-10zm-23-11zm-33 1zm-5 27zm65 13zm6-6zm8 4zm27-5zm6-9zm21 3zm1 17zm5-18zm2 1zm31-3zm2 8zm13 0zm2-8zm46 13zm0-11zm29 5zm5-1zm34 12zm8-10zm4 12zm5-2zm22 1zm11-6zm41-6zm0-4zm17 2zm39 0zm30 0zm32 1zm44-7zm42 17zm63-12zm48 1zm54 5zm35-2zm7 1zm261 4zm65-9zm4 11zm28-13zm38 15zm35-8zm18 5zm26 2zm67-16zm31 18zm76-4zm7 7zm18-19zm2 19zm26-23zm100 10zm-37 17zm-66 15zm-11-13zm-19-2zm-12 13zm-81-3zm-69 10zm-18 1zm-20-14zm-23 1zm-3-7zm-39 8zm-31-3zm-4-4zm-15-4zm-15 6zm-4 10zm-3-15zm-4 22zm-26-2zm-7-20zm0 4zm-12 10zm-15 5zm-9-11zm-21 13zm-6-2zm-228-12zm-7-7zm-3-1zm-38 1zm0 18zm-1-12zm-85-7zm-101 12zm-14 0zm-17-1zm-49 7zm-58-17zm-11 18zm-17 4zm-24-5zm-158-8zm-28-2zm-28 12zm-7 0zm-7-17zm-15 8zm-17-7zm-35 6zm-10 11zm-43-12zm-7 13zm-19-21zm-2 5zm-1 12zm-11 5zm4 13zm9 7zm0-5zm6 1zm27 3zm7-8zm8 11zm1-8zm35-4zm7 7zm17-15zm34 16zm71-7zm7 3zm55-13zm50 14zm93-10zm30 18zm66-4zm30 4zm82-7zm12 4zm75-3zm36 4zm3-12zm28-7zm9-2zm6 23zm0-9zm1 6zm283-8zm3-5zm54-7zm11 2zm22 10zm42 3zm45 2zm77-3zm34 10zm28-9zm60-7zm78 12zm46-10zm14-7zm-350 31zm-197-3zm-10-2zm-16-3zm-16 9zm-45 5zm-18 2zm-3-2zm-9 0zm-57 7zm-36-18zm-7 0zm-55-4zm-376 17z"/></g><g transform="scale(0.25)" fill="none" stroke="#000" stroke-opacity=".36" stroke-width="13.2" stroke-linecap="round" stroke-linejoin="round"><path d="M2242 589zm5 8zm19-12zm3 14zm2-9zm1 1zm2 6zm5-9zm1 9zm2-16zm2 5zm3-4zm1-1zm-16 29zm-5-6zm-5-2zm-1 8zm-19-7zm-29 4zm-29 6zm55 12zm3 0zm1 10zm1-5zm0 8zm3 8zm12-11zm2 12zm2-2zm5-19zm10-1zm-12 33zm-26 4zm-15 3zm-13-6zm-28-6zm-6 6zm37 26zm2-1zm14 2zm27-12zm3-1zm1 15zm1-4zm-27 23z"/>
<path d="M2201 596zm48 2zm2 1zm15-10zm4-6zm2 15zm2-12zm2-5zm8 1zm1-2zm0 0zm0 7zm1-7zm1 1zm2-4zm0 1zm-15 27zm-2 3zm-8 0zm-1 9zm0 1zm-1 5zm-9-16zm-2 16zm-3-4zm-4-18zm-31 9zm-6 0zm-51 34zm25 2zm26-3zm10-1zm1-3zm10 8zm20-5zm2-17zm9 1zm10 43zm-3 1zm-5-10zm-10-4zm-7-1zm-4 8zm-7-11zm-3 17zm-8-11zm-17-3zm-5 14zm-14 1zm30 3zm11 1zm25 10zm0 10zm5 10zm-9-4zm-19 2z"/>
<path d="M2252 597zm11-11zm6 8zm3-4zm3-8zm4 9zm1-9zm7 2zm-7 22zm-5 3zm-28-3zm-7 15zm-5 0zm-21-11zm-42-7zm-9 29zm0 13zm2-9zm20 10zm40-1zm9-17zm1 15zm4 2zm19-9zm6-1zm1 12zm5-9zm-21 29zm-9 4zm-24-8zm-12 3zm0 16zm1-2zm30-3zm4 13zm11-14zm1 2zm-35 19z"/>
<path d="M2227 589zm5 9zm15-4zm18-2zm4-9zm4 11zm2-12zm0 5zm0-1zm1 14zm1-10zm4-5zm0 2zm1-6zm2-1zm2-1zm0 0zm3-1zm-8 25zm0-3zm-1 11zm-5-7zm-7 5zm-1 9zm-8-3zm-5 4zm-1-17zm-2 19zm-1-3zm-9 4zm-4 1zm0-18zm-19 8zm-2-4zm-4-7zm-57 6zm15 37zm11-1zm1-17zm10 10zm3 10zm28-19zm6 2zm4 4zm12 1zm1 4zm22 10zm-25 11zm-6 1zm-4-11zm-13 5zm-42-5zm24 41zm12 0zm16-2zm6-1zm13-3z"/>
<path d="M2246 600zm7-11zm5 6zm8 4zm2-11zm0 9zm1-4zm1-5zm6 7zm2-14zm2 0zm1 1zm5 5zm0-4zm1-3zm1 2zm1-5zm-8 33zm0-5zm-1-3zm-2 6zm-1-4zm-5-3zm0 12zm-2 9zm-1-14zm-2-2zm-4 1zm-4 8zm-4-4zm-8 6zm-2 3zm-1-6zm-2-4zm-1-7zm-6-3zm-1 20zm-6-12zm-10-3zm-1-2zm-9 17zm-10-2zm0 3zm0-9zm-4 2zm-26-2zm22 13zm13 12zm1 4zm6 0zm18-6zm38-1zm2-1zm2-1zm-1 27zm-14-2zm-4 5zm-1 4zm-26-2zm-5-3zm-10-9zm0 5zm-24 17zm17 5zm12 13zm26-4zm14-5zm10 22zm-5 1zm-3-2zm-31-6zm-5 2z"/>
<path d="M2185 598zm20 2zm32-2zm4-5zm5-7zm19-3zm2 8zm2-2zm1 3zm1 6zm2-3zm5-12zm0 10zm7-10zm1-1zm1 0zm1-3zm-4 25zm-8 7zm-2 1zm-4 7zm-4 0zm-2-16zm-12-1zm-2 14zm-47-12zm-1-2zm-3 15zm-7-11zm-22 5zm-15 6zm7 13zm16 4zm4 5zm6-15zm28 10zm2-4zm5 12zm3-13zm4 8zm5 8zm11-17zm17 5zm1-9zm3 41zm0-15zm-9-2zm-4 6zm-5 16zm-5 0zm-7-1zm-2-6zm-25 0zm-10-7zm0-4zm-12 4zm12 29zm3-8zm4 9zm2 8zm11-7zm33-5zm0-9zm11 7zm-4 22zm-8 4zm-24 1z"/>
<path d="M2221 593zm11 3zm20-11zm3 9zm6-3zm4-6zm15 4zm2-1zm4-9zm0 4zm2-4zm-6 21zm-7 5zm-1 12zm-1-5zm-1-8zm-1 1zm0 4zm-2 14zm0-18zm-4 12zm-2-7zm-3-8zm-6 15zm-5 1zm-4 0zm0-3zm-25 5zm-5-7zm-1 7zm-24 0zm-25-1zm1 5zm3 4zm12 12zm19 0zm11-5zm10-5zm0 5zm12-9zm30 16zm2 12zm-6 8zm-4-2zm-24 4zm-6-6zm-17-4zm-1 10zm-11 4zm-9-14zm-11 9zm0-9zm-6-3zm24 27zm2-2zm1 7zm16-10zm31 0zm13 14zm1-13zm-5 26zm-19-2zm-9 7zm-5 4z"/>
<path d="M2187 597zm22-2zm29-2zm11 4zm10-8zm0-4zm2 11zm2-11zm0 5zm3 5zm9 3zm2-10zm2-3zm1 11zm3-10zm4-5zm1-1zm-8 27zm0 7zm-6-1zm-1-12zm-2 4zm-13 1zm-3 16zm-3-15zm-38 9zm-5-11zm-13 2zm-3 3zm-8 14zm-7-18zm7 40zm5-13zm6 0zm25 14zm3-10zm28-2zm4 11zm12-21zm0 13zm2-8zm-8 25zm-12 13zm-23-14zm-9 7zm-5-2zm-15-9zm-15 16zm-1-3zm-7 4zm-12-16zm39 36zm4 8zm26-18zm7 11zm19-7zm10 1zm-35 16zm-10-2zm-13 2zm-1 3z"/></g></g>
<g clip-path="url(#c2)"><path d="M675.0 546.1L721.6 546.1L721.6 520.6L716.6 513.6L709.6 510.1L710.1 505.6L710.1 494.5L707.6 493.0L675.0 493.0Z" fill="#fc9070"/><g transform="scale(0.25)" fill="none" stroke="#fc9272" stroke-opacity=".3" stroke-width="13.2" stroke-linecap="round" stroke-linejoin="round"><path d="M2771 1913zm-13-16zm-48 29zm19 14zm1-5zm2 2zm35 3zm76 17zm-11-9zm-8 4zm-8 7zm-3 5zm-31-10zm-17 8zm-7-9zm-15 8zm-17-5zm-8-4zm3 21zm8 7zm5-7zm3 13zm4-12zm2-4zm6-1zm4 5zm6 3zm11-2zm1 2zm9-3zm1 11zm5-2zm2 8zm7-3zm0 1zm18-13zm3 12zm5-1zm1-9zm4 9zm5-13zm1 3zm4 9zm0 3zm3-6zm5-7zm2 9zm0 11zm-2 5zm-1 12zm-2-7zm-7-11zm-3 6zm-3 2zm-3 7zm0 1zm-2-18zm-7 4zm-3 8zm-7-4zm-2 8zm-10-10zm-3 8zm-4-13zm-2 21zm-8-18zm-1 9zm-1 0zm0-14zm-5 23zm-9-1zm0 1zm0-22zm-2 18zm0-8zm-4 12zm-11-14zm-5-6zm-6-3zm-1 24zm-2-4zm-13-8zm-2 6zm-6 1zm1 12zm5 8zm2 3zm12-9zm7 0zm3-1zm3 3zm6-10zm3 1zm1-1zm0 12zm12 6zm4-15zm21-4zm3 13zm5-7zm3 17zm1-1zm8-14zm2 8zm2-15zm1 14zm0 6zm2-20zm1 0zm7 12zm2-6zm2-3zm4 12zm4-8zm10 15zm45-1zm91 8zm-31-3zm-31 1zm-3 10zm-3 8zm-6-15zm-6-3zm-2 4zm-6 12zm-10-14zm0 16zm-2 1zm-1-13zm-5-4zm-9 16zm0-3zm-3 0zm-9 3zm-1 2zm-2-1zm-9 0zm-5-10zm-4 4zm-10-4zm-2-5zm-9 15zm-15-8zm-1 1zm-1-5zm-9-6zm-6 8zm-22 2zm0 8zm-2-16zm-1 16zm-1-8zm-3-10zm-1 15zm-1 3zm0-6zm-10-4zm-1-5zm-13 2zm-2 8zm-1-5zm-2-11zm-4 5zm-7 26zm11 9zm7-5zm9-9zm0-3zm7 4zm4 8zm7-11zm12 3zm6 0zm1 12zm2 0zm11 2zm3-1zm2 1zm1-2zm1-7zm7 12zm0-5zm13 5zm3-13zm0-7zm3 0zm6 0zm0 3zm1 5zm2 4zm4-1zm3-2zm6-2zm3 14zm0-1zm4-17zm1-5zm4 1zm14 2zm0 15zm2-9zm5 0zm12 6zm5 6zm9-18zm30-3zm37 10zm30 36zm-19-2zm-49-17zm-15 18zm-24 0zm-1 1zm-1-19zm-1 0zm0 13zm-4-1zm-2 3zm-1-11zm0 5zm-1-4zm-12-6zm-1 7zm-5-3zm-1 0zm-2 4zm-2 11zm-12-7zm-2-13zm-3 2zm0 4zm-3-2zm-2 4zm-2 10zm-11 3zm-8-3zm-6-10zm-2 1zm-3 14zm-1-18zm-12-4zm-28 8zm0-1zm-14 4zm-5-9zm0 0zm-1 1zm0 12zm-1 6zm0-13zm-2 12zm-4-6zm-3-7zm-4 0zm-2-1zm-8-5zm-3-2zm-4 38zm1-9zm7 3zm0-5zm5-3zm5 9zm17-6zm6 3zm10-4zm0-3zm1 0zm9 22zm3-18zm5 19zm2-11zm3 10zm4 2zm4-2zm16-13zm7-8zm9 14zm4-5zm1 12zm17-16zm1 10zm5-10zm5 2zm18 0zm0 4zm7-7zm0-5zm2 4zm2 7zm2-9zm1 8zm18 14zm41-3zm12-16zm47 42zm-65-2zm-24-16zm-1 8zm-12 1zm-10 4zm-3-11zm-5 13zm-5-5zm-4 9zm-1-15zm-13 4zm0 3zm-1-2zm0-2zm-1 2zm-10-10zm0 14zm-11-16zm-4 3zm0-5zm-22 6zm-3-4zm-4 6zm0-2zm-7 0zm-3 10zm-6 2zm-5-1zm-2 6zm-6-13zm-19 4zm-8-14zm0 21zm-1-5zm-3-1zm-14-11zm-3-3zm-7 18zm0-4zm-7 9zm0-15zm-2 12zm4 16zm12-11zm1 7zm4-4zm4 13zm1 2zm3-9zm2-6zm4-3zm5 6zm6 2zm1 5zm1-14zm6 2zm2 13zm6-4zm5-4zm2-5zm21 13zm2-5zm7-2zm4-3zm6 7zm3 6zm10 0zm0-19zm6 15zm10-10zm28 1zm6-2zm4 4zm6 8zm5 2zm0-16zm5 0zm51 17zm13-2z"/>
<path d="M2768 1836zm-22 35zm85 45zm-22 3zm-100-17zm57 41zm11-7zm10 5zm16 1zm20-1zm2 20zm-5 5zm-2 0zm-2-9zm0-10zm-3 5zm-7 12zm-3-10zm-2 14zm-2-21zm-8 20zm-6-13zm-13 8zm-5 4zm-3-19zm-33 14zm0-9zm0 14zm-3-12zm-1 1zm-1 4zm-1 4zm-1 2zm-14 26zm5-14zm2 6zm1-6zm6-3zm3-3zm24 5zm2 2zm0 9zm5-4zm7 1zm4-14zm1 7zm6 4zm0-11zm7 5zm3-5zm2 19zm0-8zm0-3zm3 10zm0-10zm16-3zm2 5zm2 1zm1 5zm4-13zm1-1zm9 14zm2-6zm1 5zm4-12zm7-2zm8 24zm-6 8zm-19 9zm-6 3zm-2-3zm-1-15zm-1 18zm-3-5zm-3-6zm-1 10zm-2-19zm-6 16zm-2-13zm-2 7zm0 3zm-2-12zm-3 11zm0-8zm-1 3zm-1-9zm-7 8zm-3 3zm-10-5zm-3-2zm-9-2zm-7 16zm-10-19zm0 12zm-3 3zm-3-1zm-1-3zm-1 0zm0 12zm-1-7zm-5-14zm-3 16zm-7-13zm-6 34zm2-1zm4 1zm8-7zm3 9zm4 6zm1-5zm4 3zm1-17zm0 2zm1 5zm10 6zm18-10zm16 11zm10-9zm0-6zm2 3zm3 17zm2-1zm7-20zm3 6zm4 5zm0-11zm2 18zm8-1zm1-7zm0 2zm4-13zm11-1zm2 10zm30 12zm16 1zm23-2zm192 15zm-161-9zm-35 8zm-2 10zm-8-10zm-5 10zm-17-15zm-1 15zm-1 1zm-6-4zm-5-12zm0 3zm-7 4zm-4-8zm-21 19zm-7-11zm-7-8zm-4 5zm-3 10zm-1-7zm-6 4zm-3-6zm-1-9zm-3 17zm-6-17zm-4 19zm-4-1zm-2-19zm-5 18zm-4-9zm-7 6zm-1-8zm-1 6zm-3-10zm-5 7zm-3 5zm-9-9zm-3 16zm-1-7zm-11 2zm-7 5zm-6-20zm0 31zm2-10zm3 23zm1-12zm9 6zm7-3zm6 4zm10-9zm1 8zm5-11zm5 16zm4-8zm2 4zm2-3zm8 0zm6-8zm14 8zm1-15zm0 20zm8-16zm2 16zm2-18zm3 9zm5-2zm4 13zm6-9zm15 7zm12-18zm0 11zm14-1zm6 9zm1-1zm11-12zm3 15zm2-3zm0-13zm0 0zm4 2zm1 9zm1-12zm0-5zm5 5zm1 10zm10 1zm3-9zm2 3zm2-5zm106 8zm-66 32zm-45-19zm-4 4zm-4 5zm-4-4zm-1 0zm-1 15zm-2-9zm-4 10zm-3-11zm-1 10zm-2-3zm-7 1zm-5-16zm-11 15zm-11-9zm-5 1zm-2 9zm-10-1zm-1-13zm-3 9zm-5-6zm-4-10zm-10 15zm-2 7zm-1-18zm-2 11zm-1-14zm0 2zm-4 6zm-2 0zm-12-6zm-21 4zm-3 16zm-2-4zm-1-17zm-19 15zm-18-5zm-1 9zm-9-12zm-5 15zm-2 22zm4-10zm0 10zm1-17zm1 10zm4 0zm19-12zm6 13zm2-5zm4 12zm4-20zm6 19zm5-13zm3 9zm4-1zm1 3zm4 0zm1-9zm1 4zm1 1zm4-3zm1 7zm0-1zm1-8zm2-11zm2 7zm5-3zm10 12zm3-15zm3 11zm5 7zm1-16zm12-1zm2 22zm2-10zm8 1zm7 5zm2-20zm3 3zm8 1zm1 4zm3 14zm0-8zm0-1zm1 6zm4-2zm9-7zm22-7zm5 13zm1-14zm8-1zm8 17zm7-6zm69 29zm-79-13zm-22-3zm-4 21zm-4-7zm-1-8zm-1 7zm-4 5zm-3-3zm-2-4zm-9-9zm-3 5zm0 7zm-6 3zm-1 4zm-5-3zm-8-6zm-7-1zm0 9zm-4-1zm-5-16zm-1 3zm-1 4zm-5-2zm-5 7zm-1 4zm-3 0zm-3-9zm-7-3zm-1 5zm0 11zm-6-17zm-4-6zm-5 1zm-12 6zm-2 13zm-4-11zm-5 1zm-4 12zm-10-16zm-11 16zm-12-10zm0-3zm-1 6zm-2-10zm-3 15zm-3-11zm-1-5zm-2 0zm-2 17zm-3-6zm-1 21zm21 5zm8 2zm3-15zm0 0zm1-2zm2 3zm8 5zm11 7zm1 2zm0-7zm1-10zm1 11zm4-3zm9-6zm2-3zm15 5zm0 7zm5-9zm14 7zm6 3zm9-4zm9-4zm0 11zm9-5zm2-4zm0-2zm2 4zm3-5zm12 6zm8-10zm5 2zm12 13zm0-15zm3 8zm22-9zm13 8zm3 6zm8-6z"/>
<path d="M2718 1929zm35 9zm93-6zm2 16zm-6 12zm-2-6zm-14 7zm-10-12zm-8 18zm-5-13zm-1 12zm-2-9zm-19-2zm-14 5zm-8-4zm-30-8zm-6 17zm-11-2zm4 22zm4-6zm7 13zm4-18zm3 12zm2-9zm9 5zm5 5zm8-5zm6 1zm5 4zm2-2zm2 4zm6 0zm6-2zm1-15zm1 6zm2-7zm8 16zm2-10zm4 10zm1-15zm6-1zm0 15zm0-9zm2 14zm2-6zm5 5zm5-5zm3-10zm1-3zm1-1zm2 10zm0 1zm15 23zm-2 3zm-1-13zm-9 17zm-11-10zm-3 6zm-1-3zm-4 5zm-2 2zm-2-18zm0 12zm-2 4zm-2-11zm0 10zm-2-7zm-1 7zm-6-12zm-7 13zm-8-12zm-4 13zm-1-4zm-1-11zm-8 15zm0-5zm-1-14zm-4 22zm-2-15zm-2 6zm-32 5zm-2-17zm-3 13zm-2 9zm-8-9zm-1-13zm-2 34zm4-1zm0 1zm7-4zm11 11zm4-18zm2 19zm8-15zm15 19zm4 0zm17 1zm3-13zm5-8zm1 7zm6 10zm6-15zm3 5zm3 4zm5 9zm0-21zm5 16zm3 1zm0-6zm5-13zm3 1zm1 8zm2-1zm1 2zm35 10zm44 3zm119 12zm-80 11zm-4-5zm-1-3zm-2 9zm-24-8zm-5 7zm-16-11zm-16 10zm-3 2zm-5-14zm-4 10zm-8-18zm-4 9zm-1-2zm0 5zm-15-3zm-5-10zm-4 10zm0 14zm0-14zm-2-3zm-2-1zm-13 12zm-3-11zm-1-1zm-7 5zm-12 11zm-2-6zm-1-14zm-1 22zm-11-1zm-2-22zm-5 5zm-16 2zm-26-7zm-6 14zm-7 6zm-2 3zm2 18zm1-2zm4-14zm8 16zm6-6zm4 4zm5 5zm3 0zm5-2zm19-17zm1 5zm13 1zm0-6zm9 0zm2 18zm4-5zm10-3zm5 4zm13-4zm13 2zm4-11zm2 3zm1-1zm1 12zm2-17zm2 17zm4-10zm3-1zm9 13zm14-11zm7 13zm1-20zm9 20zm0-12zm12 7zm11-9zm10-1zm66 40zm-18-16zm-51 9zm-14-2zm-3-4zm-2-7zm-7 18zm-8-1zm-5 2zm-4-18zm-7 12zm-1 8zm-1-12zm-1-9zm-13 20zm-2 2zm-2-19zm-1 13zm-6-12zm-2 4zm0-4zm-3-6zm0 1zm-13 12zm-4-13zm-3 14zm-10 8zm-2 1zm0-17zm-4 8zm-3 0zm-1 10zm0-5zm-3-14zm-7 0zm-1-1zm-17-2zm-2 0zm-11 3zm-24 15zm-5-2zm-3-13zm-5-4zm-1 5zm0 15zm-17-13zm-2 15zm-1-20zm-1 4zm-1 35zm9-12zm6 7zm9-5zm13 5zm3-2zm6-9zm1 12zm2-13zm3 20zm3-9zm2 1zm8-8zm4 7zm6 9zm1-10zm2 3zm2 0zm19-13zm1 17zm11-8zm2-1zm7-5zm1 10zm1-2zm5-6zm6 12zm4 2zm13-11zm6 0zm1-3zm3 3zm1 8zm6-2zm1 5zm1-7zm6-6zm6 15zm3-1zm5 2zm10-7zm4 6zm7-12zm8 7zm27 6zm79-20zm-15 26zm-42 0zm-8 17zm-47-17zm-10 4zm-1-9zm-4 16zm-11-4zm-7-9zm-6 13zm-3-6zm-15 2zm0-2zm-4-5zm-3-4zm0 11zm-1 2zm-5 4zm-14-9zm-4 9zm-5-8zm-1 8zm-3-11zm-2-6zm-2 3zm-6 4zm-4-6zm-1 21zm-8-15zm-1-5zm-1 18zm-4-5zm-3-4zm-20-12zm-3 4zm-3 12zm0 2zm-3-7zm-2 3zm-6-11zm-4 3zm0-6zm-3 22zm-9-6zm-6-8zm-2 3zm-1 13zm-1-16zm-5 12zm-1-4zm-5 6zm-3 17zm14 5zm7-5zm2-13zm21 13zm16-15zm5 5zm5 10zm5-14zm8 4zm1 7zm0-1zm5 2zm14-10zm7 9zm2 7zm8-16zm18 8zm2-2zm5-1zm2 0zm3 0zm11 4zm7 8zm3-5zm34 3zm11-7zm34 4zm4-14z"/>
<path d="M2746 1872zm-6 55zm1 1zm54 5zm22 6zm8-9zm22 19zm-4 3zm-4 12zm-12-7zm-8-12zm-8 0zm0 23zm-4-6zm-9 2zm-2-6zm-9 2zm-3-13zm-9 20zm-10-3zm-4-9zm-17 1zm-20 10zm-11 2zm-3-8zm-1 9zm0 1zm12-1zm3 8zm1 7zm7-13zm12-1zm0 8zm2 0zm2 7zm3-14zm5 16zm1-12zm3-6zm3 6zm5 15zm1-16zm0-5zm4 10zm2-9zm4 10zm4 3zm2 4zm6-6zm1-4zm3 6zm4 3zm0-17zm2 0zm0 17zm16-18zm5 15zm3 5zm11-6zm0 1zm10-8zm0 23zm-1 0zm-1-3zm-1 15zm-1-14zm-4 6zm-1 7zm-6-10zm-6 1zm-1 4zm-1 8zm-12-18zm-22 6zm-7 4zm0-9zm-10 9zm-2 9zm-1-16zm-1-1zm-2 2zm0 15zm-6-3zm-6 5zm-8-6zm-1-9zm-2 2zm0 3zm-2 5zm-7 5zm0-18zm-3 18zm-2-8zm-6 1zm-5-12zm-4-2zm0 19zm-3 18zm5 7zm4-16zm2 0zm7 12zm1-14zm3 8zm9 5zm2-14zm3 17zm4-4zm9-15zm8 10zm15-5zm5 13zm4-6zm3 7zm3 2zm1-12zm7 1zm5-6zm2 13zm8-14zm2 17zm1-10zm0-4zm1 7zm4-8zm0 18zm4-22zm2 2zm9 0zm55 18zm52-2zm38 6zm-34 3zm-31 4zm-14 12zm-19-16zm-5 14zm-8-5zm-3-13zm-9 13zm-1-11zm-1 15zm-5-8zm-3 3zm-5 7zm-2-19zm-1 21zm-2-19zm-7 8zm-3-5zm-9 12zm-29-15zm-12 16zm-2-17zm-3 17zm-6 4zm-5-9zm-9-1zm-7-6zm-5 11zm-1-7zm-1 5zm-1 7zm-5-14zm-3 9zm-11 5zm-2-1zm-2 0zm-10 0zm-4-11zm7 34zm0 0zm2-4zm0-5zm3-1zm10-10zm1 16zm2-6zm2-9zm5 12zm9-13zm7 19zm10 0zm1-13zm8-5zm7-2zm7 4zm10 5zm2-3zm9 17zm6-1zm13-21zm5 19zm5 2zm5-12zm1-1zm4-3zm2 11zm8-1zm4 7zm6-13zm1 6zm8-7zm10 7zm2 2zm0-16zm2 7zm7-4zm5 18zm26-12zm42-10zm3-1zm4 4zm50 18zm-16 14zm-30 4zm-39 3zm-7-14zm-8 1zm-15 2zm-9 0zm-2 9zm-10-10zm-4 10zm-6 3zm-5-1zm-2 3zm-5 2zm-1-15zm-1 3zm-2-2zm-8 8zm-3-14zm-1 19zm-9-15zm-3 11zm-21-19zm-3 20zm-6-16zm-3 7zm-1 6zm-18-1zm-4-4zm-2-1zm-2 10zm-5-13zm-8-4zm-1 5zm-8 3zm-2 12zm-5-8zm-1-9zm-6 0zm-1 7zm-18 8zm-2-6zm0-13zm0 5zm-2 12zm-3-4zm-4 2zm-1 3zm-6-11zm0-8zm11 30zm8-6zm2 9zm3-1zm1 9zm7-3zm6-1zm2-11zm4 3zm2 2zm1 1zm1-10zm3 21zm4-14zm1 3zm3 12zm6-3zm4-9zm2 7zm0-4zm1-5zm3 14zm2 1zm3-2zm1-9zm2-2zm1 1zm0 6zm5 5zm11-12zm1-7zm8 7zm1 7zm5-7zm0-4zm1-1zm2 2zm9 3zm3-5zm7 9zm10-7zm2 17zm4-8zm0 5zm2-8zm1-8zm1 15zm0-13zm2 13zm3-13zm1-2zm0 19zm5-5zm2 2zm5-4zm9-15zm3 15zm1-9zm8 7zm3 1zm21 4zm48-15zm47 37zm-26-8zm-38 1zm-21 11zm-25-6zm-1-1zm-19-5zm-4-10zm-3 19zm-6 5zm-9-13zm-11 2zm-3-7zm-1-4zm-5 4zm-5-1zm-2 11zm-1-2zm-5-9zm-1 13zm-11-11zm-3 16zm-13 0zm-1-1zm-9-4zm-5-13zm-3 2zm-1 4zm-2 11zm-8-13zm-12-7zm-6 20zm-11-1zm-4-2zm-4-7zm-2-6zm-1 7zm-3-12zm0 18zm-3-14zm-3 16zm-2-8zm-13-3zm-6 6zm-1-13zm-3 20zm5 17zm1-5zm2 3zm4-2zm5 3zm1 1zm3-8zm4 5zm0-3zm6 5zm4-5zm1-2zm1 7zm12-2zm1 0zm3 6zm20-6zm5-11zm1 3zm1 9zm1-4zm2 3zm3 1zm6-3zm0 4zm13-8zm3 1zm20 5zm2 0zm5-1zm20-5zm6 3zm1 7zm2-4zm2-4zm4 4zm9-2zm16-2zm12 8zm52-1zm2-6zm9 9zm52-17z"/>
<path d="M2753 1900zm-32 38zm41-6zm13-6zm1-1zm6 12zm9 5zm41-4zm6-13zm3 18zm5 11zm-2 6zm-19-1zm-4-8zm-6 8zm-3 4zm-1-3zm-3 1zm-5 4zm-8 0zm-1-20zm0 20zm-12 0zm-1 1zm-6-8zm-18-6zm-4-1zm-26 12zm-5-3zm-5-6zm-4 8zm-4-2zm5 13zm3 16zm1-8zm3-2zm1-6zm1 2zm3-2zm1 7zm5 8zm6-6zm1-1zm7 7zm3-17zm2 18zm2-15zm3 8zm0 6zm1-4zm4-11zm1-2zm3 2zm1 1zm7 3zm0 2zm5 13zm3-23zm8 8zm6 9zm7-15zm6 9zm2-12zm2 20zm6 3zm1-18zm6 16zm4-20zm10 22zm6-4zm1 5zm2 22zm-9-10zm-7 9zm-4-2zm-1 2zm0-8zm-2-2zm-13 7zm-19 4zm-18-5zm-2 2zm-1-18zm-3 5zm-6 12zm0 0zm-3-5zm-3-8zm-1 10zm0-12zm-2 16zm-1-2zm-6-3zm-16 6zm-2-17zm0 16zm-1-14zm-3 9zm-16-13zm1 38zm5-2zm12 11zm7-17zm5 1zm1 10zm22-7zm3-10zm3 7zm1 8zm11-13zm1 17zm4-3zm24 5zm1 0zm0 0zm3-11zm0 8zm10-17zm3 21zm0-7zm0-15zm0 15zm1 6zm5-15zm1 3zm10 7zm1-16zm1 21zm1-7zm172 16zm-106 13zm-4-10zm-4 4zm-23 0zm-2-3zm-12 7zm-16-14zm-12 1zm0-3zm-7 4zm-1 13zm-2-5zm-3-8zm-2 15zm0-2zm-4 5zm-2-10zm-10 8zm-7-18zm-4 12zm-1 7zm-9-4zm-3-13zm-12 6zm-2 12zm-4-7zm-4 2zm-1 0zm-1 1zm-21-4zm-12-2zm-1 3zm-1-16zm-2 10zm0-5zm-4 5zm-7 0zm0 32zm2 4zm2-4zm17-9zm2 0zm8 8zm3-9zm3-8zm5 8zm5 0zm2 14zm5-4zm4-8zm0-2zm1 2zm3-3zm7-3zm0 6zm8 11zm1-12zm7 1zm3 8zm3-6zm5 4zm0-3zm20-9zm1 19zm0 0zm2-5zm3-4zm5-5zm5-5zm2 19zm8-17zm8 11zm2-9zm3-4zm2 11zm1 2zm3-14zm3 12zm1 0zm4-5zm0 9zm11-14zm3 16zm20-7zm13-6zm10 14zm18-12zm73-9zm122 24zm-241 19zm-5-6zm-14-5zm-5 14zm-4-22zm-9 15zm0-6zm-2 0zm-9 10zm-7 1zm-1 0zm-2-2zm-2 0zm-7-18zm-7 10zm-19 3zm-1-4zm-5 3zm-5 9zm-3-5zm-14-9zm-3 4zm-2-4zm-7 1zm0 0zm0-9zm-1 16zm-4-16zm-7 9zm-2-8zm-11 11zm-7 9zm-1-2zm-1-18zm-4 6zm-3 6zm-2 6zm-5-17zm-17 10zm2 35zm13-13zm1-9zm3 13zm0 8zm9-7zm9 7zm0-18zm1 3zm6 4zm12-4zm1 5zm1 7zm10-10zm3-10zm1 15zm24 4zm2 0zm5-7zm6 11zm3-23zm2 8zm2 6zm2 2zm12 3zm2 1zm1-1zm18-15zm6 3zm2 12zm11-17zm2 11zm1-1zm1 2zm3 2zm8-6zm8 6zm31 6zm5-15zm-5 23zm-1 5zm-4-6zm-3 12zm-19-15zm-16 5zm-5 3zm-2-1zm-1-3zm-1 9zm-2-12zm-1 2zm-3 1zm-2 16zm-9-11zm-5-7zm-1 15zm-3-13zm-2-1zm-5 13zm-3 5zm-3-9zm0-12zm-2 9zm-4 10zm-3-4zm-4 6zm-2-4zm-7-8zm0 3zm-4 0zm0-12zm-1 8zm-1 5zm-4-8zm-8-6zm-11 9zm-2-6zm-3 3zm-3 14zm-1-5zm-6 5zm-1-13zm-4 7zm-9 3zm-18-5zm-11-12zm-11 6zm0 16zm-2-10zm-1-6zm-7-4zm-5 3zm13 22zm9 2zm3 0zm3-5zm2 13zm2 2zm2 0zm0-8zm9 0zm5-7zm12 3zm6 7zm9 2zm19-9zm8 1zm5 1zm1 6zm4 5zm1-2zm1-6zm17 9zm16-18zm8 3zm8 2zm2 0zm1-4zm11 3zm14-4zm8 9zm35 1zm138 9z"/>
<path d="M2818 1889zm9 12zm-42 2zm-13-4zm-47 8zm-11 32zm2-2zm2 4zm32-14zm11 6zm70-4zm5 4zm12 28zm-1 3zm-10-3zm-4 2zm-4-12zm-38 15zm-3 0zm-8-5zm-13 7zm-4-4zm-15 0zm0-5zm-2 1zm-4 3zm-2-12zm-4 2zm-22 12zm-4 6zm1 11zm6-2zm2 8zm1-12zm2 3zm2 7zm1 4zm7-21zm18 18zm2-4zm3 4zm9-18zm3 0zm1 2zm5 13zm1 2zm3 4zm13-3zm3-6zm3-2zm5 6zm12-16zm6 21zm4-11zm8 1zm0-3zm0 1zm7 3zm0 6zm1-3zm-4 14zm-9 9zm-3 0zm-7-5zm-4 3zm-2-5zm-7-3zm-5 2zm-4 6zm-14 0zm-6 2zm-1-1zm-1 1zm-3-3zm-4 6zm-2-6zm-8 5zm0-3zm-3 0zm-2 4zm-6-15zm-1 13zm-7-14zm-3 5zm-8 12zm-2-14zm0 1zm-6 8zm-6 8zm-3-21zm0 29zm5 15zm8-12zm0 9zm2-5zm2-6zm2 14zm0-14zm13 9zm3-7zm4-8zm1 13zm4-1zm9 0zm1 7zm3-1zm12 3zm7-9zm0 9zm3-14zm9 10zm2-3zm1-8zm9 8zm7-1zm4 4zm3 3zm1-6zm1 4zm2-6zm2-6zm0 17zm8-16zm5-2zm38 16zm32 0zm115 8zm-27 4zm-24-3zm-10 3zm-27 0zm-3-1zm-11 2zm-7 1zm-14 11zm-1-7zm-19-3zm-1-8zm0 3zm-4-7zm-8 9zm-6 4zm-2-3zm-22 1zm-8 1zm-15 5zm-4 2zm-1 2zm-3-7zm-4-4zm-1 2zm-3-11zm-1 10zm-5-11zm-1 8zm-5 14zm-14 0zm-1-4zm-6-10zm0 10zm-1-15zm-1 0zm-3-4zm-7 17zm-5 5zm-2-9zm-10 1zm0-1zm-2 7zm-8-3zm-2 3zm-6 1zm-2-17zm-6 38zm1-11zm2 12zm3-19zm0 13zm3 8zm1-15zm12 12zm8-1zm6 4zm1-1zm1-11zm11-4zm9 13zm2-14zm6 8zm14 4zm15-15zm1 18zm5-18zm2 6zm10 16zm0-7zm2-8zm8 10zm1-13zm1 16zm2 2zm5-10zm1 7zm0-11zm6 3zm3-4zm5 1zm6 13zm21-15zm7 1zm0-5zm1 15zm7 1zm12-5zm2 5zm9 2zm33-14zm2 9zm2-1zm18 6zm44-15zm14-3zm-117 43zm-2-19zm-8 3zm-2 14zm-2 3zm-4-8zm-5-13zm-9 21zm-7-16zm0-1zm-11-3zm-8 17zm-7-2zm-4-16zm-5 9zm-6-3zm-2-8zm-2 2zm-2 4zm-14 13zm-1-2zm-2-1zm-2 6zm-13-11zm-14-1zm-6-4zm-1 4zm-6 2zm-4 6zm-2-15zm-4 3zm-13 10zm-3-5zm-13 1zm-13 9zm-12 7zm7 10zm1 4zm1 2zm5-8zm2-5zm5 12zm16-9zm0-5zm0-5zm3 1zm1 13zm7 4zm22-5zm4-11zm4 20zm6-21zm7 4zm20 19zm2-21zm3 11zm1 1zm0-5zm0-7zm4 2zm1 11zm1-4zm1 8zm2-2zm5 2zm2 3zm1-20zm2 9zm11-3zm0 13zm8-21zm5 16zm4 4zm2-1zm1 0zm8-16zm1-2zm1 17zm10-3zm3-3zm18-2zm41 9zm13-9zm2-4zm98-5zm-35 23zm-98 2zm-19 5zm-10 16zm-10-19zm-1 15zm-9-20zm-1 9zm-4 15zm-3-9zm-3-14zm-3 16zm0-5zm-20-7zm-8 10zm0-7zm-2-1zm-3 1zm0 2zm-5-5zm-4 18zm-1-8zm-10-14zm-12 22zm-12-22zm-3 14zm-1-8zm-7 14zm-19-6zm-6-13zm0 2zm-2 11zm-5 8zm-21-3zm-1 2zm-3-2zm-3-8zm-7-7zm-3-2zm0 0zm-12 18zm18 12zm6 10zm10-7zm14 4zm2-2zm17 0zm3-4zm11 7zm0 0zm5-14zm0 3zm12 0zm2 1zm3-5zm4-1zm11 7zm2 3zm1-1zm1-1zm2 6zm4-8zm2 3zm7-1zm4 10zm4-3zm6-3zm1 5zm5-13zm2-2zm7 4zm14 6zm15-10zm4 7zm2 4zm2-2zm9-10zm18 16zm24 0zm77-13z"/>
<path d="M2748 1868zm52 15zm33 31zm-16-18zm-57 6zm-39-5zm-11 24zm53 11zm12 6zm7 4zm6-10zm5-9zm14 1zm39 31zm-5 11zm-10-22zm-14 16zm-4-9zm-5 13zm-1-18zm-3 9zm-10 12zm-16-10zm0 0zm-11-10zm-5 7zm-35-4zm-2 16zm-8 1zm-2-22zm4 38zm0 5zm2-8zm1-6zm3 1zm6 8zm0-5zm11 14zm3-22zm3 4zm6-5zm3 16zm4-16zm5 8zm2-3zm0-6zm2 19zm3 4zm3-15zm4 2zm2-2zm2 14zm2 1zm4-11zm2-5zm0 3zm6-7zm4 5zm7-5zm3 2zm8 1zm21-4zm7 16zm-1 12zm-10 6zm-3-6zm-17-5zm0 17zm-8 1zm-1 0zm-1 4zm0-9zm-2-10zm-6 17zm-5 1zm-15-8zm-7 0zm-3 4zm-1 5zm-3-6zm0-17zm-7 13zm-8-12zm-2 19zm-8-6zm-4 10zm-2-24zm-10 11zm-9-11zm-3 10zm-1-5zm-1 13zm1 18zm3 3zm11 6zm6-17zm17 16zm3-16zm8 8zm4 9zm0-5zm2-12zm1 6zm12 5zm5 4zm1-6zm1 3zm1 6zm6-3zm5-18zm0 22zm4-5zm9 3zm1 2zm1-9zm3-12zm10 13zm0-3zm0-7zm1 14zm0 4zm1-8zm4 2zm1 6zm3-4zm3-6zm2-6zm5 10zm3 0zm0 6zm15 0zm37 1zm56 18zm-50-13zm-3 15zm0-2zm-4 3zm-3-10zm-17 4zm-2-7zm-2-7zm-5 13zm-5-9zm-10-2zm-5 19zm-2-9zm0 2zm-4-1zm-2-14zm-4 15zm-6-10zm-3 17zm-7-10zm-2 1zm-3 9zm-4-14zm-3 11zm-3-9zm-6-7zm-4-2zm-3 17zm-4-10zm-4 7zm-15-2zm-3-10zm0 0zm-5 11zm-7 3zm-5-7zm-6-4zm-3 2zm-13-5zm-6 8zm-9-4zm0-5zm0 18zm-3-11zm-1-3zm-1 40zm9 0zm2-10zm16 6zm7-4zm8-3zm6 8zm4-14zm0 6zm4-3zm0 12zm14 0zm0 1zm5-2zm1-11zm4 9zm4-15zm2 10zm1 8zm1 0zm1 2zm11 2zm7-15zm11 13zm10-13zm4 9zm13-12zm3 6zm2-5zm2-7zm0 16zm7 4zm7-6zm11-6zm1 10zm11 2zm4-20zm19 8zm13 14zm19-11zm-1 16zm-11 6zm-4 10zm-1-2zm-30-1zm-8-5zm0-5zm-3 15zm-1-3zm0-8zm-5 13zm-3-14zm-15-1zm-2 12zm-11-17zm-10 18zm-12-1zm-1-19zm-2 7zm-6 12zm-13 0zm-15 2zm-3-5zm-18-15zm-19 6zm-3-3zm-2-4zm-2 14zm-6-3zm-7 1zm-4-2zm-1-5zm-6 10zm-11-1zm-3-2zm-1 11zm2 3zm4 4zm2 15zm2-19zm9 12zm2 0zm2 3zm10-4zm2-6zm7 13zm5-5zm2-1zm20 5zm5-5zm2 1zm5-2zm2-10zm6-3zm3 6zm4-4zm8 5zm1-1zm10-3zm13 11zm6-2zm0-4zm5 1zm1 14zm14-20zm6-2zm6 6zm18-3zm2 11zm7 5zm0-17zm11 11zm3-4zm4 13zm7-19zm4 4zm52 9zm20 4zm100 24zm-146-1zm-2 0zm-20-5zm-27 0zm-10-8zm-1-7zm-1 10zm-1-1zm-6 0zm-6 11zm-16-15zm-3 17zm-8-5zm-9-2zm0-7zm-1-8zm-3 17zm-2-14zm-5 1zm-7-5zm-1 23zm-1-23zm-5 4zm-5 2zm-1 4zm-2-9zm-1 6zm-4 11zm-5-4zm-2-12zm0 10zm-11-1zm-14 13zm-4-14zm-8 8zm0-1zm-1-5zm-2 11zm-2-23zm-2 21zm-2-18zm-16 4zm0 13zm-1-1zm-2-10zm-1 0zm0 8zm-7 5zm0-14zm-2 1zm-8-3zm-2 8zm-3 1zm-10-1zm1 11zm0 3zm26 0zm16-3zm15 5zm0-3zm4 9zm12-5zm1 13zm5-10zm2-9zm4 6zm3-1zm1 11zm1-2zm4-11zm8 8zm8-5zm0 4zm26 2zm3-7zm11 12zm1-16zm1 14zm7-4zm8 2zm14-4zm16 4zm6-9zm29 10zm86-12z"/>
<path d="M2818 1910zm-35-2zm-25-3zm-37 31zm10 4zm10 2zm5-3zm3 1zm6-3zm8-2zm5 8zm76-5zm-6 22zm-22-3zm-1-4zm0 3zm-1 10zm-10-2zm-17 3zm-1-16zm-8 1zm-7 11zm0-18zm-3 17zm-17 4zm-21-6zm-4-14zm-2 15zm-4 4zm-5-10zm-6 33zm1-1zm7-16zm7 21zm2-18zm2 5zm5 4zm5-7zm3 4zm2 8zm14-9zm10 8zm1-11zm0 0zm5 7zm7 6zm7-13zm19 13zm4-8zm5 6zm2-11zm14 0zm0-3zm14 3zm3 8zm-1 31zm0-5zm-1-13zm-7 18zm0-7zm-4-7zm-6-7zm-6 11zm-1-7zm-3 8zm-13 4zm-4-1zm-8-8zm-7 6zm-7-12zm-3 13zm-7 4zm-5-16zm-2 2zm-3 10zm-1-12zm-3-3zm-1 17zm-6 3zm-17-11zm-9 10zm0-3zm-6 24zm8 4zm4 2zm4-10zm4-4zm3-6zm8 20zm10-8zm3-10zm1 4zm0-7zm0 18zm9-4zm4 1zm3 3zm7-19zm10 11zm9-8zm3 16zm2 1zm7-16zm5-2zm0 5zm4-7zm6 19zm7-6zm2-14zm3 8zm66 16zm101 2zm-54 3zm-36 7zm-9-10zm-3 12zm-1 9zm-13-12zm-6 12zm-16-18zm-7 13zm0-11zm-4-5zm-7 4zm-2 11zm-2-8zm-7 13zm-8-13zm-3-2zm0-1zm-14-1zm-10 10zm-4-9zm-1 17zm-7-18zm-2 14zm-2-6zm-6 11zm-9-16zm-5 16zm-3-3zm-1-13zm-25-5zm-3 7zm-4 9zm-11-11zm-8 0zm-8 22zm4 9zm2-4zm2 4zm3-9zm1 10zm4 5zm4 1zm6-12zm7-2zm6-4zm3 10zm1 7zm2-11zm4-5zm1 14zm0-4zm6 7zm11-17zm10 3zm4 5zm1-4zm8 4zm2 0zm4-1zm0 0zm1-3zm6-7zm3 10zm0 3zm3-9zm15 7zm4 6zm1 5zm4-2zm1-4zm0-7zm2-8zm9 5zm1 11zm2 1zm5-5zm5 0zm5-1zm8 9zm9-14zm0-7zm6 17zm4 4zm3-20zm28 0zm5 3zm7 9zm3 1zm16-13zm-36 43zm-8-13zm-2 2zm-6-11zm-1 4zm-8 14zm-10-4zm-1 4zm-2-5zm-19 1zm-1 6zm-4-5zm-4-11zm0 9zm-7 6zm0-12zm-1-2zm-8 3zm-8 11zm-1-1zm-1-2zm-2 3zm-3-11zm-7 6zm0-7zm-6-2zm-2 4zm-6 15zm-8-16zm-1-6zm-3 1zm-12 17zm-2-14zm-13 5zm-6 6zm-7-13zm-1 11zm-16 3zm-1-7zm-3-8zm-1 6zm-1 3zm-1-7zm-4 17zm-1-3zm-3-16zm-2 20zm0-13zm-7 1zm-1 2zm-1-5zm10 25zm12 7zm2-4zm1-8zm6 12zm8 3zm0 5zm2-20zm2 14zm0-8zm13-3zm4-7zm4 10zm3 6zm13 2zm0 3zm3-15zm0 12zm11-2zm0-7zm3-6zm4 6zm1 1zm11 0zm1-8zm2 21zm4-7zm3 0zm1-5zm0-10zm4 7zm4 9zm3 4zm14-5zm3 3zm3-3zm9-16zm6 3zm8 11zm3-9zm20 2zm2 12zm33-10zm20 13zm153 17zm-104-11zm-38 2zm-42 7zm-14 9zm-15-19zm-11 6zm-5 2zm-15 2zm-4-2zm-3-6zm0 14zm-8-10zm-1 5zm0 8zm-13-11zm-1-9zm-2 10zm-3-9zm-5-3zm-5 3zm-2 10zm-14-3zm-2 13zm-8-17zm-7 7zm-6-13zm-1 20zm0-9zm-5-10zm-1 8zm-1 1zm-6-5zm-5 7zm-1 0zm-15 11zm-8-23zm-3 8zm0-6zm-1 3zm-4 16zm-1 2zm-4-3zm-12 0zm-9-3zm-4 4zm17 8zm5 13zm9-5zm2-6zm1-4zm1 3zm15-5zm0 0zm1 18zm3-6zm5 3zm7-2zm14 1zm11 0zm5 1zm9-4zm11-7zm1 8zm15 4zm17-5zm2 1zm7 7zm3-4zm8 2zm2-16zm1 17zm1-2zm6 2zm0-17zm5 13zm21-13zm4 13zm29-15zm11 19zm2-4z"/>
<path d="M2726 1844zm-17 73zm52 22zm20-3zm67 26zm-9-9zm-3 13zm-13-6zm-10-1zm-4 4zm-14 4zm-9-17zm-1 7zm-5-3zm-9 14zm-4-2zm-19-13zm-2-1zm-7-5zm-1 4zm-6 11zm-7-4zm-2 6zm-5-1zm-7-15zm-3 32zm5 11zm6-12zm2-5zm1 4zm4 13zm1-18zm1 9zm4-4zm4-8zm14 0zm1 14zm15 2zm1-9zm3-7zm2 12zm0-1zm3-9zm0 9zm5 2zm16-5zm12-10zm3 23zm2-14zm2 8zm17 4zm2-3zm5-1zm4-9zm0 0zm3 4zm-2 23zm-1 1zm-14 8zm0 2zm-9-17zm0 9zm-7-5zm-4-1zm-1 14zm0-2zm-9-11zm-7-4zm-1 15zm-7-19zm-5 10zm-14-7zm0 9zm-3-4zm-3 15zm0-8zm-6-14zm-4 15zm-3-17zm-1 9zm-2-1zm-17-5zm-2 3zm0-5zm-3 18zm-8-16zm0 20zm-4-4zm3 29zm8-23zm1 13zm2-8zm4 10zm2 2zm1 1zm2-7zm1-9zm2 1zm5 12zm2 2zm0-9zm2-9zm7 21zm1-20zm2 7zm9 13zm2-6zm2-14zm1 8zm18-7zm0 7zm1 11zm4-14zm2-3zm1 8zm1-7zm2 1zm1 12zm7 0zm5 7zm1-2zm8 1zm1-22zm3 15zm4-13zm1 2zm2 5zm2 13zm3-3zm4-12zm1-2zm0 15zm2-10zm8 10zm41 1zm2 0zm51 1zm-16 21zm-5 1zm-18-17zm-8 10zm0 1zm-4-5zm-1-4zm-5 8zm-19-10zm-6 6zm-1 2zm-9 8zm-3 1zm0-17zm-5 17zm-2-19zm-4 2zm-3-3zm0 13zm-1 4zm-6-8zm-2-4zm-1 4zm-2-7zm-3 11zm-6-12zm-4 11zm-1-4zm-7 3zm-4 2zm-4 1zm-3 2zm-4 7zm-13-9zm-3 2zm-1-15zm-8 21zm-1-11zm-3 1zm-4-11zm-7 13zm-4-3zm-5-2zm-6 7zm-4-1zm-2-2zm-16 1zm0 14zm3 5zm2 10zm16-1zm6-8zm4-11zm11 6zm2 18zm7-16zm11 13zm6-2zm23-9zm3 13zm1-3zm3-1zm1 5zm1-20zm5 5zm0 7zm5 6zm5 0zm29-10zm1 4zm1-5zm6-1zm2 13zm8-17zm8-1zm36 4zm2-5zm14 0zm16 19zm9-2zm24-18zm10 26zm-76 16zm-3-15zm-4 6zm-8 4zm-8-13zm-8 16zm-1-3zm-8-7zm-2 7zm-3 2zm-3-6zm-6 0zm0 6zm-4-17zm-1 2zm-5 2zm-1 11zm-2-10zm-4-3zm-13 8zm-8 11zm-8-18zm-6-1zm-14 3zm-4 15zm0-8zm-5-2zm-4-5zm-2 5zm-3-3zm-3 11zm-12-9zm-8-3zm-1 11zm-3-8zm-5 5zm0-11zm-1-3zm-1 20zm-3-18zm-1 17zm-1-2zm-1-1zm-3-16zm-10 0zm-16 7zm8 28zm3 11zm7-6zm3-3zm1-4zm1 12zm4-14zm2 4zm0-6zm8 16zm0-20zm7 10zm1 7zm5 1zm0-3zm5 1zm6-4zm4-6zm14-5zm1 4zm4 13zm5-19zm0 6zm6 15zm1-3zm0 5zm8-24zm10 14zm1-6zm3-8zm7 14zm4-8zm0 5zm9-6zm11 8zm5-5zm13 6zm0-4zm10 10zm3-9zm5 13zm0-6zm2-14zm1 6zm8-4zm2 17zm5-18zm24 19zm-6 5zm-10 18zm-2-10zm-7-9zm-2 18zm-9-6zm-5-4zm-2 4zm-22 6zm-3-12zm-15-8zm-3 21zm-4-3zm-5-10zm-9 6zm-3-13zm-2 12zm-11 6zm0-11zm-11 8zm-12-10zm-7 6zm-1 5zm-14-13zm-14 3zm-2 13zm-2-18zm-2 0zm0 2zm-1 5zm-2-2zm-1 14zm-1-7zm-9-7zm0 6zm-2 2zm-1-13zm-2 3zm-4-2zm-13 23zm8-2zm6 15zm3-6zm2 0zm3-3zm1-6zm15 6zm2-2zm4 4zm19-7zm4 13zm18-10zm3 3zm5-4zm1 1zm8-3zm1 0zm1 9zm1 0zm3 5zm10-2zm5-6zm6 6zm5-1zm3-1zm9-13zm7 16zm4-11zm2 14zm2-8zm1-2zm4-7zm17 15zm4-1zm7-3zm13-6zm4 7zm82-4z"/>
<path d="M2800 1876zm43 17zm-41 21zm-13-17zm-15 13zm-5-2zm-50 15zm1 16zm5-17zm65 22zm0-6zm6-3zm36-5zm12 9zm1 21zm-3-2zm-23-6zm-8 13zm-6-8zm-1 4zm0 5zm-6-7zm-3 2zm-7 0zm-8 4zm-7-12zm-7 5zm-39 1zm-4-4zm0 8zm-6 5zm0 24zm2-16zm3-4zm2 7zm2-8zm1 4zm0 13zm2-20zm7 2zm2 19zm1-14zm7 7zm5 3zm5-9zm12-7zm4 12zm8-5zm4-7zm0 7zm6-8zm16 10zm5-10zm2 20zm1 2zm5-14zm3 9zm1-16zm8 22zm0-16zm12 17zm2-4zm1-2zm-2 18zm-6-7zm-4 15zm-11-10zm-3 5zm0 2zm-2-15zm0 5zm-2 1zm-5 8zm-2 0zm-1 0zm-6-14zm-2 13zm-3-1zm-1 3zm-7-8zm-15-6zm-1-3zm-5 2zm-1 11zm-1-11zm-2-1zm-1 18zm-1-5zm-3 3zm-13 0zm-1 6zm-4-11zm-3 11zm-8-14zm-1 14zm-14-5zm-2 2zm0-12zm-4-4zm2 40zm1 3zm2-6zm12-7zm0-1zm2-6zm6 15zm3 0zm7 4zm9-18zm0 16zm7 1zm2-19zm4 1zm0 13zm7-12zm0 9zm5-7zm2 11zm8 0zm7-11zm3 7zm0 5zm2 5zm0-15zm2 6zm3 1zm15-14zm26 3zm44 37zm-8-7zm-5 11zm-10-13zm-3-6zm-4 12zm-8-13zm-2 1zm-3 0zm-2 15zm-2 2zm-4-1zm-2-9zm-11 6zm-2 5zm-7-8zm-6 9zm-7-19zm-1 3zm-1 4zm-1-3zm-6 9zm-1 4zm0-9zm-5 2zm0 2zm-15 7zm-1-6zm-2-10zm-6 6zm-1 0zm-4 1zm-21-9zm0 7zm-7-2zm-9 5zm-7 5zm0-7zm-6 28zm3 8zm13-17zm0 17zm0-21zm2 17zm1-14zm0-5zm3 22zm5-4zm2 2zm8-12zm8-4zm4 7zm2 7zm4-5zm0 4zm2-7zm2 6zm2 4zm6-9zm2 12zm0-3zm11-5zm1-1zm1-13zm1 18zm4 2zm4-2zm1-11zm2 3zm17-4zm1 11zm6-13zm7 10zm2-1zm3-8zm2 13zm0-12zm9 10zm0-2zm5-14zm3 8zm4 10zm2-6zm7-11zm8 7zm8-7zm0 4zm18 2zm13-1zm7-6zm13 10zm50 5zm1-5zm9 29zm-27 0zm-7-12zm-10 1zm-62 0zm0 5zm-1 12zm-6-12zm-5 12zm-2-7zm-6 1zm-1 5zm-11-5zm-2-6zm0 0zm0-10zm-2 2zm-3 1zm-3 15zm-1-16zm-5 1zm-16 2zm-12 13zm-20-11zm-9-4zm-10 10zm-2-10zm-1 3zm-1 10zm-4-16zm-3 9zm-11-7zm-1 3zm-1 2zm-9 6zm-1 8zm-1-2zm-16 0zm-3 3zm-10-2zm16 15zm3 9zm8-11zm1 6zm2-5zm5-5zm1 14zm2-4zm4 3zm4 1zm8-17zm4 19zm0-15zm2-1zm1 4zm3 12zm2-16zm3-3zm1 18zm4-3zm22-5zm1-3zm2-5zm2 6zm1-4zm1-1zm3 18zm0 0zm1-6zm2-7zm12-9zm0 23zm2-13zm12 3zm2-4zm5 12zm0-2zm1-8zm0 4zm0 2zm2-8zm0-3zm2-7zm4 17zm0-10zm19-2zm12 12zm13 4zm8-12zm12 14zm10-20zm40 27zm-10-5zm-25 20zm-7-20zm-7 3zm-17 14zm-5-15zm-16 19zm-4-3zm-1-11zm-2-3zm-5 16zm-3-8zm-11-7zm0 8zm-2 1zm-10-8zm-3 17zm-1-9zm0 3zm-3 6zm-8-18zm-9-3zm-5 9zm-1-3zm-8 11zm-2-18zm-1 7zm-1-2zm-1 5zm0-2zm-3-7zm0 0zm-4-1zm-1 14zm0 3zm-6-14zm-6 2zm-5 12zm0-9zm-7 14zm-3-1zm-9-4zm-1-13zm-1 6zm-18-12zm-1 1zm-6 20zm0 1zm-7-21zm-2 18zm-11-12zm-3 12zm-2 2zm0-3zm2 17zm4 9zm17-19zm10 15zm9-8zm0 2zm10-6zm0 16zm17-2zm0-6zm15 6zm7-17zm4 3zm10 16zm9-16zm3 3zm2 9zm1 3zm11-11zm0-3zm0 8zm4-2zm3-7zm3 6zm21-8zm9 8zm2 10zm2-13zm5-1zm5 12zm12 2zm15-10zm15-1z"/></g><g transform="scale(0.25)" fill="none" stroke="#000" stroke-opacity=".3" stroke-width="13.2" stroke-linecap="round" stroke-linejoin="round"><path d="M3892 970zm-186 205zm-23 1zm-33 50zm-53 40zm4 53zm-28 12zm-63 18zm-57 56zm-22 19zm-160 129zm117 9zm-108 41zm-16 6zm-84 12zm-79 68zm77 3zm-21 30zm-44-17zm-98 47zm26-12zm74-6zm47-1zm35 19zm-41 1zm-4 7zm-4 7zm-137 8zm-71-19zm32 30zm170 36zm-3-13zm-39-8zm-117 18zm16 17zm10-11zm34 2zm4 11zm19 6zm7-7zm-99 22zm-27-2zm-1-7zm-2 10zm-7-8zm-70 30zm3 11zm25-5zm0 4zm46-12zm10 9zm27 0zm37-8zm37-7zm-36 43zm-87 1zm-3-7zm-8-5zm-13 4zm-2 0zm-14 8zm-18-16zm-13 10zm-8 20zm24 7zm4-10zm11-4zm3 8zm8-2zm12 11zm6-21zm10 19zm29-7zm2-4zm11 12zm21-11zm52 9zm-35 9zm-44-3zm-2 14zm-47-8zm-17 10zm-10-13zm-1 17zm-14-5zm-8-8zm-14-3zm-2 34zm2 7zm6-20zm3 5zm1 5zm14 11zm28-17zm28 0zm55 7zm13-11zm14 13zm34-12zm-82 34zm-12 8zm-5-19zm-6 22zm-26 0zm-38-11zm-6-11zm-3 19zm-19-18zm-1 19zm0 2zm-2-5zm0 4zm-1 7zm5 10zm1 2zm2 0zm2-10zm0-1zm3-6zm5 1zm12 13zm5-2zm10-6zm1 10zm12-14zm7 12zm29-2zm2 5zm26-15zm18 15zm7-12z"/>
<path d="M3566 1273zm-8 9zm120 30zm-144 56zm-55 17zm-135-5zm128 52zm-106 35zm-38 5zm-14 50zm-29 11zm-76 22zm15-17zm123 24zm-151 35zm109 23zm-136 9zm-42-7zm95 16zm93-5zm-141 27zm-82 12zm52 23zm7-9zm11 17zm46-18zm-153 34zm-57 29zm13-16zm80 39zm-40-15zm-156 17zm110 16zm7 2zm77-11zm151 40zm-144-20zm-47 22zm-24-3zm-93-13zm0 8zm26 21zm18-6zm6 14zm42 4zm59-6zm4-13zm-79 41zm-9-8zm-48-11zm-86 31zm7 5zm11 0zm14-9zm42 9zm32-3zm10-10zm10 18zm102 21zm-6-14zm-88 11zm-56 4zm-89 23zm13-8zm2-5zm14 13zm7 7zm2-22zm32 11zm18-8zm86 24zm-61 8zm-15 11zm-42-4zm-8-11zm-4 1zm0 7zm-42 23zm1-10zm3 9zm13-12zm2 9zm4 3zm2-6zm1-1zm4 0zm3 0zm6 6zm6-1zm2-10zm11 11zm24-2zm44-6zm114 23zm-154 13zm-17-17zm-13 22zm-4-18zm-10 18zm-21-9zm-8 5zm-7-7zm-5 5zm-5-11zm-6 27zm3 4zm1-1zm4-4zm4-4zm0 13zm1-4zm10 3zm4-5zm18 8zm5-16zm2 17zm4-4zm1-12zm2 15zm45-1zm7-7zm35 1zm38-8z"/>
<path d="M3493 1301zm103 25zm-55 14zm-90 33zm25 66zm-93 28zm64 51zm-159 109zm-128 23zm44-2zm74-8zm5-1zm-177 37zm-72-18zm271 46zm-41 14zm-7 0zm-19 2zm-89-14zm-10 5zm-36-2zm164 25zm-116 41zm-40-19zm-71 14zm-9 10zm55 39zm-23-10zm-10 0zm-29 8zm-59 4zm-35-7zm21 16zm15-3zm36 3zm109 24zm-47-1zm-39 0zm-14 3zm-25 15zm-76-1zm-22 7zm10 4zm8 12zm60 1zm12-2zm7 3zm11-22zm4 7zm27-4zm43 1zm-4 35zm-93-3zm-21 7zm-31-3zm-22-6zm-18-3zm-3-6zm-13 14zm-4-10zm-6 3zm-8 12zm24 6zm6 11zm21 1zm18-13zm6 13zm18-3zm4 12zm10-24zm34 11zm7-9zm48 19zm-34 22zm-44 0zm-44-17zm-12 18zm-33-1zm-1-14zm-6 8zm-2 12zm5 19zm1 3zm1-9zm0-11zm1 0zm0 12zm13-10zm12 17zm4-4zm5-14zm0-2zm16 4zm5 11zm4-13zm3 19zm5-4zm9-16zm10-1zm67 22zm-25 23zm-67-17zm-29 11zm-14-6zm-13 0zm0-9zm-1 5zm-7 11zm-4-5zm-1 11zm-1-13zm-1-4zm-1 16zm-5-7zm-2 3zm-4-7zm-1 7zm-7-19zm1 32zm1-1zm2 7zm3 2zm0-13zm1 12zm38-12zm21 0zm16 11zm42-11zm78 0z"/>
<path d="M3829 1083zm-95 101zm-14 33zm-113 60zm-34 78zm-111 70zm-87 9zm59 42zm-12 0zm-6 9zm-124 37zm50 25zm-151 63zm-83 12zm62 92zm-30 13zm-132 5zm157 16zm-111 7zm-7 12zm-8-8zm-36 14zm33 22zm1-2zm2-8zm33 0zm23-9zm98 13zm-32 14zm-31 0zm-45 3zm-5 4zm-54 14zm-37-13zm-11 12zm-34-1zm-63-21zm56 32zm12 8zm69-15zm24 21zm15-17zm34 4zm-66 24zm-7 1zm-3 10zm-11 3zm-20-7zm-17-9zm-16-7zm-93-1zm-7 29zm52 6zm10 6zm41 1zm15 0zm8-11zm14 5zm0 5zm39-16zm14 15zm-4 20zm-18-10zm-13 9zm-22 2zm-74 10zm-13-8zm-14 3zm-10 3zm-25-19zm13 37zm18 2zm12 5zm7-2zm13-6zm2 2zm43-11zm4 13zm54 0zm79-17zm-65 29zm-62-4zm-61 16zm-23-7zm-7 0zm0 4zm-9 2zm-3-6zm-13-8zm-6 28zm5 1zm1 11zm17 3zm1-21zm15 16zm2 2zm14-17zm1 9zm14-10zm1 11zm4-5zm3-2zm4 6zm42 0zm5 14zm-19 17zm-1-17zm-6 11zm-36 1zm-16-5zm-11 2zm-15-3zm-2 10zm-10-10zm-6 4zm-1-10zm-4 18zm2 14zm6-9zm1 5zm3-3zm5 16zm1-10zm1-1zm12-2zm2-2zm1 1zm2 6zm2 1zm15-2zm12-7zm25 16zm10-13zm2-2zm6 16z"/>
<path d="M3468 1376zm-50 9zm-129 115zm115 1zm-58 17zm-97 31zm-144 58zm39-7zm102-14zm40 22zm92-21zm-236 61zm51 1zm-162 31zm68 17zm76-2zm38 33zm-57-5zm-46-12zm-51 19zm53 10zm3-4zm6-6zm-48 31zm-20 9zm-127 12zm113 0zm39 7zm10-12zm59 5zm4 8zm90 9zm-119 23zm-62-3zm-32-5zm-35-6zm-118 11zm119 7zm1 7zm1 5zm-20 32zm-19-3zm-26-13zm-14 7zm-13 9zm-8-17zm-8-3zm-36 11zm8 27zm26 3zm6-11zm24 2zm4-8zm39 19zm57-6zm11 1zm2-14zm24-1zm68 2zm-44 27zm-28 16zm-6-19zm-17-2zm-5 9zm-54 3zm-1 1zm-86-11zm-16 30zm4-7zm59-2zm11 21zm50-12zm39 10zm121-9zm-114 21zm-95-3zm-1 13zm-3-11zm-20 4zm-9 1zm-11 8zm-11 4zm-4-9zm-13-10zm-7 19zm-9-15zm-1 36zm4 1zm10 2zm6-9zm5 6zm18-14zm37 0zm23 1zm15 2zm34 0zm38-7zm-3 28zm-35 15zm-11-2zm-20-10zm-8 10zm-35-13zm-33 4zm-6 0zm-27-9zm-2 19zm-5 0zm-9-4zm4 8zm2 11zm2-2zm0 0zm7-4zm4 8zm21 1zm30-2zm5 6zm5-17zm4 2zm4 13zm13-3z"/>
<path d="M4241 654zm-200 163zm-270 300zm-97 130zm-120 93zm-164 99zm22 24zm-89 29zm16-4zm118 10zm-117 65zm-192 55zm145 42zm-19 8zm-17-9zm-24 21zm-77 7zm7 29zm-11-1zm-127 16zm57 11zm150 17zm-6 16zm-127-4zm-139 1zm-34-12zm31 28zm13-5zm1 6zm19-5zm31 15zm111 0zm-95 22zm-17-7zm-11-1zm-18-5zm-85 12zm20 20zm112-15zm6 19zm56-16zm-13 23zm-23 9zm-32 1zm-33-10zm-16 16zm-64-4zm-1-9zm-4 10zm-20 4zm-7 2zm-28-3zm-2-8zm12 24zm23-9zm4 9zm5-2zm25 11zm15 3zm30-22zm28 18zm21-5zm28 1zm104-11zm-142 33zm-29-13zm-10 12zm-14-5zm-35 12zm-5-4zm-4 3zm-9-14zm-17 13zm-33 11zm0 10zm1-12zm8-2zm1 17zm4-7zm8 2zm2 11zm21-17zm13 12zm12-10zm49 16zm1-14zm2 4zm43-4zm-11 25zm-42 10zm-67-6zm0-10zm-11 16zm0-17zm-2 15zm-3-19zm-1 3zm-8 11zm-14 8zm-13 13zm3-10zm3 20zm1-2zm1-10zm0 13zm4-1zm2 0zm12-3zm1 1zm15 4zm15-17zm20 7zm15-6zm19 0zm5 13zm22 8zm-73 12zm-6-5zm-2-6zm-3-5zm-7 22zm-15-19zm-5 17zm-6-14zm-8 2zm-4 4zm-2-10zm0 13zm-5 7zm-1 16zm0-10zm1 3zm1-7zm1 15zm8-12zm0 11zm0-11zm40 5zm9-4zm1 0zm8 0zm26 9zm78 3zm19 1z"/>
<path d="M3653 1239zm-147 126zm-52 21zm39 47zm-26 2zm-86 12zm83 21zm-86 35zm39 14zm-23 32zm-137 68zm-78 2zm-27-9zm28 29zm1 35zm-14 10zm125 8zm-139 14zm-39 20zm-25 12zm40 5zm46 8zm20 15zm-52-11zm-11 15zm-1-6zm-21-4zm-39 12zm-27 1zm-12-10zm8 24zm11 9zm20 26zm-85-21zm9 45zm49-6zm9-11zm57 20zm-21 21zm-62-6zm-45-2zm-33 4zm-16 5zm-14-13zm0 5zm-40-9zm41 32zm39 5zm86 5zm4-19zm12-3zm4 19zm-57 6zm-45 5zm-5-8zm-16 21zm-45-15zm-15-6zm-29 42zm29 1zm0 3zm7-17zm17 9zm40-11zm4-2zm64 2zm19-1zm-45 39zm-42-16zm-49 13zm-18-10zm-1 1zm-17 0zm-13 38zm2-12zm12 5zm25 2zm7-8zm10 7zm61 10zm18-13zm9-8zm59 18zm55-4zm-134 22zm-33-7zm0-6zm-5 22zm-18-9zm-2 6zm-2-11zm-5-4zm-1-3zm-3 5zm-31-2zm-4 4zm-4 14zm0-9zm-18-13zm0 34zm0-4zm2-5zm1 2zm1 5zm1-8zm8 0zm3 1zm6 15zm9-1zm2-15zm8 4zm6 12zm8-11zm41-4zm57 8zm17-3zm58 0z"/>
<path d="M3771 1086zm-94 96zm-98 176zm-66 56zm-144 8zm-42 26zm31 2zm148-9zm-235 55zm105 13zm-164 36zm85 0zm7 13zm33-9zm63 57zm-302 13zm153 41zm-91 17zm-86-3zm-56 5zm47 19zm15 2zm40-13zm41-3zm10 10zm5-2zm9 9zm64-6zm15-2zm18-3zm-110 21zm-149 25zm113-7zm91 2zm-35 22zm-64 20zm-29-2zm-56-12zm-2 13zm-88-4zm-21-13zm0 32zm80-3zm57 15zm17-16zm87 7zm18-12zm-142 40zm-119-3zm25 19zm7 1zm97 10zm116-20zm-209 36zm-80-5zm-27 39zm2-14zm75 4zm13-6zm4-4zm32 18zm2-16zm18 16zm51 17zm-31 9zm-34-15zm-45 7zm-8-13zm-58 18zm-21-3zm-12 28zm22-8zm3-4zm24 15zm2-14zm2 5zm12-15zm29 7zm4 12zm30-6zm13-7zm53 34zm-70 2zm-1 5zm-34-3zm-4-14zm-6-5zm-3 5zm-3-2zm-27 17zm-6-11zm-16 9zm-12-18zm-3 10zm-1-8zm-7 25zm1 18zm0 1zm14-14zm1-5zm9 13zm0-1zm11-3zm1-2zm17 13zm10-2zm10-11zm62-4zm40 29zm-10-8zm-9-1zm-52 8zm-22 10zm-19 1zm-9-20zm-11 4zm-1-4zm-8 5zm-13 16zm-2-9zm-15-13zm-5 1zm-1-2zm-2 15zm8 25zm7-3zm7-8zm1 8zm0 1zm8 4zm2 0zm12-14zm16 6zm67 8zm8-11zm14-5zm76 1z"/></g></g>
<g clip-path="url(#c3)"><path d="M150.0 1063.8L156.8 1063.7L163.6 1063.5L170.4 1063.4L177.3 1063.3L184.1 1063.1L190.9 1062.9L197.7 1062.8L204.5 1062.6L211.3 1062.4L218.1 1062.3L224.9 1062.0L231.8 1061.8L238.6 1061.5L245.4 1061.2L252.2 1060.9L259.0 1060.5L265.8 1060.2L272.6 1059.8L279.5 1059.5L286.3 1059.1L293.1 1058.8L299.9 1058.4L306.7 1057.9L313.5 1057.5L320.3 1057.0L327.1 1056.4L334.0 1055.8L340.8 1055.3L347.6 1054.8L354.4 1054.3L361.2 1053.9L368.0 1053.4L374.8 1052.9L381.6 1052.3L388.5 1051.7L395.3 1051.1L402.1 1050.4L408.9 1049.6L415.7 1048.7L423.8 1050.9L431.8 1052.5L441.9 1054.1L451.9 1055.4L472.1 1056.7L492.2 1057.0L512.3 1057.3L532.5 1058.6L542.5 1060.2L548.0 1062.2L548.0 1064.1L542.5 1064.1L532.5 1064.1L512.3 1064.1L492.2 1064.1L472.1 1064.1L451.9 1065.7L441.9 1067.4L431.8 1068.0L423.8 1068.0L415.7 1068.0L408.9 1068.0L402.1 1068.0L395.3 1068.0L388.5 1068.0L381.6 1068.0L374.8 1068.0L368.0 1068.0L361.2 1068.0L354.4 1068.0L347.6 1068.0L340.8 1068.0L334.0 1068.0L327.1 1068.0L320.3 1068.0L313.5 1068.0L306.7 1068.0L299.9 1068.0L293.1 1068.0L286.3 1068.0L279.5 1068.0L272.6 1068.0L265.8 1068.0L259.0 1068.0L252.2 1068.0L245.4 1068.0L238.6 1068.0L231.8 1068.0L224.9 1068.0L218.1 1068.0L211.3 1068.0L204.5 1068.0L197.7 1068.0L190.9 1068.0L184.1 1068.0L177.3 1068.0L170.4 1068.0L163.6 1068.0L156.8 1068.0L150.0 1068.0Z" fill="#000"/><path d="M539.5 925.8L540.1 922.5L540.7 918.8L541.3 914.6L541.9 910.0L542.5 905.2L543.1 899.9L543.7 894.3L544.3 888.2L544.9 881.4L545.5 874.8L546.1 869.2L546.4 865.7L546.4 863.5L546.4 861.3L546.4 858.9L546.4 856.4L546.4 853.8L546.4 850.9L546.5 847.7L546.5 844.3L546.8 840.7L547.0 836.8L547.2 832.6L547.5 828.0L547.7 823.1L548.0 817.7L548.2 811.8L548.4 805.0L548.7 796.4L548.9 786.5L549.1 775.8L549.4 764.9L549.6 753.8L549.8 741.4L550.1 729.1L550.3 718.6L550.5 709.5L550.8 700.9L551.0 693.1L551.3 686.2L551.5 680.3" fill="none" stroke="#000" stroke-opacity=".34" stroke-width="3.1"/><g fill="none" stroke="#000" stroke-width="3.6" stroke-linecap="butt"><path d="M410.0 1050.3L412.7 1049.9L415.5 1049.5L418.3 1049.1L421.0 1048.6L423.8 1048.0L426.6 1047.4L429.4 1046.8L432.1 1046.2L434.9 1045.5L437.6 1044.8L440.4 1044.1" stroke-opacity="0.8"/><path d="M440.4 1044.1L442.3 1043.6L444.1 1043.0L446.0 1042.5L447.8 1041.9L449.7 1041.3L451.5 1040.7L453.3 1040.1L455.2 1039.5L457.0 1038.9L458.8 1038.3L460.6 1037.7" stroke-opacity="0.62"/><path d="M460.6 1037.7L462.4 1037.1L464.3 1036.6L466.1 1036.0L468.0 1035.4L469.9 1034.8L471.8 1034.1L473.7 1033.2L475.7 1032.2L477.6 1031.1L479.5 1029.9L481.3 1028.6" stroke-opacity="0.42"/><path d="M481.4 1028.5L483.2 1027.2L485.0 1025.9L486.8 1024.7L488.6 1023.4L490.5 1022.1L492.4 1020.8L494.2 1019.3L496.1 1017.9L497.9 1016.5L499.8 1014.8L501.7 1013.1" stroke-opacity="0.28"/><path d="M501.8 1012.9L503.8 1010.8L505.7 1007.8L507.6 1004.3L509.4 1001.1L511.1 998.8L512.9 996.5L514.9 993.6L516.7 990.3L518.6 986.7L520.4 983.2L522.2 979.8" stroke-opacity="0.17"/><path d="M522.2 979.8L523.2 978.0L524.1 976.2L525.0 974.4L525.9 972.6L526.8 970.8L527.8 969.0L528.7 967.1L529.6 965.2L530.5 963.2L531.5 960.9L532.4 958.4" stroke-opacity="0.12"/><path d="M532.5 958.3L533.2 956.0L533.9 953.4L534.7 950.7L535.4 947.7L536.2 944.5L536.9 941.2L537.6 937.8L538.4 934.3L539.1 930.7L539.8 926.9L540.6 922.8" stroke-opacity="0.2"/></g><g transform="scale(0.25)" fill="none" stroke="#000" stroke-opacity=".11" stroke-width="16.8" stroke-linecap="round" stroke-linejoin="round"><path d="M2206 2739zm-10 465zm-6 274zm-14 18zm4 27zm-3 19zm0 34zm12 13zm-11-1zm-3 59zm-25 153zm11 1zm5 37zm-3 5zm5 18zm22 17zm-65 40zm0 28zm28 27zm-23-9zm-78 26zm57 29zm-6-9zm-11 21zm-77 22zm126-12zm-62 25zm-30 8zm-60 0zm84 16zm45 8zm0-4zm29 1zm39 3zm-137 22zm-125-3zm2 25zm53-10zm10-3zm122 22zm12-9zm16 14zm-184 0zm-3-3zm-5 8zm-51-7zm-7 20zm-11-7zm-7-11zm-57 11zm-9-7zm-15 15zm-105 19zm24-1zm3-2zm16-5zm6 0zm0 0zm10 6zm4-1zm13-8zm13 9zm19 1zm27-15zm40 3zm63-4zm55 21zm42-5zm170-4zm-20 20zm-50 13zm-7-5zm-52-1zm-69-1zm0 7zm-29-8zm-15 8zm-18-10zm-1 10zm-6-5zm-11-15zm-29 20zm-19-2zm-18-11zm-1 9zm-21-6zm-36 4zm-23-3zm-11-5zm-26 1zm-45-1zm-6-2zm-10-2zm-34-2zm41 40zm268-15zm125 2zm55 7zm37-3zm-62 35zm-67-6zm-5 4zm-33-6zm-25 0zm-87-2zm-2 12zm-10-9zm-4-2zm-18 6zm-15 2zm-35 0zm-125-18z"/>
<path d="M2201 2994zm-14 644zm2 92zm-4 0zm-2 48zm-7-6zm-30 29zm16 15zm-34 12zm-13 48zm-14 35zm86 7zm-47-2zm-44 6zm26 15zm67 3zm2 10zm-20 29zm-29-5zm49 19zm-32 32zm-95-10zm-14 13zm-19-5zm131 31zm26 22zm-97-2zm-98 1zm-36 15zm36 13zm12-19zm109 7zm24 15zm-1 10zm-151 3zm-27 7zm-5-2zm-104 25zm81-4zm44 4zm0-19zm58 30zm-142 10zm-26 4zm-3-1zm-4-5zm-16-15zm-5 3zm-1 2zm-2-2zm-56 20zm-13-3zm-65 19zm26 3zm27-17zm15 15zm57 0zm5-4zm11 2zm19-9zm2 8zm63 0zm27 10zm41-14zm34 12zm22 2zm39-5zm7 4zm83 21zm-94-10zm-17-1zm-57-7zm-7 13zm-21-5zm-32 9zm-31-11zm-4 11zm-27-8zm-3 11zm-8-16zm-29 0zm-29 9zm0-10zm-10 10zm-11 5zm-20-15zm-33 0zm-18 7zm-25-5zm-6-2zm-5 8zm-10-4zm-15 9zm2 18zm15-6zm201-5zm16 6zm15-1zm127-4zm17 4zm28 4zm20-7zm56 10zm23 10zm-11 16zm-28-4zm-31 10zm-124 3zm-3-14zm-59 0zm-11 12zm-48-9zm-19 9zm-34-10zm-6 5zm-16-2zm-18-5zm-111 5zm0-14z"/>
<path d="M2194 3170zm-14 276zm12 36zm-13 59zm10 21zm0 61zm-14 41zm-5 109zm-32 33zm9-6zm-25 61zm9 50zm28-7zm16 29zm-3-4zm-61 6zm61 12zm16 37zm-37-1zm4 11zm4 17zm-40 10zm-1-10zm-61 1zm15 28zm58-1zm1 3zm-8 25zm-65-8zm-73 11zm-12 9zm-16 16zm30 7zm166 9zm-30 0zm-1-5zm-148 20zm-1-12zm-40-2zm-23 16zm-17 13zm6 2zm95 5zm148 2zm45 1zm-25 22zm-33 3zm-48-15zm-110-7zm-123 11zm-12-10zm-1 21zm-7-12zm-28 4zm-143 31zm60-3zm8-7zm11 5zm43-11zm30-2zm2 3zm1-4zm23 14zm12-2zm32-14zm57 19zm10-5zm18 7zm26-11zm43-10zm59 18zm57 18zm-33-4zm-77 3zm-13 2zm-21 9zm-2-5zm-41-6zm-8-8zm-50-4zm-42 18zm-32-16zm0 12zm-4 4zm-1-5zm-14-1zm-19-1zm-7 4zm-1-13zm-3 0zm-14 4zm-4-5zm-22 3zm-14 2zm-15 4zm-26 9zm-1-11zm-16 0zm-3 27zm7-9zm9 6zm2 2zm189-10zm151 0zm96 1zm7 8zm40 1zm16 6zm0 18zm-8 0zm-35 6zm-23-4zm-33 9zm-19-11zm-16 0zm-3 9zm-8-1zm-5 1zm-5-5zm-17 6zm-80-10zm-73 0zm-3 7zm-41-4zm-21-1zm-23 5zm-5 3zm-4 1zm-89-18z"/>
<path d="M2193 3196zm-8 348zm1 38zm-2 20zm-16 40zm-15 100zm27 45zm-1 10zm-17 60zm-21 28zm-38 5zm14 6zm66-4zm-74 37zm-17-13zm47 22zm37 23zm-72 8zm4 16zm33 10zm-21 33zm-43-4zm-6-4zm-5-10zm10 36zm115-6zm-20 21zm-143 18zm-46-4zm-2-1zm-15 25zm104-11zm11-5zm35 23zm-152 15zm-22-3zm-33 9zm-28 19zm102 5zm8-10zm103-12zm33 16zm-100 7zm-48 17zm-42-14zm-31 3zm-18 6zm-6-9zm-24 4zm-14-6zm-30 20zm-10-3zm-4-5zm-143 32zm1 2zm24-4zm24-4zm10-5zm8 10zm25 0zm20-3zm12-7zm29-7zm27 5zm24 4zm13 11zm16-11zm12-10zm3 22zm15-5zm16-16zm27 17zm34-10zm68 4zm114-11zm-17 28zm0 13zm-29 3zm-41-15zm-112 6zm-10-11zm-27 11zm-6-7zm-37-5zm-5 2zm-3 15zm-3-17zm-35 13zm-6-2zm-7 9zm-5-4zm-15-12zm-45 12zm-8-2zm-20-13zm-3 5zm-53 7zm-3 7zm-16-15zm-3 9zm-3-4zm-1-9zm1 44zm3 0zm17-19zm215 0zm173 2zm3-2zm37 5zm-28 26zm-94 5zm-3 5zm-7 0zm-23-6zm-17-3zm-4-3zm-17 3zm-6 6zm-35-4zm-21 3zm-34-8zm-40 11zm-120-14z"/>
<path d="M2200 2896zm-9 569zm-8 78zm-14 137zm-4 119zm10 2zm-35 55zm3 0zm15-9zm27 16zm-35 31zm-27 32zm-53 34zm11-14zm82-4zm-117 56zm6-9zm50 11zm12-13zm35 17zm35 9zm-39 6zm-97-3zm-40 36zm88-11zm45-6zm-147 25zm-15 12zm-35 26zm9-3zm37 7zm113-5zm82-6zm-109 28zm-18-3zm-153 11zm-53 18zm80-2zm12 7zm163-2zm56 8zm-13 0zm-130 9zm-25 7zm-11-8zm-61 8zm-75-20zm-3 23zm-26-16zm-8 3zm-126 36zm47-2zm6 0zm3-11zm3 6zm2 2zm9-15zm1 2zm5 12zm7-3zm24-8zm3-1zm15 2zm15-2zm10 4zm49 5zm14 8zm3 3zm68-7zm217 2zm-23 19zm-3-5zm-2 13zm-63-5zm-38 1zm-114 1zm-3-1zm-25-15zm-8 18zm-93-13zm-2 9zm-14 6zm-6-7zm-34-9zm-20-1zm-14 1zm-13 2zm-2-8zm-10 6zm-10 8zm-12 8zm-10-3zm-34-20zm0 2zm34 24zm224 1zm33 2zm22-3zm89-2zm46 2zm31 4zm69 12zm2 28zm-13-2zm-19 0zm-3-6zm-33 1zm-25-1zm-5 3zm-20-8zm-14 3zm-14-2zm-47 11zm-25-7zm-37-4zm-19 13zm-5-4zm-18-3zm-24 6zm-12-6zm-9 1zm0-5zm-35 0zm-31 2zm-8-3z"/>
<path d="M2195 3176zm-3 53zm-7 304zm-11 108zm-3 185zm-41 31zm40-11zm-54 65zm50-20zm-37 43zm-21 6zm68 19zm-13 7zm-35 13zm-7-10zm-63 10zm-44 75zm6-7zm23-6zm57 7zm1 4zm79-5zm-47 31zm-30-1zm-6-5zm-6-2zm-5 1zm-134 27zm10-2zm13 4zm56 3zm14-12zm-107 15zm-20 11zm-56 27zm15-2zm20-11zm36 20zm148-5zm33 13zm-196 4zm-23 10zm-11 1zm-24-18zm-43 16zm-2-3zm-28 4zm-2-1zm-135 25zm1-1zm16 0zm28-1zm41-14zm14 10zm5-2zm4 4zm14 5zm3-6zm2-15zm13 8zm0-7zm1 1zm13 1zm18 6zm19-5zm1 13zm13-9zm0 2zm21 5zm174-10zm72-1zm-13 23zm-32 1zm-3 14zm-52 3zm-82-12zm-44 2zm-49 2zm-2-10zm-4-3zm-13 10zm-22 0zm0 10zm-8-6zm0-13zm-6 8zm-17 0zm-29 1zm-3 3zm-3-1zm-10-11zm-12 1zm-7 3zm-31 0zm-5 37zm2-6zm0-11zm319 3zm45-2zm39 3zm69 41zm-26-5zm-13-1zm-19 6zm-12 1zm-11-7zm-15-7zm-37 9zm-7-10zm-30 13zm-2-6zm-41-6zm-23 4zm-6-1zm-2 9zm-2-11zm-11 10zm-18-1zm-1-10zm-6 6zm-7-6zm-20 5zm-25-5zm0 10zm-147-11z"/>
<path d="M2185 3620zm-11 11zm0 39zm-25 74zm13 32zm1 61zm-14-11zm18 22zm11 36zm-60-14zm-21 37zm7 26zm-8-6zm45 94zm-121 23zm58-12zm19 35zm-89-2zm-12 11zm25 23zm74-4zm84-13zm-82 37zm-86 6zm-8 3zm-18-13zm-14 1zm-17 7zm-90 27zm3-8zm25 1zm4 3zm34 0zm8-15zm14 19zm9-2zm5-14zm47-2zm12 10zm1 7zm112-5zm-84 26zm-143-10zm-64 15zm-22-6zm-3-10zm-8 6zm-148 32zm23-2zm5 4zm5 0zm12-3zm7-11zm10 10zm6-8zm17 9zm4-3zm10-5zm12-3zm4-6zm4 0zm52 16zm19 1zm8-5zm14-1zm12 3zm75-8zm10 12zm70-12zm3-7zm22 7zm26 0zm44-7zm0-1zm-29 23zm-2 20zm0 2zm-50 1zm-89-8zm-41 8zm-57-10zm-16-5zm-2 2zm-12-5zm-12 6zm-3-3zm-20 1zm-33-7zm-34 7zm-104-9zm38 46zm4-9zm194-10zm4 2zm20 0zm109 1zm5 0zm76 3zm73 2zm14-5zm17 41zm-34-11zm-43-2zm-1 9zm-30-7zm-13 0zm-2 11zm-41 0zm-47-5zm-37-2zm-1 7zm-14 0zm-33-10zm-10-2zm-14 3zm-26-1zm-55 8zm-3-2zm0-8zm-9-1zm-16 3zm-89-6z"/>
<path d="M2200 2975zm-2 28zm-3 89zm-19 451zm13 89zm-21 29zm-7 200zm13 15zm-56-6zm19 25zm-21 23zm-4 6zm-38 34zm2-11zm3-8zm7 18zm80 14zm-57 3zm-41 6zm-35 24zm48-17zm28 9zm-117 70zm-8 11zm-3-5zm78 29zm17-16zm65 26zm-27 4zm-37 6zm0-11zm-5 5zm-42 0zm-28-1zm-7 6zm-21 5zm-24-6zm-6-15zm-102 46zm57-18zm31 3zm13 10zm55 4zm57-18zm72 14zm45-1zm11-7zm-73 29zm-34 5zm-10-13zm-4 3zm-26 10zm-25-4zm-69-1zm-57-5zm-43 5zm-19-6zm-17 9zm-151 28zm43-4zm1 2zm6 3zm2-6zm2 4zm4-4zm2-2zm11 6zm26-7zm0-10zm3-3zm2 5zm6 8zm14 0zm8-11zm31 0zm26-1zm31 8zm1-2zm30 0zm24 16zm37-13zm82 11zm142-4zm-64 22zm-70 0zm-38 4zm-80-14zm-3 17zm-31-5zm-11-1zm-5-1zm-9 1zm-1 4zm0-4zm-4-12zm-12 10zm-4-4zm-19 2zm-12 9zm-11 0zm-3-6zm-10 9zm-17-18zm0 8zm-3-1zm-3-8zm-3 7zm-4 4zm-35-4zm-3 1zm-21-9zm-41 15zm-3 18zm2 9zm12-11zm215-9zm27 0zm17 1zm67 42zm-17-8zm-7 2zm-8 0zm-1 2zm-49-1zm-17-3zm-7 10zm-54-13zm-64 5zm-18-5z"/>
<path d="M2203 2908zm-5 63zm-1 125zm-13 302zm-3 134zm9 59zm-9-4zm-7 35zm4 17zm-7 29zm-6 60zm-3 2zm-13 54zm20 21zm12 24zm-10 39zm-60 13zm-8 27zm23-8zm24 33zm-18 11zm1 12zm37 16zm-80 18zm89 14zm-34 27zm-9-8zm-24-13zm-16 41zm31-15zm45 10zm-23 31zm-82 16zm21-11zm78 16zm-25 24zm-74-13zm-14 14zm-15-8zm-44-4zm-34 17zm-41-11zm-73 33zm1 2zm1-2zm11-1zm12 1zm25-17zm3 16zm7-3zm6 4zm55-18zm6 18zm11-13zm124 13zm72-2zm8-9zm-15 15zm-145 16zm-8 0zm-7-12zm-153 16zm-5-4zm-6-2zm-19-8zm-18 3zm-159 35zm1 1zm51 0zm0-4zm5-3zm8-8zm13 8zm7-10zm15-2zm2 7zm3 10zm2-18zm1 6zm1 12zm33-10zm59 5zm1 4zm58 1zm6-17zm21 3zm25 17zm69-5zm145 1zm10 19zm-5-13zm-8 13zm-9 5zm-5-4zm-69 3zm-2-3zm-33-8zm-34 1zm-16 2zm-8-1zm-6 11zm-13-7zm-14 2zm-25-6zm-8 12zm-10-3zm0-11zm-10-8zm-8 1zm-22 5zm-6 12zm-9-5zm-4-12zm-11 17zm-8-13zm-2 3zm-2 14zm-6-3zm0-5zm-7-10zm-7 14zm-11-15zm-20 20zm-1-10zm-24-10zm-13 7zm-8 2zm-31-5zm-2-2zm-9 1zm-9-3zm-13 11zm-5-6zm-9 10zm-30-16zm27 40zm14-6zm217-10zm59 3zm9-1zm13-2zm22 4zm24 2zm51 0zm8 2zm3 0zm0-2zm37 3zm31 5zm6-11zm8 9zm18 0zm-69 22zm-18 2zm-115 6zm-17-6zm-22-3zm-11 4zm-28 6zm-3-11zm-20 2zm-8-1zm-13 13zm-45-1zm-4-10z"/>
<path d="M2190 3550zm-9 14zm-14 97zm0 59zm6 11zm9 34zm0 32zm-19 37zm-22-6zm26 37zm-46 16zm-10 3zm2 13zm23 11zm3-5zm-7 46zm37 21zm-83 6zm-5-11zm20 21zm41 19zm9 16zm-65 20zm79-9zm-96 39zm-34-10zm-30 4zm-5 35zm15 0zm4 2zm16-19zm93 20zm8-12zm32-11zm-2 40zm-143 1zm-56 4zm-47-4zm-25 14zm14 10zm5-13zm40 15zm42-16zm131 20zm12-7zm35-7zm2 26zm-28 4zm-52-14zm-67 18zm-57-3zm-16-10zm-18-4zm-37 2zm-10 4zm-39-2zm-1 14zm-9-12zm-25 0zm-6 0zm-146 40zm43-6zm8-5zm5 0zm19 0zm18-4zm4 7zm15 3zm1-17zm20 2zm6 14zm15-7zm17-9zm5 14zm11 0zm45-9zm11 7zm24 1zm4 9zm66-15zm5-5zm14 18zm33-13zm53 6zm39 13zm-2 17zm-13-9zm-20-7zm-44 4zm-6 14zm-32-20zm-31-2zm-8 3zm-3 16zm-28-7zm-12 3zm-79 2zm-44-16zm-3 1zm-26 15zm0 6zm-4-5zm-8 3zm-2-7zm-8-9zm-11 12zm-14-5zm-8 0zm-22-6zm-7-2zm-2 1zm-2-4zm-17 6zm-12 14zm-9-11zm0 1zm-37-11zm40 32zm5-6zm0 16zm151-17zm93 2zm46-2zm13 4zm73-5zm2 3zm10 2zm25 2zm4 2zm66 25zm-5 4zm-12-5zm-1-1zm-31 8zm-37 2zm-12-4zm-4 6zm-22-9zm-2 10zm-5-9zm-23 5zm-7 5zm-23-8zm-27-3zm-51 3zm-37 5zm-12-3zm-181-7z"/>
<path d="M2199 2886zm2 81zm-22 688zm11 132zm-45 9zm24 7zm-42 40zm65 11zm-9 31zm-19-13zm-41-3zm64 21zm-43 23zm-68 49zm-22 19zm-14 21zm119 28zm-62-14zm-58 2zm-24 36zm51 5zm-73 17zm-14-3zm0 7zm-1-2zm-13 8zm53-5zm-10 25zm-103 22zm-32 20zm9 1zm40-10zm14-6zm6 16zm4-10zm45 10zm137-9zm14 8zm45 26zm-80-2zm-170-15zm-70 15zm-10-20zm-1 6zm0-3zm-11 12zm-26 1zm-3-4zm-5 4zm-21 1zm-135 31zm24-4zm18-4zm9 3zm3-4zm3 0zm13-2zm1 3zm6-5zm15-5zm3 12zm24-16zm1 11zm2-9zm15 20zm27-23zm1 7zm7 6zm23 4zm19-9zm17-9zm10 13zm38 6zm39 3zm23-3zm93 4zm78-4zm24-6zm-47 32zm-8-15zm-14 15zm-59-3zm-67-3zm-62 7zm-7-19zm-3 17zm-18-4zm-23-14zm-53 15zm-28-16zm-16 17zm-2-1zm-9 3zm-6-4zm-10-9zm-1-2zm-11 4zm-12-4zm-5 4zm-8-2zm-7-6zm-15 4zm-5 2zm-7 13zm-5 2zm-4-21zm-5 3zm0 1zm-10 22zm3 1zm168-4zm12 2zm109 1zm127 1zm58 10zm4-14zm30 10zm7 12zm-26 14zm-21 9zm-2-3zm-1-4zm-16 9zm-8-3zm-57-7zm-9 8zm-28-1zm-42 4zm-58-10zm-4 4zm-20-6zm-20 9zm-2-7zm-14-1zm-13-1zm0 4zm-8 1zm-18-6zm-5 5zm-10 5z"/>
<path d="M2203 2741zm-9 459zm-10 191zm2 133zm2-5zm3 84zm-12 125zm-10-7zm-3 30zm19 54zm-1 75zm-56 21zm48-6zm-55 20zm-30 9zm41 12zm30 24zm-102 16zm20 45zm-40-9zm-17 21zm-28 28zm-50 36zm115 7zm66-18zm11 0zm-142 28zm-8-9zm-30 7zm-31 5zm-45 21zm9-1zm12 10zm48-8zm11-4zm14 10zm13 5zm45-20zm146 20zm-147 5zm-22 16zm-13 3zm-23-16zm-21 3zm-16 0zm-31 11zm-43-19zm-15 12zm-28 0zm-6 3zm-11-3zm-6 7zm-11 0zm-137 26zm28-5zm6 1zm11 5zm3-3zm22-4zm15-2zm24-10zm28-3zm22 6zm44 13zm5-17zm30 15zm8 2zm63-3zm26 1zm5 3zm96-6zm102 12zm-24 8zm-62 0zm-38-10zm-29 12zm-2 5zm-16 6zm-7-8zm-86 4zm-48 4zm-31-9zm-34-5zm-70-8zm-1 11zm-3 0zm-11-9zm-6 0zm-9-2zm-17 5zm-4 1zm-7-1zm0 3zm-4 3zm-6 7zm-6-1zm2 14zm2 7zm3 7zm178-22zm8-1zm122 2zm46 6zm56 0zm16-5zm24 11zm42-7zm11 33zm-8-5zm-22 10zm-12-8zm-34-3zm-13 10zm-7 1zm-11 0zm-24 1zm-66-7zm-2 6zm-21-5zm-6-6zm-31 13zm-2-3zm-33 3zm-39-8zm-1 0zm-31 2zm-38 5zm-109-6z"/>
<path d="M2181 3521zm3 154zm-16-3zm-4 21zm19 60zm-25 59zm-8 5zm-3 2zm-14 14zm46 28zm-30 23zm-32-5zm7 11zm44 3zm13 14zm-21 22zm-61-8zm-7 85zm36-10zm-82 12zm-8 3zm-22 39zm55-15zm119 32zm-3 0zm-118-7zm-54 0zm-8 1zm-7 9zm-13-1zm-42 34zm88-4zm15-1zm70-5zm20-8zm-51 37zm-12-7zm-72-1zm-58 5zm-18-6zm-6 12zm-66 22zm14 1zm17-9zm7 9zm6-3zm142-12zm6 6zm18 5zm-76 19zm-55-10zm-25 11zm-11 10zm-50-16zm-3 0zm-3-3zm-12 0zm-19 8zm-24 9zm-131 25zm26-5zm8 3zm6-2zm1 5zm9-4zm15-7zm8-3zm11 0zm6 10zm6-1zm3 4zm2-19zm4 18zm30-12zm8 8zm6-7zm29 9zm21 1zm122-8zm147 9zm56 23zm-56-2zm-21-6zm-5-7zm-48 0zm-54 15zm-1-16zm-8-2zm-32 20zm-17 1zm-43-2zm-20-7zm-18 5zm-11-13zm0 6zm-9-6zm-15-3zm-21 12zm-38 4zm-2-3zm-11-11zm-2 8zm-20-9zm-25 1zm-1 0zm-24 2zm-10 36zm0 0zm4-15zm3-1zm2 5zm4-3zm3 0zm207 4zm9-7zm183 11zm81 4zm7-15zm-2 46zm-9-1zm-6-6zm-10 6zm-9 2zm-8-7zm-60 3zm-9-11zm-8 6zm-56-4zm-45 0zm-12 4zm-17 9zm-26-6zm-18-3zm-13 3zm-3-3zm-35 6zm-3-6zm-4 3zm-3-4zm-59-1zm-1 6z"/>
<path d="M2184 3556zm-8 100zm1 39zm-15 18zm10 75zm-19 20zm1-14zm29-2zm-15 47zm-29-9zm-13 13zm31 29zm-36 24zm-21 33zm71 41zm-48-3zm67 60zm-77-13zm4 39zm-26 4zm-13 18zm-35-2zm-5-13zm-85 38zm16-6zm147 12zm56-7zm13 26zm-104-5zm-82-4zm-11-7zm-41-3zm-16 19zm-7-9zm-67 35zm9-7zm12 5zm24-17zm59 10zm8 0zm143 4zm-144 25zm-52-1zm-12 0zm-2-14zm-27 20zm-11-10zm-4-10zm-65 12zm-18 7zm-101 22zm16-2zm23-7zm1 10zm3-9zm11 2zm1 10zm18-4zm3-10zm1 2zm17-6zm9 17zm14-22zm8 19zm5 2zm2-6zm24-1zm31-11zm20 13zm127-14zm2 4zm76 2zm17 10zm74-5zm8 27zm-15-3zm-67 9zm-51-17zm-94 16zm-57-15zm-13-5zm-15 19zm-12 2zm-9-9zm-25 0zm-7 3zm-26-2zm-1-2zm-13 2zm-20 0zm-16-1zm-8-3zm-15-1zm-18-2zm-17-3zm-1 17zm-3-11zm-2 5zm-11 18zm6 2zm185-8zm63-1zm59 2zm56 2zm10-2zm20 8zm7-6zm2 0zm31-4zm49 11zm28 27zm-23 2zm-31 2zm-16-4zm-14-2zm-66 7zm-28-5zm-93-2zm-32 9zm-3-10zm-35-4zm-8 12zm-2-9zm-34 1z"/>
<path d="M2202 2836zm-15 534zm-5 163zm1 20zm-8 43zm1 22zm-15 126zm-14 74zm-10 2zm30 55zm-26-4zm-25 26zm-9 31zm-69 83zm5 24zm39 20zm43 0zm-144 25zm-2-3zm-30 20zm42-17zm126 40zm-76 3zm-26 1zm-101-2zm-36 28zm8-1zm107-9zm58 11zm57-2zm-444 47zm12 3zm30-7zm8-2zm14 4zm6 3zm7-13zm6-4zm1 3zm1-4zm7-2zm5 22zm27-20zm2-1zm21 11zm51 1zm2-6zm126 15zm126-19zm32 8zm35-4zm1 6zm-108 13zm-17 19zm-46-12zm-17 4zm-51 2zm-9-11zm-2 8zm-1-7zm-50 5zm-8 2zm-8 10zm-19-2zm-13-3zm-24-6zm-3 10zm-8-18zm-4 14zm-23 1zm-4 1zm-9-2zm-1-10zm-12-5zm-9 11zm-1-7zm-2-4zm-43-1zm0 14zm-1 1zm-8-4zm-15-11zm-2 0zm-32 1zm-11-1zm-2 2zm45 42zm157-18zm2 0zm78 2zm5-5zm178 1zm30 10zm36 2zm21 33zm-4-13zm-13 4zm-4 1zm-11 6zm-34 0zm-3-12zm-75 15zm-68-12zm-3 9zm-8 2zm-1-5zm-8 1zm-52-6zm-14 3zm-20 8zm-88-1z"/>
<path d="M2201 2879zm-8 266zm-31 629zm-16 10zm6 54zm-10 12zm6 34zm-25-20zm5 28zm2-1zm49 5zm-61 23zm12 30zm45-10zm10 0zm-37 28zm-50 13zm-12-8zm-25 2zm99 17zm-68 38zm-15-19zm-50 34zm59-11zm19 22zm79 16zm-46-10zm-125 9zm-4-9zm-27 13zm-19 22zm14-14zm15-1zm65 3zm27 17zm78 9zm-41 0zm-74 4zm-117-1zm-85 36zm11 1zm46-2zm76-2zm125 4zm11-6zm49 4zm16 22zm-336-3zm-3-12zm-1 10zm-16 0zm-7 4zm-21-2zm-5 7zm-7-2zm-114 27zm30-9zm1 6zm31-4zm2 0zm3-7zm1 15zm2-9zm5 8zm7-22zm16 12zm19-3zm10-9zm18 8zm1 8zm18-11zm17 4zm12 7zm7-16zm13 22zm13-5zm48-5zm8 2zm43-2zm21-1zm1 0zm171 30zm-8-4zm-9 2zm-9 5zm-18-2zm-55-3zm-63-5zm-7-3zm-6 3zm-2 1zm-23-3zm-58 7zm-6 1zm-35 1zm-34-4zm-11 0zm-33 3zm-8-3zm-18-12zm-3 15zm-6-8zm-7-7zm-16 11zm-18-5zm-23 2zm-25 9zm-2 2zm-2-15zm-3 16zm-15-8zm-27-12zm30 40zm0-11zm16-4zm139 0zm65-2zm38 3zm45 0zm11 2zm17-2zm38 1zm27-5zm15 8zm8 4zm84-4zm19 1zm-1 38zm-9-4zm-53 3zm-51-9zm-10-3zm-68 12zm-4 1zm-41-14zm-14 2zm-3 11zm-38 1zm-68-8zm-24 0zm-7 2zm-8-5zm-35 10zm-84-19zm-2 1z"/>
<path d="M2184 3397zm8 175zm-17 16zm7 14zm-33 165zm2-8zm12 4zm-20 48zm-1 13zm-6 30zm48-3zm-73 51zm-38 44zm103 8zm-115 52zm5-19zm93 9zm4-11zm-10 38zm-91 47zm-24-2zm-68 31zm118-4zm41 2zm49-7zm-74 35zm-60-15zm-102 12zm-88 24zm24-8zm0 2zm11 8zm0-4zm18 2zm3-1zm6-16zm127 3zm36 12zm94 8zm-91 14zm-4 6zm-9 2zm-64-19zm-4 5zm-84-2zm-21-6zm-12 8zm-25 10zm-2 6zm-8-16zm-10-4zm-1 0zm-18 8zm-131 35zm19-7zm13-5zm31-7zm10 8zm8-9zm1 14zm17-16zm2 16zm27 0zm6 5zm1-16zm2-3zm27 20zm9-5zm147 4zm80-18zm1 10zm68 0zm21 0zm-45 11zm-3 15zm-19 7zm-117 0zm-23-4zm-18-2zm-22-10zm-4 2zm-27 7zm-4-5zm-6-11zm-18 22zm-13-1zm-18-4zm-15-7zm-47 2zm-9 4zm-17-16zm-14 8zm-8-3zm-16-5zm-13 8zm-28-4zm-4 2zm-6 1zm2 38zm1-20zm7 0zm5 13zm168-13zm10 0zm68-1zm65 7zm34 0zm56-7zm45 3zm3 1zm11 3zm7-4zm31 18zm12-19zm-25 46zm-4-6zm-11 3zm-1-1zm-24-11zm-15 12zm-6 0zm-8 3zm-56-8zm-7 2zm-11-9zm-160 1zm-6 12zm-2-7zm-9 0zm-8 8zm-4-11zm-54-2zm-26 1z"/>
<path d="M2204 2727zm-1 114zm-8 328zm-8 369zm2 26zm-23 136zm20 24zm-29 28zm20 21zm-22 29zm2 79zm-7-15zm-33 10zm74 14zm-120 62zm83 16zm-47 9zm-33 19zm79-8zm23 32zm-10 9zm-2-15zm-73-1zm-6-4zm-53 10zm18 27zm47-3zm29 25zm-44-9zm-16 6zm-19 10zm-11 4zm-1-12zm-22-11zm-19 16zm75 20zm54 3zm14-8zm36-5zm0 34zm-15-4zm-2 7zm-136 2zm-86-5zm-29 13zm210 19zm0-2zm-98 26zm-42-18zm-41 11zm-81 5zm-7-9zm-17 4zm-11 10zm-34-7zm-68 32zm6-8zm18 7zm12-6zm41-15zm3 2zm10 16zm24-11zm9-8zm58 2zm30 10zm3-12zm40 13zm172 13zm-48 5zm-43 15zm-148-9zm-8 9zm-6 0zm-41-1zm-8-15zm-10 13zm-24-11zm-22 12zm-8-20zm-12 0zm-8 19zm-10-4zm-23-7zm-32 1zm-10 6zm-5-11zm-10 6zm0 34zm1-15zm1 14zm3-12zm8-4zm3 7zm184-7zm14-3zm8 5zm37-1zm99-2zm74 6zm14-7zm74 40zm-3 5zm-19-3zm-36-8zm-9 6zm-7-4zm-12 3zm-39-4zm-8-3zm-5 6zm-3-4zm-51 7zm-89-9zm-29 9zm-2-3zm-50 6zm-5-8z"/>
<path d="M2203 2741zm2 146zm-6 163zm-14 338zm-1 4zm-2 45zm8 59zm-14 53zm8 77zm-12 32zm7 75zm-11-5zm-14 1zm1 38zm-39 104zm49 39zm3 16zm-96 33zm2-9zm42-11zm9 15zm43 6zm-111 41zm9 3zm9 1zm5-7zm104 20zm-20 5zm-131-1zm-1 6zm-17 19zm6 9zm25-18zm9 15zm19-9zm-78 21zm-13 18zm34 1zm85 20zm15-4zm53-19zm15 36zm-101 10zm-54-5zm-53 3zm-45-17zm2 31zm13 9zm45-9zm33 3zm12 9zm52 0zm43-19zm48 32zm-39-9zm-22-2zm-18 20zm-20-15zm-137-3zm-9 17zm-47-3zm-66 3zm-2-11zm-2 10zm-41-2zm-10 7zm-107 22zm2-1zm10 3zm12-4zm16-4zm2 0zm10 2zm18 1zm17-5zm4-7zm7 8zm16-5zm19 1zm4-3zm0-4zm24 12zm36-1zm7-9zm31 4zm7 2zm14-11zm12 6zm14 13zm41 3zm21-14zm42-3zm36-3zm61 0zm38 22zm-109 9zm-4 2zm-34 2zm-44-9zm-28 18zm-5-6zm-9 1zm-59 3zm-14-11zm-21 14zm-18-13zm-7-2zm-31-6zm-12 12zm-4-7zm-2 8zm-1-12zm-30-3zm-1 3zm-5-2zm-4 3zm-23 4zm-3 0zm-26-8zm-8 2zm0-2zm-12 19zm-2 5zm3 16zm10 3zm183-17zm29-2zm2 4zm30-1zm9-2zm10-2zm21 8zm40-1zm63-3zm0 2zm13 5zm1-1zm105 2zm-13 28zm0 4zm-4-3zm-7 3zm-10-11zm-34 13zm-41-1zm-28 0zm-74-4zm-43-4zm-27-1zm-15 7zm-12-2zm-8 5zm-7-1zm-88-11zm-107 0z"/>
<path d="M2204 2727zm-6 394zm-11 499zm-17 57zm-1-3zm-10 71zm-17 51zm14-1zm16 37zm-33 61zm17 12zm-27 20zm-9 21zm-6 27zm-3-8zm-19-5zm-28 25zm22 1zm11 17zm-67 35zm56 11zm82 24zm-179 7zm-34 13zm6 2zm75 4zm24-10zm60 6zm63 16zm-16 16zm-4-20zm-28 16zm-4-3zm-47 8zm-1-22zm-45 15zm-58-14zm-38 13zm-27 4zm-3 0zm-22 9zm6-3zm55 12zm7-13zm56 19zm32-1zm60 18zm-36 6zm-93 0zm-38 1zm-22-3zm-5-8zm-5 10zm-62-17zm-13 6zm-1 7zm-2-11zm-5 1zm-3 15zm-13-7zm-14 11zm-127 23zm31-4zm7-5zm18 7zm1-4zm17-5zm11 4zm6 4zm1-3zm12-6zm6 9zm3-7zm11 8zm9-18zm8 7zm1-8zm19 11zm69 4zm41 5zm111-14zm18-1zm1 9zm5-7zm-7 36zm-1 3zm-81-1zm-90-6zm-21-11zm-7 15zm-4-19zm-2 16zm-22 5zm-23-8zm-4-8zm-13-1zm0-5zm-13 7zm-8 2zm-14-9zm-1 10zm-2 6zm-21-4zm-11-2zm-16-6zm-1 0zm-4-5zm-6 4zm-17 20zm-10-22zm-4 1zm0 19zm-4-8zm1 26zm214-13zm6 1zm28-3zm17 3zm29 4zm34-8zm22 2zm73 7zm5-3zm43 40zm-13-12zm-4 3zm-21 11zm-8 0zm-24-15zm-36 4zm-23 4zm-114 2zm-89-9z"/>
<path d="M2203 2790zm-34 904zm0 78zm-23-3zm34 45zm-19 20zm-39 35zm-19 31zm-8 22zm-1 36zm48-20zm49 39zm-81 2zm-72 23zm62-7zm-76 44zm12-4zm-3 38zm-43-2zm-2 10zm4 3zm65 3zm40 33zm-65-5zm-97 13zm-29-3zm-14 8zm2 11zm29-2zm7 3zm150-1zm40-9zm49 25zm-12 15zm-141-15zm-40 10zm-46-8zm-10 11zm-102-1zm-20-1zm-80 19zm1 9zm6-7zm51 4zm10-7zm7-10zm36 19zm108-19zm8 16zm10-12zm97-6zm2 0zm21 1zm74 4zm-40 19zm-52 12zm-23 7zm-17-14zm-6 5zm-2 1zm-19 6zm-24-10zm-8-2zm-10 0zm-36 17zm-26-13zm-9 3zm-26 10zm-13-22zm-50 21zm-13-7zm-3-11zm-3 15zm-3-2zm-32-14zm-7 2zm-2 7zm-1-10zm-35 7zm-24-7zm18 33zm155-9zm42 5zm20 1zm100-7zm51 0zm18 5zm55 5zm62 36zm-42-10zm-3 10zm-6-9zm-11 2zm-7-7zm-41 7zm-13 3zm-11-6zm-52 6zm-8-9zm-17 9zm-14 1zm-27-4zm-4 1zm-37-4zm-15-1zm-40 1zm-13-3zm-59 1zm-99-8z"/>
<path d="M2202 2891zm-23 538zm4 7zm9 151zm-2 11zm-14-21zm-15 121zm-4 48zm7 26zm-16 2zm29 58zm-39 2zm-19 35zm-4 33zm68-4zm8 7zm-98 16zm-10 25zm59 5zm44 31zm-9-11zm-8 3zm-97 27zm61-9zm22 30zm-43 5zm-15-17zm-17 16zm-12 2zm79 20zm7 3zm-55 13zm0 7zm-39 9zm-49-12zm-54 25zm28-4zm23-2zm67-4zm3 20zm13-21zm24 40zm-54-9zm-16 5zm-22 2zm-38 4zm-70-1zm-40 23zm68 3zm11-1zm33-1zm182-8zm1-3zm-40 32zm-84-10zm-93 9zm-31-3zm-46 11zm-9-1zm-28 1zm-62-5zm-74 26zm16-10zm1 12zm1-2zm23-6zm9 8zm2-7zm2-10zm2-2zm12 4zm5 1zm30 1zm4 10zm7-5zm23 5zm260-3zm46 0zm18-1zm-75 28zm-9 1zm-33 1zm-37 1zm-6-10zm-1-6zm-20-4zm-38 10zm-12 2zm-11-6zm-29 7zm-12 9zm-57-16zm-6 7zm-10-12zm-12 10zm-25 3zm-9 1zm-19-16zm-21 11zm-7-10zm-22 1zm-26 0zm-31-1zm196 24zm5-1zm105 6zm129-2zm80 9zm38 27zm-76 3zm-27 3zm-19-4zm-74-5zm-80 0zm-2-4zm-76 3zm-57 10zm-7 1zm-14-15z"/>
<path d="M2192 3253zm-4 208zm-17 198zm6 68zm-2-1zm-23 7zm6 13zm13 57zm-12 16zm17 44zm-31 104zm-107 37zm74-14zm29 8zm37 21zm-128 35zm128-7zm-218 49zm67 7zm15-21zm112 18zm-190 15zm-15 7zm-94 30zm11-8zm9-3zm47 6zm74 4zm26-2zm82-10zm16 24zm-52 12zm-26-9zm-6 4zm-12 1zm-15-9zm-52-10zm-52 14zm-33 5zm-1-1zm-48-4zm-11 8zm-9 0zm-11-3zm-114 28zm19-10zm2 8zm9-2zm4 3zm5-10zm3 3zm14 9zm8-15zm9 6zm3 4zm0-11zm2 14zm4-15zm19 12zm53-17zm21 11zm26 4zm4-1zm11-13zm91 8zm142-2zm34 24zm-98 13zm-11-10zm-27 7zm-7 5zm-11-2zm-31-1zm-1-18zm-27 8zm-5 6zm-89-12zm-15-5zm0 20zm-24-19zm-6 22zm-1-17zm-35 9zm-9-8zm-5-2zm-7-3zm-51 1zm-22 1zm-12 4zm4 27zm231-4zm4-6zm31 0zm36 1zm2 5zm20-6zm69 9zm11 1zm17-7zm39-1zm7 3zm51 21zm-4 8zm-9 11zm-59 2zm-40-10zm-30 8zm-108 0zm-34-7zm-15-5zm-6 8zm-7 0zm-10-9zm-6 3zm-4 11zm-6-7zm-22 6zm-10-11zm-7 11zm-18-6zm-7-4z"/>
<path d="M2203 2766zm3 35zm-40 865zm-2 48zm17 0zm-5 108zm-46 17zm-18 49zm37 16zm5 8zm16-17zm18 51zm-124 20zm-20 36zm106 4zm36-4zm3-4zm-20 25zm-26-3zm-33-4zm-12 0zm-64 6zm-11 13zm-32 30zm-11 14zm-29 23zm23-21zm22-1zm76 25zm-7 11zm-1-4zm-17 7zm-65 5zm-21 1zm-20-15zm-98 40zm45 1zm2-6zm9-2zm11-4zm5-5zm14 16zm90-15zm133 14zm13-3zm-15 26zm-42-4zm-72-9zm-113 13zm-13-14zm-5 8zm-42-2zm-12 3zm-5-6zm-3-9zm-2 13zm-11-12zm-4 20zm-12 3zm-11-5zm-118 29zm12-5zm4-5zm11 0zm2 6zm3 3zm18-2zm16-2zm23-2zm5-10zm10-1zm23 9zm1-13zm7 6zm8 1zm7 4zm8 10zm17-12zm5 2zm30 7zm71-8zm77-4zm3 12zm13-2zm10-6zm21 11zm3-7zm1-15zm54 6zm-40 40zm-5-22zm-78 1zm-30 20zm-117-13zm-8-3zm-28 10zm-17-11zm-7 16zm-3-1zm-5-4zm-6 5zm0-14zm-4 10zm-19-6zm-4-3zm-2-1zm-3-5zm-17-2zm-4 13zm-8-1zm-13 2zm-12-8zm-1-1zm-29 10zm-1 6zm-17 2zm-4-5zm-33-15zm45 23zm295-1zm17 3zm30-3zm93 10zm49-2zm6 9zm8 2zm1 4zm5-4zm4-5zm4 29zm-3-5zm-12 6zm-9-6zm0 2zm-2-7zm-9 4zm-31-3zm-8-2zm-46 5zm-1 2zm-9-6zm-1 2zm-15 5zm-81 1zm-19 3zm-24-7zm-19 6zm-32-4zm-7 8zm-14-14zm-16 4zm-12 7zm-32 0zm-15-7zm-4-5zm-1 10zm-12-4zm-90-11z"/></g><circle cx="551.69" cy="680.31" r="2" fill="#000"/><path d="M335 1063.5H450" stroke="#fff" stroke-opacity=".4" stroke-width="1" stroke-dasharray="7 2 11 1 5 3 9 2" fill="none"/><path d="M358 1067.4H412" stroke="#fff" stroke-opacity=".3" stroke-width=".8" stroke-dasharray="9 2 6 1 12 3" fill="none"/><path d="M165.5 1067.5H175.5V1065.5H165.5ZM170.5 1067.5V1068.5M170.5 1065.5V1065.5M168.5 1068.5H173.5M168.5 1065.5H173.5M185.5 1067.5H195.5V1065.5H185.5ZM190.5 1067.5V1068.5M190.5 1065.5V1065.5M188.5 1068.5H193.5M188.5 1065.5H193.5M205.5 1067.5H215.5V1065.5H205.5ZM210.5 1067.5V1068.5M210.5 1065.5V1064.5M208.5 1068.5H213.5M208.5 1064.5H213.5M225.5 1067.5H236.5V1065.5H225.5ZM231.5 1067.5V1068.5M231.5 1065.5V1064.5M228.5 1068.5H233.5M228.5 1064.5H233.5M246.5 1067.5H256.5V1065.5H246.5ZM251.5 1067.5V1068.5M251.5 1065.5V1063.5M248.5 1068.5H253.5M248.5 1063.5H253.5M266.5 1067.5H276.5V1065.5H266.5ZM271.5 1067.5V1068.5M271.5 1065.5V1063.5M268.5 1068.5H273.5M268.5 1063.5H273.5M286.5 1067.5H296.5V1065.5H286.5ZM291.5 1067.5V1068.5M291.5 1065.5V1062.5M288.5 1068.5H293.5M288.5 1062.5H293.5M306.5 1067.5H316.5V1065.5H306.5ZM311.5 1067.5V1068.5M311.5 1065.5V1061.5M309.5 1068.5H314.5M309.5 1061.5H314.5M326.5 1067.5H336.5V1065.5H326.5ZM331.5 1067.5V1068.5M331.5 1065.5V1060.5M329.5 1068.5H334.5M329.5 1060.5H334.5M346.5 1066.5H356.5V1061.5H346.5ZM351.5 1066.5V1068.5M351.5 1061.5V1058.5M349.5 1068.5H354.5M349.5 1058.5H354.5M366.5 1065.5H376.5V1057.5H366.5ZM371.5 1065.5V1067.5M371.5 1057.5V1056.5M369.5 1067.5H374.5M369.5 1056.5H374.5M387.5 1064.5H397.5V1055.5H387.5ZM392.5 1064.5V1067.5M392.5 1055.5V1054.5M389.5 1067.5H394.5M389.5 1054.5H394.5M407.5 1064.5H417.5V1053.5H407.5ZM412.5 1064.5V1067.5M412.5 1053.5V1052.5M409.5 1067.5H414.5M409.5 1052.5H414.5M427.5 1064.5H437.5V1052.5H427.5ZM432.5 1064.5V1067.5M432.5 1052.5V1048.5M429.5 1067.5H434.5M429.5 1048.5H434.5M447.5 1063.5H457.5V1049.5H447.5ZM452.5 1063.5V1066.5M452.5 1049.5V1044.5M449.5 1066.5H454.5M449.5 1044.5H454.5M467.5 1063.5H477.5V1047.5H467.5ZM472.5 1063.5V1066.5M472.5 1047.5V1034.5M470.5 1066.5H475.5M470.5 1034.5H475.5M487.5 1063.5H497.5V1042.5H487.5ZM492.5 1063.5V1066.5M492.5 1042.5V1020.5M490.5 1066.5H495.5M490.5 1020.5H495.5M507.5 1063.5H517.5V1039.5H507.5ZM512.5 1063.5V1066.5M512.5 1039.5V1003.5M510.5 1066.5H515.5M510.5 1003.5H515.5M527.5 1063.5H537.5V1037.5H527.5ZM532.5 1063.5V1066.5M532.5 1037.5V997.5M530.5 1066.5H535.5M530.5 997.5H535.5M548.5 1062.5H558.5V853.5H548.5ZM553.5 1062.5V1066.5M553.5 853.5V680.5M550.5 1066.5H555.5M550.5 680.5H555.5M568.5 680.5H578.5V680.5H568.5ZM573.5 680.5V680.5M573.5 680.5V680.5M570.5 680.5H575.5M570.5 680.5H575.5" fill="none" stroke="#000" stroke-width="1.389"/><path d="M165.5 1066.5H175.5M185.5 1066.5H195.5M205.5 1066.5H215.5M225.5 1066.5H236.5M246.5 1066.5H256.5M266.5 1066.5H276.5M286.5 1066.5H296.5M306.5 1066.5H316.5M326.5 1066.5H336.5M346.5 1063.5H356.5M366.5 1059.5H376.5M387.5 1057.5H397.5M407.5 1058.5H417.5M427.5 1061.5H437.5M447.5 1060.5H457.5M467.5 1060.5H477.5M487.5 1060.5H497.5M507.5 1060.5H517.5M527.5 1062.5H537.5M548.5 949.5H558.5M568.5 680.5H578.5" fill="none" stroke="#ff7f0e" stroke-width="1.389"/></g>
<g clip-path="url(#c4)"><path d="M657.3 1063.8L664.1 1063.7L670.9 1063.5L677.7 1063.4L684.5 1063.3L691.3 1063.1L698.2 1062.9L705.0 1062.8L711.8 1062.6L718.6 1062.4L725.4 1062.3L732.2 1062.0L739.0 1061.8L745.8 1061.5L752.7 1061.2L759.5 1060.9L766.3 1060.5L773.1 1060.2L779.9 1059.8L786.7 1059.5L793.5 1059.1L800.3 1058.8L807.2 1058.4L814.0 1057.9L820.8 1057.5L827.6 1057.0L834.4 1056.4L841.2 1055.8L848.0 1055.3L854.9 1054.8L861.7 1054.3L868.5 1053.9L875.3 1053.4L882.1 1052.9L888.9 1052.3L895.7 1051.7L902.5 1051.1L909.4 1050.4L916.2 1049.6L923.0 1048.7L931.0 1050.9L939.1 1052.5L949.2 1054.1L959.2 1055.4L979.4 1056.7L999.5 1057.0L1019.6 1057.3L1039.7 1058.6L1049.8 1060.2L1055.2 1062.2L1055.2 1064.1L1049.8 1064.1L1039.7 1064.1L1019.6 1064.1L999.5 1064.1L979.4 1064.1L959.2 1065.7L949.2 1067.4L939.1 1068.0L931.0 1068.0L923.0 1068.0L916.2 1068.0L909.4 1068.0L902.5 1068.0L895.7 1068.0L888.9 1068.0L882.1 1068.0L875.3 1068.0L868.5 1068.0L861.7 1068.0L854.9 1068.0L848.0 1068.0L841.2 1068.0L834.4 1068.0L827.6 1068.0L820.8 1068.0L814.0 1068.0L807.2 1068.0L800.3 1068.0L793.5 1068.0L786.7 1068.0L779.9 1068.0L773.1 1068.0L766.3 1068.0L759.5 1068.0L752.7 1068.0L745.8 1068.0L739.0 1068.0L732.2 1068.0L725.4 1068.0L718.6 1068.0L711.8 1068.0L705.0 1068.0L698.2 1068.0L691.3 1068.0L684.5 1068.0L677.7 1068.0L670.9 1068.0L664.1 1068.0L657.3 1068.0Z" fill="#000"/><path d="M1046.8 925.8L1047.4 922.5L1048.0 918.8L1048.6 914.6L1049.2 910.0L1049.8 905.2L1050.4 899.9L1051.0 894.3L1051.6 888.2L1052.2 881.4L1052.8 874.8L1053.4 869.2L1053.6 865.7L1053.6 863.5L1053.7 861.3L1053.7 858.9L1053.7 856.4L1053.7 853.8L1053.7 850.9L1053.7 847.7L1053.8 844.3L1054.0 840.7L1054.3 836.8L1054.5 832.6L1054.8 828.0L1055.0 823.1L1055.2 817.7L1055.5 811.8L1055.7 805.0L1055.9 796.4L1056.2 786.5L1056.4 775.8L1056.6 764.9L1056.9 753.8L1057.1 741.4L1057.3 729.1L1057.6 718.6L1057.8 709.5L1058.1 700.9L1058.3 693.1L1058.5 686.2L1058.8 680.3" fill="none" stroke="#000" stroke-opacity=".34" stroke-width="3.1"/><g fill="none" stroke="#000" stroke-width="3.6" stroke-linecap="butt"><path d="M917.2 1050.3L920.0 1049.9L922.8 1049.5L925.5 1049.1L928.3 1048.6L931.1 1048.0L933.9 1047.4L936.6 1046.8L939.4 1046.2L942.1 1045.5L944.9 1044.8L947.7 1044.1" stroke-opacity="0.8"/><path d="M947.7 1044.1L949.6 1043.6L951.4 1043.0L953.3 1042.5L955.1 1041.9L956.9 1041.3L958.8 1040.7L960.6 1040.1L962.4 1039.5L964.3 1038.9L966.1 1038.3L967.9 1037.7" stroke-opacity="0.62"/><path d="M967.9 1037.7L969.7 1037.1L971.5 1036.6L973.4 1036.0L975.2 1035.4L977.1 1034.8L979.0 1034.1L981.0 1033.2L982.9 1032.2L984.9 1031.1L986.8 1029.9L988.6 1028.6" stroke-opacity="0.42"/><path d="M988.6 1028.5L990.5 1027.2L992.3 1025.9L994.1 1024.7L995.9 1023.4L997.8 1022.1L999.6 1020.8L1001.5 1019.3L1003.3 1017.9L1005.2 1016.5L1007.1 1014.8L1009.0 1013.1" stroke-opacity="0.28"/><path d="M1009.1 1012.9L1011.0 1010.8L1013.0 1007.8L1014.9 1004.3L1016.6 1001.1L1018.4 998.8L1020.2 996.5L1022.1 993.6L1024.0 990.3L1025.9 986.7L1027.7 983.2L1029.5 979.8" stroke-opacity="0.17"/><path d="M1029.5 979.8L1030.4 978.0L1031.4 976.2L1032.3 974.4L1033.2 972.6L1034.1 970.8L1035.0 969.0L1036.0 967.1L1036.9 965.2L1037.8 963.2L1038.8 960.9L1039.7 958.4" stroke-opacity="0.12"/><path d="M1039.7 958.3L1040.5 956.0L1041.2 953.4L1042.0 950.7L1042.7 947.7L1043.4 944.5L1044.2 941.2L1044.9 937.8L1045.6 934.3L1046.4 930.7L1047.1 926.9L1047.8 922.8" stroke-opacity="0.2"/></g><g transform="scale(0.25)" fill="none" stroke="#000" stroke-opacity=".11" stroke-width="16.8" stroke-linecap="round" stroke-linejoin="round"><path d="M4227 2920zm-18 629zm2 10zm-1 154zm-14 209zm-10-2zm-26 15zm-27 20zm-33 26zm103 17zm1 17zm-33-6zm-47 16zm-56 2zm-13 0zm-8 11zm39 10zm14-2zm13-12zm9 0zm77 26zm-7 15zm-111-11zm-12 15zm45 22zm-72 25zm-55-13zm-81 28zm1-3zm3 7zm42-7zm49 8zm17 0zm63-14zm61 28zm-160 14zm-28-13zm-21-3zm-25 8zm-22 7zm-10-5zm0 5zm-23-16zm-6 4zm-5 8zm-23 5zm-5-3zm-2 3zm-18 0zm-95 25zm40-3zm2 1zm7-1zm10-11zm9 1zm8-1zm1 0zm2 8zm23-7zm5 9zm23-18zm15 11zm2 12zm7-1zm3-8zm17-7zm35 0zm1 0zm14 6zm29-1zm110 4zm23 3zm19-7zm15 4zm33-7zm51 35zm-50-2zm-63 5zm-12-5zm-5-10zm-81 2zm-26 9zm-1 2zm-5-1zm-6-12zm-16 4zm-30 4zm-13-1zm-31-11zm-23 4zm-23-6zm-29 16zm-17-13zm-29-6zm-3 8zm-19 10zm-10-13zm-50-4zm48 27zm3 2zm142-4zm9 1zm19-2zm11 1zm103-1zm13 5zm143-5zm8 8zm4 2zm13 4zm35-10zm-18 39zm-25 3zm-37-7zm-28-2zm-4-5zm-27 7zm-25-3zm-3 0zm-44-1zm-12-2zm-40 6zm-26 6zm-20-10zm-33 5zm-5 1zm-77 3zm-92-15zm-3 7z"/>
<path d="M4230 2949zm-7 256zm-24 445zm7 4zm-21 163zm11 25zm-4 44zm-32-9zm-11 8zm-22 17zm30 16zm-38 5zm12 37zm-35 39zm100 23zm-10-11zm-70 24zm46 12zm7 1zm37 5zm-7 12zm-4 9zm-58-7zm-89-6zm-23 18zm18 11zm45-1zm68-3zm61 23zm-84 4zm-51 14zm-14-12zm-51 9zm-31-10zm-3-8zm-15 1zm-58 43zm31-16zm100-4zm97 15zm22 3zm20 22zm-123-3zm-22-1zm-75 7zm-12-15zm-30 8zm-41-12zm-14 20zm-11-10zm-4 0zm-15 9zm0-1zm-3-8zm-116 30zm20 1zm1-5zm11-4zm5-1zm0 9zm28-10zm28 10zm7-7zm3 6zm44-10zm16 14zm14-2zm2-5zm84-13zm22 13zm5 0zm7-9zm13-2zm127 41zm-40-2zm-27-4zm-41-2zm-27-11zm-58 19zm-16 1zm-17-12zm-2 13zm-33-1zm-5-15zm-2 3zm-23-9zm-37 13zm-8 4zm-12 2zm-24-5zm-14-6zm-9 0zm-16-4zm-2-1zm0 7zm-44 3zm-44-11zm53 40zm7-11zm137-5zm41 1zm50-3zm8 2zm20 3zm44-1zm68 3zm25 2zm55-5zm47 8zm5 0zm-18 31zm-5-4zm-2-4zm-4 5zm-25 4zm-67-4zm-21 3zm-53-6zm-5 6zm-10 4zm-6-11zm-1 9zm-11-9zm-2-3zm-9 0zm-2 10zm-21 5zm-42-10zm-7 8zm-5 0zm0-5zm-8-6zm-16 5zm-5 0zm-27 6zm-4-7zm-2 3zm-30-4zm-21-2zm-87 0z"/>
<path d="M4228 2995zm0 33zm-23 447zm11 64zm-11 99zm-13 131zm-9 73zm21 78zm-13 21zm-8 34zm-51 2zm-39-5zm106 26zm-80 17zm2 32zm38-14zm-104 34zm-24-8zm-28 20zm-30 22zm215 17zm-96 4zm-53-12zm-27-2zm-29 9zm-15-10zm-4-3zm-63 40zm33 5zm15-5zm17-5zm184 10zm25 2zm-121 25zm-46-21zm-5 19zm-34-2zm-1 4zm-19-1zm-3-18zm-8 6zm-20-2zm-6 6zm-75 5zm-2-9zm-136 36zm13-1zm54-17zm11 9zm1-7zm2-1zm1-3zm83 6zm1 14zm1-2zm9-8zm31 5zm0-4zm34 0zm41 8zm1-15zm112 1zm96-2zm7 39zm-35-18zm-25 8zm-7 4zm-2-7zm-99 15zm-16-14zm-22 12zm-33 2zm-40-4zm-6-1zm-71-9zm-17 8zm-13 1zm-13-5zm-4-8zm-12-3zm0 1zm-6 3zm-2 9zm-6-9zm-8-1zm-42 11zm-3-6zm-1 7zm-6-14zm-1 20zm-48-20zm47 22zm8 3zm272-2zm117 8zm88-5zm21 19zm4 1zm-58 23zm-4-9zm-38 6zm-17-4zm-1 4zm-36-7zm-9 8zm-45-11zm-78 2zm-32-4zm-10 14zm-8-6zm-21 3zm-47-11zm-8 9zm-3-1zm-12-4zm-86-12zm-3 6z"/>
<path d="M4213 3392zm-10 297zm-12 9zm0 21zm-2 26zm11 104zm8 36zm-84 26zm63-11zm17-4zm-16 37zm-14-20zm-6 8zm-43-5zm67 53zm-16 1zm-56 17zm17 18zm41 2zm20 21zm-38-18zm-102 20zm-8 24zm65 2zm-78 15zm-14-5zm-16 12zm24 20zm7-10zm57 9zm56 15zm-83 14zm-40-19zm-4 7zm-25 2zm-104 24zm49 11zm51-10zm18-2zm27 4zm16-4zm96-6zm32 1zm-106 37zm-124-2zm-45-9zm-4 13zm-10-3zm0 5zm-11-17zm-4-3zm-21 10zm-19-3zm-4 5zm-7 1zm-1 3zm-146 26zm4 3zm63-2zm17 2zm7-16zm1 4zm7-5zm14 13zm13-6zm1 3zm14-5zm12 1zm22-5zm56 8zm32-13zm1 11zm37-11zm129 2zm15 0zm64 16zm-18 18zm-15-11zm-6 11zm-29 8zm-25-23zm-44 10zm-28-5zm-2 3zm-44 0zm-40 8zm-3-13zm-22 20zm-6-2zm-29 2zm-3-4zm-22-10zm-27 6zm-12 6zm-16-21zm-2 12zm-24 2zm-7-6zm-2 2zm-12 0zm-8 2zm-12-5zm-6-2zm-5-3zm-1-1zm-14 0zm-10 31zm0 11zm155-17zm75 4zm94 2zm22-3zm22-1zm65 4zm55 4zm11 26zm-3 4zm-33-7zm-3 0zm-12 13zm-10-1zm-24-13zm-45 6zm-10 0zm-8 2zm-67 2zm-10-1zm-2-7zm-13-2zm-12 8zm-18-8zm-51 13zm-49 0zm-126-21zm-2 2z"/>
<path d="M4232 2811zm-13 526zm0 261zm-15 71zm0 0zm-4 4zm-26 104zm-4 31zm15 3zm16 0zm-45 50zm22-5zm37-3zm-15 18zm-20 2zm-58 64zm58 13zm40 7zm-128 20zm109 15zm-2 38zm-107-22zm-56 44zm-7 26zm-24 1zm12 22zm159-14zm11 32zm-8-3zm-21 0zm-50-7zm-30 6zm-55 4zm-119 29zm4-11zm19 10zm2-19zm12 7zm40 8zm64-6zm12-4zm0 16zm162-19zm-79 38zm-41 7zm-100-1zm-17-5zm-82-5zm-4-6zm-14 0zm-6 3zm-17 13zm-8-12zm-10-1zm-5 0zm-23 12zm-72 22zm5-9zm5-1zm3 3zm9-5zm6-3zm5 0zm4 19zm1-2zm3 3zm1-24zm17 1zm8 5zm20 13zm24-13zm18 15zm23-14zm20 8zm8 0zm10 7zm14-5zm12-13zm93 18zm142 12zm0 11zm-25-13zm-39-4zm-11 10zm-21-8zm-25 7zm-19 7zm-20 0zm-41-20zm-6 16zm-30 4zm-23 1zm-25-7zm-5-3zm-15 8zm-5 0zm-9 1zm-28-2zm-10-8zm0-5zm-5 17zm-28-6zm-7-1zm-7-13zm-15 3zm-7 10zm-8-12zm-30 3zm-22-5zm-46 1zm-2 1zm43 29zm236-1zm21-1zm5-5zm16 5zm42-2zm125 7zm15 3zm24 6zm9-11zm22 32zm-15-6zm-1 4zm-16 3zm-13 2zm-28-6zm-4 0zm-2 2zm-29 1zm-7 2zm-16-7zm-19 8zm-52-8zm-9 6zm-13 1zm-5-9zm-10 2zm-15 6zm-42 0zm-22-2zm-3-7zm-195-2zm-6-3z"/>
<path d="M4233 2877zm-4 112zm-31 650zm-1 75zm-4 34zm-9 51zm7 14zm18 32zm-41 35zm-13 21zm38-3zm11-4zm-4 25zm-97 27zm57 42zm20-1zm3 18zm-1 14zm-53-6zm-12 1zm-56 3zm73 36zm67-11zm-122 15zm-54 18zm-10-3zm-36 27zm193-13zm28 12zm14 2zm-111 28zm-116-16zm-23-4zm-20 17zm-55 23zm8 0zm15 4zm2-15zm5 1zm12 2zm7-9zm16-2zm17 20zm31-1zm9-10zm56 12zm115-13zm-146 23zm-14-6zm0 18zm-54-10zm-14 12zm-21-3zm-18 4zm-62-5zm-13-9zm-7 0zm-26 14zm-99 22zm53 3zm7-7zm16 1zm1 5zm4-20zm5 8zm20-7zm2 16zm4-2zm23-4zm2 8zm3-3zm9-13zm8 6zm6 6zm13-8zm10 0zm47-4zm38 18zm70 23zm-62-7zm-9-1zm-50 9zm-47-10zm-5 6zm-17 0zm-10 0zm-2-5zm-1 4zm-27-6zm-1-9zm-3 8zm0-5zm-3 8zm-3-6zm-1 9zm0-9zm-24 6zm-41-7zm-3-4zm-22-1zm-16 6zm-2 30zm2 2zm0-6zm212-9zm27-1zm8 2zm12 1zm243 9zm8 7zm-17 20zm-33-3zm-24 8zm-27 3zm-74-1zm-14 0zm-26-6zm-89-2zm-41 3zm-20 1zm0-8zm-26 8zm-23-2zm-5-1zm-95-5z"/>
<path d="M4231 2808zm0 108zm-1 133zm-5 35zm-2 111zm-14 266zm-3 108zm5 35zm-15 61zm19 73zm-4 60zm-28 36zm10 44zm-25-5zm-23 58zm-26-15zm21 40zm52-7zm-107 24zm-12 25zm0-2zm90 13zm-60 1zm-24 9zm-7 4zm-8 10zm25 12zm40 3zm68-11zm-4 21zm-99 1zm-16 11zm-16-1zm89 30zm38-18zm20 13zm-57 15zm-103-2zm-50 0zm-39 13zm-70 27zm40 4zm25-21zm7 6zm55 11zm91 9zm-15 0zm-199 13zm-3 4zm-30-18zm-16 3zm-11 11zm-2-1zm-25 1zm-93 25zm11 3zm10-4zm25 0zm19-15zm20 21zm2-10zm5-9zm13 18zm76-17zm83 6zm42 8zm46 0zm1-15zm133 3zm-15 35zm-21-5zm-35 1zm-1-4zm-68-6zm-19 4zm-9 15zm-87-8zm-32-6zm-49 2zm-43 12zm-27-20zm-14-1zm-7 7zm-7 6zm-4-2zm-30-13zm-14 12zm0 3zm-2-9zm-11 12zm-6-1zm-43-16zm-3 1zm43 39zm1-6zm1 1zm230-8zm17 2zm32-2zm24-3zm4-1zm47 0zm98 9zm1-3zm2-6zm5 14zm8 1zm54-4zm-72 31zm0 1zm-15 4zm-21-12zm-10 4zm-12 7zm-10-3zm-10-9zm-20 13zm0-2zm-1-8zm-1 5zm-22-4zm-1 2zm-28-5zm-17 8zm-5 5zm-14-4zm-4 3zm-24-6zm-77 7zm-36-5z"/>
<path d="M4229 2875zm-9 598zm-9 214zm4 55zm-34 27zm-13 42zm38 16zm-15 20zm-30 18zm-16 13zm-8 21zm38-9zm20 25zm-54 0zm-24 22zm-23 52zm50-2zm6 7zm47 1zm10 7zm-77 22zm-65-5zm78 23zm20 28zm-169 29zm2-3zm27-10zm19 39zm-27-2zm-135 29zm4-6zm9 2zm3-6zm0 6zm1-1zm29-11zm2 2zm53-4zm29-2zm44 20zm7-18zm51-1zm67 14zm31 4zm-168 5zm-78 7zm-38 9zm-23-15zm-9 4zm-4 13zm-29-6zm-3-7zm-11-4zm-9 6zm-22 13zm-80 18zm1 3zm11-9zm21 11zm12-8zm6-5zm3 0zm16-5zm28-4zm3 6zm41-3zm73-4zm58 5zm174 37zm-105 1zm-40 4zm-1-19zm-8 12zm-13 8zm-3-3zm-3-9zm-1-7zm-16-4zm-19 20zm-9-2zm-20-7zm-5 1zm-54-5zm-38 6zm-14 9zm-20-15zm-2-8zm-6 0zm-3 7zm-5 10zm-15 0zm-5-16zm-3 9zm-17-1zm-27-9zm-13 19zm-2-14zm-1 3zm-4 8zm-10 4zm-33-16zm32 29zm5-2zm3 2zm187-7zm27 2zm67-3zm43 1zm13 0zm113 7zm7-7zm52 35zm-30 10zm-40 1zm-15-7zm-27 2zm-12-6zm-19 10zm-32-1zm-15-5zm-57 0zm-1-2zm-20 5zm-3-2zm-1 0zm-24-9zm-52 5zm-27-2z"/>
<path d="M4228 2947zm-10 563zm1 67zm-12 67zm-21 81zm0 11zm11 99zm-7-6zm-27 69zm23 16zm-2 15zm-13-3zm-65 22zm36-9zm69 41zm-32-9zm-38 3zm-34 20zm100-3zm-89 30zm-10 6zm-52 16zm22-5zm16 1zm83-4zm37 6zm-57 36zm-35-20zm-30 15zm-32-11zm-26 14zm-8 29zm10-17zm59 11zm-45 23zm-7-2zm-50 4zm-30-2zm-61 22zm13 0zm4 3zm17-14zm54 19zm80-12zm56 10zm85 10zm-24 11zm-80-10zm-124 9zm-1-14zm-5 16zm-56-10zm-10 3zm-4 6zm-53-6zm-9-5zm-167 37zm51-5zm10 9zm5-1zm14-12zm7 8zm4 0zm12 1zm4-20zm54 14zm12-12zm2 10zm5 4zm7-1zm34-3zm2-3zm21-5zm50 15zm85-19zm15 15zm141-9zm-45 29zm-16 11zm-1-1zm-16-10zm-2-1zm-50 1zm0 9zm-71-8zm-30 9zm-10-1zm-4-14zm-31 0zm-5 15zm-13-17zm-18 15zm-27-3zm-4 8zm-10-11zm-19 11zm-7-19zm-4 15zm-3-3zm-25-16zm-16 11zm-34-5zm-32 10zm-5-6zm-3-5zm-14 39zm4-6zm231-13zm8-2zm11 6zm195 3zm46 0zm-21 25zm-34 8zm-41-5zm-38-3zm-13 7zm-2 6zm-4-7zm-18-3zm-19 4zm-57-5zm-34 9z"/>
<path d="M4219 3320zm-5 226zm-16 108zm-22 129zm-3-1zm32 28zm-33 15zm44 21zm-44 23zm33 65zm-41-7zm26 23zm-31 19zm38 44zm-20 6zm-30 7zm-46-14zm18 40zm95 21zm-5-14zm-15 5zm-9 15zm-51-15zm-27 10zm-61-17zm-60 37zm72-5zm43 11zm99-5zm-35 12zm-54 3zm-62 9zm-2 3zm-70-9zm-7 9zm-25 5zm-39 18zm4-2zm10 0zm16-4zm61 5zm18-13zm163 16zm-138 22zm-17-6zm-50 11zm-38-5zm-45-7zm-20 1zm-5-3zm-18 15zm0-3zm-34 0zm-6 4zm-50 20zm5-16zm3 19zm0-11zm1 9zm8-16zm5 2zm0 1zm10 2zm18 0zm9 4zm8 6zm13 0zm39 1zm6-11zm12-6zm38 14zm60-16zm149 24zm-6-1zm-67 17zm-31-6zm-16-8zm-23 10zm-48-8zm-42 2zm-53 6zm-13-3zm-23-2zm-7 8zm0 4zm-47-10zm-13-10zm-37 15zm-5 7zm-6-13zm-2 2zm0-5zm-1-1zm181 21zm38-3zm41 5zm4 0zm44-4zm23 1zm10 4zm13 0zm19 0zm102 4zm4 2zm3 3zm17-15zm-76 46zm-34-3zm-9-5zm-12-4zm-41 2zm-19 3zm-51-6zm-7 13zm-2-10zm-5 6zm-33-2zm-24 3zm-3-5zm-9 5zm-89-5z"/>
<path d="M4206 3488zm4 58zm-4-5zm3 94zm-5 18zm-6 124zm-32 47zm-35 101zm-2 11zm80 2zm-19 39zm-45-13zm-70 31zm81-8zm31 3zm15 4zm-58 17zm-70 20zm-2-19zm-22 18zm150 15zm-192 28zm-34 25zm64 2zm87-1zm47 28zm-177-11zm-94 28zm1-3zm26-5zm1-3zm1-1zm98-3zm53 0zm79 7zm-46 32zm-67 6zm-47-17zm-45 8zm-91 5zm-5-12zm-2 3zm-2 8zm-11 1zm-2-4zm-160 32zm43 0zm17-13zm9 2zm1 2zm10 9zm9-18zm22 14zm21-13zm20 15zm2-5zm25-12zm6 0zm20 12zm3-14zm28 18zm9 0zm4-5zm20-8zm87 6zm170 8zm3-12zm6-1zm-119 30zm-47 3zm-6-2zm-13 0zm-33 5zm-25-13zm-23 10zm-17 2zm-30-9zm-57 10zm-14-17zm-40 4zm-4 5zm-11-11zm-4 11zm-6-3zm-5-5zm-16-2zm-2 8zm-96-6zm49 23zm1 12zm8-3zm9-9zm157-1zm49 1zm31 2zm52 0zm26-4zm64 12zm121 24zm-26-1zm-14-1zm-19 1zm-50 4zm-15-2zm-31 1zm-26 4zm-10 2zm-29-5zm-13 2zm0-1zm-43 1zm-31 6zm-2-4zm-2-8zm-5 4zm-71 4zm-13-2zm-117-5zm-4 4z"/>
<path d="M4226 2997zm-12 402zm-11 210zm17 29zm-1 70zm-46 66zm-7 27zm3 12zm31 22zm-73 91zm-19 23zm4-6zm72 0zm-48 19zm-32 4zm9 34zm2 2zm20 2zm1 12zm-89 28zm37-2zm15 8zm120 24zm-171 3zm-5-15zm-47 26zm23 3zm28 0zm17 9zm141 18zm-53-12zm-147 18zm-30-5zm-4-11zm-6 1zm-75 42zm0-3zm4 2zm16 1zm86-18zm67 5zm112 10zm25 22zm-86 2zm-29-15zm-70 8zm-31 4zm-108-8zm-24-5zm-19 7zm-12 2zm-27 8zm-117 25zm1-1zm29-4zm3 6zm35-14zm1 14zm37-22zm8 10zm3 6zm5-4zm3-6zm1-3zm37 8zm11-1zm21 4zm8-7zm55 0zm74-3zm158 1zm54 2zm-115 25zm-45 11zm-61-9zm-1 10zm-19 2zm-40-13zm-7 4zm-77-6zm-1 7zm0-9zm-31 2zm-12 9zm-7-10zm-22 9zm-15-3zm0 2zm-10 0zm-5-4zm-1-1zm-34-7zm-9 10zm-10-2zm-5-11zm-1 45zm153-21zm97 3zm27 2zm47-1zm32-4zm5 7zm25-5zm109 17zm13-16zm13 24zm-20 13zm-1 8zm-64-8zm-65 5zm-20-3zm-4-5zm-30 4zm-8-2zm-20-6zm-9 6zm-6 5zm-45-4zm-22 3zm-9-4zm-7-2zm-83 0zm-18 3zm-2 0zm-84-16zm-1 5z"/>
<path d="M4230 2944zm-29 704zm-6 36zm1 64zm-4 42zm0 2zm-29 42zm-14 49zm1 29zm65-19zm4 34zm-15 21zm-49 13zm-13 23zm-6-19zm-45 30zm10 11zm-4 12zm-36-6zm0 18zm-20 24zm5-14zm72-6zm3 29zm-73 5zm-20 16zm71 20zm119 6zm-110 10zm-32 1zm-17 3zm-73-20zm-16 15zm-17 8zm-37 20zm13-8zm33 5zm114-8zm2 11zm86 5zm-16 12zm-159 10zm-23-18zm-55 1zm-6 13zm-3-17zm0 10zm-19-10zm-20 8zm-2-3zm-9 8zm-10-6zm-18 9zm-5 4zm-130 24zm17-3zm23 1zm2 3zm1-5zm0 3zm8-5zm7-6zm6 2zm1 5zm6-1zm40-12zm22 19zm1-8zm2 6zm17 0zm17-12zm22 10zm44 4zm25-9zm10 8zm78-20zm22 1zm159 46zm-5-13zm-14 9zm-84-1zm-59 5zm-13-2zm-3-6zm-29-2zm-59-9zm-44 17zm-29-10zm-21 4zm-20 8zm-6-22zm-6 20zm-29-20zm-1 2zm-4 9zm-32-3zm-4-8zm-23 6zm-13-4zm-1 15zm-5-6zm-8-4zm-8 3zm-53-8zm61 34zm143-14zm120 3zm170 2zm44 1zm8 6zm11-2zm13 15zm-105 20zm-17 3zm-13-4zm-23 1zm-40-1zm-19-10zm-18 13zm-55-10zm-20 0zm-24 0zm-16 1zm-3 1zm-6 4zm-5 0zm-20-5zm-31 9zm-104-18zm-2 11zm-2 1z"/>
<path d="M4233 2745zm-13 842zm-9 83zm-13 12zm-5 17zm9 48zm-25 35zm10 50zm-32 13zm38 8zm1 1zm-54 57zm22-17zm11 0zm13 5zm-17 21zm51 41zm-58 18zm-94 26zm15-18zm69 8zm66-5zm-115 60zm22-13zm33 8zm14-10zm45 4zm-157 25zm-38-1zm-31 40zm7-12zm98 13zm101-3zm-5 8zm-15 2zm-22 4zm-16-3zm-18 8zm-53-7zm-12 7zm-60-13zm-22 11zm-8-13zm-1 8zm-4-1zm-25 37zm106-15zm53 6zm9 9zm-12 19zm-73-8zm-151-4zm-2 16zm-6-18zm-86 33zm1 0zm11 0zm4 3zm8-14zm12 12zm16 10zm19-5zm1-11zm25 5zm58 13zm14-20zm0 19zm21-16zm31 7zm60-13zm70 15zm36 16zm-44 16zm-57-1zm-16-2zm-3-6zm-15 4zm-1-10zm-60 8zm-23-16zm-43 16zm-21-5zm-3 10zm-6-20zm-16 5zm-5 10zm-29-17zm-4 10zm-7 5zm-5 5zm-6-1zm-1-11zm-7-5zm-17-2zm-1 7zm-9-6zm-28 6zm-4-2zm-3-1zm-8 2zm-13 8zm-7 2zm-4-8zm0 4zm-1-2zm8 16zm148 0zm34 0zm44-1zm5 3zm59-3zm113 9zm56-10zm1 12zm11-9zm19 33zm-34 9zm-18-7zm-55 5zm-30-6zm-14 1zm-13 0zm-28-3zm-1 12zm-4-4zm-9 3zm-6-13zm-60 6zm-25 4zm-3 2zm-2-2zm-18 2zm-28-10zm-51 8z"/>
<path d="M4232 2849zm-6 200zm-11 302zm-10 281zm-11 37zm13-21zm13 107zm-42 13zm-7 13zm-14 73zm38-3zm16 18zm-20 22zm-9 28zm-44 13zm-33 13zm7-5zm-45 67zm18-17zm44 17zm51-16zm40 25zm-29 9zm-116-7zm-11-1zm-2 14zm-25 21zm11-5zm79-9zm59 31zm-23 9zm-28-20zm-24 1zm-65 13zm-10-8zm-13 4zm117 19zm-59 24zm-165 26zm21-6zm116 18zm42-18zm-53 40zm-29 1zm-32-5zm-78-15zm-42 10zm-4 5zm-14-6zm-13 5zm-146 31zm30 0zm13-4zm4 4zm15-5zm9 1zm12-8zm5 5zm2-9zm17 17zm5-2zm9-2zm18-1zm17-4zm17 1zm0-9zm1 17zm98-21zm34 0zm35 4zm38 42zm-71-2zm-56-4zm-42-2zm-1 9zm-17-11zm-7 6zm-22-15zm-4 8zm-6 6zm-18-14zm-34 2zm-74 8zm0-9zm-62-4zm336 31zm3-3zm91 3zm19-1zm45 3zm1-2zm33-1zm42 26zm-17 4zm-45 2zm-52-6zm-80 0zm-27 2zm-64 1zm-32 9zm-32-10zm-49 4zm-27 3z"/>
<path d="M4212 3567zm6 14zm-9 15zm-1 148zm-11-7zm5 29zm-22 26zm13 12zm19 0zm-20 25zm10 41zm-35 26zm3 10zm38-5zm-10 24zm-70 16zm79 29zm-24-9zm-111 45zm18 0zm10-10zm68 29zm-12-5zm-98 4zm92 18zm-78 35zm-19-16zm-15 8zm-23 21zm34 7zm4 5zm134 6zm-178 16zm-50-1zm-68 22zm10 0zm87 4zm207-10zm-71 33zm-153-7zm-10 0zm-40 2zm-43 4zm-4-2zm-10-16zm-2 4zm-9 4zm-19-1zm-5 2zm0 11zm-147 23zm62-5zm0 0zm5-6zm15 3zm7 2zm5 8zm1-1zm4-18zm7 7zm8 14zm4-5zm1-4zm7-11zm21 11zm11-5zm10 9zm8 1zm7-3zm22-4zm9-2zm33 12zm13-14zm46-3zm191 34zm-13-3zm-49 6zm-13-9zm-239 4zm-11-3zm-19 5zm-18-10zm-2 13zm-3-16zm-10 8zm-9-9zm-30 8zm-11-9zm-9 8zm-32 0zm-3 11zm-5-17zm-7 19zm6 14zm194-11zm21 1zm51 0zm60 0zm3-2zm75 1zm25 6zm7-2zm18 7zm5-4zm35 29zm-15 2zm-22-2zm-26 3zm-23 5zm-13-8zm-2 6zm-25-2zm-76-1zm-3 3zm-48-6zm-15 4zm-98 1zm-7-7zm-7 11zm-5-8zm-3-5zm-21 15z"/>
<path d="M4217 3538zm-19 154zm-2-6zm7 120zm-28 15zm-7 86zm25 3zm-80 20zm92 20zm-64 48zm72 12zm-118 6zm-41 10zm18 11zm38 0zm70 22zm-34 9zm-138 12zm97 16zm61-14zm4 12zm33-7zm9 10zm0-12zm-3 43zm-122-20zm-35 13zm-86-12zm-18 18zm-58 20zm1-1zm16-9zm18 6zm1-11zm1 19zm26-21zm64 2zm6 14zm13 5zm37-18zm33 36zm-2 1zm-87-17zm-39 13zm-9 6zm-24 4zm-14-7zm-20-10zm-40-3zm-3 18zm-1-6zm-24-8zm-5 13zm-9-5zm-9 1zm-135 30zm58-4zm41 5zm2-3zm12-10zm13-5zm6 13zm35-7zm22 11zm2-2zm28-15zm26 16zm34-7zm19-12zm146 17zm2-18zm-16 34zm-134-5zm-10 4zm-58 1zm-4 11zm-6 0zm-24-18zm-5 14zm-7-5zm-1-9zm-1 11zm-18-16zm-25 19zm-4-6zm-7 0zm-18-3zm-24-6zm-50 8zm-6-10zm-1 19zm-7-12zm-10 12zm0 20zm238-15zm2 0zm47 0zm28 0zm81 5zm13-6zm73 0zm10 15zm6 27zm-23-8zm-22-1zm-15 8zm-18 5zm-2 0zm-23-6zm-12 5zm-6-12zm-26 3zm-61 6zm-2-6zm-58-2zm-47 10zm-13-5zm-27 1zm-36-3z"/>
<path d="M4230 2974zm-8 254zm3 2zm-6 70zm-8 98zm-11 242zm0 44zm-23 104zm4 44zm-2 4zm-20 11zm53 25zm5 40zm4 71zm-21-18zm-7 17zm-48-5zm-40 20zm63 27zm-64-14zm-6 10zm-30-12zm-5 16zm-9 1zm-16 23zm19-14zm108 10zm14 10zm26 2zm-107 8zm-50 10zm-15-14zm-48 35zm25 7zm5-8zm119-11zm-159 25zm-46 21zm21 7zm1 13zm6 1zm39-10zm17 0zm74 0zm29 12zm73-16zm19-3zm-19 27zm-92-3zm-82 10zm-21-6zm-36 2zm-61 8zm-19-8zm-5 12zm-11-18zm-4 18zm-172 25zm1-3zm59-9zm8 1zm2 0zm19-3zm21-4zm18 10zm5-16zm19 6zm120-3zm84 17zm64-1zm43-12zm22-1zm15 2zm14 23zm-29-4zm-69 0zm-17 13zm-8-11zm-36 12zm-37 5zm-17-1zm-5-10zm-6 3zm-9-5zm-5-1zm-24-4zm-4 8zm-10-6zm-11-3zm-10 20zm-6-7zm-18-16zm-5 14zm-7 6zm-27-9zm-10-2zm-7 5zm-16-7zm0 5zm-4-6zm0 8zm-2-13zm-13 9zm-2 7zm-8-6zm-17-3zm-38-2zm0-1zm-12-4zm-10 21zm-6-13zm9 39zm1-17zm202-5zm114 5zm46 1zm51-7zm21 8zm22-8zm1-1zm48 11zm9 2zm-37 21zm-57 12zm-41-9zm-38 10zm-4-2zm-1-4zm-5-5zm-35 11zm-5-5zm-41 0zm-2-2zm-3-6zm-51 1zm-6 6zm-49 1zm-8 1zm-13-5zm-6 1zm-11 7zm-112-22z"/>
<path d="M4227 3020zm-10 486zm1 98zm-12 126zm11 14zm-50 86zm12 82zm13-16zm-73 17zm25 35zm-12 30zm-1-4zm-39 9zm95 7zm31 37zm-146-18zm-10 8zm-6 28zm3 1zm9-9zm121-1zm20 16zm-33 13zm-76 13zm-64 20zm0-10zm25 10zm55-18zm91 48zm-225-6zm-47 5zm-14 9zm69 15zm156-6zm-98 12zm-4 4zm-26 11zm-55-15zm-77 17zm-23-9zm-5-5zm-18 16zm0-6zm-12-2zm-8 3zm-23 2zm-119 24zm0-1zm33 2zm19-9zm7 6zm0-3zm7-3zm12 3zm31-5zm8 4zm5-13zm9 12zm14 4zm12 4zm0-13zm0 2zm15 5zm44 2zm5-10zm15-1zm39 16zm37-4zm54 1zm65-20zm12 24zm9-1zm51-10zm2 7zm7 18zm-6 4zm-14-8zm-7-1zm-66 4zm-25-9zm-8 13zm-46-9zm-27 4zm-79 3zm-24 1zm-35-13zm0 12zm-20 1zm-4-9zm-2-6zm-61 5zm-8 5zm-14-9zm0 6zm-8-2zm-10-2zm-14 16zm-6-1zm-4 26zm4-10zm5-9zm0 2zm143 0zm37 0zm42-2zm3 5zm108 1zm105-6zm42 10zm12 22zm-20 6zm-11-2zm-2 0zm-21 0zm-16 6zm-17-8zm-64 1zm-45 7zm-5-11zm-15 6zm-70 8zm-32-3zm0-4zm-13-7zm-37 8zm-2-8zm-4 10zm-2-6zm-11 2z"/>
<path d="M4206 3465zm15 20zm-11 94zm-7 35zm-21 119zm34 23zm-16 44zm13 31zm-33-13zm-12 5zm-3 17zm39 19zm-8 5zm-12 15zm30 30zm-85 6zm-5 15zm68 37zm-40-6zm-24 3zm-16 1zm92 65zm-49-19zm-10 19zm-59-12zm21 30zm33 5zm12-2zm-10 18zm-14 9zm-96-20zm-15 18zm71 27zm87 2zm-2 10zm-30 7zm-107-9zm-3 10zm-17-13zm-96 23zm81 42zm-2-11zm-41 1zm-17 5zm-23 5zm-70-15zm-53 15zm-108 24zm4 1zm13-2zm37-11zm6 2zm5-1zm7 11zm4-8zm8 5zm2 2zm7-12zm5 14zm29-19zm2 4zm5 10zm29-12zm1 13zm4-10zm5-2zm1 7zm19 2zm50-13zm11 17zm3-15zm189 35zm-3-4zm-58 3zm-31 8zm-2-19zm-117 16zm-8-18zm-44 20zm-1-12zm-6 6zm-19 6zm-15-7zm-2 7zm-3-14zm-7-5zm-1 0zm-28 15zm-10-16zm-15 2zm-8-5zm-14 0zm-4 5zm-21 18zm0-18zm-11 0zm-2-1zm-3 6zm-4 9zm0 20zm9-7zm260-6zm46 0zm2 1zm122 1zm15 2zm56 9zm13 32zm-40-6zm-10-7zm-16 11zm-65 0zm-5-10zm-32-1zm-45 8zm-15-4zm-21 7zm-1-9zm-8-1zm-126 10zm-7 2zm-24-5zm-10-7zm-8 7z"/>
<path d="M4227 2932zm-12 497zm-5 146zm-10 77zm14 16zm-14 35zm16 134zm-16 14zm-126 144zm44 2zm59-11zm-22 24zm-59 34zm4 5zm91 16zm-132 2zm-68 22zm3 13zm14-6zm5-11zm7 6zm5 12zm166-5zm-39 12zm-30 3zm-145 8zm-5 0zm-89 25zm20-4zm19-8zm133 16zm47-17zm-33 29zm-42-4zm-85 11zm-85-9zm-2-3zm-18 3zm-151 37zm13 0zm27-8zm10 10zm15-7zm4 0zm5-5zm7-5zm12 6zm10-7zm15-3zm3 13zm9-15zm71 21zm34-10zm58-9zm23 9zm71 6zm67 14zm-93-5zm-12 10zm-34 8zm-1-8zm-14 5zm-36-7zm-2 0zm-14 10zm-11-10zm-13-10zm-9 5zm-7 10zm-2-1zm-1-11zm-8 15zm-8-6zm-4 5zm0-3zm-7-3zm-7 2zm-4-10zm-12 15zm-4-5zm-4 0zm-34-2zm-3 3zm-5 3zm-4-7zm-3 9zm-6-14zm-14 4zm-18 3zm-17-8zm-11 6zm-4 10zm-10-2zm-8 29zm6 1zm8-20zm221-3zm88 3zm191 7zm-26 36zm-27-3zm-4-8zm-25 1zm-5 6zm-27-1zm-5-1zm-20-1zm-68-1zm-6 3zm-28-4zm-10 1zm-30-1zm-4 0zm-17-2zm-23 2zm0-1zm-19-1zm-168-2zm-5 10z"/>
<path d="M4232 2815zm-11 510zm0 180zm-4 114zm3-14zm-14 55zm14 3zm-34 52zm3 11zm10 112zm-45 10zm20 11zm-30 17zm-8 30zm35 22zm29 43zm-7-3zm-46-7zm-71 38zm51 5zm4 3zm2-11zm13 16zm-45 6zm-40-3zm139 18zm-149 27zm-3 22zm2 4zm15-3zm26 12zm115 11zm-139 11zm-96-7zm-8 0zm-64 38zm12-3zm67-16zm12 0zm20 11zm13 0zm24 12zm89-1zm66-2zm5 19zm-18 7zm-19-15zm-56 11zm-55 4zm-16-7zm-23 1zm-16-3zm-86-5zm-26 10zm-2-12zm-2 11zm-31-15zm-33 18zm-90 19zm1 3zm10 3zm12-7zm10-8zm15 2zm19-1zm30-7zm11 14zm2 0zm16 6zm43 0zm43-4zm52-5zm42-3zm27 3zm16 10zm62-8zm33 0zm23 28zm-59-17zm-44 21zm-66-22zm-3 20zm-10-18zm-62 3zm-6 8zm-57-12zm-22 16zm-18-2zm-15-14zm-10 13zm-23 0zm0-12zm-18 2zm-6 9zm-9 2zm-43-8zm-13 6zm-2 4zm-7 2zm-1 0zm-8-15zm-1 3zm-31-6zm-18 2zm53 40zm186-18zm34 5zm24-2zm189 4zm17-1zm34-5zm4 7zm-13 33zm-2-3zm-49-2zm-19 3zm-53-6zm-15 13zm-70-1zm-79-8zm-14-2zm0 3zm-35 3zm-3-5zm-12 1zm-7 3zm-16 0zm-19 4z"/>
<path d="M4227 2860zm-19 588zm-5 258zm5-1zm5 89zm-68 108zm1-9zm5 6zm69 0zm-69 53zm37 4zm-73 19zm-48 32zm10-22zm53 38zm-80 10zm11 19zm76-10zm75 16zm-29 1zm-118 14zm-4-5zm-5 2zm-49 5zm4 10zm52 14zm27-4zm15 0zm57 32zm-163-17zm-9 3zm-30-1zm-4 24zm23 15zm17-3zm11 3zm39-14zm82 10zm-59 22zm-57-5zm-76 4zm-19-14zm-1 11zm-45 2zm-7-5zm-35-2zm-124 38zm12 1zm12-7zm18-4zm22 10zm38 0zm6-14zm2 6zm51-6zm19 0zm186 5zm5-5zm34 21zm-35 12zm-84 1zm-33-5zm-35-10zm-2 18zm-9 3zm0-2zm-14-2zm-5-19zm-8 0zm-27 11zm-1 7zm-7-11zm-10 16zm-28-2zm-103 1zm-15-18zm-47-4zm52 35zm9 4zm0-9zm165-5zm42 6zm1-5zm78 2zm5-5zm96 8zm8-4zm91 35zm-19 1zm-4-7zm-46 2zm-44 0zm-44-2zm-1 5zm-41-5zm-7 2zm-18 0zm-97 3zm-54 0zm-13 7zm-25-6z"/>
<path d="M4232 2880zm-6 298zm-5 79zm-7 120zm6 159zm-10 17zm-4 42zm-1-8zm7 57zm-12 2zm17 96zm-25 2zm-11-5zm-15 72zm2 31zm-66 107zm-20 41zm57 15zm75-14zm-136 37zm120 52zm-10-19zm-143 13zm-25-3zm-38 26zm13-8zm16 9zm15-10zm22-4zm10 4zm19 31zm-65-2zm-8 5zm-48 3zm-56 20zm10 3zm5-10zm5-4zm8 2zm5 9zm13-15zm10 7zm67 9zm16-6zm151 4zm3-14zm-157 32zm-14-4zm-3 0zm-35 3zm-17 13zm-27-9zm-27-6zm-30 17zm-9-11zm-12 9zm-10-15zm-14 12zm-5-5zm-5 9zm-3-6zm-139 28zm29-3zm28-2zm2 8zm1-9zm7 7zm1-5zm11 4zm24-19zm3 20zm35-15zm11-2zm14 15zm24-3zm26-10zm6 14zm63 2zm20-15zm51 10zm27-3zm23-11zm16 8zm23-9zm23 35zm-24 4zm-5-3zm-17 7zm-41 1zm-41-6zm-2 7zm0-5zm-43-18zm-55-1zm-7 22zm-7-3zm-2-8zm-11-3zm-1-5zm-48 20zm-7-15zm-26 10zm-7-3zm-3-11zm-3-3zm-1 9zm-2-1zm-5-4zm-5-2zm-3 10zm-5 0zm-46-10zm-15-2zm-4 12zm-1 6zm-5 1zm-45-20zm-1 0zm30 31zm0-5zm1 3zm1 5zm5-7zm163-2zm101 4zm60 1zm34-4zm32 2zm47-3zm16 5zm58 1zm-80 32zm-22-4zm-2 5zm-12 7zm-30-13zm-13 13zm-36-8zm-10-5zm-6 13zm-20-14zm-73 10zm-7-6zm-6 2zm-1-4zm-8 7zm-5-1zm-54 0zm-36 1zm-98-15z"/></g><circle cx="1058.96" cy="680.31" r="2" fill="#000"/><path d="M855.27 1063.5H957.27" stroke="#fff" stroke-opacity=".4" stroke-width="1" stroke-dasharray="7 2 11 1 5 3 9 2" fill="none"/><path d="M865.27 1067.4H919.27" stroke="#fff" stroke-opacity=".3" stroke-width=".8" stroke-dasharray="9 2 6 1 12 3" fill="none"/><path d="M672.5 1067.5H682.5V1065.5H672.5ZM677.5 1067.5V1068.5M677.5 1065.5V1065.5M675.5 1068.5H680.5M675.5 1065.5H680.5M693.5 1067.5H703.5V1065.5H693.5ZM698.5 1067.5V1068.5M698.5 1065.5V1065.5M695.5 1068.5H700.5M695.5 1065.5H700.5M713.5 1067.5H723.5V1065.5H713.5ZM718.5 1067.5V1068.5M718.5 1065.5V1064.5M715.5 1068.5H720.5M715.5 1064.5H720.5M733.5 1067.5H743.5V1065.5H733.5ZM738.5 1067.5V1068.5M738.5 1065.5V1064.5M735.5 1068.5H740.5M735.5 1064.5H740.5M753.5 1067.5H763.5V1065.5H753.5ZM758.5 1067.5V1068.5M758.5 1065.5V1063.5M755.5 1068.5H760.5M755.5 1063.5H760.5M773.5 1067.5H783.5V1065.5H773.5ZM778.5 1067.5V1068.5M778.5 1065.5V1063.5M776.5 1068.5H781.5M776.5 1063.5H781.5M793.5 1067.5H803.5V1065.5H793.5ZM798.5 1067.5V1068.5M798.5 1065.5V1062.5M796.5 1068.5H801.5M796.5 1062.5H801.5M813.5 1067.5H823.5V1065.5H813.5ZM818.5 1067.5V1068.5M818.5 1065.5V1061.5M816.5 1068.5H821.5M816.5 1061.5H821.5M833.5 1067.5H843.5V1065.5H833.5ZM838.5 1067.5V1068.5M838.5 1065.5V1060.5M836.5 1068.5H841.5M836.5 1060.5H841.5M854.5 1067.5H864.5V1065.5H854.5ZM859.5 1067.5V1068.5M859.5 1065.5V1058.5M856.5 1068.5H861.5M856.5 1058.5H861.5M874.5 1065.5H884.5V1057.5H874.5ZM879.5 1065.5V1067.5M879.5 1057.5V1056.5M876.5 1067.5H881.5M876.5 1056.5H881.5M894.5 1064.5H904.5V1055.5H894.5ZM899.5 1064.5V1067.5M899.5 1055.5V1054.5M896.5 1067.5H901.5M896.5 1054.5H901.5M914.5 1064.5H924.5V1053.5H914.5ZM919.5 1064.5V1067.5M919.5 1053.5V1052.5M916.5 1067.5H921.5M916.5 1052.5H921.5M934.5 1064.5H944.5V1053.5H934.5ZM939.5 1064.5V1067.5M939.5 1053.5V1048.5M937.5 1067.5H942.5M937.5 1048.5H942.5M954.5 1063.5H964.5V1049.5H954.5ZM959.5 1063.5V1066.5M959.5 1049.5V1044.5M957.5 1066.5H962.5M957.5 1044.5H962.5M974.5 1063.5H984.5V1047.5H974.5ZM979.5 1063.5V1066.5M979.5 1047.5V1035.5M977.5 1066.5H982.5M977.5 1035.5H982.5M994.5 1063.5H1005.5V1043.5H994.5ZM999.5 1063.5V1066.5M999.5 1043.5V1020.5M997.5 1066.5H1002.5M997.5 1020.5H1002.5M1015.5 1063.5H1025.5V1041.5H1015.5ZM1020.5 1063.5V1066.5M1020.5 1041.5V1009.5M1017.5 1066.5H1022.5M1017.5 1009.5H1022.5M1035.5 1063.5H1045.5V1032.5H1035.5ZM1040.5 1063.5V1066.5M1040.5 1032.5V985.5M1037.5 1066.5H1042.5M1037.5 985.5H1042.5M1055.5 1062.5H1065.5V853.5H1055.5ZM1060.5 1062.5V1066.5M1060.5 853.5V680.5M1057.5 1066.5H1062.5M1057.5 680.5H1062.5M1075.5 680.5H1085.5V680.5H1075.5ZM1080.5 680.5V680.5M1080.5 680.5V680.5M1077.5 680.5H1083.5M1077.5 680.5H1083.5" fill="none" stroke="#000" stroke-width="1.389"/><path d="M672.5 1066.5H682.5M693.5 1066.5H703.5M713.5 1066.5H723.5M733.5 1066.5H743.5M753.5 1066.5H763.5M773.5 1066.5H783.5M793.5 1066.5H803.5M813.5 1066.5H823.5M833.5 1066.5H843.5M854.5 1066.5H864.5M874.5 1059.5H884.5M894.5 1057.5H904.5M914.5 1058.5H924.5M934.5 1060.5H944.5M954.5 1060.5H964.5M974.5 1061.5H984.5M994.5 1060.5H1005.5M1015.5 1060.5H1025.5M1035.5 1062.5H1045.5M1055.5 949.5H1065.5M1075.5 680.5H1085.5" fill="none" stroke="#ff7f0e" stroke-width="1.389"/></g>
<path class="tk" d="M150.5 564.5v4.86M235.5 564.5v4.86M319.5 564.5v4.86M404.5 564.5v4.86M488.5 564.5v4.86M573.5 564.5v4.86M150.5 564.5h-4.86M150.5 480.5h-4.86M150.5 396.5h-4.86M150.5 312.5h-4.86M150.5 228.5h-4.86M150.5 144.5h-4.86"/>
<rect class="sp" x="150.5" y="144.5" width="423" height="420"/>
<g class="t10" text-anchor="middle">
<text x="150" y="585.08">0.0</text>
<text x="234.55" y="585.08">0.2</text>
<text x="319.09" y="585.08">0.4</text>
<text x="403.64" y="585.08">0.6</text>
<text x="488.18" y="585.08">0.8</text>
<text x="572.73" y="585.08">1.0</text>
<text x="361.36" y="604.07">Sample 1 Rank</text>
<text transform="translate(108.95 355.3) rotate(-90)">Sample 2 Rank</text>
</g>
<g class="t10" text-anchor="end">
<text x="140.53" y="570.48">0.0</text>
<text x="140.53" y="486.48">0.2</text>
<text x="140.53" y="402.48">0.4</text>
<text x="140.53" y="318.48">0.6</text>
<text x="140.53" y="234.48">0.8</text>
<text x="140.53" y="150.48">1.0</text>
</g>
<text class="t12" text-anchor="middle" transform="translate(361.36 136.07) scale(1 1.09)">Ranks - (red &gt;= 0.05 IDR)</text>
<path class="tk" d="M672.5 564.5v4.86M741.5 564.5v4.86M810.5 564.5v4.86M879.5 564.5v4.86M948.5 564.5v4.86M1017.5 564.5v4.86M657.5 549.5h-4.86M657.5 481.5h-4.86M657.5 412.5h-4.86M657.5 343.5h-4.86M657.5 274.5h-4.86M657.5 206.5h-4.86"/>
<rect class="sp" x="657.5" y="144.5" width="423" height="420"/>
<g class="t10" text-anchor="middle">
<text x="672.32" y="585.08">0.5</text>
<text x="741.32" y="585.08">1.0</text>
<text x="810.33" y="585.08">1.5</text>
<text x="879.33" y="585.08">2.0</text>
<text x="948.34" y="585.08">2.5</text>
<text x="1017.34" y="585.08">3.0</text>
<text x="868.64" y="604.07">Sample 1 log10 Score</text>
<text transform="translate(616.22 355.3) rotate(-90)">Sample 2 log10 Score</text>
</g>
<g class="t10" text-anchor="end">
<text x="647.8" y="555.9">0.5</text>
<text x="647.8" y="487.16">1.0</text>
<text x="647.8" y="418.42">1.5</text>
<text x="647.8" y="349.68">2.0</text>
<text x="647.8" y="280.94">2.5</text>
<text x="647.8" y="212.21">3.0</text>
</g>
<text class="t12" text-anchor="middle" transform="translate(868.64 136.07) scale(1 1.09)">Log10 Scores - (red &gt;= 0.05 IDR)</text>
<path class="tk" d="M170.5 1068.5v4.86M190.5 1068.5v4.86M210.5 1068.5v4.86M231.5 1068.5v4.86M251.5 1068.5v4.86M271.5 1068.5v4.86M291.5 1068.5v4.86M311.5 1068.5v4.86M331.5 1068.5v4.86M351.5 1068.5v4.86M371.5 1068.5v4.86M392.5 1068.5v4.86M412.5 1068.5v4.86M432.5 1068.5v4.86M452.5 1068.5v4.86M472.5 1068.5v4.86M492.5 1068.5v4.86M512.5 1068.5v4.86M532.5 1068.5v4.86M553.5 1068.5v4.86M573.5 1068.5v4.86M150.5 1068.5h-4.86M150.5 1003.5h-4.86M150.5 939.5h-4.86M150.5 874.5h-4.86M150.5 810.5h-4.86M150.5 745.5h-4.86M150.5 680.5h-4.86"/>
<rect class="sp" x="150.5" y="648.5" width="423" height="420"/>
<g class="t10" text-anchor="middle">
<text x="170.13" y="1089.08">1</text>
<text x="190.26" y="1089.08">2</text>
<text x="210.39" y="1089.08">3</text>
<text x="230.52" y="1089.08">4</text>
<text x="250.65" y="1089.08">5</text>
<text x="270.78" y="1089.08">6</text>
<text x="290.91" y="1089.08">7</text>
<text x="311.04" y="1089.08">8</text>
<text x="331.17" y="1089.08">9</text>
<text x="351.3" y="1089.08">10</text>
<text x="371.43" y="1089.08">11</text>
<text x="391.56" y="1089.08">12</text>
<text x="411.69" y="1089.08">13</text>
<text x="431.82" y="1089.08">14</text>
<text x="451.95" y="1089.08">15</text>
<text x="472.08" y="1089.08">16</text>
<text x="492.21" y="1089.08">17</text>
<text x="512.34" y="1089.08">18</text>
<text x="532.47" y="1089.08">19</text>
<text x="552.6" y="1089.08">20</text>
<text x="572.73" y="1089.08">21</text>
<text x="361.36" y="1108.07">Sample 1 Peak Rank</text>
<text transform="translate(122.2 859.3) rotate(-90)">-log10 IDR</text>
</g>
<g class="t10" text-anchor="end">
<text x="140.53" y="1074.48">0</text>
<text x="140.53" y="1009.86">1</text>
<text x="140.53" y="945.25">2</text>
<text x="140.53" y="880.63">3</text>
<text x="140.53" y="816.02">4</text>
<text x="140.53" y="751.4">5</text>
<text x="140.53" y="686.78">6</text>
</g>
<text class="t12" text-anchor="middle" transform="translate(361.36 640.07) scale(1 1.09)">Sample 1 Ranks vs IDR Values</text>
<path class="tk" d="M677.5 1068.5v4.86M698.5 1068.5v4.86M718.5 1068.5v4.86M738.5 1068.5v4.86M758.5 1068.5v4.86M778.5 1068.5v4.86M798.5 1068.5v4.86M818.5 1068.5v4.86M838.5 1068.5v4.86M859.5 1068.5v4.86M879.5 1068.5v4.86M899.5 1068.5v4.86M919.5 1068.5v4.86M939.5 1068.5v4.86M959.5 1068.5v4.86M979.5 1068.5v4.86M999.5 1068.5v4.86M1020.5 1068.5v4.86M1040.5 1068.5v4.86M1060.5 1068.5v4.86M1080.5 1068.5v4.86M657.5 1068.5h-4.86M657.5 1003.5h-4.86M657.5 939.5h-4.86M657.5 874.5h-4.86M657.5 810.5h-4.86M657.5 745.5h-4.86M657.5 680.5h-4.86"/>
<rect class="sp" x="657.5" y="648.5" width="423" height="420"/>
<g class="t10" text-anchor="middle">
<text x="677.4" y="1089.08">1</text>
<text x="697.53" y="1089.08">2</text>
<text x="717.66" y="1089.08">3</text>
<text x="737.79" y="1089.08">4</text>
<text x="757.92" y="1089.08">5</text>
<text x="778.05" y="1089.08">6</text>
<text x="798.18" y="1089.08">7</text>
<text x="818.31" y="1089.08">8</text>
<text x="838.44" y="1089.08">9</text>
<text x="858.57" y="1089.08">10</text>
<text x="878.7" y="1089.08">11</text>
<text x="898.83" y="1089.08">12</text>
<text x="918.96" y="1089.08">13</text>
<text x="939.09" y="1089.08">14</text>
<text x="959.22" y="1089.08">15</text>
<text x="979.35" y="1089.08">16</text>
<text x="999.48" y="1089.08">17</text>
<text x="1019.61" y="1089.08">18</text>
<text x="1039.74" y="1089.08">19</text>
<text x="1059.87" y="1089.08">20</text>
<text x="1080" y="1089.08">21</text>
<text x="868.64" y="1108.07">Sample 2 Peak Rank</text>
<text transform="translate(629.47 859.3) rotate(-90)">-log10 IDR</text>
</g>
<g class="t10" text-anchor="end">
<text x="647.8" y="1074.48">0</text>
<text x="647.8" y="1009.86">1</text>
<text x="647.8" y="945.25">2</text>
<text x="647.8" y="880.63">3</text>
<text x="647.8" y="816.02">4</text>
<text x="647.8" y="751.4">5</text>
<text x="647.8" y="686.78">6</text>
</g>
<text class="t12" text-anchor="middle" transform="translate(868.64 640.07) scale(1 1.09)">Sample 2 Ranks vs IDR Values</text>
</svg></body></html>
